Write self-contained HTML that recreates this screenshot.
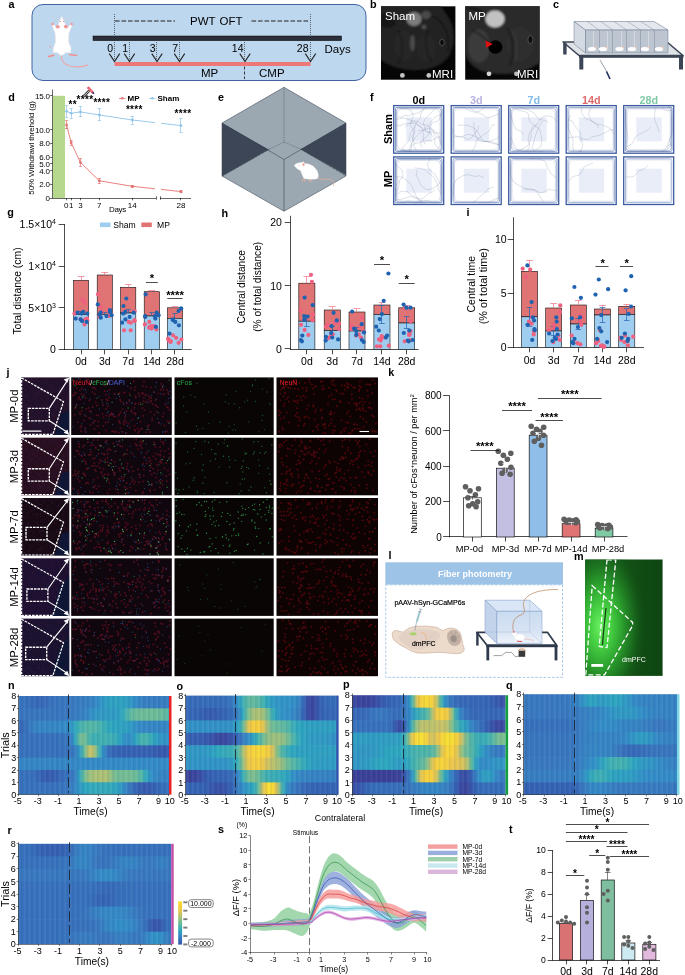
<!DOCTYPE html>
<html lang="en"><head><meta charset="utf-8"><title>Figure</title>
<style>
html,body{margin:0;padding:0;background:#fff;}
body{width:685px;height:975px;overflow:hidden;}
svg{display:block;font-family:"Liberation Sans",sans-serif;}
</style></head><body>
<svg width="685" height="975" viewBox="0 0 685 975">
<rect width="685" height="975" fill="#fff"/>
<g id="p_abc">
<text x="8.5" y="8.4" font-size="10.8" font-weight="bold">a</text>
<rect x="32" y="4.5" width="334" height="76" rx="11" ry="11" fill="#bdd7ee" stroke="#2f5597" stroke-width="0.9"/>
<rect x="93" y="36" width="248.5" height="4.6" fill="#2b2f3a" stroke="#000" stroke-width="0.5"/>
<rect x="114.5" y="62" width="196" height="4" fill="#ee7777"/>
<line x1="114.5" y1="14" x2="114.5" y2="60" stroke="#333" stroke-width="0.7" stroke-dasharray="1 1"/>
<path d="M109.3 53.6L114.5 61.6L119.7 53.6" fill="none" stroke="#222" stroke-width="1.1"/>
<line x1="129.5" y1="42" x2="129.5" y2="60" stroke="#333" stroke-width="0.7" stroke-dasharray="1 1"/>
<path d="M124.3 53.6L129.5 61.6L134.7 53.6" fill="none" stroke="#222" stroke-width="1.1"/>
<line x1="156.5" y1="42" x2="156.5" y2="60" stroke="#333" stroke-width="0.7" stroke-dasharray="1 1"/>
<path d="M151.8 53.6L157 61.6L162.2 53.6" fill="none" stroke="#222" stroke-width="1.1"/>
<line x1="179.5" y1="42" x2="179.5" y2="60" stroke="#333" stroke-width="0.7" stroke-dasharray="1 1"/>
<path d="M174.3 53.6L179.5 61.6L184.7 53.6" fill="none" stroke="#222" stroke-width="1.1"/>
<line x1="244.5" y1="42" x2="244.5" y2="60" stroke="#333" stroke-width="0.7" stroke-dasharray="1 1"/>
<path d="M239.8 53.6L245 61.6L250.2 53.6" fill="none" stroke="#222" stroke-width="1.1"/>
<line x1="310.5" y1="14" x2="310.5" y2="60" stroke="#333" stroke-width="0.7" stroke-dasharray="1 1"/>
<path d="M305.3 53.6L310.5 61.6L315.7 53.6" fill="none" stroke="#222" stroke-width="1.1"/>
<line x1="115" y1="21" x2="175" y2="21" stroke="#222" stroke-width="1.2" stroke-dasharray="4.6 1.9"/>
<line x1="251.5" y1="21" x2="310" y2="21" stroke="#222" stroke-width="1.2" stroke-dasharray="4.6 1.9"/>
<text x="190" y="25" font-size="11.5" word-spacing="1">PWT OFT</text>
<text x="113" y="52" font-size="10.5" text-anchor="end">0</text>
<text x="128" y="52" font-size="10.5" text-anchor="end">1</text>
<text x="155.5" y="52" font-size="10.5" text-anchor="end">3</text>
<text x="178" y="52" font-size="10.5" text-anchor="end">7</text>
<text x="243.5" y="52" font-size="10.5" text-anchor="end">14</text>
<text x="308.5" y="52" font-size="10.5" text-anchor="end">28</text>
<text x="324.5" y="53" font-size="11.5">Days</text>
<text x="201" y="77" font-size="11.5">MP</text>
<text x="259" y="77" font-size="11.5">CMP</text>
<line x1="244.5" y1="66.5" x2="244.5" y2="79" stroke="#222" stroke-width="0.9" stroke-dasharray="3 2"/>
<g>
<path d="M61.5 55.5C61 60 63.5 64.5 70 66C76 67.2 82 67.5 87.5 65" fill="none" stroke="#f0a3a3" stroke-width="1.1" stroke-linecap="round"/>
<path d="M54 55.2L48.5 56.6M69.6 54.6L76.6 55.6" stroke="#f08f8f" stroke-width="1.5" stroke-linecap="round"/>
<path d="M49 45l2 3" stroke="#f0a3a3" stroke-width="0.8"/>
<path d="M61.7 16.2L58.3 24.5L56.8 28.5L53.8 24.5L52.2 25.5L55.2 33.5L55.6 42L53.4 48L53.2 52.5L57 52.5L61.5 55.8L66 52.5L70.8 52.5L71 48L68.6 42L68.8 33.5L72 25.5L70.4 24.5L67 28.5L65.4 24.5Z" fill="#fff" stroke="#f1e4e4" stroke-width="0.5" stroke-linejoin="round"/>
<ellipse cx="57.8" cy="26.8" rx="2" ry="1.8" fill="#f09a9a"/><ellipse cx="65.8" cy="26.6" rx="2" ry="1.8" fill="#f09a9a"/>
<circle cx="52.6" cy="24" r="1.3" fill="#f09a9a"/><circle cx="71.6" cy="24" r="1.3" fill="#f09a9a"/>
<circle cx="60.4" cy="21.6" r="0.5" fill="#e06060"/><circle cx="63.6" cy="21.6" r="0.5" fill="#e06060"/>
<path d="M52 17.5l8 2M53 20.5l7-.5M71 17.5l-8 2M71 20.5l-7-.5" stroke="#d9cfd6" stroke-width="0.3" fill="none"/>
</g>
<text x="370" y="8.3" font-size="10.8" font-weight="bold">b</text>
<defs><filter id="bl1" x="-20%" y="-20%" width="140%" height="140%"><feGaussianBlur stdDeviation="1.2"/></filter><filter id="bl2" x="-20%" y="-20%" width="140%" height="140%"><feGaussianBlur stdDeviation="0.6"/></filter><clipPath id="cb1"><rect x="381" y="6.3" width="74.4" height="73.4"/></clipPath><clipPath id="cb2"><rect x="465.2" y="6.3" width="74.4" height="73.4"/></clipPath></defs>
<rect x="381" y="6.3" width="74.4" height="73.4" fill="#060606"/>
<g clip-path="url(#cb1)"><g filter="url(#bl1)">
<path d="M378 4L378 58C388 67 404 71 420 70C434 69 446 64 451 52C456 40 455 26 447 15C444 10 441 6 438 2Z" fill="#212121"/>
<path d="M381 14C388 12 394 16 396 24C392 28 384 28 381 26Z" fill="#141414"/>
<ellipse cx="404" cy="46" rx="10" ry="15" fill="#272727"/>
<ellipse cx="426" cy="48" rx="10" ry="14" fill="#252525"/>
<ellipse cx="414" cy="19" rx="7.5" ry="7" fill="#7c7c7c"/>
<ellipse cx="426" cy="15" rx="5" ry="4" fill="#4a4a4a"/>
<ellipse cx="412.5" cy="43" rx="2.2" ry="8" fill="#4e4e4e"/>
<ellipse cx="424" cy="27" rx="2.4" ry="2" fill="#555"/>
<path d="M432 16C444 20 450 34 448 52" fill="none" stroke="#161616" stroke-width="1.4"/>
<path d="M398 30C404 40 404 54 398 64M428 30C424 42 426 54 432 62" fill="none" stroke="#181818" stroke-width="1.2"/>
</g>
<ellipse cx="442" cy="42.5" rx="2.3" ry="3.4" fill="#0c0c0c" stroke="#4c4c4c" stroke-width="1" filter="url(#bl2)"/>
<circle cx="402.4" cy="75.4" r="2.4" fill="#c4c4c4"/><circle cx="428.8" cy="75.4" r="2.4" fill="#c4c4c4"/>
</g>
<text x="385" y="20" font-size="11.5" fill="#fff">Sham</text>
<text x="432" y="77.5" font-size="11.5" fill="#fff">MRI</text>
<rect x="465.2" y="6.3" width="74.4" height="73.4" fill="#060606"/>
<g clip-path="url(#cb2)"><g filter="url(#bl1)">
<path d="M462 2L543 2L543 60C532 70 516 75 500 74C488 74 478 71 472 65C467 60 464 54 462 46Z" fill="#292929"/>
<ellipse cx="479" cy="46" rx="11" ry="17" fill="#3a3a3a"/>
<ellipse cx="520" cy="44" rx="14" ry="18" fill="#2d2d2d"/>
<ellipse cx="495" cy="19" rx="9.6" ry="8.4" fill="#c2c2c2"/>
<path d="M506 28C514 34 514 54 510 66" fill="none" stroke="#141414" stroke-width="1.5"/>
<path d="M511 30C518 38 518 52 515 62" fill="none" stroke="#444" stroke-width="0.8"/>
<path d="M472 30C480 34 487 38 489 44" fill="none" stroke="#161616" stroke-width="1.3"/>
<path d="M466 8C474 8 482 10 486 16" fill="none" stroke="#151515" stroke-width="2"/>
</g>
<ellipse cx="495.4" cy="47" rx="7" ry="6.8" fill="#020202" filter="url(#bl2)"/>
<ellipse cx="530.4" cy="39.6" rx="2.6" ry="4" fill="#101010" stroke="#505050" stroke-width="1" filter="url(#bl2)"/>
<circle cx="489" cy="73.8" r="2.4" fill="#d4d4d4"/><circle cx="516.4" cy="73.8" r="2.4" fill="#bdbdbd"/>
<path d="M485.3 40.6L492.8 44L486.4 47.8Z" fill="#e01010"/>
</g>
<text x="468.5" y="20" font-size="11.5" fill="#fff">MP</text>
<text x="517" y="77.5" font-size="11.5" fill="#fff">MRI</text>
<text x="553" y="8.2" font-size="10.8" font-weight="bold">c</text>
<path d="M563 42L667 42L683 55.5L579 55.5Z" fill="#dfe3e8" stroke="#3b4556" stroke-width="1.6" stroke-linejoin="round"/>
<rect x="579" y="55" width="104.5" height="2.8" fill="#3b4556"/>
<rect x="579.3" y="57" width="4" height="12.5" fill="#3b4556"/>
<rect x="679" y="57" width="4" height="12.5" fill="#3b4556"/>
<rect x="563.2" y="43" width="3.4" height="11.5" fill="#3b4556"/>
<path d="M574 21.5L654 21.5L668 30L668 53L585.5 53L574 44Z" fill="#c4ccd6" opacity="0.92"/>
<path d="M574 21.5L654 21.5L668 30L585.5 30Z" fill="#e4e8ee" stroke="#6b7890" stroke-width="0.5"/>
<path d="M574 21.5L585.5 30L585.5 53L574 44Z" fill="#d4dae2" stroke="#6b7890" stroke-width="0.5"/>
<path d="M585.5 30H668V53H585.5Z" fill="#bcc5d0" stroke="#6b7890" stroke-width="0.5"/>
<line x1="599.5" y1="30" x2="599.5" y2="53" stroke="#7c879b" stroke-width="0.5"/>
<line x1="587.3" y1="21.5" x2="599.2" y2="30" stroke="#7c879b" stroke-width="0.45"/>
<line x1="593.5" y1="31" x2="593.5" y2="49" stroke="#d5dbe3" stroke-width="0.9"/>
<line x1="612.5" y1="30" x2="612.5" y2="53" stroke="#7c879b" stroke-width="0.5"/>
<line x1="600.7" y1="21.5" x2="613.0" y2="30" stroke="#7c879b" stroke-width="0.45"/>
<line x1="607.5" y1="31" x2="607.5" y2="49" stroke="#d5dbe3" stroke-width="0.9"/>
<line x1="626.5" y1="30" x2="626.5" y2="53" stroke="#7c879b" stroke-width="0.5"/>
<line x1="614.0" y1="21.5" x2="626.8" y2="30" stroke="#7c879b" stroke-width="0.45"/>
<line x1="621.5" y1="31" x2="621.5" y2="49" stroke="#d5dbe3" stroke-width="0.9"/>
<line x1="640.5" y1="30" x2="640.5" y2="53" stroke="#7c879b" stroke-width="0.5"/>
<line x1="627.3" y1="21.5" x2="640.5" y2="30" stroke="#7c879b" stroke-width="0.45"/>
<line x1="634.5" y1="31" x2="634.5" y2="49" stroke="#d5dbe3" stroke-width="0.9"/>
<line x1="654.5" y1="30" x2="654.5" y2="53" stroke="#7c879b" stroke-width="0.5"/>
<line x1="640.7" y1="21.5" x2="654.2" y2="30" stroke="#7c879b" stroke-width="0.45"/>
<line x1="648.5" y1="31" x2="648.5" y2="49" stroke="#d5dbe3" stroke-width="0.9"/>
<ellipse cx="592" cy="49" rx="4.2" ry="2.1" fill="#fff"/><circle cx="595.4" cy="47.6" r="1" fill="#f6c9b8"/>
<ellipse cx="603" cy="49" rx="4.2" ry="2.1" fill="#fff"/><circle cx="606.4" cy="47.6" r="1" fill="#f6c9b8"/>
<ellipse cx="619.5" cy="49" rx="4.2" ry="2.1" fill="#fff"/><circle cx="622.9" cy="47.6" r="1" fill="#f6c9b8"/>
<ellipse cx="632" cy="49" rx="4.2" ry="2.1" fill="#fff"/><circle cx="635.4" cy="47.6" r="1" fill="#f6c9b8"/>
<ellipse cx="645" cy="49" rx="4.2" ry="2.1" fill="#fff"/><circle cx="648.4" cy="47.6" r="1" fill="#f6c9b8"/>
<ellipse cx="659" cy="49" rx="4.2" ry="2.1" fill="#fff"/><circle cx="662.4" cy="47.6" r="1" fill="#f6c9b8"/>
<line x1="600" y1="60" x2="607" y2="72" stroke="#5a6478" stroke-width="0.6"/>
<line x1="606.5" y1="71.5" x2="610" y2="79" stroke="#1f2d5a" stroke-width="1.6"/>
</g>
<g id="p_def">
<text x="8.2" y="101" font-size="10.8" font-weight="bold">d</text>
<rect x="53" y="95.8" width="12" height="102.2" fill="#b5d88c"/>
<line x1="52.5" y1="89.5" x2="52.5" y2="198.3" stroke="#000" stroke-width="0.6"/>
<line x1="52.3" y1="198.5" x2="156" y2="198.5" stroke="#000" stroke-width="0.6"/>
<line x1="160" y1="198.5" x2="191" y2="198.5" stroke="#000" stroke-width="0.6"/>
<line x1="156.5" y1="196.3" x2="156.5" y2="199.7" stroke="#000" stroke-width="0.6"/>
<line x1="160.5" y1="196.3" x2="160.5" y2="199.7" stroke="#000" stroke-width="0.6"/>
<line x1="50.2" y1="95.5" x2="52.5" y2="95.5" stroke="#000" stroke-width="0.6"/>
<text x="49.8" y="98.7" font-size="8" text-anchor="end" letter-spacing="-0.2">15.0</text>
<line x1="50.2" y1="129.5" x2="52.5" y2="129.5" stroke="#000" stroke-width="0.6"/>
<text x="49.8" y="132.8" font-size="8" text-anchor="end" letter-spacing="-0.2">10.0</text>
<line x1="50.2" y1="143.5" x2="52.5" y2="143.5" stroke="#000" stroke-width="0.6"/>
<text x="49.8" y="146.4" font-size="8" text-anchor="end" letter-spacing="-0.2">8.0</text>
<line x1="50.2" y1="157.5" x2="52.5" y2="157.5" stroke="#000" stroke-width="0.6"/>
<text x="49.8" y="160.0" font-size="8" text-anchor="end" letter-spacing="-0.2">6.0</text>
<line x1="50.2" y1="163.5" x2="52.5" y2="163.5" stroke="#000" stroke-width="0.6"/>
<text x="49.8" y="166.8" font-size="8" text-anchor="end" letter-spacing="-0.2">5.0</text>
<line x1="50.2" y1="170.5" x2="52.5" y2="170.5" stroke="#000" stroke-width="0.6"/>
<text x="49.8" y="173.6" font-size="8" text-anchor="end" letter-spacing="-0.2">4.0</text>
<line x1="50.2" y1="184.5" x2="52.5" y2="184.5" stroke="#000" stroke-width="0.6"/>
<text x="49.8" y="187.3" font-size="8" text-anchor="end" letter-spacing="-0.2">2.0</text>
<line x1="50.2" y1="198.5" x2="52.5" y2="198.5" stroke="#000" stroke-width="0.6"/>
<text x="49.8" y="200.9" font-size="8" text-anchor="end" letter-spacing="-0.2">0</text>
<line x1="66.5" y1="198" x2="66.5" y2="200.3" stroke="#000" stroke-width="0.6"/>
<line x1="71.5" y1="198" x2="71.5" y2="200.3" stroke="#000" stroke-width="0.6"/>
<line x1="80.5" y1="198" x2="80.5" y2="200.3" stroke="#000" stroke-width="0.6"/>
<line x1="99.5" y1="198" x2="99.5" y2="200.3" stroke="#000" stroke-width="0.6"/>
<line x1="132.5" y1="198" x2="132.5" y2="200.3" stroke="#000" stroke-width="0.6"/>
<line x1="180.5" y1="198" x2="180.5" y2="200.3" stroke="#000" stroke-width="0.6"/>
<text x="66.2" y="207.6" font-size="8" text-anchor="middle">0</text>
<text x="71.2" y="207.6" font-size="8" text-anchor="middle">1</text>
<text x="80.4" y="207.6" font-size="8" text-anchor="middle">3</text>
<text x="99.3" y="207.6" font-size="8" text-anchor="middle">7</text>
<text x="132.3" y="207.6" font-size="8" text-anchor="middle">14</text>
<text x="181" y="207.6" font-size="8" text-anchor="middle">28</text>
<text x="117.5" y="211.5" font-size="8" text-anchor="middle" letter-spacing="-0.3">Days</text>
<text x="33.6" y="148" font-size="8" text-anchor="middle" transform="rotate(-90 33.6 148)" letter-spacing="-0.12">50% Withdrawl threhold (g)</text>
<path d="M66.6 111.3L71.2 113.3L80.4 111.9L99.3 115L132.3 120L155 122.6M161 123.3L181 125.6" fill="none" stroke="#8ec4ea" stroke-width="0.9"/>
<line x1="66.5" y1="105.3" x2="66.5" y2="117.3" stroke="#8ec4ea" stroke-width="0.7"/>
<line x1="65.0" y1="105.5" x2="68.19999999999999" y2="105.5" stroke="#8ec4ea" stroke-width="0.7"/>
<line x1="65.0" y1="117.5" x2="68.19999999999999" y2="117.5" stroke="#8ec4ea" stroke-width="0.7"/>
<circle cx="66.6" cy="111.3" r="1.4" fill="#8ec4ea"/>
<line x1="71.5" y1="108.3" x2="71.5" y2="118.3" stroke="#8ec4ea" stroke-width="0.7"/>
<line x1="69.60000000000001" y1="108.5" x2="72.8" y2="108.5" stroke="#8ec4ea" stroke-width="0.7"/>
<line x1="69.60000000000001" y1="118.5" x2="72.8" y2="118.5" stroke="#8ec4ea" stroke-width="0.7"/>
<circle cx="71.2" cy="113.3" r="1.4" fill="#8ec4ea"/>
<line x1="80.5" y1="106.9" x2="80.5" y2="116.9" stroke="#8ec4ea" stroke-width="0.7"/>
<line x1="78.80000000000001" y1="106.5" x2="82.0" y2="106.5" stroke="#8ec4ea" stroke-width="0.7"/>
<line x1="78.80000000000001" y1="116.5" x2="82.0" y2="116.5" stroke="#8ec4ea" stroke-width="0.7"/>
<circle cx="80.4" cy="111.9" r="1.4" fill="#8ec4ea"/>
<line x1="99.5" y1="109" x2="99.5" y2="121" stroke="#8ec4ea" stroke-width="0.7"/>
<line x1="97.7" y1="108.5" x2="100.89999999999999" y2="108.5" stroke="#8ec4ea" stroke-width="0.7"/>
<line x1="97.7" y1="120.5" x2="100.89999999999999" y2="120.5" stroke="#8ec4ea" stroke-width="0.7"/>
<circle cx="99.3" cy="115" r="1.4" fill="#8ec4ea"/>
<line x1="132.5" y1="116" x2="132.5" y2="124" stroke="#8ec4ea" stroke-width="0.7"/>
<line x1="130.70000000000002" y1="116.5" x2="133.9" y2="116.5" stroke="#8ec4ea" stroke-width="0.7"/>
<line x1="130.70000000000002" y1="124.5" x2="133.9" y2="124.5" stroke="#8ec4ea" stroke-width="0.7"/>
<circle cx="132.3" cy="120" r="1.4" fill="#8ec4ea"/>
<line x1="180.5" y1="118.6" x2="180.5" y2="132.6" stroke="#8ec4ea" stroke-width="0.7"/>
<line x1="179.4" y1="118.5" x2="182.6" y2="118.5" stroke="#8ec4ea" stroke-width="0.7"/>
<line x1="179.4" y1="132.5" x2="182.6" y2="132.5" stroke="#8ec4ea" stroke-width="0.7"/>
<circle cx="181" cy="125.6" r="1.4" fill="#8ec4ea"/>
<path d="M66.6 125L71.2 142.8L80.4 162.4L99.3 180.8L132.3 186.3L155 188.8M161 189.4L181 191.6" fill="none" stroke="#e57373" stroke-width="0.9"/>
<line x1="66.5" y1="121" x2="66.5" y2="129" stroke="#e57373" stroke-width="0.7"/>
<line x1="65.0" y1="120.5" x2="68.19999999999999" y2="120.5" stroke="#e57373" stroke-width="0.7"/>
<line x1="65.0" y1="128.5" x2="68.19999999999999" y2="128.5" stroke="#e57373" stroke-width="0.7"/>
<circle cx="66.6" cy="125" r="1.4" fill="#e57373"/>
<line x1="71.5" y1="140.4" x2="71.5" y2="145.2" stroke="#e57373" stroke-width="0.7"/>
<line x1="69.60000000000001" y1="140.5" x2="72.8" y2="140.5" stroke="#e57373" stroke-width="0.7"/>
<line x1="69.60000000000001" y1="145.5" x2="72.8" y2="145.5" stroke="#e57373" stroke-width="0.7"/>
<circle cx="71.2" cy="142.8" r="1.4" fill="#e57373"/>
<line x1="80.5" y1="158.4" x2="80.5" y2="166.4" stroke="#e57373" stroke-width="0.7"/>
<line x1="78.80000000000001" y1="158.5" x2="82.0" y2="158.5" stroke="#e57373" stroke-width="0.7"/>
<line x1="78.80000000000001" y1="166.5" x2="82.0" y2="166.5" stroke="#e57373" stroke-width="0.7"/>
<circle cx="80.4" cy="162.4" r="1.4" fill="#e57373"/>
<line x1="99.5" y1="178.2" x2="99.5" y2="183.4" stroke="#e57373" stroke-width="0.7"/>
<line x1="97.7" y1="178.5" x2="100.89999999999999" y2="178.5" stroke="#e57373" stroke-width="0.7"/>
<line x1="97.7" y1="183.5" x2="100.89999999999999" y2="183.5" stroke="#e57373" stroke-width="0.7"/>
<circle cx="99.3" cy="180.8" r="1.4" fill="#e57373"/>
<line x1="132.5" y1="185.1" x2="132.5" y2="187.5" stroke="#e57373" stroke-width="0.7"/>
<line x1="130.70000000000002" y1="185.5" x2="133.9" y2="185.5" stroke="#e57373" stroke-width="0.7"/>
<line x1="130.70000000000002" y1="187.5" x2="133.9" y2="187.5" stroke="#e57373" stroke-width="0.7"/>
<circle cx="132.3" cy="186.3" r="1.4" fill="#e57373"/>
<line x1="180.5" y1="190.6" x2="180.5" y2="192.6" stroke="#e57373" stroke-width="0.7"/>
<line x1="179.4" y1="190.5" x2="182.6" y2="190.5" stroke="#e57373" stroke-width="0.7"/>
<line x1="179.4" y1="192.5" x2="182.6" y2="192.5" stroke="#e57373" stroke-width="0.7"/>
<circle cx="181" cy="191.6" r="1.4" fill="#e57373"/>
<line x1="119" y1="98.5" x2="125.5" y2="98.5" stroke="#e57373" stroke-width="0.8"/>
<circle cx="122.3" cy="98.2" r="1.2" fill="#e57373"/>
<text x="127.5" y="101" font-size="8" font-weight="bold">MP</text>
<line x1="149" y1="98.5" x2="155.5" y2="98.5" stroke="#8ec4ea" stroke-width="0.8"/>
<circle cx="152.3" cy="98.2" r="1.2" fill="#8ec4ea"/>
<text x="157.5" y="101" font-size="8" font-weight="bold">Sham</text>
<text x="72.8" y="107.5" font-size="10" text-anchor="middle" font-weight="bold" letter-spacing="0.3">**</text>
<text x="85" y="103" font-size="10" text-anchor="middle" font-weight="bold" letter-spacing="0.3">****</text>
<text x="101.8" y="105.5" font-size="10" text-anchor="middle" font-weight="bold" letter-spacing="0.3">****</text>
<text x="134.3" y="113" font-size="10" text-anchor="middle" font-weight="bold" letter-spacing="0.3">****</text>
<text x="183" y="116.5" font-size="10" text-anchor="middle" font-weight="bold" letter-spacing="0.3">****</text>
<path d="M83.4 96.6L89.2 90.6" stroke="#222" stroke-width="2.4"/><path d="M83.6 96.4L89 90.8" stroke="#fff" stroke-width="1.2" stroke-dasharray="0.7 0.6"/>
<path d="M88.4 87.9L92.6 92.4" stroke="#e2606a" stroke-width="2.6" stroke-linecap="round"/>
<path d="M88.6 88.1L92.4 92.2" stroke="#f4b0b4" stroke-width="0.9" stroke-dasharray="0.6 0.6"/>
<path d="M92.6 92.2L94 93.8" stroke="#1f2d6a" stroke-width="1.3"/>
<text x="218" y="101" font-size="10.8" font-weight="bold">e</text>
<path d="M284 87.3L346 123L346 176L284 211.3L222 176L222 123Z" fill="#9ba8b2" stroke="#2e3644" stroke-width="0.5" stroke-linejoin="round"/>
<path d="M222 123L268.6 149.6L222 176Z" fill="#3d4656"/>
<path d="M346 123L300.7 149.2L346 175Z" fill="#3d4656"/>
<path d="M222 123L284 159.5L346 123M284 159.5L284 211" fill="none" stroke="#2e3644" stroke-width="0.5"/>
<path d="M284 87.5L284 142L268.6 149.6L222 176M284 142L300.7 149.2L346 176" fill="none" stroke="#2e3644" stroke-width="0.5" stroke-dasharray="0.8 0.8"/>
<path d="M317.4 177.8C322 180.8 328 178.2 332.8 180.2C334 181.6 333.6 184 333.4 186" fill="none" stroke="#e8b09a" stroke-width="0.7"/>
<path d="M303.6 178.4l-1.6 2.7M305.2 178.8l-1 2.6M311 179.2l-2.2 1.8l3.2 0" stroke="#e8ae98" stroke-width="0.9" stroke-linecap="round" fill="none"/>
<path d="M294.3 165.4C295.5 163.2 299.5 162.4 302 162.6L303.2 161.4L304.6 163.4C310 163.2 316.4 167 317.8 172.6C318.8 176 318.6 178.6 316 179C312 179.6 307 179.4 304 178.6C302.4 176 301.6 173 300.4 170.6C298 169.4 295.4 167.6 294.3 165.4Z" fill="#fff" stroke="#ebe4e4" stroke-width="0.35"/>
<ellipse cx="303.5" cy="164.6" rx="1.2" ry="1.7" fill="#eeb0a0"/><circle cx="299" cy="165.2" r="0.42" fill="#d04848"/>
<path d="M300.7 149.2L346 175.6M268.6 149.8L222 176.4" stroke="#222" stroke-width="0.5" stroke-dasharray="0.8 0.9" fill="none"/>
<text x="370" y="101" font-size="10.8" font-weight="bold">f</text>
<text x="418.7" y="103.8" font-size="10.8" text-anchor="middle" font-weight="bold">0d</text>
<text x="476.2" y="103.8" font-size="10.8" text-anchor="middle" font-weight="bold" fill="#b7b2e2">3d</text>
<text x="533.7" y="103.8" font-size="10.8" text-anchor="middle" font-weight="bold" fill="#84b9e8">7d</text>
<text x="591.2" y="103.8" font-size="10.8" text-anchor="middle" font-weight="bold" fill="#e06a6a">14d</text>
<text x="648.7" y="103.8" font-size="10.8" text-anchor="middle" font-weight="bold" fill="#7fc9a4">28d</text>
<text x="391.5" y="129" font-size="11" text-anchor="middle" font-weight="bold" transform="rotate(-90 391.5 129)">Sham</text>
<text x="391.5" y="179" font-size="11" text-anchor="middle" font-weight="bold" transform="rotate(-90 391.5 179)">MP</text>
<rect x="393.7" y="105.6" width="50" height="47.6" fill="#fff" stroke="#3b5aa0" stroke-width="1.3"/>
<rect x="406.3" y="117.4" width="25.4" height="24" fill="#e9edf8"/>
<rect x="395.4" y="107.3" width="46.6" height="44.2" rx="1.5" fill="none" stroke="#3f5ea4" stroke-width="0.65" opacity="1.0"/>
<rect x="396.3" y="108.2" width="44.9" height="42.5" rx="3.1" fill="none" stroke="#3f5ea4" stroke-width="0.65" opacity="0.68"/>
<rect x="397.2" y="109.1" width="42.9" height="40.5" rx="4.7" fill="none" stroke="#3f5ea4" stroke-width="0.65" opacity="0.36"/>
<path d="M416.5 151.2L413.9 145.6L414.0 142.2L413.0 138.8L414.4 132.5L410.4 125.7L411.8 119.5L413.3 116.1L411.3 110.8L407.8 108.9L404.7 108.7L399.5 108.5M441.7 135.5L435.9 138.0L431.0 141.0L427.7 140.5L421.1 142.3L418.0 143.0L414.5 143.5L411.3 146.6L410.9 149.6L409.3 151.4L406.4 151.4M440.8 151.2L435.1 151.4L431.7 151.4L431.4 151.4L429.0 151.4L426.3 151.4L421.7 151.4L417.9 151.4L410.2 151.4L405.2 150.5L400.2 150.5M441.7 145.3L438.6 138.5L434.8 135.4L432.8 129.5L426.3 124.9L422.1 124.3L418.2 121.7L415.0 120.8L409.5 123.1L405.3 127.4M424.3 107.6L420.6 113.9L420.5 117.7L416.1 123.2L415.0 127.0L410.3 133.1L409.0 140.8L404.8 145.0L402.6 147.8L403.3 151.4L406.4 151.4L411.9 151.4M409.2 151.2L410.3 145.9L413.0 140.5L412.1 136.5L414.9 130.4L413.7 125.5M441.7 115.3L438.2 115.4L433.9 118.4L429.7 123.5L424.5 129.3L418.7 134.2L415.2 137.4L413.6 140.2L411.4 142.8L411.5 147.3M441.7 110.9L439.8 118.3L437.7 121.3L433.1 122.2L429.6 126.3L429.4 133.6L427.3 135.9L425.2 138.2L421.1 140.9L420.4 144.1L421.9 147.4M436.2 107.6L432.4 111.3L428.6 115.6L424.8 119.7L423.3 122.8L425.7 130.2L431.3 134.3L434.6 138.5L434.8 143.4L438.3 148.3L441.9 151.4M426.1 107.6L422.8 110.3L416.6 113.5L412.6 113.8L409.0 115.9L405.0 115.3L400.7 117.3L397.6 116.7M395.7 119.7L403.1 117.8L407.8 119.2L413.9 121.2L419.5 125.7L422.5 129.2L423.3 133.5L423.3 139.9L425.0 144.4M395.7 125.3L399.8 125.9L402.8 124.5L407.9 123.4L414.2 123.3L421.1 126.9L423.9 129.7L426.8 132.3L432.2 132.0L435.9 133.2L440.6 132.8L441.9 134.2M441.7 142.1L438.3 135.5L435.1 131.3L428.3 128.2L422.9 130.3L417.4 130.9" fill="none" stroke="#5a6a94" stroke-width="0.28" stroke-linejoin="round" opacity="0.75"/>
<rect x="451.2" y="105.6" width="50" height="47.6" fill="#fff" stroke="#3b5aa0" stroke-width="1.3"/>
<rect x="463.8" y="117.4" width="25.4" height="24" fill="#e9edf8"/>
<rect x="453.0" y="107.4" width="46.4" height="44.0" rx="1.5" fill="none" stroke="#3f5ea4" stroke-width="0.65" opacity="0.85"/>
<rect x="453.7" y="108.1" width="45.0" height="42.6" rx="3.1" fill="none" stroke="#3f5ea4" stroke-width="0.65" opacity="0.53"/>
<rect x="454.5" y="108.9" width="43.3" height="40.9" rx="4.7" fill="none" stroke="#3f5ea4" stroke-width="0.65" opacity="0.21"/>
<path d="M499.2 145.4L495.6 143.2L492.4 142.0L484.5 141.5L481.4 138.5L480.0 135.8L478.6 132.9L475.2 129.1L468.5 125.4L461.2 125.1L458.0 125.3M484.8 107.6L480.2 110.8L475.3 112.4L469.6 110.8L464.0 107.4L458.8 107.4L455.8 107.4L453.0 107.4L453.0 107.4L453.0 107.4M499.2 113.8L495.5 115.3L490.3 117.2L487.2 117.7L482.5 114.7L476.1 111.8L471.4 109.1L469.1 107.4M472.2 151.2L475.0 146.5L477.1 139.3L483.4 135.0L486.4 133.2L488.8 131.2L492.0 125.5L495.0 124.5M499.2 137.6L494.1 139.6L488.6 141.9L482.6 140.8L477.0 137.6L475.6 134.8L474.0 127.8L473.8 122.1M499.2 144.7L491.8 143.2L487.4 141.3L481.5 141.9L478.0 139.9L475.8 136.6L468.7 134.2L465.4 135.1L460.7 137.3L455.2 135.8L453.0 133.6L453.0 128.5M453.2 137.4L458.6 136.2L464.0 137.3L467.5 139.2L470.9 138.6L474.4 134.0L478.0 129.4L478.4 125.5" fill="none" stroke="#5a6a94" stroke-width="0.28" stroke-linejoin="round" opacity="0.75"/>
<rect x="508.7" y="105.6" width="50" height="47.6" fill="#fff" stroke="#3b5aa0" stroke-width="1.3"/>
<rect x="521.3" y="117.4" width="25.4" height="24" fill="#e9edf8"/>
<rect x="510.3" y="107.2" width="46.8" height="44.4" rx="1.5" fill="none" stroke="#3f5ea4" stroke-width="0.65" opacity="0.9"/>
<rect x="511.4" y="108.3" width="44.7" height="42.3" rx="3.1" fill="none" stroke="#3f5ea4" stroke-width="0.65" opacity="0.58"/>
<rect x="512.2" y="109.1" width="42.9" height="40.5" rx="4.7" fill="none" stroke="#3f5ea4" stroke-width="0.65" opacity="0.26"/>
<path d="M510.7 113.5L511.7 118.0L513.2 123.4L515.4 128.9L521.4 131.5L523.6 134.8M527.2 151.2L530.0 146.3L528.0 139.1L529.4 132.8L533.8 128.5L537.4 123.7L542.2 117.4L546.1 115.6L552.7 117.1L556.9 121.5M516.8 151.2L523.1 148.5L528.7 144.9L530.1 140.4L530.9 137.5L531.2 131.3L532.1 127.3L537.3 123.6M520.6 107.6L528.3 109.8L534.0 113.0L538.7 119.3L544.7 120.3L548.4 122.5M533.9 151.2L532.3 147.3L533.8 141.7L535.9 134.2L538.9 126.8L542.9 121.0M510.7 136.7L512.1 140.3L513.6 143.8L516.1 149.3L523.1 151.4L528.5 151.4L532.8 151.4L539.0 151.4L543.3 151.4M511.9 107.6L518.2 110.2L525.5 111.8L528.2 113.7L529.5 121.3L535.2 126.2L539.7 129.2L540.6 133.3L541.9 140.9L541.0 146.2L535.2 150.3" fill="none" stroke="#5a6a94" stroke-width="0.28" stroke-linejoin="round" opacity="0.75"/>
<rect x="566.2" y="105.6" width="50" height="47.6" fill="#fff" stroke="#3b5aa0" stroke-width="1.3"/>
<rect x="578.8" y="117.4" width="25.4" height="24" fill="#e9edf8"/>
<rect x="567.9" y="107.3" width="46.5" height="44.1" rx="1.5" fill="none" stroke="#3f5ea4" stroke-width="0.65" opacity="0.75"/>
<rect x="568.6" y="108.0" width="45.1" height="42.7" rx="3.1" fill="none" stroke="#3f5ea4" stroke-width="0.65" opacity="0.43"/>
<rect x="569.6" y="109.0" width="43.1" height="40.7" rx="4.7" fill="none" stroke="#3f5ea4" stroke-width="0.65" opacity="0.15"/>
<path d="M573.6 151.2L572.7 146.1L573.2 140.8L571.4 135.2L568.6 128.9L568.0 121.4L570.3 115.2M614.2 129.5L609.5 130.2L603.8 133.3L598.3 135.6L591.7 136.9L588.4 139.6L580.8 138.9L578.4 136.9L574.0 137.0L568.0 137.8M568.2 119.7L572.2 121.0L574.7 125.8L577.8 129.4L580.2 132.1L581.2 139.0L582.7 146.0L580.6 151.4L579.0 151.4L578.8 151.4L582.2 151.4M581.6 107.6L581.3 112.4L585.4 118.6L588.7 119.6L593.6 121.8L597.1 124.7L598.4 127.8M614.2 133.9L610.2 128.8L607.1 126.9L600.8 124.7L597.2 124.3L592.0 121.7L588.6 114.8L589.7 109.7L592.6 107.4" fill="none" stroke="#5a6a94" stroke-width="0.28" stroke-linejoin="round" opacity="0.75"/>
<rect x="623.7" y="105.6" width="50" height="47.6" fill="#fff" stroke="#3b5aa0" stroke-width="1.3"/>
<rect x="636.3" y="117.4" width="25.4" height="24" fill="#e9edf8"/>
<rect x="625.3" y="107.2" width="46.7" height="44.3" rx="1.5" fill="none" stroke="#3f5ea4" stroke-width="0.65" opacity="0.9"/>
<rect x="626.2" y="108.1" width="45.0" height="42.6" rx="3.1" fill="none" stroke="#3f5ea4" stroke-width="0.65" opacity="0.58"/>
<rect x="627.2" y="109.1" width="42.9" height="40.5" rx="4.7" fill="none" stroke="#3f5ea4" stroke-width="0.65" opacity="0.26"/>
<path d="M671.7 143.7L667.3 145.9L663.9 150.7L658.9 151.4L653.1 151.1L647.0 151.4L642.6 150.7L638.1 151.4L633.1 151.4L626.9 150.1L625.5 148.0M662.0 107.6L665.3 110.7L671.6 110.5L671.9 107.4L671.9 107.4L671.9 107.4L671.9 107.4L671.9 107.4L671.9 107.4L671.7 107.4L667.7 107.4M625.7 143.6L628.1 139.4L627.4 134.1L627.2 131.0L626.4 128.1L625.5 123.4L625.5 119.3L625.5 115.0L625.5 110.9L625.5 107.4L625.5 107.4L625.5 107.4M655.5 107.6L655.1 110.7L654.4 117.6L655.2 121.5L657.6 126.9L659.0 132.1M671.7 146.6L669.3 141.0L671.0 135.5L671.9 132.0L671.9 126.1L671.9 122.2L671.9 115.2L671.9 111.2L669.0 107.4L671.3 107.4L671.9 107.4L671.9 107.4M625.7 147.1L631.2 144.7L633.4 141.6L634.8 137.6L639.3 134.2L646.6 130.9L650.5 126.8M671.7 115.4L671.9 119.0L671.9 124.8L671.9 132.0L671.7 135.4L669.3 140.6L667.9 143.3L668.1 147.3L666.4 151.4L665.9 151.4L665.9 151.4L660.7 151.4" fill="none" stroke="#5a6a94" stroke-width="0.28" stroke-linejoin="round" opacity="0.75"/>
<rect x="393.7" y="156.9" width="50" height="47.6" fill="#fff" stroke="#3b5aa0" stroke-width="1.3"/>
<rect x="406.3" y="168.7" width="25.4" height="24" fill="#e9edf8"/>
<rect x="395.3" y="158.5" width="46.7" height="44.3" rx="1.5" fill="none" stroke="#3f5ea4" stroke-width="0.65" opacity="1.0"/>
<rect x="396.2" y="159.4" width="45.0" height="42.6" rx="3.1" fill="none" stroke="#3f5ea4" stroke-width="0.65" opacity="0.68"/>
<rect x="397.1" y="160.3" width="43.2" height="40.8" rx="4.7" fill="none" stroke="#3f5ea4" stroke-width="0.65" opacity="0.36"/>
<path d="M426.4 202.5L421.5 202.7L413.9 202.7L407.9 200.8L403.5 202.7L399.4 202.7L395.5 202.7M395.7 195.7L400.2 191.6L407.0 191.3L412.2 195.6L414.7 198.0L419.4 199.3L423.6 197.8L427.7 194.3L432.3 191.9L435.1 189.7M395.7 186.4L399.7 180.4L402.1 177.9L403.2 174.3L401.7 169.5L395.5 165.2L395.5 162.7M441.7 194.7L438.5 189.5L437.3 183.5L434.1 177.4L427.9 172.4L424.7 169.6L420.3 168.5L414.6 167.8M441.7 193.3L441.1 189.1L440.7 184.6L437.8 179.3L435.0 174.1L428.7 169.7L427.6 163.3L430.5 158.7L429.1 158.7L429.9 158.7M422.2 202.5L418.8 198.4L411.3 196.2L404.1 198.5L398.5 199.8L395.5 200.4L395.5 196.5L395.5 191.3L395.5 188.4L395.5 187.8L395.5 189.7L395.5 188.9M395.7 176.5L402.4 177.2L408.4 181.9L412.4 186.6L413.6 190.2L414.9 193.1L416.3 196.4L418.7 200.4L422.5 202.2L423.9 202.7L423.9 202.7M441.7 180.6L437.7 185.2L432.0 188.8L426.6 189.7L420.8 185.4L419.0 180.7L416.3 175.5L417.3 170.0M415.0 202.5L422.2 200.2L428.2 200.6L432.2 202.6L434.9 202.7L440.2 202.7L441.9 202.7L441.9 198.5M441.7 187.5L441.9 181.2L441.9 178.2L441.9 175.0L441.9 169.3L441.9 165.9M395.7 193.4L398.3 188.8L399.5 182.3L397.4 179.1L395.5 175.0L395.5 172.0L395.5 168.0L395.5 163.8L395.5 161.0L395.5 160.5" fill="none" stroke="#5a6a94" stroke-width="0.28" stroke-linejoin="round" opacity="0.75"/>
<rect x="451.2" y="156.9" width="50" height="47.6" fill="#fff" stroke="#3b5aa0" stroke-width="1.3"/>
<rect x="463.8" y="168.7" width="25.4" height="24" fill="#e9edf8"/>
<rect x="453.0" y="158.7" width="46.4" height="44.0" rx="1.5" fill="none" stroke="#3f5ea4" stroke-width="0.65" opacity="0.85"/>
<rect x="453.9" y="159.6" width="44.7" height="42.3" rx="3.1" fill="none" stroke="#3f5ea4" stroke-width="0.65" opacity="0.53"/>
<rect x="454.5" y="160.2" width="43.4" height="41.0" rx="4.7" fill="none" stroke="#3f5ea4" stroke-width="0.65" opacity="0.21"/>
<path d="M453.2 195.4L453.0 189.3L454.6 183.7L456.0 179.7L462.8 175.8L467.2 174.6L474.8 176.4L479.8 175.7L484.0 177.9M472.3 202.5L476.0 200.9L478.5 197.6L484.0 193.4L488.2 188.6L493.9 187.2M499.2 197.9L493.3 199.7L488.6 202.7L485.8 202.7L484.0 202.7L481.0 202.7L478.7 202.7" fill="none" stroke="#5a6a94" stroke-width="0.28" stroke-linejoin="round" opacity="0.75"/>
<rect x="508.7" y="156.9" width="50" height="47.6" fill="#fff" stroke="#3b5aa0" stroke-width="1.3"/>
<rect x="521.3" y="168.7" width="25.4" height="24" fill="#e9edf8"/>
<rect x="510.3" y="158.5" width="46.8" height="44.4" rx="1.5" fill="none" stroke="#3f5ea4" stroke-width="0.65" opacity="0.85"/>
<rect x="511.2" y="159.4" width="45.0" height="42.6" rx="3.1" fill="none" stroke="#3f5ea4" stroke-width="0.65" opacity="0.53"/>
<rect x="512.2" y="160.4" width="43.0" height="40.6" rx="4.7" fill="none" stroke="#3f5ea4" stroke-width="0.65" opacity="0.21"/>
<path d="M556.7 190.9L548.9 189.3L544.4 192.0L539.5 192.7L534.8 189.9L529.0 189.7L524.4 188.4L518.4 185.0L513.7 182.1L510.8 176.4L510.5 169.4L510.5 165.4M556.7 177.9L551.1 173.9L549.1 170.2L547.1 166.6L545.1 161.5L539.7 158.9L535.6 158.7L534.9 158.7L532.8 158.7L529.3 158.7M544.0 202.5L540.5 197.8L536.8 191.9L533.7 189.8L530.6 188.9L524.5 189.0" fill="none" stroke="#5a6a94" stroke-width="0.28" stroke-linejoin="round" opacity="0.75"/>
<rect x="566.2" y="156.9" width="50" height="47.6" fill="#fff" stroke="#3b5aa0" stroke-width="1.3"/>
<rect x="578.8" y="168.7" width="25.4" height="24" fill="#e9edf8"/>
<rect x="567.9" y="158.6" width="46.6" height="44.2" rx="1.5" fill="none" stroke="#3f5ea4" stroke-width="0.65" opacity="0.7"/>
<rect x="568.7" y="159.4" width="45.0" height="42.6" rx="3.1" fill="none" stroke="#3f5ea4" stroke-width="0.65" opacity="0.38"/>
<rect x="569.6" y="160.3" width="43.1" height="40.7" rx="4.7" fill="none" stroke="#3f5ea4" stroke-width="0.65" opacity="0.15"/>
<path d="M568.2 181.2L572.8 176.6L579.5 174.9L582.4 170.8L584.0 167.0L586.9 165.7L593.1 162.8" fill="none" stroke="#5a6a94" stroke-width="0.28" stroke-linejoin="round" opacity="0.75"/>
<rect x="623.7" y="156.9" width="50" height="47.6" fill="#fff" stroke="#3b5aa0" stroke-width="1.3"/>
<rect x="636.3" y="168.7" width="25.4" height="24" fill="#e9edf8"/>
<rect x="625.5" y="158.7" width="46.3" height="43.9" rx="1.5" fill="none" stroke="#3f5ea4" stroke-width="0.65" opacity="0.6"/>
<rect x="626.1" y="159.3" width="45.1" height="42.7" rx="3.1" fill="none" stroke="#3f5ea4" stroke-width="0.65" opacity="0.28"/>
<rect x="627.1" y="160.3" width="43.2" height="40.8" rx="4.7" fill="none" stroke="#3f5ea4" stroke-width="0.65" opacity="0.15"/>
<path d="M625.7 176.8L630.2 177.0L633.6 176.7L639.0 170.9L645.1 168.3L648.0 165.1" fill="none" stroke="#5a6a94" stroke-width="0.28" stroke-linejoin="round" opacity="0.75"/>
</g>
<g id="p_ghi">
<text x="7.3" y="216" font-size="10.8" font-weight="bold">g</text>
<line x1="64.5" y1="224" x2="64.5" y2="349.85" stroke="#000" stroke-width="0.7"/>
<line x1="64.15" y1="349.5" x2="191.5" y2="349.5" stroke="#000" stroke-width="0.7"/>
<line x1="58.7" y1="224.5" x2="64.5" y2="224.5" stroke="#000" stroke-width="0.7"/>
<text x="55.9" y="227.7" font-size="10.5" text-anchor="end">1.5×10<tspan font-size="7" dy="-4">4</tspan></text>
<line x1="58.7" y1="266.5" x2="64.5" y2="266.5" stroke="#000" stroke-width="0.7"/>
<text x="55.9" y="270.0" font-size="10.5" text-anchor="end">1×10<tspan font-size="7" dy="-4">4</tspan></text>
<line x1="58.7" y1="307.5" x2="64.5" y2="307.5" stroke="#000" stroke-width="0.7"/>
<text x="55.9" y="311.5" font-size="10.5" text-anchor="end">5×10<tspan font-size="7" dy="-4">3</tspan></text>
<line x1="58.7" y1="349.5" x2="64.5" y2="349.5" stroke="#000" stroke-width="0.7"/>
<text x="55.9" y="353.2" font-size="10.5" text-anchor="end">0</text>
<line x1="81.5" y1="349.5" x2="81.5" y2="354.3" stroke="#000" stroke-width="0.7"/>
<rect x="73.6" y="280.3" width="15.0" height="34.2" fill="#e07474" stroke="#111" stroke-width="0.6"/>
<rect x="73.6" y="314.5" width="15.0" height="35.0" fill="#9fcdf0" stroke="#111" stroke-width="0.6"/>
<line x1="104.5" y1="349.5" x2="104.5" y2="354.3" stroke="#000" stroke-width="0.7"/>
<rect x="97.2" y="275" width="15.2" height="39.5" fill="#e07474" stroke="#111" stroke-width="0.6"/>
<rect x="97.2" y="314.5" width="15.2" height="35.0" fill="#9fcdf0" stroke="#111" stroke-width="0.6"/>
<line x1="128.5" y1="349.5" x2="128.5" y2="354.3" stroke="#000" stroke-width="0.7"/>
<rect x="120.6" y="287.3" width="15.2" height="25.7" fill="#e07474" stroke="#111" stroke-width="0.6"/>
<rect x="120.6" y="313" width="15.2" height="36.5" fill="#9fcdf0" stroke="#111" stroke-width="0.6"/>
<line x1="151.5" y1="349.5" x2="151.5" y2="354.3" stroke="#000" stroke-width="0.7"/>
<rect x="144.2" y="291.7" width="15.4" height="24.3" fill="#e07474" stroke="#111" stroke-width="0.6"/>
<rect x="144.2" y="316" width="15.4" height="33.5" fill="#9fcdf0" stroke="#111" stroke-width="0.6"/>
<line x1="174.5" y1="349.5" x2="174.5" y2="354.3" stroke="#000" stroke-width="0.7"/>
<rect x="167.4" y="307.8" width="15.2" height="10.5" fill="#e07474" stroke="#111" stroke-width="0.6"/>
<rect x="167.4" y="318.3" width="15.2" height="31.2" fill="#9fcdf0" stroke="#111" stroke-width="0.6"/>
<line x1="81.5" y1="276.3" x2="81.5" y2="280.3" stroke="#f07086" stroke-width="0.7"/>
<line x1="77.7" y1="276.5" x2="84.5" y2="276.5" stroke="#f07086" stroke-width="0.7"/>
<line x1="81.5" y1="311.5" x2="81.5" y2="314.5" stroke="#1f62b0" stroke-width="0.7"/>
<line x1="78.5" y1="311.5" x2="83.7" y2="311.5" stroke="#1f62b0" stroke-width="0.7"/>
<line x1="104.5" y1="272" x2="104.5" y2="275" stroke="#f07086" stroke-width="0.7"/>
<line x1="101.4" y1="272.5" x2="108.2" y2="272.5" stroke="#f07086" stroke-width="0.7"/>
<line x1="104.5" y1="312.0" x2="104.5" y2="314.5" stroke="#1f62b0" stroke-width="0.7"/>
<line x1="102.2" y1="312.5" x2="107.4" y2="312.5" stroke="#1f62b0" stroke-width="0.7"/>
<line x1="128.5" y1="284.7" x2="128.5" y2="287.3" stroke="#f07086" stroke-width="0.7"/>
<line x1="124.8" y1="284.5" x2="131.6" y2="284.5" stroke="#f07086" stroke-width="0.7"/>
<line x1="128.5" y1="309.8" x2="128.5" y2="313" stroke="#1f62b0" stroke-width="0.7"/>
<line x1="125.6" y1="309.5" x2="130.8" y2="309.5" stroke="#1f62b0" stroke-width="0.7"/>
<line x1="151.5" y1="290.3" x2="151.5" y2="291.7" stroke="#f07086" stroke-width="0.7"/>
<line x1="148.5" y1="290.5" x2="155.3" y2="290.5" stroke="#f07086" stroke-width="0.7"/>
<line x1="151.5" y1="312.4" x2="151.5" y2="316" stroke="#1f62b0" stroke-width="0.7"/>
<line x1="149.3" y1="312.5" x2="154.5" y2="312.5" stroke="#1f62b0" stroke-width="0.7"/>
<line x1="174.5" y1="306.0" x2="174.5" y2="307.8" stroke="#f07086" stroke-width="0.7"/>
<line x1="171.6" y1="306.5" x2="178.4" y2="306.5" stroke="#f07086" stroke-width="0.7"/>
<line x1="174.5" y1="313.9" x2="174.5" y2="318.3" stroke="#1f62b0" stroke-width="0.7"/>
<line x1="172.4" y1="313.5" x2="177.6" y2="313.5" stroke="#1f62b0" stroke-width="0.7"/>
<circle cx="82.8" cy="299.3" r="2.1" fill="#f0607f"/>
<circle cx="84.5" cy="302.7" r="2.1" fill="#f0607f"/>
<circle cx="85.2" cy="319.4" r="2.1" fill="#f0607f"/>
<circle cx="87.3" cy="320.2" r="2.1" fill="#f0607f"/>
<circle cx="84.5" cy="324.4" r="2.1" fill="#f0607f"/>
<circle cx="87.0" cy="318.6" r="2.1" fill="#f0607f"/>
<circle cx="74.5" cy="313.6" r="2.1" fill="#f0607f"/>
<circle cx="80.6" cy="319.4" r="2.1" fill="#f0607f"/>
<circle cx="87.3" cy="313.6" r="2.1" fill="#1f62b0"/>
<circle cx="83.2" cy="311.9" r="2.1" fill="#1f62b0"/>
<circle cx="86.7" cy="321.9" r="2.1" fill="#1f62b0"/>
<circle cx="75.7" cy="318.6" r="2.1" fill="#1f62b0"/>
<circle cx="80.7" cy="319.4" r="2.1" fill="#1f62b0"/>
<circle cx="77.6" cy="312.7" r="2.1" fill="#1f62b0"/>
<circle cx="81.7" cy="313.6" r="2.1" fill="#1f62b0"/>
<circle cx="82.1" cy="321.1" r="2.1" fill="#1f62b0"/>
<circle cx="98.0" cy="294.3" r="2.1" fill="#f0607f"/>
<circle cx="100.8" cy="306.9" r="2.1" fill="#f0607f"/>
<circle cx="101.7" cy="311.9" r="2.1" fill="#f0607f"/>
<circle cx="110.6" cy="313.6" r="2.1" fill="#f0607f"/>
<circle cx="108.5" cy="309.4" r="2.1" fill="#f0607f"/>
<circle cx="100.0" cy="314.4" r="2.1" fill="#f0607f"/>
<circle cx="109.0" cy="316.1" r="2.1" fill="#f0607f"/>
<circle cx="99.7" cy="316.9" r="2.1" fill="#f0607f"/>
<circle cx="106.4" cy="316.1" r="2.1" fill="#1f62b0"/>
<circle cx="99.6" cy="314.4" r="2.1" fill="#1f62b0"/>
<circle cx="97.8" cy="304.4" r="2.1" fill="#1f62b0"/>
<circle cx="110.0" cy="310.2" r="2.1" fill="#1f62b0"/>
<circle cx="100.7" cy="312.7" r="2.1" fill="#1f62b0"/>
<circle cx="100.8" cy="317.7" r="2.1" fill="#1f62b0"/>
<circle cx="111.6" cy="315.2" r="2.1" fill="#1f62b0"/>
<circle cx="110.0" cy="311.9" r="2.1" fill="#1f62b0"/>
<circle cx="125.3" cy="312.7" r="2.1" fill="#f0607f"/>
<circle cx="134.7" cy="321.1" r="2.1" fill="#f0607f"/>
<circle cx="128.7" cy="321.9" r="2.1" fill="#f0607f"/>
<circle cx="130.7" cy="330.3" r="2.1" fill="#f0607f"/>
<circle cx="124.1" cy="330.3" r="2.1" fill="#f0607f"/>
<circle cx="134.4" cy="320.2" r="2.1" fill="#f0607f"/>
<circle cx="130.9" cy="322.7" r="2.1" fill="#f0607f"/>
<circle cx="134.7" cy="311.0" r="2.1" fill="#f0607f"/>
<circle cx="133.7" cy="312.7" r="2.1" fill="#1f62b0"/>
<circle cx="125.4" cy="319.4" r="2.1" fill="#1f62b0"/>
<circle cx="126.3" cy="298.5" r="2.1" fill="#1f62b0"/>
<circle cx="123.5" cy="306.0" r="2.1" fill="#1f62b0"/>
<circle cx="123.2" cy="313.6" r="2.1" fill="#1f62b0"/>
<circle cx="122.1" cy="322.7" r="2.1" fill="#1f62b0"/>
<circle cx="125.4" cy="311.9" r="2.1" fill="#1f62b0"/>
<circle cx="129.6" cy="316.9" r="2.1" fill="#1f62b0"/>
<circle cx="144.9" cy="324.4" r="2.1" fill="#f0607f"/>
<circle cx="154.4" cy="326.1" r="2.1" fill="#f0607f"/>
<circle cx="149.6" cy="326.9" r="2.1" fill="#f0607f"/>
<circle cx="149.2" cy="327.8" r="2.1" fill="#f0607f"/>
<circle cx="156.4" cy="329.4" r="2.1" fill="#f0607f"/>
<circle cx="151.6" cy="326.1" r="2.1" fill="#f0607f"/>
<circle cx="149.3" cy="321.9" r="2.1" fill="#f0607f"/>
<circle cx="151.6" cy="328.6" r="2.1" fill="#f0607f"/>
<circle cx="154.8" cy="316.1" r="2.1" fill="#1f62b0"/>
<circle cx="145.7" cy="294.3" r="2.1" fill="#1f62b0"/>
<circle cx="158.6" cy="315.2" r="2.1" fill="#1f62b0"/>
<circle cx="145.2" cy="316.9" r="2.1" fill="#1f62b0"/>
<circle cx="155.4" cy="318.6" r="2.1" fill="#1f62b0"/>
<circle cx="156.7" cy="312.7" r="2.1" fill="#1f62b0"/>
<circle cx="145.2" cy="316.1" r="2.1" fill="#1f62b0"/>
<circle cx="155.9" cy="326.9" r="2.1" fill="#1f62b0"/>
<circle cx="173.1" cy="335.3" r="2.1" fill="#f0607f"/>
<circle cx="176.1" cy="337.8" r="2.1" fill="#f0607f"/>
<circle cx="168.1" cy="338.6" r="2.1" fill="#f0607f"/>
<circle cx="168.7" cy="340.3" r="2.1" fill="#f0607f"/>
<circle cx="170.5" cy="342.0" r="2.1" fill="#f0607f"/>
<circle cx="181.4" cy="339.5" r="2.1" fill="#f0607f"/>
<circle cx="170.8" cy="341.1" r="2.1" fill="#f0607f"/>
<circle cx="178.6" cy="342.8" r="2.1" fill="#f0607f"/>
<circle cx="181.0" cy="308.5" r="2.1" fill="#1f62b0"/>
<circle cx="181.2" cy="308.5" r="2.1" fill="#1f62b0"/>
<circle cx="172.8" cy="319.4" r="2.1" fill="#1f62b0"/>
<circle cx="173.0" cy="320.2" r="2.1" fill="#1f62b0"/>
<circle cx="175.3" cy="321.9" r="2.1" fill="#1f62b0"/>
<circle cx="178.9" cy="325.3" r="2.1" fill="#1f62b0"/>
<circle cx="169.5" cy="333.6" r="2.1" fill="#1f62b0"/>
<circle cx="178.5" cy="311.0" r="2.1" fill="#1f62b0"/>
<text x="81.1" y="364.8" font-size="10.5" text-anchor="middle">0d</text>
<text x="104.8" y="364.8" font-size="10.5" text-anchor="middle">3d</text>
<text x="128.2" y="364.8" font-size="10.5" text-anchor="middle">7d</text>
<text x="151.9" y="364.8" font-size="10.5" text-anchor="middle">14d</text>
<text x="175.0" y="364.8" font-size="10.5" text-anchor="middle">28d</text>
<text x="20.5" y="291" font-size="10.4" text-anchor="middle" transform="rotate(-90 20.5 291)">Total distance (cm)</text>
<rect x="100" y="222.5" width="10.5" height="4.6" fill="#9fcdf0"/>
<text x="113.3" y="227.8" font-size="8.6">Sham</text>
<rect x="141.3" y="222.5" width="10.5" height="4.6" fill="#e07474"/>
<text x="157" y="227.8" font-size="8.6">MP</text>
<text x="152" y="282.2" font-size="11.4" text-anchor="middle" font-weight="bold">*</text>
<line x1="146" y1="282.5" x2="157.8" y2="282.5" stroke="#000" stroke-width="0.7"/>
<text x="175" y="298.8" font-size="11.4" text-anchor="middle" font-weight="bold">****</text>
<line x1="167.3" y1="298.5" x2="182.6" y2="298.5" stroke="#000" stroke-width="0.7"/>
<text x="221.5" y="217.3" font-size="10.8" font-weight="bold">h</text>
<line x1="290.5" y1="215.8" x2="290.5" y2="349.85" stroke="#000" stroke-width="0.7"/>
<line x1="290.15" y1="349.5" x2="418.6" y2="349.5" stroke="#000" stroke-width="0.7"/>
<line x1="284.7" y1="222.5" x2="290.5" y2="222.5" stroke="#000" stroke-width="0.7"/>
<text x="281.9" y="226.2" font-size="10.5" text-anchor="end">20</text>
<line x1="284.7" y1="285.5" x2="290.5" y2="285.5" stroke="#000" stroke-width="0.7"/>
<text x="281.9" y="289.5" font-size="10.5" text-anchor="end">10</text>
<line x1="284.7" y1="348.5" x2="290.5" y2="348.5" stroke="#000" stroke-width="0.7"/>
<text x="281.9" y="352.7" font-size="10.5" text-anchor="end">0</text>
<line x1="306.5" y1="349.5" x2="306.5" y2="354.3" stroke="#000" stroke-width="0.7"/>
<rect x="298.8" y="283.2" width="16.1" height="38.0" fill="#e07474" stroke="#111" stroke-width="0.6"/>
<rect x="298.8" y="321.2" width="16.1" height="28.3" fill="#9fcdf0" stroke="#111" stroke-width="0.6"/>
<line x1="332.5" y1="349.5" x2="332.5" y2="354.3" stroke="#000" stroke-width="0.7"/>
<rect x="324.2" y="310" width="16.1" height="20.5" fill="#e07474" stroke="#111" stroke-width="0.6"/>
<rect x="324.2" y="330.5" width="16.1" height="19.0" fill="#9fcdf0" stroke="#111" stroke-width="0.6"/>
<line x1="356.5" y1="349.5" x2="356.5" y2="354.3" stroke="#000" stroke-width="0.7"/>
<rect x="349" y="312" width="16" height="19" fill="#e07474" stroke="#111" stroke-width="0.6"/>
<rect x="349" y="331" width="16" height="18.5" fill="#9fcdf0" stroke="#111" stroke-width="0.6"/>
<line x1="381.5" y1="349.5" x2="381.5" y2="354.3" stroke="#000" stroke-width="0.7"/>
<rect x="373.9" y="305" width="16.1" height="9.5" fill="#e07474" stroke="#111" stroke-width="0.6"/>
<rect x="373.9" y="314.5" width="16.1" height="35.0" fill="#9fcdf0" stroke="#111" stroke-width="0.6"/>
<line x1="406.5" y1="349.5" x2="406.5" y2="354.3" stroke="#000" stroke-width="0.7"/>
<rect x="398.7" y="307.8" width="16.0" height="15.2" fill="#e07474" stroke="#111" stroke-width="0.6"/>
<rect x="398.7" y="323" width="16.0" height="26.5" fill="#9fcdf0" stroke="#111" stroke-width="0.6"/>
<line x1="306.5" y1="276.2" x2="306.5" y2="283.2" stroke="#f07086" stroke-width="0.7"/>
<line x1="303.5" y1="276.5" x2="310.2" y2="276.5" stroke="#f07086" stroke-width="0.7"/>
<line x1="306.5" y1="315.7" x2="306.5" y2="321.2" stroke="#1f62b0" stroke-width="0.7"/>
<line x1="304.1" y1="315.5" x2="309.7" y2="315.5" stroke="#1f62b0" stroke-width="0.7"/>
<line x1="304.1" y1="326.5" x2="309.7" y2="326.5" stroke="#1f62b0" stroke-width="0.7"/>
<line x1="306.5" y1="321.2" x2="306.5" y2="326.7" stroke="#1f62b0" stroke-width="0.7"/>
<line x1="332.5" y1="306.6" x2="332.5" y2="310" stroke="#f07086" stroke-width="0.7"/>
<line x1="328.9" y1="306.5" x2="335.6" y2="306.5" stroke="#f07086" stroke-width="0.7"/>
<line x1="332.5" y1="326.5" x2="332.5" y2="330.5" stroke="#1f62b0" stroke-width="0.7"/>
<line x1="329.4" y1="326.5" x2="335.1" y2="326.5" stroke="#1f62b0" stroke-width="0.7"/>
<line x1="329.4" y1="334.5" x2="335.1" y2="334.5" stroke="#1f62b0" stroke-width="0.7"/>
<line x1="332.5" y1="330.5" x2="332.5" y2="334.5" stroke="#1f62b0" stroke-width="0.7"/>
<line x1="356.5" y1="309" x2="356.5" y2="312" stroke="#f07086" stroke-width="0.7"/>
<line x1="353.6" y1="308.5" x2="360.4" y2="308.5" stroke="#f07086" stroke-width="0.7"/>
<line x1="356.5" y1="327.8" x2="356.5" y2="331" stroke="#1f62b0" stroke-width="0.7"/>
<line x1="354.2" y1="327.5" x2="359.8" y2="327.5" stroke="#1f62b0" stroke-width="0.7"/>
<line x1="354.2" y1="334.5" x2="359.8" y2="334.5" stroke="#1f62b0" stroke-width="0.7"/>
<line x1="356.5" y1="331" x2="356.5" y2="334.2" stroke="#1f62b0" stroke-width="0.7"/>
<line x1="381.5" y1="302.8" x2="381.5" y2="305" stroke="#f07086" stroke-width="0.7"/>
<line x1="378.6" y1="302.5" x2="385.3" y2="302.5" stroke="#f07086" stroke-width="0.7"/>
<line x1="381.5" y1="305.5" x2="381.5" y2="314.5" stroke="#1f62b0" stroke-width="0.7"/>
<line x1="379.1" y1="305.5" x2="384.8" y2="305.5" stroke="#1f62b0" stroke-width="0.7"/>
<line x1="379.1" y1="323.5" x2="384.8" y2="323.5" stroke="#1f62b0" stroke-width="0.7"/>
<line x1="381.5" y1="314.5" x2="381.5" y2="323.5" stroke="#1f62b0" stroke-width="0.7"/>
<line x1="406.5" y1="305.2" x2="406.5" y2="307.8" stroke="#f07086" stroke-width="0.7"/>
<line x1="403.3" y1="305.5" x2="410.1" y2="305.5" stroke="#f07086" stroke-width="0.7"/>
<line x1="406.5" y1="317" x2="406.5" y2="323" stroke="#1f62b0" stroke-width="0.7"/>
<line x1="403.9" y1="316.5" x2="409.5" y2="316.5" stroke="#1f62b0" stroke-width="0.7"/>
<line x1="403.9" y1="328.5" x2="409.5" y2="328.5" stroke="#1f62b0" stroke-width="0.7"/>
<line x1="406.5" y1="323" x2="406.5" y2="329" stroke="#1f62b0" stroke-width="0.7"/>
<circle cx="311.0" cy="274.8" r="2.1" fill="#f0607f"/>
<circle cx="311.9" cy="281.8" r="2.1" fill="#f0607f"/>
<circle cx="300.4" cy="310.3" r="2.1" fill="#f0607f"/>
<circle cx="313.1" cy="314.7" r="2.1" fill="#f0607f"/>
<circle cx="301.1" cy="324.8" r="2.1" fill="#f0607f"/>
<circle cx="304.6" cy="329.9" r="2.1" fill="#f0607f"/>
<circle cx="308.4" cy="334.9" r="2.1" fill="#f0607f"/>
<circle cx="312.7" cy="320.4" r="2.1" fill="#f0607f"/>
<circle cx="304.6" cy="297.6" r="2.1" fill="#1f62b0"/>
<circle cx="312.8" cy="305.2" r="2.1" fill="#1f62b0"/>
<circle cx="307.5" cy="316.6" r="2.1" fill="#1f62b0"/>
<circle cx="304.2" cy="316.0" r="2.1" fill="#1f62b0"/>
<circle cx="304.3" cy="319.7" r="2.1" fill="#1f62b0"/>
<circle cx="302.3" cy="335.6" r="2.1" fill="#1f62b0"/>
<circle cx="300.9" cy="340.0" r="2.1" fill="#1f62b0"/>
<circle cx="301.9" cy="341.3" r="2.1" fill="#1f62b0"/>
<circle cx="334.9" cy="322.9" r="2.1" fill="#f0607f"/>
<circle cx="339.2" cy="323.5" r="2.1" fill="#f0607f"/>
<circle cx="327.5" cy="324.8" r="2.1" fill="#f0607f"/>
<circle cx="325.9" cy="326.7" r="2.1" fill="#f0607f"/>
<circle cx="339.1" cy="329.2" r="2.1" fill="#f0607f"/>
<circle cx="332.7" cy="334.3" r="2.1" fill="#f0607f"/>
<circle cx="330.9" cy="336.2" r="2.1" fill="#f0607f"/>
<circle cx="328.6" cy="338.1" r="2.1" fill="#f0607f"/>
<circle cx="333.6" cy="312.8" r="2.1" fill="#1f62b0"/>
<circle cx="336.8" cy="320.4" r="2.1" fill="#1f62b0"/>
<circle cx="331.6" cy="326.1" r="2.1" fill="#1f62b0"/>
<circle cx="331.2" cy="333.0" r="2.1" fill="#1f62b0"/>
<circle cx="326.0" cy="336.8" r="2.1" fill="#1f62b0"/>
<circle cx="338.1" cy="339.4" r="2.1" fill="#1f62b0"/>
<circle cx="325.7" cy="340.6" r="2.1" fill="#1f62b0"/>
<circle cx="332.2" cy="337.5" r="2.1" fill="#1f62b0"/>
<circle cx="361.7" cy="317.9" r="2.1" fill="#f0607f"/>
<circle cx="351.8" cy="325.4" r="2.1" fill="#f0607f"/>
<circle cx="360.2" cy="326.1" r="2.1" fill="#f0607f"/>
<circle cx="363.3" cy="331.1" r="2.1" fill="#f0607f"/>
<circle cx="358.8" cy="334.3" r="2.1" fill="#f0607f"/>
<circle cx="361.0" cy="337.5" r="2.1" fill="#f0607f"/>
<circle cx="351.5" cy="329.2" r="2.1" fill="#f0607f"/>
<circle cx="356.1" cy="335.6" r="2.1" fill="#f0607f"/>
<circle cx="352.1" cy="311.5" r="2.1" fill="#1f62b0"/>
<circle cx="361.8" cy="324.2" r="2.1" fill="#1f62b0"/>
<circle cx="354.1" cy="328.6" r="2.1" fill="#1f62b0"/>
<circle cx="356.3" cy="331.1" r="2.1" fill="#1f62b0"/>
<circle cx="364.0" cy="332.4" r="2.1" fill="#1f62b0"/>
<circle cx="361.9" cy="340.0" r="2.1" fill="#1f62b0"/>
<circle cx="363.7" cy="341.9" r="2.1" fill="#1f62b0"/>
<circle cx="356.3" cy="334.9" r="2.1" fill="#1f62b0"/>
<circle cx="381.8" cy="336.2" r="2.1" fill="#f0607f"/>
<circle cx="385.2" cy="337.5" r="2.1" fill="#f0607f"/>
<circle cx="381.7" cy="338.1" r="2.1" fill="#f0607f"/>
<circle cx="379.0" cy="339.4" r="2.1" fill="#f0607f"/>
<circle cx="380.6" cy="340.6" r="2.1" fill="#f0607f"/>
<circle cx="377.0" cy="346.3" r="2.1" fill="#f0607f"/>
<circle cx="380.2" cy="346.3" r="2.1" fill="#f0607f"/>
<circle cx="388.8" cy="345.7" r="2.1" fill="#f0607f"/>
<circle cx="388.4" cy="273.5" r="2.1" fill="#1f62b0"/>
<circle cx="383.7" cy="300.8" r="2.1" fill="#1f62b0"/>
<circle cx="381.9" cy="314.1" r="2.1" fill="#1f62b0"/>
<circle cx="379.7" cy="319.1" r="2.1" fill="#1f62b0"/>
<circle cx="376.2" cy="326.7" r="2.1" fill="#1f62b0"/>
<circle cx="378.8" cy="330.5" r="2.1" fill="#1f62b0"/>
<circle cx="385.9" cy="337.5" r="2.1" fill="#1f62b0"/>
<circle cx="387.1" cy="335.6" r="2.1" fill="#1f62b0"/>
<circle cx="404.8" cy="307.7" r="2.1" fill="#f0607f"/>
<circle cx="410.7" cy="321.6" r="2.1" fill="#f0607f"/>
<circle cx="410.5" cy="331.1" r="2.1" fill="#f0607f"/>
<circle cx="409.4" cy="331.8" r="2.1" fill="#f0607f"/>
<circle cx="409.0" cy="334.9" r="2.1" fill="#f0607f"/>
<circle cx="410.3" cy="340.0" r="2.1" fill="#f0607f"/>
<circle cx="404.8" cy="341.3" r="2.1" fill="#f0607f"/>
<circle cx="409.6" cy="334.3" r="2.1" fill="#f0607f"/>
<circle cx="403.6" cy="304.6" r="2.1" fill="#1f62b0"/>
<circle cx="406.5" cy="307.7" r="2.1" fill="#1f62b0"/>
<circle cx="410.5" cy="307.7" r="2.1" fill="#1f62b0"/>
<circle cx="409.4" cy="330.5" r="2.1" fill="#1f62b0"/>
<circle cx="403.8" cy="333.0" r="2.1" fill="#1f62b0"/>
<circle cx="412.9" cy="340.0" r="2.1" fill="#1f62b0"/>
<circle cx="408.8" cy="341.3" r="2.1" fill="#1f62b0"/>
<circle cx="407.8" cy="340.6" r="2.1" fill="#1f62b0"/>
<text x="306.9" y="364.8" font-size="10.5" text-anchor="middle">0d</text>
<text x="332.2" y="364.8" font-size="10.5" text-anchor="middle">3d</text>
<text x="357.0" y="364.8" font-size="10.5" text-anchor="middle">7d</text>
<text x="381.9" y="364.8" font-size="10.5" text-anchor="middle">14d</text>
<text x="406.7" y="364.8" font-size="10.5" text-anchor="middle">28d</text>
<text x="244.6" y="286.8" font-size="10.2" text-anchor="middle" transform="rotate(-90 244.6 286.8)">Central distance</text>
<text x="260.6" y="286.8" font-size="10.2" text-anchor="middle" transform="rotate(-90 260.6 286.8)">(% of total distance)</text>
<text x="382" y="263.8" font-size="11.4" text-anchor="middle" font-weight="bold">*</text>
<line x1="374" y1="264.5" x2="390" y2="264.5" stroke="#000" stroke-width="0.7"/>
<text x="406.7" y="283" font-size="11.4" text-anchor="middle" font-weight="bold">*</text>
<line x1="398.7" y1="283.5" x2="414.7" y2="283.5" stroke="#000" stroke-width="0.7"/>
<text x="466.6" y="216" font-size="10.8" font-weight="bold">i</text>
<line x1="513.5" y1="217.3" x2="513.5" y2="347.85" stroke="#000" stroke-width="0.7"/>
<line x1="513.15" y1="347.5" x2="644" y2="347.5" stroke="#000" stroke-width="0.7"/>
<line x1="507.7" y1="239.5" x2="513.5" y2="239.5" stroke="#000" stroke-width="0.7"/>
<text x="506.6" y="243.2" font-size="10.5" text-anchor="end">10</text>
<line x1="507.7" y1="293.5" x2="513.5" y2="293.5" stroke="#000" stroke-width="0.7"/>
<text x="506.6" y="297.2" font-size="10.5" text-anchor="end">5</text>
<line x1="507.7" y1="347.5" x2="513.5" y2="347.5" stroke="#000" stroke-width="0.7"/>
<text x="506.6" y="351.2" font-size="10.5" text-anchor="end">0</text>
<line x1="529.5" y1="347.5" x2="529.5" y2="352.3" stroke="#000" stroke-width="0.7"/>
<rect x="521.5" y="271.3" width="16.1" height="45.5" fill="#e07474" stroke="#111" stroke-width="0.6"/>
<rect x="521.5" y="316.8" width="16.1" height="30.7" fill="#9fcdf0" stroke="#111" stroke-width="0.6"/>
<line x1="553.5" y1="347.5" x2="553.5" y2="352.3" stroke="#000" stroke-width="0.7"/>
<rect x="545.7" y="308" width="15.9" height="23" fill="#e07474" stroke="#111" stroke-width="0.6"/>
<rect x="545.7" y="331" width="15.9" height="16.5" fill="#9fcdf0" stroke="#111" stroke-width="0.6"/>
<line x1="578.5" y1="347.5" x2="578.5" y2="352.3" stroke="#000" stroke-width="0.7"/>
<rect x="570.3" y="305" width="16.0" height="19" fill="#e07474" stroke="#111" stroke-width="0.6"/>
<rect x="570.3" y="324" width="16.0" height="23.5" fill="#9fcdf0" stroke="#111" stroke-width="0.6"/>
<line x1="602.5" y1="347.5" x2="602.5" y2="352.3" stroke="#000" stroke-width="0.7"/>
<rect x="594.5" y="309" width="16.0" height="6" fill="#e07474" stroke="#111" stroke-width="0.6"/>
<rect x="594.5" y="315" width="16.0" height="32.5" fill="#9fcdf0" stroke="#111" stroke-width="0.6"/>
<line x1="626.5" y1="347.5" x2="626.5" y2="352.3" stroke="#000" stroke-width="0.7"/>
<rect x="618.7" y="306.3" width="16.1" height="8.2" fill="#e07474" stroke="#111" stroke-width="0.6"/>
<rect x="618.7" y="314.5" width="16.1" height="33.0" fill="#9fcdf0" stroke="#111" stroke-width="0.6"/>
<line x1="529.5" y1="260.3" x2="529.5" y2="271.3" stroke="#f07086" stroke-width="0.7"/>
<line x1="526.1" y1="260.5" x2="532.9" y2="260.5" stroke="#f07086" stroke-width="0.7"/>
<line x1="529.5" y1="307.4" x2="529.5" y2="316.8" stroke="#1f62b0" stroke-width="0.7"/>
<line x1="526.8" y1="307.5" x2="532.3" y2="307.5" stroke="#1f62b0" stroke-width="0.7"/>
<line x1="526.8" y1="326.5" x2="532.3" y2="326.5" stroke="#1f62b0" stroke-width="0.7"/>
<line x1="529.5" y1="316.8" x2="529.5" y2="326.2" stroke="#1f62b0" stroke-width="0.7"/>
<line x1="553.5" y1="303.6" x2="553.5" y2="308" stroke="#f07086" stroke-width="0.7"/>
<line x1="550.3" y1="303.5" x2="557.1" y2="303.5" stroke="#f07086" stroke-width="0.7"/>
<line x1="553.5" y1="326.4" x2="553.5" y2="331" stroke="#1f62b0" stroke-width="0.7"/>
<line x1="550.9" y1="326.5" x2="556.5" y2="326.5" stroke="#1f62b0" stroke-width="0.7"/>
<line x1="550.9" y1="335.5" x2="556.5" y2="335.5" stroke="#1f62b0" stroke-width="0.7"/>
<line x1="553.5" y1="331" x2="553.5" y2="335.6" stroke="#1f62b0" stroke-width="0.7"/>
<line x1="578.5" y1="300.8" x2="578.5" y2="305" stroke="#f07086" stroke-width="0.7"/>
<line x1="574.9" y1="300.5" x2="581.7" y2="300.5" stroke="#f07086" stroke-width="0.7"/>
<line x1="578.5" y1="318.4" x2="578.5" y2="324" stroke="#1f62b0" stroke-width="0.7"/>
<line x1="575.5" y1="318.5" x2="581.1" y2="318.5" stroke="#1f62b0" stroke-width="0.7"/>
<line x1="575.5" y1="329.5" x2="581.1" y2="329.5" stroke="#1f62b0" stroke-width="0.7"/>
<line x1="578.5" y1="324" x2="578.5" y2="329.6" stroke="#1f62b0" stroke-width="0.7"/>
<line x1="602.5" y1="305.6" x2="602.5" y2="309" stroke="#f07086" stroke-width="0.7"/>
<line x1="599.1" y1="305.5" x2="605.9" y2="305.5" stroke="#f07086" stroke-width="0.7"/>
<line x1="602.5" y1="307.6" x2="602.5" y2="315" stroke="#1f62b0" stroke-width="0.7"/>
<line x1="599.7" y1="307.5" x2="605.3" y2="307.5" stroke="#1f62b0" stroke-width="0.7"/>
<line x1="599.7" y1="322.5" x2="605.3" y2="322.5" stroke="#1f62b0" stroke-width="0.7"/>
<line x1="602.5" y1="315" x2="602.5" y2="322.4" stroke="#1f62b0" stroke-width="0.7"/>
<line x1="626.5" y1="304.3" x2="626.5" y2="306.3" stroke="#f07086" stroke-width="0.7"/>
<line x1="623.4" y1="304.5" x2="630.1" y2="304.5" stroke="#f07086" stroke-width="0.7"/>
<line x1="626.5" y1="309.0" x2="626.5" y2="314.5" stroke="#1f62b0" stroke-width="0.7"/>
<line x1="624.0" y1="308.5" x2="629.5" y2="308.5" stroke="#1f62b0" stroke-width="0.7"/>
<line x1="624.0" y1="320.5" x2="629.5" y2="320.5" stroke="#1f62b0" stroke-width="0.7"/>
<line x1="626.5" y1="314.5" x2="626.5" y2="320.0" stroke="#1f62b0" stroke-width="0.7"/>
<circle cx="522.7" cy="268.7" r="2.1" fill="#f0607f"/>
<circle cx="530.2" cy="269.7" r="2.1" fill="#f0607f"/>
<circle cx="526.1" cy="277.3" r="2.1" fill="#f0607f"/>
<circle cx="532.0" cy="317.3" r="2.1" fill="#f0607f"/>
<circle cx="529.0" cy="321.6" r="2.1" fill="#f0607f"/>
<circle cx="534.0" cy="331.3" r="2.1" fill="#f0607f"/>
<circle cx="531.6" cy="323.7" r="2.1" fill="#f0607f"/>
<circle cx="533.7" cy="334.5" r="2.1" fill="#f0607f"/>
<circle cx="527.4" cy="265.4" r="2.1" fill="#1f62b0"/>
<circle cx="531.6" cy="302.1" r="2.1" fill="#1f62b0"/>
<circle cx="532.9" cy="317.3" r="2.1" fill="#1f62b0"/>
<circle cx="534.1" cy="320.5" r="2.1" fill="#1f62b0"/>
<circle cx="527.5" cy="324.8" r="2.1" fill="#1f62b0"/>
<circle cx="534.4" cy="329.1" r="2.1" fill="#1f62b0"/>
<circle cx="534.7" cy="330.2" r="2.1" fill="#1f62b0"/>
<circle cx="532.2" cy="339.9" r="2.1" fill="#1f62b0"/>
<circle cx="560.3" cy="305.4" r="2.1" fill="#f0607f"/>
<circle cx="560.0" cy="311.9" r="2.1" fill="#f0607f"/>
<circle cx="553.9" cy="324.8" r="2.1" fill="#f0607f"/>
<circle cx="554.1" cy="328.1" r="2.1" fill="#f0607f"/>
<circle cx="549.0" cy="330.2" r="2.1" fill="#f0607f"/>
<circle cx="558.4" cy="335.6" r="2.1" fill="#f0607f"/>
<circle cx="559.8" cy="339.9" r="2.1" fill="#f0607f"/>
<circle cx="553.3" cy="342.1" r="2.1" fill="#f0607f"/>
<circle cx="556.3" cy="317.3" r="2.1" fill="#1f62b0"/>
<circle cx="556.7" cy="321.6" r="2.1" fill="#1f62b0"/>
<circle cx="556.9" cy="329.1" r="2.1" fill="#1f62b0"/>
<circle cx="549.1" cy="333.5" r="2.1" fill="#1f62b0"/>
<circle cx="557.6" cy="334.5" r="2.1" fill="#1f62b0"/>
<circle cx="554.8" cy="337.8" r="2.1" fill="#1f62b0"/>
<circle cx="556.0" cy="338.9" r="2.1" fill="#1f62b0"/>
<circle cx="552.5" cy="341.0" r="2.1" fill="#1f62b0"/>
<circle cx="580.0" cy="315.1" r="2.1" fill="#f0607f"/>
<circle cx="582.1" cy="317.3" r="2.1" fill="#f0607f"/>
<circle cx="580.2" cy="321.6" r="2.1" fill="#f0607f"/>
<circle cx="581.4" cy="324.8" r="2.1" fill="#f0607f"/>
<circle cx="571.7" cy="335.6" r="2.1" fill="#f0607f"/>
<circle cx="573.5" cy="342.1" r="2.1" fill="#f0607f"/>
<circle cx="577.5" cy="343.2" r="2.1" fill="#f0607f"/>
<circle cx="580.4" cy="344.3" r="2.1" fill="#f0607f"/>
<circle cx="574.4" cy="287.0" r="2.1" fill="#1f62b0"/>
<circle cx="580.9" cy="297.8" r="2.1" fill="#1f62b0"/>
<circle cx="580.1" cy="317.3" r="2.1" fill="#1f62b0"/>
<circle cx="571.9" cy="318.3" r="2.1" fill="#1f62b0"/>
<circle cx="577.9" cy="327.0" r="2.1" fill="#1f62b0"/>
<circle cx="574.5" cy="338.9" r="2.1" fill="#1f62b0"/>
<circle cx="572.1" cy="342.1" r="2.1" fill="#1f62b0"/>
<circle cx="573.2" cy="343.2" r="2.1" fill="#1f62b0"/>
<circle cx="599.9" cy="330.2" r="2.1" fill="#f0607f"/>
<circle cx="598.0" cy="339.9" r="2.1" fill="#f0607f"/>
<circle cx="598.2" cy="341.0" r="2.1" fill="#f0607f"/>
<circle cx="596.0" cy="343.2" r="2.1" fill="#f0607f"/>
<circle cx="602.0" cy="345.3" r="2.1" fill="#f0607f"/>
<circle cx="600.8" cy="345.9" r="2.1" fill="#f0607f"/>
<circle cx="604.1" cy="346.4" r="2.1" fill="#f0607f"/>
<circle cx="603.8" cy="347.0" r="2.1" fill="#f0607f"/>
<circle cx="598.8" cy="279.5" r="2.1" fill="#1f62b0"/>
<circle cx="608.1" cy="289.2" r="2.1" fill="#1f62b0"/>
<circle cx="595.5" cy="294.6" r="2.1" fill="#1f62b0"/>
<circle cx="601.2" cy="315.1" r="2.1" fill="#1f62b0"/>
<circle cx="599.4" cy="328.1" r="2.1" fill="#1f62b0"/>
<circle cx="601.2" cy="331.3" r="2.1" fill="#1f62b0"/>
<circle cx="597.1" cy="338.9" r="2.1" fill="#1f62b0"/>
<circle cx="607.1" cy="342.1" r="2.1" fill="#1f62b0"/>
<circle cx="625.0" cy="335.6" r="2.1" fill="#f0607f"/>
<circle cx="620.3" cy="337.8" r="2.1" fill="#f0607f"/>
<circle cx="628.3" cy="338.9" r="2.1" fill="#f0607f"/>
<circle cx="621.1" cy="339.9" r="2.1" fill="#f0607f"/>
<circle cx="627.4" cy="341.0" r="2.1" fill="#f0607f"/>
<circle cx="624.5" cy="342.1" r="2.1" fill="#f0607f"/>
<circle cx="627.9" cy="345.3" r="2.1" fill="#f0607f"/>
<circle cx="633.2" cy="336.7" r="2.1" fill="#f0607f"/>
<circle cx="631.2" cy="276.2" r="2.1" fill="#1f62b0"/>
<circle cx="625.6" cy="290.3" r="2.1" fill="#1f62b0"/>
<circle cx="631.1" cy="306.5" r="2.1" fill="#1f62b0"/>
<circle cx="628.7" cy="314.0" r="2.1" fill="#1f62b0"/>
<circle cx="624.9" cy="333.5" r="2.1" fill="#1f62b0"/>
<circle cx="621.7" cy="337.8" r="2.1" fill="#1f62b0"/>
<circle cx="628.1" cy="338.9" r="2.1" fill="#1f62b0"/>
<circle cx="627.6" cy="341.0" r="2.1" fill="#1f62b0"/>
<text x="529.5" y="364.2" font-size="10.5" text-anchor="middle">0d</text>
<text x="553.7" y="364.2" font-size="10.5" text-anchor="middle">3d</text>
<text x="578.3" y="364.2" font-size="10.5" text-anchor="middle">7d</text>
<text x="602.5" y="364.2" font-size="10.5" text-anchor="middle">14d</text>
<text x="626.8" y="364.2" font-size="10.5" text-anchor="middle">28d</text>
<text x="474.6" y="284.2" font-size="10.5" text-anchor="middle" transform="rotate(-90 474.6 284.2)">Central time</text>
<text x="486.8" y="286.2" font-size="10.9" text-anchor="middle" transform="rotate(-90 486.8 286.2)">(% of total time)</text>
<text x="602.6" y="266.8" font-size="11.4" text-anchor="middle" font-weight="bold">*</text>
<line x1="595.5" y1="266.5" x2="608.5" y2="266.5" stroke="#000" stroke-width="0.7"/>
<text x="626.8" y="266.8" font-size="11.4" text-anchor="middle" font-weight="bold">*</text>
<line x1="620" y1="266.5" x2="633" y2="266.5" stroke="#000" stroke-width="0.7"/>
</g>
<g id="p_jk">
<text x="6.4" y="376" font-size="10.8" font-weight="bold">j</text>
<defs><filter id="db" x="-5%" y="-5%" width="110%" height="110%"><feGaussianBlur stdDeviation="0.55"/></filter><linearGradient id="smg" x1="0" y1="0" x2="1" y2="1"><stop offset="0" stop-color="#22112a"/><stop offset="0.55" stop-color="#1f0f24"/><stop offset="1" stop-color="#180f28"/></linearGradient></defs>
<text x="17.8" y="406.2" font-size="11.3" text-anchor="middle" transform="rotate(-90 17.8 406.2)">MP-0d</text>
<clipPath id="cs0"><rect x="21" y="377.4" width="48.3" height="57.6"/></clipPath>
<rect x="21" y="377.4" width="48.3" height="57.6" fill="#22112a"/>
<g clip-path="url(#cs0)">
<path d="M69.3 410.808L61.571999999999996 413.11199999999997L54.809999999999995 435.0L69.3 435.0Z" fill="#0d1634"/>
<path d="M29.0 417.1h.01M51.7 405.0h.01M31.4 423.1h.01M60.0 406.9h.01M45.4 391.0h.01M21.2 398.8h.01M49.3 381.4h.01M59.3 390.8h.01M32.2 379.8h.01M69.2 419.9h.01M63.3 412.9h.01M22.6 396.3h.01M45.0 384.1h.01M67.0 398.6h.01M28.5 424.5h.01M27.0 430.8h.01M42.9 409.2h.01M37.6 405.3h.01M30.0 379.5h.01M62.8 390.9h.01M58.7 389.4h.01M67.8 428.9h.01M57.5 421.3h.01M49.1 419.4h.01M26.9 404.8h.01M60.9 389.0h.01M65.6 428.5h.01M40.8 398.4h.01M42.8 399.6h.01M69.1 399.7h.01M22.3 382.8h.01M55.7 434.6h.01M45.0 405.7h.01M47.6 420.5h.01M31.7 412.5h.01M47.9 413.3h.01M29.7 387.2h.01M37.8 430.8h.01M37.7 411.8h.01M35.8 383.3h.01M24.2 424.3h.01M58.5 399.0h.01M54.0 416.3h.01M64.4 432.6h.01M40.7 434.4h.01M67.4 411.4h.01M63.7 405.7h.01M39.1 391.6h.01M63.3 386.7h.01M24.3 423.8h.01M58.4 405.2h.01M61.4 380.4h.01M33.5 394.1h.01M41.3 387.2h.01M24.4 396.9h.01M64.4 434.0h.01M57.0 405.0h.01M33.2 432.6h.01M46.4 419.4h.01M22.4 389.6h.01M61.5 423.2h.01M63.6 412.0h.01M41.6 410.9h.01M62.0 395.1h.01M46.8 393.3h.01M58.1 378.0h.01M54.1 432.3h.01M22.1 411.6h.01M52.1 426.5h.01M49.2 392.2h.01M40.6 432.6h.01M64.7 385.1h.01M25.6 382.8h.01M22.2 403.1h.01M27.8 427.4h.01M52.7 384.7h.01M47.0 396.1h.01M44.9 390.0h.01M29.0 388.0h.01M39.2 418.3h.01M47.6 380.1h.01M55.3 427.7h.01M58.4 422.9h.01M21.4 404.1h.01M24.1 421.4h.01M29.5 418.4h.01M33.2 417.5h.01M36.1 379.8h.01M39.8 395.2h.01M64.5 394.4h.01M45.3 409.0h.01M66.8 383.1h.01M50.0 406.7h.01M56.5 433.1h.01M36.0 417.7h.01M46.4 409.7h.01M24.1 424.3h.01M68.2 397.9h.01M36.4 434.6h.01M26.2 381.8h.01M24.5 424.3h.01M57.7 403.2h.01M51.0 378.5h.01M52.1 402.9h.01M46.0 399.8h.01M40.4 390.4h.01M23.4 402.4h.01M32.9 418.0h.01M60.5 419.1h.01M43.0 391.0h.01M39.6 405.4h.01M51.5 432.9h.01M25.1 405.0h.01M44.8 418.7h.01M64.0 422.3h.01M51.3 421.1h.01M53.3 426.9h.01M54.8 416.7h.01M32.8 430.2h.01M39.6 412.8h.01M60.8 432.9h.01M68.8 377.8h.01M36.1 395.4h.01M39.9 385.8h.01M47.7 382.0h.01M35.6 431.7h.01M56.9 404.0h.01M26.2 432.5h.01M55.0 389.3h.01M37.2 414.4h.01M53.9 392.4h.01M66.9 396.0h.01M33.3 426.1h.01M28.4 416.6h.01M30.7 411.8h.01M34.4 399.2h.01M66.4 404.3h.01M42.1 412.9h.01M34.6 387.4h.01M39.6 393.1h.01M30.1 432.7h.01M22.7 424.1h.01M66.1 418.0h.01M21.9 406.3h.01M22.9 412.4h.01M54.8 391.2h.01M21.4 408.8h.01M25.6 395.2h.01M42.9 428.9h.01M38.9 385.2h.01M59.2 424.8h.01M46.6 380.2h.01M30.1 400.6h.01M47.7 390.4h.01M59.8 426.0h.01M65.7 428.3h.01M21.9 410.9h.01M24.9 429.2h.01M57.1 421.1h.01M30.1 380.8h.01M60.4 412.3h.01M51.0 404.5h.01M59.6 396.9h.01M34.0 397.7h.01M35.4 413.5h.01M64.0 381.5h.01M24.3 406.9h.01M53.7 388.3h.01M34.0 380.8h.01M22.8 405.9h.01M53.9 415.0h.01M28.6 383.4h.01M66.0 408.4h.01M40.7 417.2h.01M56.2 407.6h.01M24.8 425.1h.01M31.3 379.7h.01M38.0 408.1h.01M51.3 387.4h.01M55.3 405.8h.01M28.8 426.4h.01M60.0 429.6h.01M53.8 389.9h.01M58.6 429.4h.01M46.8 429.7h.01M67.9 399.9h.01M66.5 431.4h.01M59.3 378.0h.01M38.0 412.7h.01M50.3 420.9h.01M52.2 386.7h.01M66.0 408.3h.01M63.6 389.3h.01M69.2 409.4h.01M58.5 420.0h.01M63.6 398.3h.01M25.0 400.8h.01M29.6 408.5h.01M60.4 398.3h.01M27.3 379.0h.01M41.4 410.8h.01M22.3 415.7h.01M31.2 383.6h.01M65.8 407.5h.01M64.2 407.0h.01M26.9 391.2h.01M41.5 414.3h.01M58.2 420.7h.01M52.4 392.0h.01M41.8 399.2h.01M44.6 392.7h.01M47.0 403.8h.01M22.7 424.8h.01M49.3 423.6h.01M56.6 419.5h.01M69.0 399.1h.01M40.0 377.6h.01M53.1 410.9h.01M48.8 434.9h.01M30.5 390.5h.01M56.5 424.2h.01M44.3 380.6h.01M38.9 425.0h.01M45.1 404.0h.01M39.8 413.6h.01M49.9 417.3h.01M62.8 420.7h.01M39.1 391.8h.01M58.8 423.1h.01M65.8 388.9h.01M61.9 428.7h.01M24.7 395.1h.01M51.6 385.8h.01M61.1 392.7h.01M54.0 394.4h.01M31.5 389.3h.01M45.0 418.5h.01M31.5 416.9h.01M37.2 414.8h.01M38.8 388.5h.01M27.8 380.7h.01M54.6 401.2h.01M27.0 428.1h.01M52.6 378.6h.01M56.0 411.7h.01M42.4 406.2h.01M67.5 398.9h.01M51.7 414.0h.01M38.7 397.4h.01M57.5 414.0h.01M43.1 407.0h.01M31.8 422.9h.01M22.0 414.4h.01M43.0 390.2h.01M49.3 411.0h.01M25.2 405.6h.01M29.0 423.4h.01M36.8 396.3h.01M31.4 380.2h.01M30.0 386.1h.01" stroke="#5a2040" stroke-width="0.55" stroke-linecap="round" fill="none" opacity="0.7"/>
<path d="M51.1 426.2h.01M31.7 383.8h.01M46.8 384.1h.01M40.6 421.2h.01M30.8 417.7h.01M47.0 382.3h.01M32.7 411.9h.01M25.6 389.1h.01M48.9 424.5h.01M46.1 415.6h.01M21.4 394.8h.01M36.4 430.0h.01M38.3 422.6h.01M22.7 406.1h.01M64.1 421.8h.01M49.0 387.9h.01M65.7 382.0h.01M67.6 422.1h.01M55.8 408.0h.01M28.9 397.0h.01M53.1 415.2h.01M39.8 423.5h.01M23.6 393.9h.01M25.4 396.1h.01M59.3 420.8h.01M28.2 395.2h.01M26.4 415.5h.01M42.4 390.7h.01M39.1 427.2h.01M41.5 417.2h.01M51.3 404.7h.01M47.9 398.4h.01M30.6 405.9h.01M35.7 396.4h.01M30.0 430.0h.01M41.6 388.9h.01M22.5 389.7h.01M62.9 396.8h.01M53.2 390.7h.01M52.4 403.3h.01M56.6 407.8h.01M39.1 393.5h.01M49.7 425.3h.01M54.4 405.1h.01M36.9 428.7h.01M61.9 385.8h.01M53.8 421.9h.01M53.6 432.9h.01M63.5 391.6h.01M69.1 396.3h.01M39.3 433.6h.01M29.1 400.2h.01M51.2 393.1h.01M33.9 423.1h.01M50.6 420.2h.01M59.2 427.6h.01M64.2 424.8h.01M68.3 406.2h.01M54.9 407.0h.01M67.8 415.1h.01M41.8 415.6h.01M35.2 384.9h.01M39.7 385.3h.01M21.2 382.7h.01M42.9 421.4h.01M23.3 414.1h.01M26.4 406.8h.01M35.3 403.1h.01M55.4 401.2h.01M39.9 419.4h.01M26.6 397.5h.01M54.9 425.5h.01M68.3 392.2h.01M51.2 395.4h.01M54.9 426.1h.01M27.5 397.3h.01M66.2 397.7h.01M51.5 424.5h.01M34.5 422.5h.01M21.2 397.0h.01M29.1 397.3h.01M31.3 378.9h.01M59.8 387.4h.01M48.7 409.3h.01M62.0 426.2h.01M51.0 387.1h.01M57.7 383.0h.01M65.9 395.2h.01M33.2 389.9h.01M40.1 423.0h.01M62.3 420.4h.01M56.2 391.5h.01M36.5 394.9h.01M41.9 427.8h.01M69.1 382.2h.01M67.6 430.3h.01M43.3 417.3h.01M58.9 388.2h.01M50.7 433.9h.01M63.5 429.9h.01M25.1 418.6h.01M44.5 429.8h.01M29.1 409.0h.01M26.8 423.7h.01M55.9 379.2h.01M36.0 385.6h.01M51.7 413.7h.01M24.0 432.2h.01M67.6 402.8h.01M48.7 398.3h.01M50.3 400.3h.01M42.3 420.6h.01M30.0 394.6h.01M57.9 390.4h.01M24.3 429.9h.01M28.7 401.1h.01M36.1 392.5h.01M38.0 408.4h.01M26.6 408.1h.01M23.5 381.9h.01" stroke="#3a3a78" stroke-width="0.5" stroke-linecap="round" fill="none" opacity="0.8"/>
<path d="M21.6 378.0L63.504 401.592L52.878 434.4L21.6 434.4Z" fill="none" stroke="#fff" stroke-width="1.25" stroke-dasharray="2.6 1"/>
<rect x="28.3" y="408.4" width="21" height="12.4" fill="none" stroke="#fff" stroke-width="1.35" stroke-dasharray="2.6 0.9"/>
<path d="M49.3 408.4L67.8 379.9M49.3 420.8L67.8 432.5" stroke="#fff" stroke-width="1.1" fill="none"/>
<path d="M69.3 377.4l-5.6 2.2l3.6 3.2z" fill="#fff"/>
<path d="M69.3 435.0l-5.6 -2.2l3.6 -3.2z" fill="#fff"/>
<line x1="22.4" y1="431.2" x2="41.4" y2="431.2" stroke="#fff" stroke-width="1.3"/>
</g>
<rect x="71.2" y="377.4" width="100.6" height="57.6" fill="#10060e"/>
<g filter="url(#db)"><path d="M92.4 392.0h.01M106.0 394.8h.01M154.4 414.8h.01M118.9 421.0h.01M139.6 396.1h.01M132.8 419.6h.01M124.9 420.0h.01M134.5 429.6h.01M98.5 415.6h.01M168.0 407.7h.01M161.1 384.1h.01M143.3 393.4h.01M145.9 402.0h.01M124.9 392.5h.01M97.8 426.2h.01M135.5 413.2h.01M84.0 394.9h.01M167.2 390.0h.01M125.2 416.9h.01M122.5 409.2h.01M167.4 421.6h.01M95.8 402.4h.01M113.7 416.2h.01M138.6 393.2h.01M140.3 402.4h.01M74.2 394.8h.01M109.5 389.7h.01M138.2 433.1h.01M163.6 413.3h.01M156.4 405.7h.01M130.0 427.7h.01M78.5 398.7h.01M109.2 397.5h.01M114.5 382.0h.01M139.0 431.1h.01M95.6 389.0h.01M105.4 422.4h.01M94.8 421.0h.01M89.6 411.4h.01M143.1 415.7h.01M80.9 431.1h.01M155.5 405.2h.01M156.6 411.7h.01M89.2 400.6h.01M152.8 404.2h.01M76.8 388.0h.01M90.9 410.9h.01M135.5 403.4h.01M112.1 431.5h.01M106.2 415.6h.01M92.7 407.0h.01M90.2 385.1h.01M105.6 385.2h.01M109.9 414.5h.01M126.3 422.3h.01M119.3 383.5h.01M143.7 400.9h.01M146.0 432.2h.01M123.9 392.6h.01M107.6 406.1h.01M103.8 384.4h.01M111.6 414.7h.01M152.3 420.5h.01M159.0 422.7h.01M112.9 414.1h.01M78.0 422.3h.01M141.8 393.4h.01M118.8 393.7h.01M150.3 402.2h.01M148.9 429.3h.01M148.6 399.7h.01M106.1 430.5h.01M161.0 389.3h.01M108.1 421.9h.01M146.5 394.4h.01M116.3 431.4h.01M81.5 393.9h.01M137.5 428.4h.01M165.1 404.5h.01M149.8 432.0h.01M104.9 391.3h.01M98.0 421.6h.01M86.3 408.7h.01M163.4 389.9h.01M134.1 407.8h.01M167.0 406.9h.01M120.6 428.2h.01M146.1 386.8h.01M151.2 400.7h.01M167.2 431.5h.01M120.8 401.6h.01M94.9 394.0h.01M92.8 388.1h.01M144.0 381.7h.01M131.1 411.5h.01M144.5 409.9h.01M163.2 394.3h.01M81.8 410.7h.01M99.0 432.9h.01M162.7 416.4h.01M154.1 392.2h.01M120.0 399.8h.01M106.4 399.3h.01M119.3 414.6h.01M75.2 408.3h.01M85.2 431.8h.01M126.6 411.1h.01M103.4 417.4h.01M142.0 428.6h.01M129.4 393.6h.01M134.0 381.6h.01M145.3 395.6h.01M142.9 386.1h.01M131.0 388.1h.01M76.3 393.3h.01M155.5 400.1h.01M123.7 422.1h.01M168.2 393.0h.01M140.4 421.6h.01M150.2 397.8h.01M119.0 421.7h.01M97.2 405.4h.01M134.5 425.4h.01M96.5 415.2h.01M93.9 387.5h.01M119.3 414.3h.01M135.2 430.7h.01M88.7 407.9h.01M119.6 393.0h.01M162.3 386.8h.01M98.1 381.1h.01M135.5 414.8h.01M94.5 429.2h.01M134.7 389.9h.01M164.6 425.5h.01M103.3 426.1h.01M85.4 397.9h.01M113.6 431.0h.01M101.9 400.0h.01M92.9 423.6h.01M90.6 425.2h.01M106.0 408.9h.01M158.3 393.5h.01M124.3 413.6h.01M129.1 401.1h.01M135.7 396.1h.01M87.8 379.4h.01M131.8 410.3h.01M150.7 387.5h.01M138.4 403.7h.01M123.9 424.3h.01M123.4 402.7h.01M135.7 387.0h.01M157.9 407.2h.01M76.8 405.2h.01M165.0 432.3h.01M114.3 393.4h.01M164.1 394.4h.01M74.5 392.4h.01M118.6 415.7h.01M79.2 397.2h.01M143.7 397.7h.01M89.8 417.7h.01M115.3 416.8h.01M120.0 423.3h.01M122.7 432.1h.01M152.1 418.3h.01M120.6 412.2h.01M109.5 383.1h.01M159.0 423.0h.01M147.6 425.8h.01M126.5 433.2h.01M118.9 432.4h.01M80.6 399.6h.01M128.4 423.6h.01M123.5 422.0h.01M109.2 415.9h.01M150.4 411.7h.01M74.7 414.8h.01M72.7 395.4h.01M83.9 420.6h.01M89.1 418.2h.01M79.8 390.2h.01M140.5 429.4h.01M79.7 412.4h.01M111.5 412.9h.01M80.2 379.8h.01M80.4 427.6h.01M120.6 412.3h.01M85.7 416.3h.01M160.6 389.7h.01M148.9 425.2h.01M169.5 409.8h.01M135.7 397.7h.01M148.9 395.9h.01M133.6 413.1h.01M169.3 421.9h.01M82.1 388.6h.01M107.6 400.5h.01M142.7 393.1h.01M127.3 403.6h.01M102.5 414.0h.01M115.1 432.4h.01M85.3 428.0h.01M134.9 404.0h.01M80.3 414.2h.01M151.1 398.0h.01M142.2 407.9h.01M81.5 425.8h.01M103.1 405.1h.01" stroke="#981a2e" stroke-width="2.0" stroke-linecap="round" fill="none" opacity="0.44"/></g>
<g filter="url(#db)"><path d="M147.3 427.1h.01M156.4 398.8h.01M155.7 386.9h.01M126.6 402.4h.01M157.6 418.6h.01M137.2 423.5h.01M106.5 403.1h.01M82.3 397.9h.01M91.9 419.1h.01M85.0 429.3h.01M131.4 403.2h.01M84.0 403.2h.01M127.8 386.4h.01M168.5 398.5h.01M115.0 394.3h.01M109.0 393.8h.01M156.4 382.4h.01M108.2 411.6h.01M119.5 396.4h.01M119.9 381.9h.01M102.5 402.6h.01M147.8 402.3h.01M113.1 414.8h.01M99.5 409.0h.01M91.4 412.7h.01M125.4 414.8h.01M158.5 422.6h.01M169.7 391.4h.01M166.3 403.1h.01M108.3 403.7h.01M163.0 431.5h.01M151.6 395.2h.01M83.9 389.7h.01M138.5 417.4h.01M78.7 378.6h.01M170.3 397.2h.01M76.3 404.3h.01M81.8 423.7h.01M124.4 412.4h.01M163.6 385.3h.01M93.4 422.1h.01M132.1 402.8h.01M107.3 412.8h.01M165.3 431.1h.01M162.7 432.8h.01M85.2 380.0h.01M154.0 392.1h.01M123.7 404.4h.01M168.2 403.0h.01M85.5 389.8h.01M161.3 423.8h.01M86.0 432.0h.01M108.9 418.8h.01M127.9 426.1h.01M120.5 380.0h.01M127.2 425.7h.01M112.7 424.3h.01M116.2 398.4h.01M107.6 391.1h.01M121.6 431.7h.01M130.4 421.1h.01M89.9 398.9h.01M129.4 399.7h.01M73.1 426.7h.01M84.9 415.0h.01M168.9 394.5h.01M98.8 396.8h.01M125.6 432.9h.01M86.5 392.0h.01M160.6 393.8h.01" stroke="#2f6cc0" stroke-width="1.15" stroke-linecap="round" fill="none" opacity="0.65"/></g>
<g filter="url(#db)"><path d="M138.0 418.5h.01M72.2 379.9h.01M147.0 429.5h.01M140.7 404.4h.01M82.2 407.7h.01M83.0 396.4h.01M75.7 407.0h.01M118.3 394.2h.01M94.0 382.1h.01M74.9 385.5h.01M169.1 380.2h.01M142.8 403.8h.01M130.1 395.3h.01M168.9 423.3h.01M112.1 402.4h.01M162.7 387.1h.01M158.4 412.8h.01M128.1 408.0h.01M130.5 383.4h.01M96.8 398.1h.01" stroke="#45d060" stroke-width="1.3" stroke-linecap="round" fill="none" opacity="0.55"/></g>
<rect x="174.5" y="377.4" width="99.2" height="57.6" fill="#0a0505"/>
<g filter="url(#db)"><path d="M197.0 383.2h.01M244.8 401.8h.01M247.5 400.2h.01M267.0 392.0h.01M225.3 401.9h.01M252.4 385.7h.01M228.6 403.6h.01M236.2 391.3h.01M228.3 433.2h.01M185.5 432.4h.01M269.5 403.3h.01M183.4 406.0h.01M269.1 378.5h.01M248.7 421.8h.01M186.7 411.9h.01M189.9 383.9h.01M226.2 395.0h.01M239.6 407.7h.01M197.8 429.5h.01M176.1 423.0h.01M202.9 428.4h.01M234.5 403.9h.01M196.5 426.0h.01M258.9 431.8h.01M232.8 429.8h.01M262.5 415.5h.01M208.4 412.0h.01M208.9 423.6h.01M229.2 426.6h.01M262.2 420.4h.01M195.2 397.0h.01M183.8 397.0h.01M190.8 395.1h.01M252.7 385.0h.01M264.7 429.6h.01M250.5 391.6h.01M203.7 403.8h.01M235.6 429.9h.01M177.5 383.2h.01M255.4 379.7h.01M262.4 388.8h.01M270.4 404.6h.01M234.4 424.3h.01M255.5 401.5h.01M220.2 422.2h.01" stroke="#30c458" stroke-width="1.35" stroke-linecap="round" fill="none" opacity="0.4"/></g>
<rect x="276.5" y="377.4" width="101.5" height="57.6" fill="#0e0303"/>
<g filter="url(#db)"><path d="M303.2 395.5h.01M363.8 427.1h.01M359.5 397.7h.01M311.8 384.6h.01M360.0 381.5h.01M296.1 380.2h.01M323.0 433.3h.01M284.9 392.7h.01M304.4 417.2h.01M313.1 388.4h.01M346.1 428.1h.01M294.3 382.3h.01M318.1 429.9h.01M283.9 386.4h.01M341.6 420.5h.01M322.5 381.4h.01M332.3 384.3h.01M285.3 382.0h.01M370.3 384.5h.01M324.8 423.7h.01M297.8 400.2h.01M356.2 409.7h.01M297.1 408.2h.01M376.0 423.6h.01M372.8 380.2h.01M283.7 406.3h.01M279.2 431.4h.01M306.8 408.9h.01M364.4 402.1h.01M353.4 387.3h.01M321.8 418.6h.01M324.1 389.0h.01M362.6 398.4h.01M367.9 396.1h.01M359.5 385.7h.01M344.5 430.9h.01M339.8 401.5h.01M374.6 431.7h.01M359.0 391.0h.01M286.8 412.4h.01M291.2 382.2h.01M332.7 430.5h.01M304.7 423.7h.01M372.6 430.3h.01M286.0 386.2h.01M372.1 431.6h.01M294.9 388.8h.01M348.2 384.2h.01M288.2 387.6h.01M335.0 399.2h.01M361.0 387.2h.01M366.4 421.9h.01M314.9 411.9h.01M344.7 385.6h.01M369.8 402.9h.01M328.7 425.4h.01M280.1 393.5h.01M281.0 419.1h.01M299.5 418.1h.01M348.7 433.3h.01M295.8 401.5h.01M355.6 403.2h.01M295.3 415.7h.01M356.3 403.3h.01M315.6 386.1h.01M318.0 424.8h.01M312.9 431.0h.01M313.2 404.9h.01M354.7 428.7h.01M361.2 402.0h.01M322.5 386.0h.01M331.0 423.6h.01M296.8 396.1h.01M284.5 403.7h.01M325.4 432.9h.01M344.0 429.0h.01M297.7 402.8h.01M347.2 382.9h.01M334.2 413.1h.01M280.7 390.0h.01M355.2 387.7h.01M340.8 401.9h.01M316.4 426.7h.01M317.1 426.9h.01M358.8 409.2h.01M288.0 397.1h.01M372.1 393.3h.01M336.1 389.9h.01M350.1 416.5h.01M365.7 411.3h.01M288.9 422.4h.01M334.8 430.4h.01M329.2 396.6h.01M321.6 409.6h.01M346.8 413.4h.01M362.9 408.2h.01M298.2 425.8h.01M348.1 387.5h.01M323.4 425.4h.01M334.8 385.6h.01M363.3 418.8h.01M297.4 416.8h.01M363.1 410.3h.01M371.4 408.3h.01M279.2 414.9h.01M359.8 428.9h.01M352.4 430.3h.01M357.1 404.8h.01M283.9 388.0h.01M282.8 429.4h.01M357.5 428.4h.01M354.5 403.7h.01M333.5 380.3h.01M293.8 400.8h.01M283.3 396.3h.01M329.1 387.7h.01M295.5 383.6h.01M323.0 424.6h.01M322.1 417.4h.01M348.5 422.8h.01M356.4 406.2h.01M282.5 388.1h.01M305.4 397.3h.01M337.0 406.1h.01M306.4 388.1h.01M350.7 433.3h.01M347.1 386.6h.01M346.5 422.6h.01M331.0 413.5h.01M362.9 405.0h.01M347.6 388.1h.01M360.4 410.1h.01M296.8 413.0h.01M359.2 403.2h.01M308.8 417.7h.01M376.0 431.4h.01M308.5 405.4h.01M315.1 386.7h.01M331.8 394.6h.01M325.1 424.2h.01M332.7 432.9h.01M298.0 389.0h.01M284.3 417.4h.01M306.2 390.9h.01M340.7 432.9h.01M352.2 431.2h.01M369.8 407.7h.01M299.6 420.7h.01M299.5 382.7h.01M314.8 419.2h.01M340.3 401.3h.01M290.4 388.3h.01M337.2 405.9h.01M331.4 419.4h.01M334.5 426.3h.01M368.6 407.2h.01M313.5 406.4h.01M302.6 388.5h.01M348.9 403.0h.01M280.2 400.3h.01M309.7 382.2h.01M280.2 412.4h.01M357.3 424.7h.01M336.8 391.2h.01M340.8 393.6h.01M300.7 396.9h.01M291.3 385.0h.01M375.1 383.5h.01M373.7 416.7h.01M351.1 385.0h.01M345.0 389.8h.01M328.0 403.7h.01M366.8 384.4h.01M278.7 410.8h.01M329.7 414.3h.01M286.5 399.1h.01M348.3 411.2h.01M309.1 379.3h.01M282.3 427.6h.01M305.0 382.8h.01M306.7 390.4h.01M331.5 381.6h.01M331.2 414.2h.01M330.8 411.5h.01M301.8 400.3h.01M351.7 394.5h.01M359.4 389.3h.01M325.1 427.9h.01M343.4 394.0h.01M314.0 394.3h.01M352.0 398.8h.01M360.5 416.9h.01M359.8 407.9h.01M305.8 416.4h.01M320.9 381.7h.01M322.3 389.1h.01M285.2 393.4h.01M372.1 415.4h.01M320.7 410.7h.01M316.1 409.7h.01M303.7 425.6h.01M356.2 403.2h.01M332.8 399.2h.01M353.9 424.5h.01M369.2 384.8h.01M367.4 390.8h.01M288.9 401.5h.01M341.7 385.2h.01M341.4 431.7h.01M354.7 424.1h.01" stroke="#a01018" stroke-width="2.0" stroke-linecap="round" fill="none" opacity="0.42"/></g>
<text x="17.8" y="466.5" font-size="11.3" text-anchor="middle" transform="rotate(-90 17.8 466.5)">MP-3d</text>
<clipPath id="cs1"><rect x="21" y="437.7" width="48.3" height="57.6"/></clipPath>
<rect x="21" y="437.7" width="48.3" height="57.6" fill="#280f20"/>
<g clip-path="url(#cs1)">
<path d="M69.3 471.108L61.571999999999996 473.412L54.809999999999995 495.3L69.3 495.3Z" fill="#0d1634"/>
<path d="M28.7 457.1h.01M32.9 459.0h.01M63.7 495.1h.01M33.8 470.1h.01M50.4 493.7h.01M42.7 444.5h.01M25.8 446.1h.01M44.0 443.0h.01M54.5 448.8h.01M23.0 479.2h.01M43.4 481.2h.01M48.9 459.7h.01M24.4 486.9h.01M53.8 452.8h.01M25.0 474.0h.01M65.9 480.5h.01M65.6 494.9h.01M27.1 448.3h.01M43.5 444.1h.01M44.4 484.7h.01M33.6 484.8h.01M33.3 484.7h.01M24.7 444.6h.01M23.2 471.1h.01M22.1 477.7h.01M41.2 489.8h.01M39.6 485.7h.01M57.3 459.3h.01M58.6 472.2h.01M49.6 462.3h.01M28.4 467.8h.01M46.1 462.6h.01M68.5 447.6h.01M65.0 469.9h.01M25.8 470.1h.01M30.1 466.3h.01M44.2 482.2h.01M64.9 441.8h.01M63.3 491.7h.01M28.3 442.4h.01M43.4 439.5h.01M27.0 467.1h.01M31.1 472.3h.01M31.0 476.1h.01M51.1 442.1h.01M54.1 490.8h.01M69.0 440.1h.01M54.2 456.1h.01M41.1 464.2h.01M23.4 474.0h.01M27.3 487.0h.01M25.9 473.6h.01M47.7 439.6h.01M26.5 466.3h.01M39.8 446.6h.01M25.9 451.0h.01M60.3 445.6h.01M57.6 444.3h.01M60.5 482.1h.01M63.6 460.2h.01M68.1 461.6h.01M51.5 485.4h.01M28.3 440.3h.01M54.5 450.8h.01M31.6 466.1h.01M29.3 453.3h.01M30.8 443.0h.01M60.4 486.3h.01M56.4 463.0h.01M65.5 469.0h.01M47.8 438.9h.01M38.2 450.2h.01M52.8 493.2h.01M51.3 456.1h.01M61.2 442.3h.01M59.9 440.2h.01M67.6 481.2h.01M68.6 465.5h.01M52.8 460.7h.01M57.3 468.7h.01M43.0 484.0h.01M66.4 453.7h.01M33.4 495.0h.01M37.3 458.9h.01M47.4 454.4h.01M43.0 453.5h.01M42.3 483.7h.01M57.9 491.2h.01M66.1 453.1h.01M58.6 477.6h.01M51.2 465.8h.01M65.5 470.2h.01M66.3 443.8h.01M38.3 445.4h.01M55.8 464.1h.01M36.5 457.1h.01M44.4 455.4h.01M44.8 473.6h.01M22.0 450.4h.01M46.3 475.9h.01M49.6 479.9h.01M41.9 490.2h.01M58.1 466.8h.01M48.6 484.1h.01M34.6 454.0h.01M45.1 466.8h.01M23.5 466.7h.01M65.4 487.5h.01M47.1 478.0h.01M38.9 441.8h.01M60.7 468.8h.01M50.5 473.0h.01M68.1 455.1h.01M48.6 480.0h.01M54.2 490.1h.01M23.0 483.6h.01M22.8 456.0h.01M38.0 483.8h.01M63.9 469.6h.01M47.8 476.0h.01M22.3 459.1h.01M42.8 440.5h.01M35.9 453.8h.01M27.2 448.6h.01M38.9 475.8h.01M62.1 456.1h.01M59.0 478.7h.01M26.0 449.2h.01M63.4 445.8h.01M51.3 471.3h.01M59.9 482.4h.01M60.5 445.6h.01M55.9 489.3h.01M53.1 492.9h.01M25.0 464.5h.01M67.7 455.1h.01M37.7 454.7h.01M39.1 462.5h.01M45.4 452.5h.01M45.2 491.3h.01M37.9 452.1h.01M65.3 478.6h.01M59.3 490.5h.01M68.5 455.2h.01M21.0 480.2h.01M52.9 460.1h.01M64.7 484.0h.01M48.6 473.0h.01M41.2 448.3h.01M35.2 479.6h.01M44.9 467.7h.01M52.6 491.6h.01M26.7 443.1h.01M58.2 450.2h.01M48.5 466.9h.01M53.4 474.5h.01M40.3 472.5h.01M66.1 486.1h.01M43.0 479.8h.01M35.0 490.9h.01M21.1 470.4h.01M58.0 490.2h.01M47.1 467.2h.01M50.3 481.3h.01M39.0 474.4h.01M33.3 442.3h.01M24.7 448.0h.01M40.6 445.3h.01M58.7 477.2h.01M39.5 448.0h.01M41.1 487.9h.01M61.4 477.4h.01M39.6 485.8h.01M45.5 457.3h.01M64.5 476.3h.01M23.7 441.7h.01M43.9 482.4h.01M42.1 468.3h.01M27.6 472.5h.01M40.7 458.5h.01M31.2 471.8h.01M61.0 468.4h.01M50.3 469.8h.01M55.3 477.8h.01M21.5 493.3h.01M44.8 440.6h.01M55.9 481.5h.01M38.7 472.3h.01M22.9 480.2h.01M53.5 484.1h.01M43.9 490.7h.01M41.0 438.0h.01M25.3 456.3h.01M31.8 451.0h.01M25.4 475.1h.01M63.9 491.2h.01M38.1 466.5h.01M46.4 472.3h.01M56.2 462.6h.01M21.9 455.9h.01M21.6 477.0h.01M67.8 470.7h.01M54.4 470.5h.01M68.0 447.3h.01M48.6 456.9h.01M43.1 450.2h.01M58.8 456.9h.01M34.0 487.0h.01M21.9 448.4h.01M65.8 476.1h.01M30.7 445.3h.01M53.5 485.7h.01M69.2 492.0h.01M57.3 442.6h.01M59.0 462.9h.01M46.7 439.1h.01M21.7 467.5h.01M52.2 453.3h.01M67.7 441.6h.01M63.3 491.4h.01M25.3 485.4h.01M50.7 462.7h.01M42.1 469.2h.01M65.8 481.3h.01M43.8 464.1h.01M29.5 469.2h.01M62.6 474.2h.01M49.9 463.7h.01M68.5 486.7h.01M46.0 475.8h.01M59.9 452.5h.01M51.4 454.1h.01M57.9 455.3h.01M67.5 477.6h.01M46.5 470.5h.01M49.2 453.1h.01M22.2 463.8h.01M35.2 464.8h.01M31.2 449.6h.01M68.3 459.5h.01M57.2 445.8h.01M25.2 477.5h.01M42.1 483.8h.01M22.0 466.3h.01M49.9 450.5h.01M55.6 449.0h.01M26.2 446.7h.01M23.2 461.0h.01M58.9 447.7h.01M34.7 457.0h.01M31.7 487.8h.01M61.3 444.6h.01M52.9 489.9h.01M21.6 460.9h.01M22.3 455.9h.01M26.9 464.1h.01M30.9 480.0h.01M39.4 442.5h.01M47.7 464.2h.01M56.7 480.6h.01" stroke="#5a2040" stroke-width="0.55" stroke-linecap="round" fill="none" opacity="0.7"/>
<path d="M33.0 459.8h.01M55.8 493.5h.01M47.7 472.9h.01M37.1 462.7h.01M36.3 466.3h.01M34.8 456.2h.01M22.4 442.7h.01M62.9 457.7h.01M67.5 451.8h.01M38.6 489.2h.01M42.5 476.7h.01M58.5 460.0h.01M30.7 438.3h.01M62.7 470.7h.01M58.8 494.2h.01M63.1 471.8h.01M26.4 470.9h.01M44.4 443.5h.01M21.9 457.6h.01M39.0 488.1h.01M69.0 490.8h.01M36.5 486.8h.01M39.4 458.7h.01M48.9 440.1h.01M53.5 441.2h.01M49.4 480.7h.01M23.9 475.0h.01M45.6 457.8h.01M58.8 455.9h.01M30.3 461.5h.01M38.7 484.9h.01M31.0 460.6h.01M58.7 464.4h.01M37.3 446.2h.01M38.0 468.3h.01M58.6 495.2h.01M46.8 466.4h.01M57.6 464.5h.01M33.3 477.9h.01M61.2 450.5h.01M62.5 441.2h.01M30.2 459.4h.01M64.7 465.4h.01M37.7 451.7h.01M43.6 469.9h.01M49.9 489.1h.01M27.0 478.9h.01M67.5 472.7h.01M55.3 484.1h.01M63.8 456.0h.01M42.9 486.2h.01M28.7 463.5h.01M67.7 460.6h.01M41.9 462.1h.01M44.2 482.0h.01M26.3 464.2h.01M41.6 493.0h.01M62.3 454.6h.01M36.4 494.8h.01M21.6 477.9h.01M21.8 454.5h.01M52.2 476.6h.01M51.7 450.6h.01M40.4 486.9h.01M34.4 468.6h.01M48.0 487.1h.01M59.9 483.2h.01M37.3 480.1h.01M64.2 442.0h.01M56.1 464.4h.01M39.6 474.7h.01M60.1 489.8h.01M59.5 491.4h.01M62.7 467.1h.01M54.4 490.3h.01M49.5 441.8h.01M40.3 477.0h.01M22.0 444.1h.01M61.7 477.1h.01M21.9 482.7h.01M50.5 459.6h.01M52.2 443.1h.01M27.8 477.3h.01M53.9 473.3h.01M42.1 449.0h.01M27.2 491.6h.01M35.0 461.7h.01M45.7 437.9h.01M36.5 449.1h.01M26.0 491.2h.01M29.4 454.6h.01M34.0 483.0h.01M62.9 474.4h.01M51.5 472.3h.01M22.4 476.0h.01M67.1 488.5h.01M65.1 445.0h.01M55.5 494.9h.01M32.8 454.4h.01M68.2 451.6h.01M28.4 476.8h.01M36.6 473.5h.01M33.3 450.9h.01M49.4 462.8h.01M53.3 469.7h.01M32.7 449.5h.01M24.8 442.2h.01M55.4 456.8h.01M21.2 439.5h.01M62.3 473.8h.01M31.3 483.2h.01M64.1 440.8h.01M29.9 476.6h.01M58.4 453.0h.01M44.3 457.0h.01M39.5 485.8h.01M48.9 474.2h.01M64.8 490.4h.01M53.4 439.7h.01M38.9 493.6h.01" stroke="#3a3a78" stroke-width="0.5" stroke-linecap="round" fill="none" opacity="0.8"/>
<path d="M21.6 438.3L63.504 461.892L52.878 494.7L21.6 494.7Z" fill="none" stroke="#fff" stroke-width="1.25" stroke-dasharray="2.6 1"/>
<rect x="28.3" y="468.7" width="21" height="12.4" fill="none" stroke="#fff" stroke-width="1.35" stroke-dasharray="2.6 0.9"/>
<path d="M49.3 468.7L67.8 440.2M49.3 481.1L67.8 492.8" stroke="#fff" stroke-width="1.1" fill="none"/>
<path d="M69.3 437.7l-5.6 2.2l3.6 3.2z" fill="#fff"/>
<path d="M69.3 495.3l-5.6 -2.2l3.6 -3.2z" fill="#fff"/>
</g>
<rect x="71.2" y="437.7" width="100.6" height="57.6" fill="#10060e"/>
<g filter="url(#db)"><path d="M119.1 440.9h.01M138.2 469.5h.01M143.6 469.6h.01M100.3 459.7h.01M85.6 462.0h.01M122.3 446.4h.01M77.7 473.7h.01M134.9 481.4h.01M118.2 444.0h.01M123.5 455.4h.01M161.1 451.0h.01M151.7 474.4h.01M101.6 471.8h.01M79.2 454.0h.01M141.7 441.4h.01M127.2 488.6h.01M166.7 481.3h.01M153.4 456.5h.01M107.7 453.4h.01M79.0 443.8h.01M78.1 451.1h.01M105.1 459.8h.01M119.7 484.8h.01M108.4 464.8h.01M151.1 463.7h.01M143.3 492.1h.01M160.2 454.4h.01M154.7 489.8h.01M95.6 447.2h.01M143.8 475.4h.01M92.8 492.8h.01M118.1 492.7h.01M121.5 478.5h.01M86.1 483.4h.01M115.9 451.2h.01M114.3 475.2h.01M159.3 480.8h.01M162.2 480.7h.01M109.2 448.6h.01M161.3 463.0h.01M166.1 476.0h.01M149.8 471.2h.01M92.2 465.8h.01M137.5 445.2h.01M109.0 482.8h.01M93.7 439.9h.01M94.4 462.9h.01M100.2 467.8h.01M99.1 462.8h.01M162.3 484.6h.01M146.8 463.3h.01M126.7 482.9h.01M92.9 458.7h.01M86.1 464.1h.01M102.9 475.9h.01M108.1 474.8h.01M128.9 471.4h.01M114.6 462.1h.01M84.9 474.5h.01M104.1 454.7h.01M160.3 462.0h.01M83.2 473.2h.01M111.7 460.2h.01M131.7 466.7h.01M160.3 455.5h.01M152.1 485.3h.01M97.8 440.1h.01M87.8 468.2h.01M157.3 464.7h.01M96.0 471.3h.01M149.8 489.7h.01M126.9 449.7h.01M126.9 466.5h.01M93.3 444.7h.01M158.1 454.6h.01M157.7 470.2h.01M72.9 488.5h.01M168.4 449.1h.01M140.3 441.5h.01M160.0 446.9h.01M132.9 480.0h.01M130.2 487.4h.01M90.1 492.3h.01M136.3 445.3h.01M76.4 450.7h.01M84.3 460.1h.01M84.7 455.3h.01M156.0 477.5h.01M100.3 445.7h.01M81.6 456.2h.01M79.1 446.8h.01M169.6 457.0h.01M153.8 442.3h.01M87.8 442.0h.01M124.8 486.9h.01M155.8 459.1h.01M150.5 460.5h.01M123.7 454.8h.01M105.0 474.2h.01M110.5 450.0h.01M105.6 441.4h.01M109.5 489.4h.01M127.3 453.9h.01M118.8 468.2h.01M86.8 468.9h.01M99.2 445.2h.01M94.8 457.8h.01M142.7 441.9h.01M119.9 470.8h.01M155.4 446.9h.01M148.9 457.7h.01M85.0 475.9h.01M142.3 493.4h.01M97.7 477.6h.01M164.5 468.2h.01M140.3 445.9h.01M101.1 460.8h.01M91.0 445.6h.01M108.6 474.2h.01M122.0 467.5h.01M123.1 480.2h.01M144.6 457.3h.01M83.0 446.7h.01M107.5 462.1h.01M140.9 444.6h.01M93.6 479.7h.01M155.7 453.6h.01M126.9 469.3h.01M97.6 466.3h.01M78.2 490.4h.01M96.5 488.7h.01M159.7 461.6h.01M89.0 454.9h.01M163.3 442.3h.01M98.5 453.7h.01M107.6 492.9h.01M115.6 489.3h.01M136.3 439.6h.01M107.5 457.4h.01M91.0 452.0h.01M94.1 487.6h.01M127.5 463.5h.01M101.4 473.5h.01M106.8 440.6h.01M88.6 483.3h.01M139.8 477.1h.01M114.9 473.0h.01M74.9 473.8h.01M154.3 472.9h.01M123.8 477.0h.01M149.1 461.6h.01M83.7 473.9h.01M135.7 490.5h.01M75.2 470.7h.01M161.3 441.6h.01M139.0 474.4h.01M153.3 468.7h.01M139.2 482.2h.01M93.8 439.9h.01M142.0 448.1h.01M84.2 445.2h.01M159.9 487.5h.01M119.1 479.1h.01M101.0 445.6h.01M132.6 454.2h.01M77.7 478.7h.01M73.0 475.2h.01M90.8 454.8h.01M107.9 479.7h.01M135.4 443.6h.01M103.6 468.7h.01M166.2 463.0h.01M151.9 484.0h.01M146.6 452.7h.01M86.8 482.5h.01M94.4 466.1h.01M113.7 472.5h.01M165.0 451.3h.01M79.7 481.4h.01M94.8 469.8h.01M98.9 486.3h.01M134.4 483.8h.01M107.3 450.2h.01M138.0 449.3h.01M79.0 493.2h.01M155.5 444.3h.01M113.1 443.6h.01M78.7 471.8h.01M150.3 491.6h.01M160.9 460.6h.01M75.8 475.4h.01M120.2 446.0h.01M95.9 448.2h.01M163.7 456.8h.01M168.0 470.3h.01M143.0 481.5h.01M94.7 485.4h.01M163.4 444.2h.01M103.4 453.6h.01M131.5 482.0h.01M157.7 465.4h.01M169.5 474.4h.01M143.3 463.5h.01M133.2 471.3h.01M150.8 467.3h.01M104.7 454.4h.01M107.4 454.0h.01M126.9 493.1h.01M169.6 453.6h.01M112.7 470.3h.01" stroke="#981a2e" stroke-width="2.0" stroke-linecap="round" fill="none" opacity="0.44"/></g>
<g filter="url(#db)"><path d="M105.7 442.6h.01M92.9 487.0h.01M116.9 441.4h.01M130.9 452.2h.01M160.6 479.3h.01M74.8 456.2h.01M81.2 455.1h.01M151.2 484.9h.01M159.6 464.7h.01M128.8 470.6h.01M98.7 491.8h.01M89.2 490.7h.01M92.9 482.1h.01M119.8 441.4h.01M149.9 470.3h.01M82.9 494.3h.01M156.9 473.7h.01M80.8 487.6h.01M76.3 491.8h.01M148.5 482.7h.01M162.2 474.7h.01M109.6 462.7h.01M111.7 467.3h.01M139.7 474.3h.01M120.3 480.9h.01M74.4 489.1h.01M96.7 455.8h.01M144.2 466.1h.01M107.3 443.8h.01M142.6 464.9h.01M103.0 461.3h.01M128.8 492.6h.01M134.4 456.6h.01M84.4 454.5h.01M90.2 449.4h.01M146.0 459.9h.01M103.7 447.7h.01M144.7 488.5h.01M141.2 453.1h.01M117.1 445.1h.01M100.5 445.8h.01M121.2 476.2h.01M123.8 480.8h.01M156.7 482.2h.01M114.2 474.2h.01M131.8 477.3h.01M148.2 485.3h.01M117.4 482.7h.01M116.7 485.8h.01M116.2 486.1h.01M85.0 491.4h.01M77.6 493.7h.01M146.1 444.1h.01M101.4 453.7h.01M114.9 451.5h.01M89.0 467.7h.01M143.9 457.8h.01M78.2 441.5h.01M73.6 493.0h.01M141.1 451.8h.01M160.4 439.4h.01M165.7 440.1h.01M91.7 442.6h.01M148.3 450.9h.01M111.3 459.6h.01M129.8 484.1h.01M130.2 446.1h.01M78.4 476.5h.01M115.9 466.5h.01M83.5 452.5h.01" stroke="#2f6cc0" stroke-width="1.15" stroke-linecap="round" fill="none" opacity="0.65"/></g>
<g filter="url(#db)"><path d="M162.4 492.2h.01M105.1 462.2h.01M160.3 482.8h.01M104.3 478.0h.01M100.9 446.0h.01M162.1 459.5h.01M167.1 487.2h.01M125.5 489.7h.01M113.3 466.6h.01M87.7 439.2h.01M114.3 446.3h.01M108.9 465.7h.01M106.5 480.8h.01M149.8 465.4h.01M125.3 493.5h.01M121.5 464.0h.01M143.2 440.7h.01M98.7 449.8h.01M122.5 439.9h.01M147.9 481.3h.01M117.8 489.6h.01M120.0 459.8h.01M82.2 461.3h.01M107.1 478.5h.01M153.9 444.7h.01M123.3 468.2h.01M110.9 463.7h.01M167.5 460.7h.01M112.5 469.9h.01M160.8 472.9h.01M168.9 458.8h.01M149.7 484.5h.01M162.6 494.0h.01M124.9 453.9h.01M124.8 474.7h.01M82.2 477.9h.01" stroke="#45d060" stroke-width="1.3" stroke-linecap="round" fill="none" opacity="0.65"/></g>
<rect x="174.5" y="437.7" width="99.2" height="57.6" fill="#0a0505"/>
<g filter="url(#db)"><path d="M246.5 453.4h.01M204.8 477.4h.01M176.0 489.2h.01M246.7 467.4h.01M228.8 456.7h.01M254.4 452.0h.01M242.3 439.0h.01M179.0 490.0h.01M176.0 443.2h.01M248.6 468.4h.01M189.0 486.9h.01M186.1 463.8h.01M240.2 483.8h.01M242.1 466.5h.01M187.5 452.1h.01M229.6 467.0h.01M204.3 493.3h.01M249.0 490.2h.01M197.0 491.1h.01M268.0 468.2h.01M266.5 492.7h.01M265.8 452.0h.01M195.8 441.6h.01M261.9 446.4h.01M224.7 439.7h.01M251.1 487.0h.01M264.4 453.4h.01M194.2 477.7h.01M227.4 445.5h.01M235.2 460.4h.01M244.6 478.9h.01M211.5 449.5h.01M179.2 490.1h.01M175.8 472.9h.01M241.2 491.0h.01M239.1 493.5h.01M269.6 474.2h.01M224.0 443.1h.01M208.6 442.5h.01M229.7 459.9h.01M264.8 487.8h.01M227.8 446.4h.01M226.8 482.7h.01M260.1 452.7h.01M177.4 478.2h.01M204.8 441.2h.01M203.2 465.0h.01M193.2 480.2h.01M241.4 468.4h.01M215.3 459.0h.01M223.4 456.2h.01M245.2 453.1h.01M219.2 467.1h.01M218.2 444.0h.01M253.4 454.0h.01M202.8 483.2h.01M258.7 473.3h.01M258.2 441.6h.01M183.5 489.3h.01M245.0 454.3h.01M269.8 480.7h.01M258.6 460.1h.01M253.8 441.7h.01M214.3 492.3h.01M271.8 445.0h.01M201.6 454.6h.01M259.4 465.6h.01M270.5 483.8h.01M189.9 463.1h.01M194.1 448.3h.01M202.3 470.2h.01M271.3 484.3h.01M210.3 460.8h.01M216.0 454.0h.01M243.3 461.0h.01M214.6 453.6h.01M197.5 492.7h.01M177.8 493.2h.01M242.8 472.0h.01M242.3 479.2h.01" stroke="#30c458" stroke-width="1.35" stroke-linecap="round" fill="none" opacity="0.5"/></g>
<rect x="276.5" y="437.7" width="101.5" height="57.6" fill="#0e0303"/>
<g filter="url(#db)"><path d="M301.8 442.6h.01M373.6 470.8h.01M353.7 487.7h.01M301.2 442.2h.01M364.6 476.9h.01M323.9 444.7h.01M355.8 440.2h.01M355.4 490.6h.01M314.6 457.0h.01M357.3 444.4h.01M302.2 485.8h.01M306.2 473.9h.01M336.3 477.0h.01M299.5 456.2h.01M314.9 491.0h.01M291.9 476.3h.01M355.0 492.5h.01M291.8 445.7h.01M334.1 483.1h.01M341.0 477.8h.01M321.7 487.2h.01M327.2 474.3h.01M281.8 474.1h.01M289.6 449.1h.01M370.4 452.4h.01M366.7 488.2h.01M292.2 473.5h.01M281.4 443.9h.01M344.9 439.6h.01M344.1 488.7h.01M301.6 491.2h.01M342.4 440.7h.01M304.2 454.2h.01M299.6 463.4h.01M290.6 474.2h.01M351.1 460.8h.01M286.5 473.5h.01M311.4 454.7h.01M350.1 477.8h.01M286.5 479.6h.01M368.2 473.0h.01M308.2 452.8h.01M316.5 463.8h.01M333.0 489.0h.01M289.4 470.7h.01M339.9 471.1h.01M343.9 489.1h.01M323.3 439.8h.01M330.2 462.7h.01M285.5 484.1h.01M318.3 439.3h.01M336.8 467.8h.01M306.5 475.4h.01M310.1 488.9h.01M300.6 462.6h.01M328.6 460.9h.01M335.2 473.3h.01M357.6 458.7h.01M355.2 459.9h.01M320.9 441.0h.01M319.3 479.1h.01M358.3 467.2h.01M368.0 471.7h.01M325.7 465.0h.01M341.6 457.3h.01M299.0 483.1h.01M292.4 484.6h.01M344.0 487.8h.01M350.8 453.3h.01M340.3 468.9h.01M343.9 478.4h.01M323.7 468.0h.01M305.6 454.7h.01M281.9 462.4h.01M351.0 484.5h.01M343.1 457.6h.01M283.9 483.9h.01M371.2 474.9h.01M359.2 440.8h.01M361.8 472.0h.01M315.7 478.2h.01M280.8 490.5h.01M280.6 482.8h.01M285.4 491.9h.01M371.3 466.2h.01M353.1 461.6h.01M298.6 477.3h.01M325.3 475.8h.01M325.8 489.7h.01M316.7 452.3h.01M356.5 477.7h.01M329.7 441.3h.01M300.8 451.0h.01M373.0 490.6h.01M298.4 460.3h.01M304.8 446.3h.01M364.5 451.3h.01M353.0 464.7h.01M326.7 485.2h.01M319.2 449.0h.01M311.1 488.0h.01M295.7 450.1h.01M299.7 445.4h.01M348.0 447.7h.01M313.8 453.2h.01M314.6 453.0h.01M373.8 456.3h.01M371.8 462.4h.01M355.5 477.5h.01M278.9 451.6h.01M286.0 488.5h.01M328.2 484.9h.01M303.8 485.6h.01M286.8 466.7h.01M346.0 480.8h.01M315.0 456.2h.01M351.5 491.1h.01M310.1 440.2h.01M297.5 469.4h.01M312.1 461.1h.01M294.9 453.3h.01M337.8 463.6h.01M301.2 439.9h.01M319.2 471.2h.01M304.5 478.3h.01M342.5 446.5h.01M318.8 457.9h.01M335.7 492.4h.01M310.6 441.4h.01M332.0 488.9h.01M286.3 440.2h.01M318.0 486.8h.01M345.8 457.4h.01M368.1 461.1h.01M281.6 458.3h.01M284.2 441.9h.01M310.2 462.9h.01M320.2 491.3h.01M328.5 479.2h.01M279.7 488.4h.01M308.3 478.1h.01M290.0 469.3h.01M293.5 484.6h.01M318.4 491.7h.01M359.2 452.6h.01M304.1 481.1h.01M308.8 452.4h.01M280.5 485.4h.01M345.2 453.0h.01M375.5 450.9h.01M303.6 459.3h.01M295.1 440.1h.01M300.7 487.4h.01M296.5 464.2h.01M357.7 442.4h.01M332.5 482.5h.01M287.7 485.1h.01M342.5 459.2h.01M368.9 473.4h.01M366.8 484.7h.01M305.6 447.6h.01M282.1 446.1h.01M286.6 481.2h.01M298.3 474.7h.01M279.8 447.2h.01M287.6 448.4h.01M325.6 465.7h.01M298.7 490.8h.01M359.9 446.6h.01M339.8 459.6h.01M347.9 450.5h.01M306.8 448.4h.01M334.7 462.0h.01M317.0 485.4h.01M366.4 444.5h.01M286.9 471.4h.01M309.9 447.4h.01M339.1 480.3h.01M310.7 482.2h.01M291.5 486.1h.01M337.6 470.3h.01M348.4 470.2h.01M314.1 451.1h.01M336.3 472.3h.01M358.9 455.4h.01M326.0 449.4h.01M329.6 478.5h.01M304.8 448.9h.01M358.7 457.0h.01M312.0 471.6h.01M359.2 485.2h.01M341.4 486.5h.01M286.6 455.9h.01M356.1 458.9h.01M307.9 493.2h.01M313.0 455.2h.01M283.0 465.0h.01M296.3 492.7h.01M365.3 465.8h.01M324.5 452.0h.01M369.8 439.4h.01M279.4 445.0h.01M302.4 451.4h.01M360.9 450.9h.01M344.6 473.8h.01M349.4 439.9h.01M368.4 465.1h.01M286.9 480.8h.01M343.6 458.2h.01M350.0 463.5h.01" stroke="#a01018" stroke-width="2.0" stroke-linecap="round" fill="none" opacity="0.42"/></g>
<text x="17.8" y="526.8" font-size="11.3" text-anchor="middle" transform="rotate(-90 17.8 526.8)">MP-7d</text>
<clipPath id="cs2"><rect x="21" y="498.0" width="48.3" height="57.6"/></clipPath>
<rect x="21" y="498.0" width="48.3" height="57.6" fill="#170a14"/>
<g clip-path="url(#cs2)">
<path d="M69.3 531.408L61.571999999999996 533.712L54.809999999999995 555.6L69.3 555.6Z" fill="#0d1634"/>
<path d="M46.4 524.3h.01M59.1 545.4h.01M38.2 550.4h.01M60.8 538.2h.01M54.8 523.0h.01M49.2 543.3h.01M56.7 523.3h.01M22.0 529.3h.01M36.4 517.1h.01M38.1 524.6h.01M45.9 544.3h.01M56.8 520.7h.01M63.9 513.9h.01M51.8 538.5h.01M41.1 539.3h.01M65.4 539.3h.01M41.7 504.5h.01M55.3 532.7h.01M46.8 500.4h.01M22.6 504.6h.01M24.1 555.2h.01M41.7 549.3h.01M40.9 546.5h.01M22.7 508.9h.01M56.7 530.3h.01M35.3 503.0h.01M63.0 530.0h.01M47.2 528.3h.01M61.0 506.6h.01M34.8 517.4h.01M46.0 509.1h.01M36.1 503.0h.01M57.4 498.5h.01M26.3 505.2h.01M62.1 506.5h.01M39.3 531.5h.01M54.2 523.7h.01M43.9 503.9h.01M23.8 554.8h.01M46.0 541.1h.01M27.6 534.5h.01M57.9 529.4h.01M66.4 554.5h.01M28.3 512.3h.01M42.4 506.1h.01M45.6 513.3h.01M26.3 508.1h.01M22.8 513.9h.01M40.9 533.8h.01M24.0 546.8h.01M59.3 539.8h.01M42.7 503.9h.01M29.5 516.6h.01M51.9 555.5h.01M31.6 547.6h.01M64.9 544.0h.01M34.9 536.9h.01M58.4 544.9h.01M60.0 554.8h.01M58.8 522.9h.01M33.6 504.6h.01M39.1 544.4h.01M27.0 551.3h.01M59.5 505.4h.01M60.1 535.1h.01M33.0 525.7h.01M48.9 518.7h.01M44.6 502.2h.01M37.3 541.8h.01M54.3 551.4h.01M42.1 530.1h.01M37.2 550.8h.01M57.5 534.5h.01M34.5 537.0h.01M63.3 525.4h.01M24.1 518.1h.01M37.1 499.1h.01M27.7 515.8h.01M54.4 554.8h.01M67.8 529.0h.01M65.0 532.0h.01M32.7 533.3h.01M40.5 550.9h.01M36.6 499.3h.01M26.1 535.0h.01M49.0 525.1h.01M61.0 540.5h.01M55.6 514.4h.01M52.7 539.8h.01M24.8 500.2h.01M42.8 535.6h.01M32.8 514.2h.01M33.1 531.6h.01M64.9 501.0h.01M42.7 515.7h.01M43.8 501.7h.01M57.4 538.1h.01M48.5 500.8h.01M25.8 514.4h.01M23.9 512.6h.01M50.4 551.9h.01M24.3 506.5h.01M41.9 540.8h.01M28.0 522.8h.01M26.0 554.8h.01M43.1 526.8h.01M28.6 511.2h.01M47.6 508.9h.01M29.4 499.7h.01M28.0 531.4h.01M39.2 514.2h.01M38.9 502.7h.01M34.4 542.0h.01M47.1 544.9h.01M30.5 554.1h.01M67.7 506.5h.01M36.5 548.9h.01M31.7 530.3h.01M55.0 502.0h.01M44.6 549.0h.01M50.0 549.3h.01M61.1 525.5h.01M26.2 543.9h.01M65.2 540.8h.01M59.0 539.8h.01M40.6 513.9h.01M28.4 531.8h.01M57.1 548.9h.01M51.3 542.5h.01M38.6 507.9h.01M42.9 521.1h.01M35.8 533.0h.01M45.9 508.8h.01M64.9 540.8h.01M51.9 500.8h.01M49.8 554.1h.01M26.4 554.0h.01M26.4 526.9h.01M29.3 549.0h.01M39.8 549.0h.01M42.4 502.6h.01M47.5 505.8h.01M37.6 516.0h.01M27.6 516.8h.01M59.2 517.6h.01M67.8 553.1h.01M22.5 536.6h.01M57.4 510.4h.01M31.1 510.5h.01M59.1 503.8h.01M49.7 534.4h.01M21.9 537.2h.01M55.0 522.9h.01M41.0 538.3h.01M38.9 524.4h.01M69.0 544.0h.01M43.5 527.5h.01M21.3 519.9h.01M30.0 507.7h.01M42.4 548.0h.01M64.5 511.8h.01M27.0 499.2h.01M44.4 547.1h.01M67.3 542.9h.01M68.5 537.8h.01M40.6 513.3h.01M46.6 552.8h.01M36.4 508.0h.01M68.2 535.6h.01M56.5 531.8h.01M66.5 498.3h.01M43.2 549.0h.01M48.3 520.8h.01M63.1 514.3h.01M60.2 541.0h.01M58.5 543.3h.01M26.7 512.7h.01M37.2 553.1h.01M62.6 536.7h.01M23.6 520.3h.01M34.5 536.3h.01M63.7 515.6h.01M45.7 513.8h.01M22.1 531.6h.01M24.1 553.5h.01M37.2 538.8h.01M50.6 539.4h.01M40.9 499.4h.01M33.3 530.9h.01M52.6 513.8h.01M56.8 531.2h.01M54.9 550.1h.01M43.3 553.4h.01M23.0 515.3h.01M24.5 536.4h.01M23.7 523.1h.01M22.0 547.1h.01M50.5 541.5h.01M41.5 507.6h.01M33.1 535.0h.01M60.5 530.5h.01M37.6 521.0h.01M59.5 550.8h.01M52.4 503.2h.01M38.7 527.6h.01M36.9 523.3h.01M37.4 500.7h.01M37.9 550.6h.01M25.1 541.8h.01M30.3 535.8h.01M26.4 523.8h.01M38.3 533.6h.01M25.6 535.8h.01M53.9 512.1h.01M23.1 551.5h.01M43.9 516.8h.01M58.4 509.7h.01M67.6 539.8h.01M23.0 498.1h.01M41.0 504.4h.01M42.8 545.7h.01M42.5 530.6h.01M21.0 521.0h.01M62.5 535.5h.01M25.9 517.7h.01M37.7 504.0h.01M49.8 547.1h.01M59.9 551.8h.01M22.5 539.4h.01M49.1 515.3h.01M22.3 499.6h.01M30.9 528.0h.01M36.1 504.0h.01M59.5 537.0h.01M33.4 498.1h.01M50.5 537.3h.01M58.6 544.0h.01M40.2 551.4h.01M28.1 535.3h.01M28.9 549.8h.01M28.3 550.3h.01M58.8 505.5h.01M54.1 542.7h.01M56.3 531.7h.01M22.6 546.7h.01M33.3 509.2h.01M55.3 518.7h.01M26.4 505.2h.01M65.4 506.9h.01M31.0 539.6h.01M52.2 501.8h.01M51.9 526.4h.01M41.6 535.0h.01M31.1 511.6h.01M48.0 527.1h.01M51.9 502.7h.01M30.1 544.6h.01M51.1 525.7h.01M64.5 524.9h.01M33.8 521.4h.01" stroke="#5a2040" stroke-width="0.55" stroke-linecap="round" fill="none" opacity="0.7"/>
<path d="M29.0 524.9h.01M58.3 504.9h.01M37.1 522.6h.01M34.3 509.9h.01M52.0 510.9h.01M24.7 552.5h.01M55.5 549.8h.01M23.3 514.9h.01M48.0 542.5h.01M22.9 544.5h.01M48.1 554.6h.01M45.0 499.0h.01M38.4 542.1h.01M41.8 528.6h.01M47.8 527.8h.01M25.6 509.3h.01M62.4 534.1h.01M39.1 504.4h.01M61.0 503.4h.01M29.8 535.9h.01M36.5 513.7h.01M35.2 514.8h.01M68.2 544.8h.01M69.2 522.3h.01M24.0 523.3h.01M39.9 530.8h.01M50.8 547.4h.01M43.5 501.3h.01M50.1 547.2h.01M28.2 528.7h.01M56.7 507.2h.01M43.0 525.1h.01M37.3 505.4h.01M31.1 528.9h.01M28.2 502.8h.01M68.4 538.3h.01M30.9 546.7h.01M60.5 549.9h.01M64.9 527.6h.01M31.8 526.5h.01M39.8 532.8h.01M37.5 538.5h.01M49.8 508.8h.01M31.7 504.1h.01M24.4 533.4h.01M66.9 503.9h.01M44.4 532.0h.01M33.6 552.8h.01M24.9 548.2h.01M54.1 554.0h.01M41.4 548.5h.01M28.4 524.2h.01M62.2 518.3h.01M42.4 530.4h.01M51.5 547.3h.01M44.4 521.7h.01M35.8 499.9h.01M62.4 501.3h.01M48.7 500.1h.01M55.6 515.8h.01M32.6 514.8h.01M39.8 547.4h.01M62.9 510.0h.01M33.6 545.6h.01M51.3 502.3h.01M43.7 498.9h.01M34.0 508.6h.01M31.8 503.9h.01M40.5 508.6h.01M65.7 529.1h.01M57.4 506.3h.01M28.3 523.5h.01M50.1 533.9h.01M21.9 502.0h.01M43.8 531.3h.01M46.0 541.2h.01M40.8 504.1h.01M59.3 528.6h.01M25.4 527.5h.01M47.3 505.6h.01M38.3 549.4h.01M51.6 545.0h.01M52.5 536.4h.01M61.3 541.7h.01M46.0 530.3h.01M49.0 505.1h.01M33.7 501.5h.01M28.2 528.9h.01M28.2 513.6h.01M39.3 504.2h.01M54.1 552.6h.01M40.6 516.6h.01M26.3 518.2h.01M64.1 547.7h.01M61.0 540.2h.01M21.8 522.2h.01M37.3 514.1h.01M63.8 538.5h.01M58.0 505.9h.01M46.9 546.8h.01M40.4 531.1h.01M22.5 533.5h.01M42.2 531.5h.01M53.0 532.8h.01M42.4 541.6h.01M22.1 500.2h.01M29.0 507.5h.01M40.4 522.1h.01M29.4 550.5h.01M51.8 507.8h.01M63.8 531.3h.01M63.3 511.7h.01M53.6 516.8h.01M56.1 551.8h.01M68.0 530.5h.01M26.7 542.9h.01M66.0 521.8h.01M36.9 523.9h.01M31.0 517.2h.01M37.4 528.9h.01" stroke="#3a3a78" stroke-width="0.5" stroke-linecap="round" fill="none" opacity="0.8"/>
<path d="M21.6 498.6L63.504 522.192L52.878 555.0L21.6 555.0Z" fill="none" stroke="#fff" stroke-width="1.25" stroke-dasharray="2.6 1"/>
<rect x="26" y="527.4" width="21" height="12.4" fill="none" stroke="#fff" stroke-width="1.35" stroke-dasharray="2.6 0.9"/>
<path d="M47 527.4L67.8 500.5M47 539.8L67.8 553.1" stroke="#fff" stroke-width="1.1" fill="none"/>
<path d="M69.3 498.0l-5.6 2.2l3.6 3.2z" fill="#fff"/>
<path d="M69.3 555.6l-5.6 -2.2l3.6 -3.2z" fill="#fff"/>
</g>
<rect x="71.2" y="498.0" width="100.6" height="57.6" fill="#10060e"/>
<g filter="url(#db)"><path d="M122.7 531.5h.01M123.7 544.8h.01M76.4 549.7h.01M77.6 543.7h.01M136.2 542.2h.01M127.7 510.4h.01M114.7 544.2h.01M111.7 506.3h.01M107.9 530.1h.01M78.4 511.4h.01M114.9 503.5h.01M102.4 500.9h.01M90.7 541.0h.01M77.1 528.3h.01M96.1 534.8h.01M94.7 533.8h.01M148.0 525.7h.01M97.6 502.0h.01M144.3 535.3h.01M97.1 503.6h.01M76.2 548.1h.01M141.2 520.3h.01M135.6 525.5h.01M160.9 519.3h.01M85.6 513.7h.01M144.9 500.0h.01M131.7 532.5h.01M101.8 531.4h.01M137.5 499.7h.01M98.1 507.6h.01M107.0 531.4h.01M96.3 547.1h.01M94.6 508.3h.01M165.6 532.0h.01M160.2 544.7h.01M108.8 532.9h.01M162.9 537.2h.01M84.4 506.7h.01M132.2 517.6h.01M129.8 505.0h.01M84.3 504.7h.01M130.0 550.8h.01M144.8 545.0h.01M121.2 533.5h.01M122.1 503.2h.01M94.5 537.1h.01M165.9 543.7h.01M98.4 532.6h.01M82.3 517.9h.01M78.6 548.3h.01M87.4 518.2h.01M165.9 519.0h.01M89.1 526.2h.01M117.7 508.0h.01M145.3 508.1h.01M78.0 520.6h.01M100.6 547.8h.01M112.5 548.6h.01M112.2 527.6h.01M151.8 524.5h.01M99.4 547.1h.01M156.1 538.0h.01M166.7 523.3h.01M149.9 502.4h.01M80.3 535.2h.01M144.5 503.2h.01M123.5 508.0h.01M86.5 529.9h.01M131.0 546.4h.01M86.9 538.1h.01M98.5 544.0h.01M118.5 522.9h.01M82.7 553.8h.01M118.6 527.3h.01M103.2 525.5h.01M91.3 524.5h.01M102.2 514.8h.01M142.2 500.4h.01M129.1 501.0h.01M125.4 522.4h.01M159.2 538.8h.01M118.1 507.0h.01M123.9 514.7h.01M119.1 551.5h.01M126.4 525.4h.01M77.5 515.6h.01M84.4 511.8h.01M131.4 527.1h.01M126.2 507.7h.01M85.7 544.7h.01M106.3 499.7h.01M116.7 519.5h.01M98.4 535.1h.01M146.2 542.0h.01M154.1 536.9h.01M147.8 544.1h.01M73.1 517.9h.01M137.8 548.8h.01M140.2 525.6h.01M79.8 542.1h.01M100.3 525.5h.01M107.2 543.4h.01M132.8 548.0h.01M148.7 541.9h.01M125.0 527.6h.01M89.7 506.6h.01M166.8 510.7h.01M106.8 552.3h.01M73.2 524.9h.01M166.8 549.7h.01M77.7 510.1h.01M159.1 531.5h.01M77.8 525.4h.01M81.2 533.2h.01M94.2 548.3h.01M157.7 546.4h.01M118.8 534.5h.01M109.4 507.2h.01M158.5 541.6h.01M152.4 525.9h.01M151.3 505.1h.01M128.9 513.7h.01M109.8 552.1h.01M114.5 515.5h.01M79.2 541.6h.01M115.4 543.9h.01M152.7 505.8h.01M157.2 504.7h.01M98.5 536.0h.01M76.2 526.8h.01M166.9 514.9h.01M74.5 543.0h.01M149.2 508.8h.01M86.7 523.8h.01M127.8 523.5h.01M88.1 501.7h.01M79.2 531.8h.01M156.3 500.2h.01M113.7 526.7h.01M124.8 510.0h.01M133.2 511.7h.01M86.9 502.8h.01M98.5 512.6h.01M119.0 552.3h.01M142.0 516.8h.01M126.9 529.7h.01M158.3 551.3h.01M81.3 501.5h.01M162.0 539.3h.01M95.0 515.2h.01M121.5 542.1h.01M108.1 542.2h.01M135.7 510.0h.01M114.6 523.4h.01M127.5 504.7h.01M105.7 500.9h.01M75.1 514.9h.01M122.6 539.0h.01M85.0 517.0h.01M111.4 545.6h.01M139.3 543.0h.01M117.8 512.9h.01M87.8 516.0h.01M79.5 547.7h.01M122.0 504.8h.01M93.9 520.8h.01M106.3 502.1h.01M167.1 522.0h.01M165.6 534.2h.01M150.2 544.8h.01M118.8 522.3h.01M90.1 506.7h.01M132.3 514.0h.01M103.8 516.6h.01M155.9 548.2h.01M107.6 526.6h.01M95.4 537.5h.01M132.4 501.5h.01M159.3 520.1h.01M90.5 513.7h.01M160.3 533.8h.01M100.6 530.7h.01M150.9 524.2h.01M139.4 508.9h.01M165.8 548.7h.01M79.2 515.2h.01M158.3 516.4h.01M162.9 517.8h.01M83.4 546.6h.01M105.7 549.8h.01M143.7 537.8h.01M157.3 515.6h.01M106.5 535.6h.01M87.0 510.3h.01M79.0 517.0h.01M100.9 550.7h.01M89.2 532.5h.01M102.6 529.5h.01M102.7 527.8h.01M80.6 525.7h.01M143.8 548.7h.01M119.7 536.7h.01M144.0 509.9h.01M147.7 540.8h.01M136.3 528.7h.01M157.1 552.7h.01M150.9 546.9h.01M108.0 504.1h.01M152.4 539.1h.01M154.1 510.1h.01" stroke="#981a2e" stroke-width="2.0" stroke-linecap="round" fill="none" opacity="0.44"/></g>
<g filter="url(#db)"><path d="M156.6 515.8h.01M131.1 507.0h.01M118.9 526.2h.01M112.7 548.4h.01M87.8 535.1h.01M156.9 547.9h.01M95.5 510.6h.01M73.9 530.6h.01M77.5 503.7h.01M159.9 502.9h.01M161.8 518.0h.01M77.1 512.6h.01M149.9 530.8h.01M77.6 525.9h.01M123.2 518.6h.01M84.7 504.0h.01M159.4 542.3h.01M141.7 542.1h.01M130.7 535.9h.01M152.8 539.2h.01M97.7 541.5h.01M144.7 514.6h.01M115.9 526.4h.01M158.5 537.5h.01M149.8 515.0h.01M165.7 546.6h.01M134.3 541.1h.01M156.0 532.7h.01M113.9 528.7h.01M81.5 510.3h.01M127.7 535.7h.01M168.0 525.4h.01M155.9 538.3h.01M135.8 550.4h.01M150.4 515.2h.01M163.0 514.3h.01M90.4 520.1h.01M115.8 549.2h.01M102.0 539.8h.01M154.1 507.2h.01M156.2 520.7h.01M102.6 507.6h.01M142.7 499.7h.01M149.3 543.6h.01M78.9 510.1h.01M145.2 521.2h.01M81.1 549.3h.01M167.1 519.6h.01M85.1 501.2h.01M140.3 549.3h.01M73.3 525.8h.01M106.8 516.7h.01M83.2 545.7h.01M121.7 539.9h.01M169.1 516.2h.01M169.0 538.7h.01M150.9 541.3h.01M118.6 525.4h.01M141.2 514.3h.01M108.9 548.5h.01M87.4 525.1h.01M108.8 510.3h.01M156.4 510.4h.01M143.2 519.0h.01M97.0 521.4h.01M84.0 521.5h.01M98.7 515.3h.01M159.7 521.4h.01M89.3 534.3h.01M135.2 542.5h.01" stroke="#2f6cc0" stroke-width="1.15" stroke-linecap="round" fill="none" opacity="0.65"/></g>
<g filter="url(#db)"><path d="M163.6 523.6h.01M137.9 548.2h.01M139.7 533.7h.01M122.6 529.5h.01M133.3 502.1h.01M150.0 554.0h.01M77.9 521.1h.01M144.4 532.9h.01M123.1 552.3h.01M157.3 552.9h.01M156.0 548.0h.01M94.5 518.1h.01M169.6 539.7h.01M73.1 508.3h.01M140.6 519.3h.01M131.0 535.0h.01M120.7 550.6h.01M85.9 527.5h.01M92.6 531.3h.01M99.9 512.5h.01M148.9 511.4h.01M89.5 524.0h.01M93.5 499.8h.01M138.5 500.6h.01M117.3 518.9h.01M87.5 519.8h.01M77.4 500.8h.01M93.0 518.6h.01M151.3 520.2h.01M110.3 550.9h.01M147.8 513.3h.01M121.6 514.5h.01M138.3 540.2h.01M96.1 533.6h.01M72.6 502.3h.01M114.5 541.4h.01M105.8 510.6h.01M151.0 545.7h.01M85.4 536.1h.01M158.4 554.5h.01M166.2 531.5h.01M87.4 530.8h.01M73.7 541.1h.01M166.1 526.8h.01M111.4 552.7h.01M108.7 551.2h.01M86.5 530.0h.01M122.6 501.2h.01M86.0 514.0h.01M129.8 506.9h.01M91.6 519.4h.01M123.3 531.5h.01M85.9 540.2h.01M158.4 541.9h.01M106.8 511.9h.01M111.5 499.2h.01M104.0 548.2h.01M114.3 513.0h.01" stroke="#45d060" stroke-width="1.3" stroke-linecap="round" fill="none" opacity="0.85"/></g>
<rect x="174.5" y="498.0" width="99.2" height="57.6" fill="#0a0505"/>
<g filter="url(#db)"><path d="M210.1 516.0h.01M216.0 537.6h.01M211.0 550.8h.01M176.1 500.2h.01M213.4 515.9h.01M254.8 509.9h.01M265.0 514.6h.01M241.3 515.5h.01M253.3 509.6h.01M230.2 515.2h.01M241.8 506.1h.01M219.8 502.3h.01M251.8 521.0h.01M254.6 504.1h.01M201.4 505.5h.01M260.0 509.5h.01M210.3 519.1h.01M255.6 528.3h.01M210.0 538.5h.01M212.6 508.1h.01M208.5 507.8h.01M226.9 521.4h.01M262.9 553.9h.01M238.5 518.3h.01M197.2 535.5h.01M252.5 505.3h.01M222.5 537.0h.01M196.2 530.1h.01M226.8 501.7h.01M269.6 529.0h.01M212.2 543.9h.01M268.6 542.8h.01M215.3 525.9h.01M228.7 539.7h.01M238.5 535.3h.01M229.4 546.4h.01M230.0 544.9h.01M218.3 552.9h.01M266.3 520.0h.01M206.0 514.7h.01M256.7 536.5h.01M266.2 507.6h.01M216.3 520.8h.01M221.4 516.4h.01M259.6 504.7h.01M234.5 551.2h.01M254.5 550.1h.01M209.8 546.3h.01M190.9 550.1h.01M258.7 528.3h.01M213.7 522.1h.01M182.2 535.6h.01M186.5 530.8h.01M196.8 523.9h.01M255.2 526.9h.01M205.2 516.5h.01M238.2 512.0h.01M266.9 499.5h.01M222.3 512.6h.01M248.8 507.6h.01M181.8 548.9h.01M252.1 519.8h.01M213.0 510.3h.01M268.9 512.3h.01M229.9 553.1h.01M229.9 524.5h.01M176.2 506.0h.01M209.1 547.0h.01M180.9 538.2h.01M183.1 499.3h.01M199.2 502.5h.01M206.5 533.2h.01M178.1 546.6h.01M272.3 536.8h.01M257.7 514.0h.01M197.7 535.0h.01M223.2 545.6h.01M243.0 515.2h.01M245.6 509.3h.01M271.9 513.3h.01M245.7 514.6h.01M196.8 504.7h.01M218.8 525.5h.01M260.1 543.0h.01M261.1 516.8h.01M247.3 544.6h.01M184.6 551.4h.01M269.5 507.9h.01M243.1 514.1h.01M204.5 501.5h.01M238.5 533.9h.01M242.9 508.3h.01M236.0 535.5h.01M203.6 551.9h.01M212.3 501.7h.01M268.8 510.6h.01M175.8 520.9h.01M181.7 514.4h.01M222.5 536.7h.01M214.8 499.9h.01M179.5 525.5h.01M190.3 525.0h.01M231.8 535.8h.01M270.4 528.4h.01M272.3 508.1h.01M178.3 533.6h.01M248.1 544.0h.01M177.0 513.5h.01M215.8 548.6h.01M234.0 528.4h.01M184.1 514.6h.01M234.2 522.9h.01M263.4 502.2h.01M187.0 554.3h.01M227.7 513.4h.01M233.5 530.0h.01M179.5 512.1h.01M236.3 550.4h.01M205.3 511.4h.01M269.5 506.0h.01M254.8 522.7h.01M226.4 537.9h.01M204.8 551.7h.01M206.6 501.3h.01M225.9 534.7h.01M241.8 521.3h.01M188.3 526.7h.01M211.9 524.3h.01M187.4 548.2h.01M200.3 552.4h.01" stroke="#30c458" stroke-width="1.35" stroke-linecap="round" fill="none" opacity="0.7"/></g>
<rect x="276.5" y="498.0" width="101.5" height="57.6" fill="#0e0303"/>
<g filter="url(#db)"><path d="M347.4 533.0h.01M325.8 499.7h.01M310.3 516.9h.01M362.9 545.4h.01M339.8 525.6h.01M369.8 499.5h.01M325.2 540.1h.01M316.0 522.5h.01M352.7 509.2h.01M323.6 533.1h.01M333.3 542.0h.01M376.4 519.8h.01M330.6 534.4h.01M366.3 507.4h.01M285.1 548.3h.01M359.4 504.1h.01M367.1 519.8h.01M329.0 527.6h.01M310.2 521.4h.01M288.2 503.3h.01M342.2 552.1h.01M353.0 533.9h.01M322.9 515.4h.01M366.9 502.2h.01M330.7 535.0h.01M312.2 515.5h.01M352.5 500.1h.01M352.7 501.9h.01M289.1 504.1h.01M300.5 540.9h.01M297.1 547.6h.01M308.0 502.4h.01M333.9 524.3h.01M332.0 513.3h.01M300.6 542.0h.01M346.9 510.8h.01M355.7 537.3h.01M289.3 550.3h.01M319.8 547.0h.01M344.0 548.7h.01M286.1 548.1h.01M339.6 520.0h.01M368.6 538.9h.01M340.0 501.3h.01M347.6 519.6h.01M317.2 538.0h.01M346.1 544.9h.01M297.6 546.1h.01M321.6 502.2h.01M364.1 510.1h.01M333.4 528.4h.01M286.5 515.5h.01M281.4 529.7h.01M283.7 511.6h.01M369.6 521.5h.01M321.8 503.4h.01M369.3 531.7h.01M307.5 531.6h.01M319.7 537.6h.01M318.4 518.5h.01M307.9 542.4h.01M354.9 538.2h.01M368.5 521.5h.01M359.3 532.2h.01M309.9 503.0h.01M350.0 505.3h.01M324.5 524.3h.01M286.6 549.7h.01M315.9 550.2h.01M368.2 503.6h.01M312.4 532.2h.01M325.4 543.6h.01M312.2 508.7h.01M362.3 516.6h.01M295.4 499.9h.01M281.7 519.4h.01M355.0 508.4h.01M302.5 517.3h.01M370.6 548.7h.01M355.7 514.1h.01M338.6 507.9h.01M357.2 528.0h.01M281.3 515.4h.01M323.9 517.5h.01M307.8 553.3h.01M335.1 552.8h.01M311.0 542.8h.01M301.7 542.0h.01M369.7 517.3h.01M281.7 540.9h.01M352.0 551.0h.01M294.5 552.8h.01M294.9 530.8h.01M279.9 530.6h.01M362.9 520.4h.01M284.3 520.6h.01M337.5 545.0h.01M305.9 540.0h.01M372.6 532.1h.01M320.4 544.6h.01M316.0 519.6h.01M326.8 520.2h.01M313.1 542.1h.01M353.1 538.8h.01M315.8 544.7h.01M353.4 519.7h.01M310.6 529.0h.01M338.4 554.1h.01M290.6 508.6h.01M374.3 512.7h.01M349.0 514.3h.01M325.2 502.6h.01M337.4 538.1h.01M292.6 517.9h.01M331.8 501.6h.01M300.9 512.8h.01M287.3 511.6h.01M288.2 508.4h.01M306.3 530.7h.01M299.5 534.7h.01M309.4 504.4h.01M331.5 507.0h.01M295.7 552.9h.01M340.3 516.7h.01M339.5 530.2h.01M357.8 507.4h.01M367.8 545.6h.01M333.8 523.9h.01M373.0 531.6h.01M301.6 547.8h.01M367.6 507.2h.01M283.8 515.5h.01M296.3 519.3h.01M370.0 553.0h.01M297.3 507.0h.01M333.6 514.1h.01M374.9 544.6h.01M325.5 534.3h.01M280.4 511.7h.01M326.1 529.8h.01M341.3 548.7h.01M308.0 529.8h.01M303.1 499.6h.01M316.5 507.7h.01M373.2 518.9h.01M290.7 512.5h.01M339.8 506.0h.01M278.1 507.8h.01M313.7 517.0h.01M291.1 505.0h.01M330.8 540.8h.01M289.1 515.1h.01M317.6 504.1h.01M364.8 533.8h.01M338.0 515.1h.01M279.0 530.6h.01M327.1 541.7h.01M350.9 505.7h.01M349.3 546.0h.01M289.1 540.9h.01M343.0 540.1h.01M351.3 552.5h.01M279.1 542.9h.01M375.1 528.2h.01M327.4 506.8h.01M374.6 551.0h.01M374.8 504.4h.01M289.9 502.9h.01M304.0 532.2h.01M333.1 499.6h.01M365.1 550.8h.01M281.2 503.0h.01M305.0 520.5h.01M353.0 520.2h.01M314.9 523.6h.01M374.1 519.8h.01M352.7 525.3h.01M367.7 512.1h.01M369.4 522.9h.01M339.9 525.7h.01M299.5 540.4h.01M351.4 536.4h.01M294.1 526.0h.01M294.6 515.7h.01M369.6 538.4h.01M365.5 526.3h.01M350.7 509.3h.01M309.8 543.3h.01M352.5 510.3h.01M359.4 512.5h.01M364.5 547.4h.01M303.0 518.8h.01M296.7 550.4h.01M307.1 504.6h.01M292.4 551.8h.01M326.1 515.0h.01M359.5 552.8h.01M280.3 528.5h.01M371.4 548.4h.01M333.6 529.5h.01M314.1 522.9h.01M326.5 509.2h.01M305.3 517.3h.01M343.8 530.1h.01M346.1 544.6h.01M288.9 536.8h.01M301.4 549.1h.01M321.5 501.8h.01M318.3 526.0h.01M361.7 508.2h.01" stroke="#a01018" stroke-width="2.0" stroke-linecap="round" fill="none" opacity="0.42"/></g>
<text x="17.8" y="587.1" font-size="11.3" text-anchor="middle" transform="rotate(-90 17.8 587.1)">MP-14d</text>
<clipPath id="cs3"><rect x="21" y="558.3" width="48.3" height="57.6"/></clipPath>
<rect x="21" y="558.3" width="48.3" height="57.6" fill="#1d1030"/>
<g clip-path="url(#cs3)">
<path d="M69.3 575.5799999999999L59.64 587.0999999999999L50.946 615.9L69.3 615.9Z" fill="#0d1634"/>
<path d="M34.7 581.1h.01M46.4 605.7h.01M32.4 573.5h.01M36.5 568.7h.01M51.4 583.2h.01M39.8 569.0h.01M64.0 558.5h.01M50.2 580.8h.01M35.8 608.2h.01M38.1 561.9h.01M67.2 605.8h.01M39.0 599.5h.01M32.6 571.1h.01M62.0 595.7h.01M64.1 574.4h.01M47.3 569.8h.01M45.3 582.8h.01M29.6 576.2h.01M34.6 595.0h.01M54.5 573.9h.01M63.8 567.6h.01M53.0 611.5h.01M58.8 607.9h.01M52.3 610.9h.01M67.9 566.2h.01M67.3 584.8h.01M44.7 606.2h.01M46.3 603.1h.01M57.0 569.0h.01M40.0 586.0h.01M57.9 602.5h.01M48.8 590.8h.01M50.3 579.6h.01M39.5 560.4h.01M37.4 598.7h.01M48.9 599.7h.01M42.0 594.2h.01M53.9 569.9h.01M34.0 564.5h.01M53.2 592.2h.01M29.1 579.4h.01M53.5 586.2h.01M48.0 564.4h.01M37.2 600.4h.01M37.1 601.5h.01M45.4 564.0h.01M53.5 581.6h.01M67.4 606.5h.01M54.4 581.0h.01M61.0 580.5h.01M50.3 611.1h.01M61.7 611.0h.01M54.8 596.6h.01M60.3 565.0h.01M35.6 585.7h.01M56.7 606.0h.01M28.4 570.6h.01M22.7 572.8h.01M42.4 586.3h.01M38.5 591.0h.01M25.3 586.0h.01M53.2 585.2h.01M68.4 602.1h.01M23.9 593.0h.01M58.7 561.9h.01M29.2 608.4h.01M44.5 562.9h.01M41.1 569.4h.01M51.1 565.3h.01M45.7 595.2h.01M65.1 601.9h.01M53.9 572.2h.01M27.5 613.5h.01M65.2 562.1h.01M55.3 566.8h.01M35.1 596.4h.01M24.9 602.9h.01M21.2 579.4h.01M21.6 604.3h.01M37.3 606.3h.01M56.7 608.9h.01M63.1 582.6h.01M32.5 566.3h.01M57.9 615.0h.01M59.0 604.7h.01M46.3 610.8h.01M25.4 603.8h.01M32.5 572.0h.01M62.3 560.6h.01M61.0 603.0h.01M52.6 596.1h.01M33.8 571.2h.01M44.5 558.4h.01M50.6 566.0h.01M36.8 597.7h.01M65.0 564.3h.01M52.1 595.3h.01M25.0 610.6h.01M61.5 590.6h.01M46.0 602.1h.01M65.0 570.7h.01M41.2 610.5h.01M26.9 597.7h.01M23.0 595.5h.01M43.3 610.1h.01M28.1 611.7h.01M49.2 561.5h.01M29.5 566.1h.01M35.1 605.4h.01M49.8 581.1h.01M53.0 558.4h.01M25.0 581.9h.01M50.5 593.2h.01M27.9 574.4h.01M25.8 595.3h.01M36.8 577.3h.01M62.9 588.8h.01M29.1 585.8h.01M30.5 604.0h.01M34.0 614.4h.01M30.5 600.6h.01M24.4 586.0h.01M22.4 590.0h.01M51.2 572.0h.01M65.7 564.3h.01M48.9 591.9h.01M58.0 576.3h.01M21.4 593.6h.01M53.3 585.4h.01M34.4 574.6h.01M33.0 608.5h.01M42.9 562.2h.01M52.5 587.1h.01M40.5 572.2h.01M64.0 567.2h.01M31.4 577.4h.01M35.7 571.0h.01M53.8 563.3h.01M54.7 570.2h.01M52.0 565.9h.01M48.6 596.9h.01M30.5 602.8h.01M68.1 570.1h.01M29.7 558.3h.01M52.4 612.4h.01M30.9 574.2h.01M59.1 562.5h.01M21.6 592.7h.01M47.3 590.5h.01M52.5 571.8h.01M64.9 597.4h.01M64.6 580.2h.01M32.7 561.4h.01M55.0 586.5h.01M32.3 591.2h.01M52.2 601.8h.01M52.0 578.9h.01M26.9 602.6h.01M26.8 613.3h.01M41.9 582.2h.01M21.6 566.9h.01M39.8 584.9h.01M58.7 562.3h.01M22.9 563.2h.01M52.5 567.3h.01M44.4 562.4h.01M49.6 575.3h.01M39.5 571.0h.01M23.2 587.4h.01M41.5 578.6h.01M58.2 601.8h.01M49.2 574.1h.01M46.1 577.7h.01M26.4 562.7h.01M65.2 592.1h.01M64.6 590.3h.01M60.5 567.8h.01M55.2 558.9h.01M38.3 608.4h.01M23.6 564.3h.01M67.7 564.7h.01M54.2 610.7h.01M31.9 608.8h.01M27.0 582.6h.01M33.6 568.2h.01M40.3 614.1h.01M32.4 587.3h.01M35.8 562.3h.01M42.5 612.7h.01M62.2 567.9h.01M43.6 576.0h.01M64.0 579.7h.01M27.7 574.9h.01M42.9 596.0h.01M57.9 609.5h.01M23.4 607.5h.01M66.2 582.8h.01M38.3 605.7h.01M42.7 600.8h.01M65.9 603.8h.01M44.6 573.1h.01M23.5 561.7h.01M65.8 586.7h.01M22.7 607.8h.01M28.0 599.0h.01M39.2 602.0h.01M65.6 581.5h.01M41.3 604.2h.01M21.1 586.9h.01M59.9 591.1h.01M30.3 592.8h.01M63.9 598.9h.01M40.5 585.9h.01M25.4 615.5h.01M49.4 579.0h.01M42.6 576.7h.01M62.7 559.2h.01M59.1 604.6h.01M54.9 563.9h.01M53.0 582.9h.01M68.6 597.8h.01M42.8 592.8h.01M67.6 606.0h.01M55.7 597.6h.01M52.6 610.3h.01M53.8 588.5h.01M60.2 582.8h.01M43.0 615.5h.01M33.1 594.9h.01M37.4 583.5h.01M50.9 560.8h.01M58.2 565.1h.01M52.9 579.5h.01M66.1 572.4h.01M31.1 577.7h.01M56.3 600.1h.01M30.4 610.5h.01M56.3 588.4h.01M41.1 608.3h.01M53.1 560.5h.01M42.3 612.1h.01M48.8 607.1h.01M66.8 610.7h.01M40.6 560.7h.01M21.2 614.0h.01M42.4 578.8h.01M27.0 602.0h.01M61.8 596.1h.01M41.9 591.1h.01M55.5 604.4h.01M21.0 598.4h.01M23.9 579.8h.01M54.9 577.6h.01M49.7 565.6h.01M58.7 595.3h.01M25.0 606.6h.01M54.8 604.7h.01M62.6 614.1h.01M36.5 600.9h.01M69.2 587.8h.01" stroke="#5a2040" stroke-width="0.55" stroke-linecap="round" fill="none" opacity="0.7"/>
<path d="M34.9 591.4h.01M29.3 560.2h.01M51.4 570.0h.01M23.1 584.3h.01M62.3 606.0h.01M61.5 575.7h.01M65.4 596.8h.01M55.2 581.8h.01M53.2 601.0h.01M52.1 613.9h.01M42.3 602.9h.01M50.1 597.6h.01M65.3 558.9h.01M55.2 579.2h.01M28.1 615.7h.01M35.3 570.4h.01M51.3 558.9h.01M54.0 576.9h.01M22.3 609.3h.01M30.1 605.7h.01M52.3 593.9h.01M53.5 575.7h.01M53.0 591.4h.01M21.9 575.3h.01M24.5 599.6h.01M25.9 586.9h.01M61.5 597.0h.01M23.8 596.6h.01M37.0 587.1h.01M63.3 562.5h.01M29.5 558.9h.01M33.0 576.7h.01M54.1 613.7h.01M32.9 575.2h.01M31.9 581.7h.01M50.7 573.3h.01M55.6 597.2h.01M58.5 577.7h.01M32.3 612.8h.01M39.8 602.9h.01M36.0 612.1h.01M21.2 596.3h.01M57.2 589.4h.01M23.2 600.5h.01M67.9 612.5h.01M21.7 574.9h.01M68.5 565.3h.01M43.4 582.8h.01M37.1 558.6h.01M32.1 605.9h.01M27.7 607.0h.01M50.3 574.2h.01M38.1 611.7h.01M22.7 603.2h.01M28.1 601.2h.01M22.9 588.8h.01M27.0 593.1h.01M25.7 561.8h.01M61.6 609.7h.01M66.3 596.7h.01M21.2 608.0h.01M27.1 591.9h.01M32.7 566.4h.01M43.7 596.8h.01M64.4 567.4h.01M68.5 572.8h.01M64.2 567.0h.01M44.1 560.1h.01M63.4 561.2h.01M35.7 590.0h.01M41.2 565.8h.01M22.1 570.1h.01M30.7 583.0h.01M60.8 569.9h.01M45.7 594.0h.01M57.3 599.5h.01M24.5 607.2h.01M51.3 563.1h.01M60.6 607.4h.01M25.9 600.9h.01M43.8 569.5h.01M48.5 576.3h.01M24.6 614.9h.01M23.3 574.8h.01M60.3 582.7h.01M29.7 582.5h.01M28.9 611.5h.01M34.9 561.9h.01M58.0 561.2h.01M24.1 559.8h.01M38.9 564.8h.01M21.1 607.7h.01M47.4 585.1h.01M46.5 614.3h.01M43.6 581.8h.01M41.5 591.3h.01M56.6 607.7h.01M66.4 615.6h.01M38.1 560.1h.01M62.0 602.9h.01M68.3 572.0h.01M39.6 589.6h.01M31.0 586.7h.01M36.0 568.5h.01M62.8 585.1h.01M55.5 577.5h.01M47.3 602.3h.01M39.8 560.0h.01M36.6 578.9h.01M49.0 585.0h.01M53.8 573.3h.01M49.5 580.9h.01M48.3 586.6h.01M39.0 593.2h.01M54.8 606.9h.01M61.8 579.8h.01M23.0 591.6h.01M55.4 571.6h.01M55.2 614.5h.01M52.1 558.5h.01" stroke="#3a3a78" stroke-width="0.5" stroke-linecap="round" fill="none" opacity="0.8"/>
<path d="M21.6 558.9L63.504 582.492L52.878 615.3L21.6 615.3Z" fill="none" stroke="#fff" stroke-width="1.25" stroke-dasharray="2.6 1"/>
<rect x="26.9" y="589.0" width="21" height="12.4" fill="none" stroke="#fff" stroke-width="1.35" stroke-dasharray="2.6 0.9"/>
<path d="M47.9 589.0L67.8 560.8M47.9 601.4L67.8 613.4" stroke="#fff" stroke-width="1.1" fill="none"/>
<path d="M69.3 558.3l-5.6 2.2l3.6 3.2z" fill="#fff"/>
<path d="M69.3 615.9l-5.6 -2.2l3.6 -3.2z" fill="#fff"/>
</g>
<rect x="71.2" y="558.3" width="100.6" height="57.6" fill="#10060e"/>
<g filter="url(#db)"><path d="M96.5 595.5h.01M74.3 604.0h.01M109.8 604.2h.01M129.4 590.3h.01M158.9 607.7h.01M82.9 610.6h.01M151.7 583.4h.01M113.1 601.3h.01M161.9 571.7h.01M164.2 600.0h.01M114.9 584.2h.01M118.6 584.1h.01M81.3 607.6h.01M116.4 593.6h.01M161.7 577.7h.01M77.0 606.0h.01M103.0 605.9h.01M155.9 578.8h.01M149.1 581.8h.01M74.5 607.5h.01M73.8 570.7h.01M157.5 585.6h.01M154.8 602.5h.01M128.0 583.5h.01M115.2 594.3h.01M93.7 602.3h.01M94.1 598.5h.01M106.2 594.5h.01M89.9 607.1h.01M91.0 565.5h.01M115.3 595.2h.01M86.4 572.3h.01M121.5 601.1h.01M112.2 606.5h.01M81.6 607.1h.01M129.1 583.6h.01M135.2 605.6h.01M165.8 604.8h.01M95.7 591.8h.01M116.3 598.1h.01M104.2 588.7h.01M159.0 561.9h.01M96.5 599.6h.01M124.9 593.0h.01M118.7 565.0h.01M108.2 578.8h.01M133.3 590.2h.01M151.8 591.0h.01M120.8 565.0h.01M90.7 570.2h.01M116.1 604.0h.01M107.4 586.7h.01M101.2 603.1h.01M103.9 598.3h.01M81.1 584.8h.01M169.5 576.4h.01M154.0 603.4h.01M102.4 584.0h.01M164.8 593.9h.01M148.4 570.1h.01M162.9 587.7h.01M90.2 579.4h.01M78.2 599.1h.01M97.8 603.9h.01M138.3 581.0h.01M163.3 567.4h.01M114.6 596.1h.01M108.5 590.3h.01M82.3 590.0h.01M168.5 580.1h.01M75.1 566.8h.01M96.0 564.8h.01M99.2 591.1h.01M113.8 581.6h.01M167.4 579.9h.01M140.1 577.4h.01M142.7 584.1h.01M158.5 560.8h.01M122.9 612.5h.01M87.2 595.5h.01M84.4 605.5h.01M105.2 610.4h.01M159.2 575.5h.01M165.5 608.1h.01M145.0 575.5h.01M124.2 603.5h.01M88.7 597.7h.01M101.5 605.5h.01M84.7 567.9h.01M163.5 591.3h.01M142.7 590.1h.01M169.6 614.1h.01M116.6 582.9h.01M141.5 586.8h.01M132.6 598.7h.01M166.1 569.4h.01M127.8 604.4h.01M99.1 589.8h.01M145.2 587.7h.01M132.3 581.9h.01M91.2 590.2h.01M76.0 579.5h.01M91.7 608.0h.01M76.9 592.5h.01M87.9 564.0h.01M146.3 595.4h.01M83.6 588.7h.01M120.6 594.7h.01M111.5 611.4h.01M123.5 575.8h.01M154.4 607.0h.01M136.9 560.1h.01M136.1 582.4h.01M86.5 583.7h.01M128.1 573.2h.01M129.9 584.4h.01M129.9 600.0h.01M156.7 575.4h.01M126.1 595.8h.01M109.1 564.6h.01M141.2 603.8h.01M111.3 565.5h.01M83.9 565.3h.01M129.1 612.7h.01M73.0 598.6h.01M162.3 589.0h.01M91.7 598.3h.01M158.2 590.7h.01M129.4 601.5h.01M169.5 606.4h.01M81.8 598.5h.01M131.7 611.8h.01M117.2 607.8h.01M75.1 597.4h.01M159.0 602.2h.01M93.5 588.6h.01M125.8 607.1h.01M152.6 574.4h.01M168.9 600.5h.01M133.9 562.0h.01M110.0 569.9h.01M86.2 563.6h.01M155.3 578.5h.01M140.5 570.7h.01M133.2 581.3h.01M135.8 586.4h.01M162.1 595.6h.01M148.3 597.2h.01M79.8 583.8h.01M143.4 579.2h.01M151.0 613.4h.01M103.0 590.5h.01M89.6 592.0h.01M95.9 589.0h.01M127.1 575.8h.01M138.1 564.5h.01M104.9 560.4h.01M85.3 565.0h.01M75.4 560.7h.01M94.3 609.3h.01M168.3 581.2h.01M137.4 579.0h.01M155.8 599.3h.01M131.0 596.0h.01M147.4 570.3h.01M142.6 611.9h.01M137.3 586.8h.01M155.8 575.2h.01M87.4 593.4h.01M99.3 581.4h.01M123.8 612.6h.01M116.6 594.1h.01M82.8 584.7h.01M162.2 576.1h.01M154.0 578.2h.01M111.6 578.3h.01M77.4 611.0h.01M98.5 610.5h.01M82.8 602.4h.01M124.1 582.0h.01M138.2 597.3h.01M168.2 610.6h.01M163.0 569.5h.01M113.8 578.5h.01M93.0 586.2h.01M96.3 590.5h.01M164.9 592.5h.01M140.3 582.3h.01M93.1 584.0h.01M128.4 584.4h.01" stroke="#981a2e" stroke-width="2.0" stroke-linecap="round" fill="none" opacity="0.44"/></g>
<g filter="url(#db)"><path d="M137.1 609.1h.01M100.2 585.0h.01M136.6 613.8h.01M109.0 605.1h.01M85.8 571.8h.01M79.7 586.5h.01M139.9 609.0h.01M90.4 563.1h.01M139.3 575.8h.01M157.2 601.6h.01M103.2 606.5h.01M168.1 603.6h.01M157.9 587.1h.01M138.2 614.5h.01M158.6 570.0h.01M102.0 588.1h.01M104.1 613.0h.01M93.7 598.9h.01M100.3 568.2h.01M155.4 605.7h.01M104.2 599.6h.01M75.5 599.2h.01M124.2 576.5h.01M160.3 596.5h.01M82.6 561.6h.01M76.9 595.3h.01M159.5 592.0h.01M156.1 601.1h.01M77.4 608.6h.01M166.8 611.0h.01M90.4 561.0h.01M101.0 602.5h.01M91.7 572.2h.01M131.1 601.4h.01M162.8 575.8h.01M96.8 579.3h.01M157.0 569.6h.01M144.9 611.2h.01M159.0 599.3h.01M141.1 593.6h.01M83.5 597.5h.01M129.9 613.1h.01M150.6 590.8h.01M74.1 579.9h.01M158.7 574.9h.01M97.3 598.2h.01M100.1 561.9h.01M135.5 591.6h.01M170.7 612.3h.01M147.7 563.6h.01M166.1 568.4h.01M84.8 602.8h.01M105.9 578.2h.01M128.8 587.3h.01M152.5 562.3h.01M169.2 590.6h.01M132.4 584.5h.01M153.0 602.2h.01M92.2 569.6h.01M113.7 586.3h.01M145.2 569.3h.01M119.3 572.3h.01M158.3 584.7h.01M142.6 605.6h.01M108.2 583.5h.01M147.7 567.4h.01M73.1 574.6h.01M158.9 590.3h.01M81.8 593.2h.01M101.1 590.1h.01" stroke="#2f6cc0" stroke-width="1.15" stroke-linecap="round" fill="none" opacity="0.65"/></g>
<g filter="url(#db)"><path d="M119.2 591.9h.01M167.7 581.0h.01M124.4 599.6h.01M163.1 602.2h.01M72.8 597.1h.01M134.0 576.5h.01M84.2 598.3h.01M111.0 591.9h.01M136.5 611.8h.01" stroke="#45d060" stroke-width="1.3" stroke-linecap="round" fill="none" opacity="0.43000000000000005"/></g>
<rect x="174.5" y="558.3" width="99.2" height="57.6" fill="#0a0505"/>
<g filter="url(#db)"><path d="M214.8 606.5h.01M180.1 564.7h.01M207.0 574.7h.01M221.0 589.3h.01M256.0 587.4h.01M254.9 581.9h.01M200.6 599.5h.01M231.4 600.8h.01M259.2 579.1h.01M207.5 599.0h.01M188.4 590.4h.01M260.2 579.7h.01M202.6 584.0h.01M204.6 588.4h.01M237.8 609.2h.01M221.0 584.8h.01M218.4 569.2h.01M233.1 562.5h.01M257.0 586.1h.01M219.2 608.0h.01M244.8 606.4h.01M187.4 587.2h.01" stroke="#30c458" stroke-width="1.35" stroke-linecap="round" fill="none" opacity="0.28"/></g>
<rect x="276.5" y="558.3" width="101.5" height="57.6" fill="#0e0303"/>
<g filter="url(#db)"><path d="M281.9 587.7h.01M337.2 593.7h.01M339.0 592.6h.01M328.3 599.0h.01M279.3 590.6h.01M318.8 582.7h.01M348.1 594.9h.01M373.7 592.0h.01M310.6 598.3h.01M313.9 596.4h.01M365.9 574.8h.01M364.6 594.7h.01M307.0 571.7h.01M309.1 603.8h.01M300.4 609.4h.01M352.7 591.2h.01M302.9 563.2h.01M289.4 603.2h.01M358.2 590.0h.01M368.2 593.4h.01M340.5 608.7h.01M347.2 576.4h.01M373.3 565.4h.01M350.5 577.0h.01M364.5 589.4h.01M309.1 593.6h.01M286.6 610.6h.01M324.8 591.8h.01M349.9 595.3h.01M326.6 587.3h.01M328.7 603.3h.01M293.7 594.7h.01M300.3 581.1h.01M286.9 598.3h.01M353.5 560.7h.01M334.5 585.4h.01M299.4 564.0h.01M342.6 561.8h.01M349.0 601.1h.01M313.6 563.5h.01M374.8 562.0h.01M345.4 608.9h.01M338.6 570.2h.01M303.4 572.3h.01M336.4 613.3h.01M352.3 612.4h.01M344.4 597.0h.01M342.7 612.2h.01M338.3 573.8h.01M307.5 588.5h.01M350.0 592.1h.01M351.7 588.4h.01M318.7 569.3h.01M367.3 569.9h.01M309.5 609.6h.01M298.4 578.3h.01M298.5 611.9h.01M334.7 573.4h.01M298.5 600.5h.01M306.9 567.0h.01M324.0 580.6h.01M301.5 586.1h.01M334.1 598.7h.01M342.3 575.9h.01M281.6 606.6h.01M362.2 600.6h.01M346.7 559.9h.01M363.5 564.5h.01M302.8 594.8h.01M359.0 582.1h.01M293.8 606.5h.01M301.5 579.1h.01M309.1 584.3h.01M348.2 600.1h.01M373.9 563.0h.01M287.6 562.9h.01M278.3 587.4h.01M301.4 596.1h.01M336.0 586.5h.01M280.1 591.5h.01M322.3 595.5h.01M317.7 600.6h.01M303.4 578.2h.01M331.5 580.9h.01M292.4 569.3h.01M350.0 565.8h.01M301.7 585.7h.01M368.3 582.8h.01M346.0 576.5h.01M342.7 573.9h.01M323.0 597.2h.01M305.5 571.0h.01M299.9 588.0h.01M331.7 582.8h.01M333.1 577.6h.01M320.6 569.4h.01M280.5 597.0h.01M292.2 599.5h.01M297.5 583.1h.01M306.9 607.2h.01M326.4 577.0h.01M359.1 610.4h.01M293.7 566.0h.01M348.7 586.7h.01M332.4 585.6h.01M324.0 566.8h.01M298.0 576.2h.01M290.0 599.6h.01M354.8 599.2h.01M313.8 587.5h.01M351.3 605.8h.01M283.7 571.5h.01M292.8 573.3h.01M361.0 566.5h.01M323.4 559.8h.01M360.9 610.9h.01M306.0 566.2h.01M368.9 606.7h.01M337.2 611.1h.01M337.4 589.9h.01M330.9 570.4h.01M334.5 614.4h.01M310.1 597.1h.01M354.9 608.3h.01M370.5 589.1h.01M371.4 600.7h.01M300.7 584.7h.01M354.4 599.6h.01M281.4 611.0h.01M361.7 613.6h.01M284.1 611.3h.01M298.8 598.7h.01M342.1 600.4h.01M324.3 602.4h.01M307.1 604.3h.01M322.0 562.3h.01M336.5 604.4h.01M316.3 569.6h.01M374.1 588.8h.01M359.7 602.9h.01M278.1 600.4h.01M350.9 594.2h.01M300.1 591.7h.01M348.7 565.7h.01M282.6 576.6h.01M319.5 580.5h.01M346.4 600.3h.01M306.5 603.0h.01M289.2 604.1h.01M326.4 571.4h.01M370.0 572.5h.01M338.2 597.1h.01M313.9 614.1h.01M358.2 579.3h.01M359.6 587.9h.01M341.7 593.8h.01M284.9 587.6h.01M310.7 563.9h.01M323.3 611.2h.01M363.6 594.5h.01M318.5 614.1h.01M350.1 567.2h.01M332.1 601.4h.01M369.1 613.1h.01M300.1 602.5h.01M348.0 612.1h.01M327.7 613.0h.01M351.2 579.2h.01M362.0 611.4h.01M304.6 593.2h.01M294.3 568.8h.01M335.3 572.2h.01M293.5 582.2h.01M355.2 596.1h.01M316.8 584.1h.01M299.9 587.8h.01M331.0 591.2h.01M319.5 596.2h.01M339.7 567.2h.01M283.1 593.3h.01M309.4 587.8h.01M298.8 588.6h.01M301.5 571.7h.01M288.5 614.3h.01M311.4 587.9h.01M307.3 601.3h.01M361.8 583.4h.01M279.7 592.7h.01M345.7 574.6h.01M361.1 574.8h.01" stroke="#a01018" stroke-width="2.0" stroke-linecap="round" fill="none" opacity="0.42"/></g>
<text x="17.8" y="647.4" font-size="11.3" text-anchor="middle" transform="rotate(-90 17.8 647.4)">MP-28d</text>
<clipPath id="cs4"><rect x="21" y="618.6" width="48.3" height="57.6"/></clipPath>
<rect x="21" y="618.6" width="48.3" height="57.6" fill="#1b1230"/>
<g clip-path="url(#cs4)">
<path d="M69.3 635.88L59.64 647.4L50.946 676.2L69.3 676.2Z" fill="#0d1634"/>
<path d="M65.5 652.3h.01M60.6 658.6h.01M29.6 669.5h.01M55.7 675.7h.01M35.1 668.6h.01M50.9 674.5h.01M47.3 637.4h.01M68.4 676.1h.01M40.2 619.8h.01M22.0 623.2h.01M53.2 621.1h.01M30.1 675.3h.01M39.2 668.0h.01M39.2 624.9h.01M38.2 624.3h.01M22.4 676.2h.01M34.4 621.1h.01M38.9 666.9h.01M32.7 675.7h.01M48.7 625.5h.01M57.6 665.8h.01M63.2 635.9h.01M34.8 665.9h.01M56.8 639.6h.01M45.2 629.6h.01M66.4 669.1h.01M56.7 621.7h.01M34.0 674.1h.01M44.8 675.9h.01M25.0 620.5h.01M22.6 675.8h.01M68.4 642.0h.01M60.9 649.0h.01M58.6 622.9h.01M33.5 673.1h.01M35.1 630.3h.01M34.0 656.3h.01M37.0 653.8h.01M43.3 667.4h.01M61.8 660.5h.01M28.5 650.7h.01M30.1 659.7h.01M52.0 674.4h.01M69.2 648.1h.01M36.6 653.7h.01M68.6 621.3h.01M65.4 661.2h.01M46.5 661.6h.01M33.7 625.7h.01M34.3 674.3h.01M45.7 634.5h.01M51.6 630.4h.01M26.9 627.1h.01M64.6 650.6h.01M40.9 626.1h.01M46.1 655.2h.01M62.8 644.3h.01M54.4 674.5h.01M25.6 658.4h.01M42.2 658.1h.01M55.9 666.2h.01M35.1 663.3h.01M43.8 672.0h.01M55.2 644.3h.01M60.1 632.7h.01M34.8 675.0h.01M22.5 629.4h.01M28.4 673.5h.01M34.8 643.3h.01M45.4 624.8h.01M28.5 664.8h.01M64.1 668.7h.01M27.1 666.2h.01M42.1 636.5h.01M22.0 623.6h.01M23.9 633.2h.01M26.2 629.9h.01M38.7 650.5h.01M49.0 673.7h.01M50.5 625.6h.01M32.7 634.8h.01M34.5 619.0h.01M48.1 628.2h.01M39.8 664.7h.01M32.9 651.7h.01M57.8 633.9h.01M56.1 638.9h.01M42.2 670.5h.01M60.1 623.3h.01M44.7 663.1h.01M46.5 620.7h.01M57.7 633.7h.01M57.4 657.1h.01M55.1 670.5h.01M22.7 644.7h.01M37.2 628.0h.01M59.3 639.7h.01M23.9 635.2h.01M54.7 664.5h.01M42.3 667.1h.01M26.7 644.1h.01M28.0 640.3h.01M25.1 622.7h.01M66.0 622.8h.01M47.4 658.0h.01M34.2 675.1h.01M23.6 659.7h.01M60.1 620.4h.01M60.1 627.7h.01M54.4 675.5h.01M65.9 669.3h.01M24.6 660.6h.01M47.9 626.0h.01M60.7 651.7h.01M55.5 652.6h.01M38.6 649.4h.01M43.0 669.3h.01M44.8 645.0h.01M61.5 634.4h.01M28.8 643.3h.01M26.4 641.4h.01M65.9 664.6h.01M38.2 675.7h.01M66.8 653.3h.01M29.6 653.9h.01M45.3 656.2h.01M63.7 637.1h.01M50.1 664.6h.01M65.3 673.3h.01M21.2 642.9h.01M59.7 669.1h.01M67.9 673.5h.01M27.2 623.7h.01M29.3 633.5h.01M37.9 640.8h.01M45.7 639.7h.01M28.2 663.5h.01M52.9 633.9h.01M69.1 645.5h.01M68.4 639.0h.01M53.7 672.8h.01M49.2 637.3h.01M65.2 670.7h.01M47.6 624.8h.01M44.1 645.8h.01M60.3 631.6h.01M62.1 675.0h.01M68.2 651.9h.01M32.0 620.7h.01M40.2 658.7h.01M55.8 674.4h.01M24.1 646.8h.01M61.3 675.4h.01M24.1 670.0h.01M26.2 628.9h.01M35.1 622.5h.01M55.3 657.9h.01M45.0 654.1h.01M64.8 673.5h.01M35.2 631.4h.01M27.8 654.9h.01M40.3 669.5h.01M27.8 673.0h.01M49.9 634.2h.01M36.6 622.2h.01M40.3 658.3h.01M40.0 632.3h.01M60.2 638.2h.01M34.0 637.3h.01M27.6 630.2h.01M66.5 664.7h.01M35.3 673.0h.01M49.9 673.2h.01M27.1 667.4h.01M67.7 649.0h.01M54.0 674.7h.01M47.1 625.7h.01M35.4 673.7h.01M46.3 671.4h.01M21.6 663.3h.01M35.2 668.7h.01M62.1 653.2h.01M30.2 625.4h.01M67.6 653.5h.01M63.1 628.9h.01M30.2 620.9h.01M58.4 622.0h.01M62.6 649.5h.01M21.2 658.9h.01M49.1 656.8h.01M48.9 659.6h.01M27.4 667.5h.01M55.9 650.1h.01M63.6 638.8h.01M45.8 656.2h.01M24.5 646.1h.01M23.9 627.3h.01M43.9 662.2h.01M63.2 666.3h.01M61.3 630.5h.01M44.0 624.1h.01M57.0 647.6h.01M47.8 635.7h.01M33.8 659.8h.01M22.1 668.7h.01M49.0 675.7h.01M43.0 657.1h.01M65.3 661.5h.01M43.6 671.2h.01M42.1 639.0h.01M43.0 670.4h.01M35.9 671.5h.01M32.2 643.7h.01M43.2 650.6h.01M32.1 648.2h.01M34.2 662.8h.01M63.3 648.1h.01M30.1 669.1h.01M60.1 637.6h.01M61.3 631.8h.01M24.7 647.6h.01M60.6 670.8h.01M53.2 663.4h.01M65.5 638.1h.01M69.0 641.0h.01M38.4 668.9h.01M36.9 651.2h.01M52.2 644.0h.01M38.9 626.7h.01M34.5 650.3h.01M36.2 630.3h.01M36.3 621.7h.01M30.5 620.6h.01M24.9 649.0h.01M58.5 656.5h.01M41.0 673.0h.01M58.8 633.2h.01M29.4 654.2h.01M27.7 636.3h.01M22.0 670.7h.01M65.6 654.8h.01M66.2 654.1h.01M68.7 657.9h.01M67.7 670.5h.01M30.5 638.4h.01M56.0 673.9h.01M35.0 649.8h.01M22.5 650.2h.01M44.3 665.2h.01M26.1 618.9h.01M25.4 633.9h.01M49.0 651.4h.01M44.6 622.9h.01M38.0 665.8h.01M33.6 644.1h.01M46.4 632.2h.01M32.8 663.4h.01M30.7 657.3h.01M35.4 672.5h.01M60.1 618.9h.01" stroke="#5a2040" stroke-width="0.55" stroke-linecap="round" fill="none" opacity="0.7"/>
<path d="M57.4 631.0h.01M52.9 626.4h.01M68.4 635.8h.01M39.9 674.9h.01M43.6 657.1h.01M54.3 667.0h.01M57.4 659.6h.01M69.0 654.3h.01M62.4 652.8h.01M22.9 633.8h.01M64.1 629.2h.01M32.5 671.7h.01M55.1 649.2h.01M24.5 622.4h.01M24.0 674.7h.01M31.6 649.7h.01M45.7 645.6h.01M59.8 625.3h.01M60.0 655.6h.01M24.3 671.2h.01M26.5 672.0h.01M38.8 647.1h.01M29.7 644.0h.01M33.1 662.7h.01M32.9 656.6h.01M63.0 658.5h.01M30.3 650.3h.01M30.2 666.6h.01M32.2 628.7h.01M30.7 658.2h.01M46.2 634.2h.01M61.0 669.3h.01M60.5 661.7h.01M53.6 646.8h.01M59.0 638.7h.01M66.4 640.9h.01M31.3 627.1h.01M26.0 639.8h.01M45.2 660.6h.01M38.1 622.4h.01M54.5 635.2h.01M65.3 672.5h.01M58.0 628.2h.01M37.9 658.5h.01M28.7 673.2h.01M46.6 620.0h.01M45.5 672.9h.01M43.9 649.2h.01M28.8 643.1h.01M51.8 669.6h.01M36.9 627.3h.01M40.0 658.6h.01M22.2 625.2h.01M30.4 674.7h.01M53.0 672.9h.01M30.0 649.4h.01M54.8 631.4h.01M65.1 646.6h.01M28.8 668.1h.01M31.5 638.2h.01M57.0 661.3h.01M37.1 642.1h.01M67.1 640.4h.01M33.2 673.7h.01M62.6 676.1h.01M63.6 621.2h.01M56.1 638.0h.01M34.9 626.3h.01M45.7 644.5h.01M24.0 670.0h.01M59.9 622.8h.01M41.3 623.6h.01M39.6 664.2h.01M66.3 620.9h.01M38.1 658.4h.01M64.1 669.3h.01M49.5 619.0h.01M32.7 620.6h.01M34.3 643.5h.01M23.8 673.6h.01M52.8 666.5h.01M25.0 637.3h.01M43.4 670.4h.01M48.0 666.3h.01M31.5 671.9h.01M31.2 633.4h.01M65.7 666.3h.01M21.2 635.2h.01M27.7 631.1h.01M67.3 627.3h.01M47.1 626.7h.01M37.7 658.0h.01M54.8 672.4h.01M61.7 626.5h.01M56.9 633.8h.01M21.2 634.7h.01M24.4 668.1h.01M27.5 628.4h.01M23.1 673.3h.01M28.4 629.8h.01M28.4 629.2h.01M27.7 668.6h.01M48.3 661.6h.01M58.0 660.9h.01M30.0 661.8h.01M69.0 637.3h.01M27.5 634.1h.01M30.3 626.7h.01M34.8 627.1h.01M33.5 661.5h.01M51.3 636.8h.01M39.2 667.5h.01M56.8 618.6h.01M25.0 625.2h.01M38.6 642.3h.01M46.3 636.9h.01M61.0 671.7h.01M37.7 632.4h.01M61.0 670.3h.01M23.9 633.0h.01" stroke="#3a3a78" stroke-width="0.5" stroke-linecap="round" fill="none" opacity="0.8"/>
<path d="M21.6 619.2L63.504 642.792L52.878 675.6L21.6 675.6Z" fill="none" stroke="#fff" stroke-width="1.25" stroke-dasharray="2.6 1"/>
<rect x="25.7" y="647.2" width="21" height="12.4" fill="none" stroke="#fff" stroke-width="1.35" stroke-dasharray="2.6 0.9"/>
<path d="M46.7 647.2L67.8 621.1M46.7 659.6L67.8 673.7" stroke="#fff" stroke-width="1.1" fill="none"/>
<path d="M69.3 618.6l-5.6 2.2l3.6 3.2z" fill="#fff"/>
<path d="M69.3 676.2l-5.6 -2.2l3.6 -3.2z" fill="#fff"/>
</g>
<rect x="71.2" y="618.6" width="100.6" height="57.6" fill="#10060e"/>
<g filter="url(#db)"><path d="M158.0 637.0h.01M118.3 660.6h.01M147.8 658.2h.01M118.2 655.3h.01M83.1 622.8h.01M158.9 631.2h.01M169.8 620.9h.01M168.6 654.5h.01M113.4 674.0h.01M161.1 623.6h.01M131.2 652.4h.01M110.7 636.6h.01M79.1 670.7h.01M148.4 670.3h.01M101.6 668.8h.01M82.6 672.8h.01M127.1 625.1h.01M101.8 638.9h.01M135.2 635.1h.01M121.6 638.3h.01M104.5 660.6h.01M89.5 626.0h.01M86.2 636.7h.01M87.4 620.7h.01M117.9 635.3h.01M119.5 644.8h.01M129.6 672.1h.01M81.9 631.4h.01M108.6 652.7h.01M107.2 659.5h.01M122.7 648.3h.01M80.4 642.4h.01M155.8 639.7h.01M154.6 669.0h.01M163.8 664.2h.01M167.0 661.7h.01M148.7 647.6h.01M103.3 628.7h.01M135.0 660.5h.01M102.5 625.2h.01M167.8 666.3h.01M85.3 631.0h.01M107.0 631.7h.01M107.4 630.2h.01M81.3 660.6h.01M155.9 634.3h.01M124.6 672.3h.01M166.6 647.3h.01M102.1 655.2h.01M154.4 633.8h.01M138.2 666.9h.01M81.8 625.7h.01M140.2 663.0h.01M73.5 638.8h.01M94.1 635.3h.01M128.7 621.7h.01M168.3 659.5h.01M163.9 662.0h.01M85.3 657.3h.01M123.3 639.1h.01M82.8 634.5h.01M86.7 674.5h.01M109.8 658.4h.01M129.9 653.5h.01M107.9 631.8h.01M147.1 670.3h.01M137.8 628.9h.01M145.8 674.3h.01M81.0 630.4h.01M123.4 624.6h.01M145.6 631.6h.01M163.2 663.3h.01M98.0 638.0h.01M154.1 652.8h.01M129.1 647.3h.01M129.3 650.9h.01M77.1 666.6h.01M169.5 625.3h.01M150.2 654.1h.01M81.4 632.9h.01M89.5 630.9h.01M81.3 655.9h.01M92.1 673.7h.01M83.5 661.2h.01M146.8 665.6h.01M159.4 633.3h.01M115.2 650.7h.01M142.1 628.3h.01M170.3 649.1h.01M75.1 661.9h.01M110.6 656.3h.01M112.4 636.3h.01M120.9 670.2h.01M146.7 663.6h.01M77.7 655.2h.01M93.5 664.3h.01M137.1 647.8h.01M149.4 661.2h.01M83.3 640.8h.01M160.6 663.1h.01M105.9 621.8h.01M103.8 639.6h.01M114.3 647.7h.01M117.1 631.8h.01M103.4 660.1h.01M159.0 668.9h.01M108.0 650.5h.01M146.6 645.9h.01M155.5 626.4h.01M78.3 625.9h.01M119.7 667.2h.01M135.0 626.7h.01M114.6 663.6h.01M140.4 654.9h.01M105.5 636.0h.01M133.3 661.0h.01M100.0 665.0h.01M101.2 635.4h.01M83.8 663.0h.01M126.2 652.8h.01M74.6 621.4h.01M119.3 650.9h.01M151.2 655.2h.01M156.8 670.6h.01M86.6 628.9h.01M131.3 622.0h.01M120.8 668.9h.01M91.0 644.8h.01M82.0 642.6h.01M105.3 625.2h.01M162.5 623.9h.01M108.5 624.8h.01M118.3 669.8h.01M115.7 645.0h.01M123.4 650.0h.01M80.4 629.3h.01M107.2 627.5h.01M112.9 649.2h.01M81.2 655.1h.01M93.1 651.4h.01M113.3 645.8h.01M88.1 644.7h.01M110.3 636.3h.01M104.0 666.8h.01M157.2 659.6h.01M156.3 659.1h.01M138.9 643.1h.01M80.7 660.1h.01M154.8 622.9h.01M128.5 647.2h.01M145.0 657.6h.01M129.4 643.7h.01M157.2 647.0h.01M84.8 645.5h.01M120.0 651.6h.01M118.8 633.5h.01M84.7 649.4h.01M75.0 656.5h.01M120.7 629.6h.01M163.0 658.6h.01M96.3 651.5h.01M73.1 629.4h.01M133.1 660.5h.01M76.0 660.0h.01M157.7 631.7h.01M164.8 643.3h.01M145.0 669.6h.01M153.3 644.5h.01M78.1 646.0h.01M127.6 662.5h.01M100.4 635.4h.01M81.3 632.7h.01M75.2 629.3h.01M121.1 659.1h.01M130.4 657.2h.01M75.1 655.0h.01M107.9 637.4h.01M113.5 622.8h.01M129.3 659.9h.01M102.2 634.6h.01M165.8 661.0h.01M121.3 674.1h.01M120.8 673.5h.01M76.7 664.4h.01M76.3 629.4h.01M120.0 653.2h.01M137.2 659.0h.01M144.2 660.7h.01M169.4 637.0h.01M156.0 639.0h.01" stroke="#981a2e" stroke-width="2.0" stroke-linecap="round" fill="none" opacity="0.44"/></g>
<g filter="url(#db)"><path d="M93.9 635.7h.01M120.9 623.3h.01M113.7 626.4h.01M143.5 646.5h.01M82.8 630.0h.01M106.6 635.2h.01M85.2 630.7h.01M120.4 640.1h.01M167.3 626.8h.01M117.4 652.5h.01M105.2 641.9h.01M95.9 665.9h.01M135.0 673.8h.01M146.4 632.8h.01M143.9 625.6h.01M162.5 671.1h.01M140.7 623.9h.01M148.0 640.3h.01M147.4 637.6h.01M133.2 623.0h.01M79.6 648.9h.01M134.3 660.7h.01M72.5 638.4h.01M84.3 635.4h.01M118.4 661.3h.01M144.7 654.1h.01M77.2 639.8h.01M75.7 663.8h.01M122.4 623.4h.01M113.7 662.6h.01M160.3 648.9h.01M72.3 670.2h.01M103.9 639.5h.01M87.2 668.9h.01M130.8 669.3h.01M115.9 655.9h.01M124.2 654.6h.01M89.1 649.2h.01M159.3 660.7h.01M126.5 648.1h.01M104.9 637.2h.01M164.5 666.7h.01M153.2 670.8h.01M81.4 656.2h.01M132.4 632.0h.01M105.2 661.6h.01M96.5 657.6h.01M98.1 645.4h.01M158.2 659.8h.01M115.8 649.5h.01M162.7 635.1h.01M124.9 626.8h.01M88.7 652.9h.01M148.1 673.9h.01M102.9 670.1h.01M109.8 672.6h.01M142.2 637.1h.01M149.6 645.0h.01M75.9 622.9h.01M94.5 632.4h.01M136.2 654.9h.01M87.5 652.3h.01M85.6 668.4h.01M86.0 629.2h.01M108.8 642.4h.01M130.3 653.0h.01M127.8 628.6h.01M94.9 651.6h.01M158.7 661.5h.01M80.0 655.8h.01" stroke="#2f6cc0" stroke-width="1.15" stroke-linecap="round" fill="none" opacity="0.65"/></g>
<g filter="url(#db)"><path d="M155.9 654.3h.01M86.3 644.8h.01M135.5 637.4h.01M88.9 664.4h.01M99.7 654.3h.01M122.7 621.3h.01" stroke="#45d060" stroke-width="1.3" stroke-linecap="round" fill="none" opacity="0.39"/></g>
<rect x="174.5" y="618.6" width="99.2" height="57.6" fill="#0a0505"/>
<g filter="url(#db)"><path d="M208.1 634.8h.01M176.8 659.4h.01M199.9 632.4h.01M179.2 636.4h.01M210.1 650.0h.01M204.9 640.8h.01M202.2 655.8h.01M262.0 651.0h.01M227.0 663.9h.01M241.2 627.5h.01M265.4 624.2h.01M227.2 673.2h.01M198.5 626.2h.01M184.7 663.5h.01" stroke="#30c458" stroke-width="1.35" stroke-linecap="round" fill="none" opacity="0.24"/></g>
<rect x="276.5" y="618.6" width="101.5" height="57.6" fill="#0e0303"/>
<g filter="url(#db)"><path d="M357.8 651.5h.01M340.9 664.6h.01M375.1 652.2h.01M337.0 656.3h.01M367.6 673.2h.01M359.4 620.4h.01M296.6 636.8h.01M370.2 668.5h.01M285.2 655.2h.01M283.9 640.4h.01M282.3 659.2h.01M355.4 621.4h.01M330.6 643.8h.01M288.3 660.7h.01M306.0 627.9h.01M314.6 668.3h.01M302.3 662.4h.01M365.0 639.4h.01M311.0 674.5h.01M303.4 623.0h.01M284.9 634.0h.01M286.8 647.1h.01M360.0 656.0h.01M362.1 670.3h.01M281.2 666.8h.01M295.0 667.4h.01M321.8 666.8h.01M298.7 628.3h.01M324.6 668.8h.01M285.2 637.3h.01M282.5 651.3h.01M343.2 668.5h.01M311.3 626.7h.01M292.9 647.6h.01M369.7 642.2h.01M319.0 671.9h.01M335.9 673.6h.01M364.2 654.2h.01M300.1 636.2h.01M305.4 651.2h.01M328.2 627.1h.01M289.6 646.3h.01M292.1 642.5h.01M355.7 649.5h.01M341.2 635.6h.01M285.5 642.2h.01M319.0 638.1h.01M366.8 621.2h.01M360.5 640.5h.01M278.3 656.0h.01M300.8 655.0h.01M320.5 652.5h.01M319.9 640.2h.01M372.3 663.7h.01M350.4 620.6h.01M286.7 666.0h.01M352.8 639.2h.01M317.5 648.9h.01M286.3 628.6h.01M375.4 626.6h.01M278.3 641.0h.01M366.5 655.3h.01M306.4 632.2h.01M303.2 627.3h.01M325.2 628.4h.01M285.8 653.4h.01M288.5 668.7h.01M365.4 671.7h.01M334.2 649.0h.01M359.8 671.0h.01M311.2 645.8h.01M290.0 657.3h.01M345.6 649.6h.01M345.3 671.6h.01M288.7 620.7h.01M291.2 653.7h.01M333.8 670.1h.01M325.6 621.5h.01M314.6 654.1h.01M291.8 649.4h.01M292.3 628.7h.01M322.0 657.4h.01M361.7 651.2h.01M299.9 631.8h.01M322.6 652.5h.01M334.1 650.9h.01M321.1 673.0h.01M302.1 628.4h.01M346.5 639.0h.01M346.8 623.6h.01M310.1 668.5h.01M313.3 672.0h.01M315.4 648.5h.01M320.8 628.0h.01M326.5 638.9h.01M312.3 637.2h.01M298.9 636.6h.01M279.8 671.0h.01M337.3 653.4h.01M303.9 622.5h.01M325.5 629.3h.01M362.5 655.5h.01M334.5 666.4h.01M345.7 635.1h.01M353.9 629.3h.01M287.5 670.0h.01M351.0 655.9h.01M362.9 674.4h.01M353.9 651.4h.01M324.0 660.1h.01M326.1 633.5h.01M346.6 671.8h.01M305.0 626.8h.01M297.8 640.1h.01M345.2 656.4h.01M369.0 626.3h.01M373.5 643.0h.01M317.3 672.9h.01M353.6 665.5h.01M352.7 670.6h.01M341.9 667.6h.01M374.9 669.1h.01M375.2 634.2h.01M369.9 625.3h.01M348.1 622.3h.01M356.1 623.5h.01M362.8 670.3h.01M282.7 620.2h.01M353.9 622.8h.01M326.5 659.3h.01M344.9 625.9h.01M285.4 660.4h.01M370.2 625.2h.01M363.9 643.5h.01M286.2 649.1h.01M303.3 638.4h.01M355.8 661.7h.01M353.4 648.3h.01M309.2 658.8h.01M322.6 626.6h.01M338.0 621.8h.01M345.7 666.6h.01M286.4 671.3h.01M290.9 624.3h.01M286.6 652.8h.01M350.0 630.0h.01M357.8 626.2h.01M332.7 662.8h.01M317.3 640.2h.01M344.3 653.8h.01M279.1 651.1h.01M339.5 661.2h.01M312.0 653.1h.01M365.8 650.8h.01M374.9 652.2h.01M356.1 661.4h.01M337.9 669.2h.01M281.8 671.4h.01M372.2 644.9h.01M335.0 630.8h.01M311.6 648.5h.01M355.6 620.3h.01M301.3 665.8h.01M289.5 644.5h.01M362.1 669.5h.01M356.2 673.2h.01M289.8 623.6h.01M309.9 654.3h.01M352.9 642.5h.01M375.4 655.4h.01M346.4 671.2h.01M341.0 673.3h.01M292.0 653.7h.01M321.1 673.8h.01M301.7 665.6h.01M316.5 673.1h.01M371.0 624.8h.01M367.8 662.0h.01M357.8 668.8h.01M347.2 630.6h.01M306.9 645.5h.01M322.9 647.7h.01M347.6 636.7h.01M318.6 660.8h.01M322.3 644.1h.01M330.2 645.9h.01M369.3 660.1h.01M318.4 634.9h.01M322.7 631.6h.01M327.8 672.4h.01" stroke="#a01018" stroke-width="2.0" stroke-linecap="round" fill="none" opacity="0.42"/></g>
<text x="72.8" y="385.4" font-size="7" letter-spacing="-0.1"><tspan fill="#d8202c">NeuN</tspan><tspan fill="#eee">/</tspan><tspan fill="#22a845">cFos</tspan><tspan fill="#eee">/</tspan><tspan fill="#3a62d0">DAPI</tspan></text>
<text x="176.8" y="385.4" font-size="7" fill="#22a845">cFos</text>
<text x="279.5" y="385.4" font-size="7" fill="#e02028">NeuN</text>
<line x1="359.5" y1="431.5" x2="369" y2="431.5" stroke="#fff" stroke-width="1.1"/>
<text x="388.3" y="376.4" font-size="10.8" font-weight="bold">k</text>
<line x1="449.5" y1="395.4" x2="449.5" y2="537.35" stroke="#000" stroke-width="0.7"/>
<line x1="449.15" y1="536.5" x2="627.5" y2="536.5" stroke="#000" stroke-width="0.7"/>
<line x1="443.1" y1="395.5" x2="449.5" y2="395.5" stroke="#000" stroke-width="0.7"/>
<text x="441.7" y="398.9" font-size="10" text-anchor="end">800</text>
<line x1="443.1" y1="430.5" x2="449.5" y2="430.5" stroke="#000" stroke-width="0.7"/>
<text x="441.7" y="434.5" font-size="10" text-anchor="end">600</text>
<line x1="443.1" y1="466.5" x2="449.5" y2="466.5" stroke="#000" stroke-width="0.7"/>
<text x="441.7" y="469.8" font-size="10" text-anchor="end">400</text>
<line x1="443.1" y1="501.5" x2="449.5" y2="501.5" stroke="#000" stroke-width="0.7"/>
<text x="441.7" y="505.1" font-size="10" text-anchor="end">200</text>
<line x1="443.1" y1="536.5" x2="449.5" y2="536.5" stroke="#000" stroke-width="0.7"/>
<text x="441.7" y="540.5" font-size="10" text-anchor="end">0</text>
<rect x="463.5" y="497.8" width="17.8" height="39.2" fill="#fff" stroke="#111" stroke-width="0.7"/>
<line x1="472.5" y1="537" x2="472.5" y2="541.6" stroke="#000" stroke-width="0.7"/>
<text x="469.4" y="551.6" font-size="9.3" text-anchor="middle">MP-0d</text>
<circle cx="465.5" cy="486.8" r="2.8" fill="#5f5f5f"/>
<circle cx="478.5" cy="488.8" r="2.8" fill="#5f5f5f"/>
<circle cx="470.0" cy="490.8" r="2.8" fill="#5f5f5f"/>
<circle cx="475.4" cy="494.8" r="2.8" fill="#5f5f5f"/>
<circle cx="467.9" cy="497.8" r="2.8" fill="#5f5f5f"/>
<circle cx="477.7" cy="501.8" r="2.8" fill="#5f5f5f"/>
<circle cx="472.7" cy="503.8" r="2.8" fill="#5f5f5f"/>
<circle cx="468.7" cy="505.8" r="2.8" fill="#5f5f5f"/>
<circle cx="476.1" cy="506.8" r="2.8" fill="#5f5f5f"/>
<line x1="472.5" y1="496.0" x2="472.5" y2="499.6" stroke="#333" stroke-width="0.6"/>
<line x1="469.4" y1="496.5" x2="475.4" y2="496.5" stroke="#333" stroke-width="0.6"/>
<rect x="496.5" y="468.2" width="17.7" height="68.8" fill="#c3bfe3" stroke="#111" stroke-width="0.7"/>
<line x1="505.5" y1="537" x2="505.5" y2="541.6" stroke="#000" stroke-width="0.7"/>
<text x="505.4" y="551.6" font-size="9.3" text-anchor="middle">MP-3d</text>
<circle cx="498.3" cy="451.2" r="2.8" fill="#5f5f5f"/>
<circle cx="510.8" cy="453.2" r="2.8" fill="#5f5f5f"/>
<circle cx="503.4" cy="455.2" r="2.8" fill="#5f5f5f"/>
<circle cx="507.4" cy="459.2" r="2.8" fill="#5f5f5f"/>
<circle cx="500.8" cy="463.2" r="2.8" fill="#5f5f5f"/>
<circle cx="510.9" cy="467.2" r="2.8" fill="#5f5f5f"/>
<circle cx="505.0" cy="470.2" r="2.8" fill="#5f5f5f"/>
<circle cx="502.1" cy="473.2" r="2.8" fill="#5f5f5f"/>
<circle cx="510.1" cy="474.2" r="2.8" fill="#5f5f5f"/>
<line x1="505.5" y1="463.8" x2="505.5" y2="472.59999999999997" stroke="#fff" stroke-width="0.6"/>
<line x1="502.4" y1="463.5" x2="508.4" y2="463.5" stroke="#fff" stroke-width="0.6"/>
<rect x="529.2" y="435.2" width="17.8" height="101.8" fill="#8fbfe9" stroke="#111" stroke-width="0.7"/>
<line x1="538.5" y1="537" x2="538.5" y2="541.6" stroke="#000" stroke-width="0.7"/>
<text x="538.1" y="551.6" font-size="9.3" text-anchor="middle">MP-7d</text>
<circle cx="531.2" cy="426.2" r="2.8" fill="#5f5f5f"/>
<circle cx="543.7" cy="427.2" r="2.8" fill="#5f5f5f"/>
<circle cx="536.5" cy="429.2" r="2.8" fill="#5f5f5f"/>
<circle cx="539.9" cy="431.2" r="2.8" fill="#5f5f5f"/>
<circle cx="533.0" cy="433.2" r="2.8" fill="#5f5f5f"/>
<circle cx="543.5" cy="435.2" r="2.8" fill="#5f5f5f"/>
<circle cx="538.5" cy="438.2" r="2.8" fill="#5f5f5f"/>
<circle cx="534.3" cy="441.2" r="2.8" fill="#5f5f5f"/>
<circle cx="541.5" cy="445.2" r="2.8" fill="#5f5f5f"/>
<line x1="538.5" y1="432.8" x2="538.5" y2="437.59999999999997" stroke="#fff" stroke-width="0.6"/>
<line x1="535.1" y1="432.5" x2="541.1" y2="432.5" stroke="#fff" stroke-width="0.6"/>
<rect x="562.2" y="523.7" width="17.8" height="13.3" fill="#e07474" stroke="#111" stroke-width="0.7"/>
<line x1="571.5" y1="537" x2="571.5" y2="541.6" stroke="#000" stroke-width="0.7"/>
<text x="571.1" y="551.6" font-size="9.3" text-anchor="middle">MP-14d</text>
<circle cx="564.1" cy="519.3" r="2.8" fill="#5f5f5f"/>
<circle cx="576.1" cy="519.7" r="2.8" fill="#5f5f5f"/>
<circle cx="569.2" cy="520.1" r="2.8" fill="#5f5f5f"/>
<circle cx="573.0" cy="520.7" r="2.8" fill="#5f5f5f"/>
<circle cx="566.0" cy="521.1" r="2.8" fill="#5f5f5f"/>
<circle cx="577.4" cy="521.5" r="2.8" fill="#5f5f5f"/>
<circle cx="571.0" cy="521.9" r="2.8" fill="#5f5f5f"/>
<circle cx="567.2" cy="522.3" r="2.8" fill="#5f5f5f"/>
<circle cx="575.8" cy="522.7" r="2.8" fill="#5f5f5f"/>
<line x1="571.5" y1="522.1" x2="571.5" y2="525.3000000000001" stroke="#fff" stroke-width="0.6"/>
<line x1="568.1" y1="522.5" x2="574.1" y2="522.5" stroke="#fff" stroke-width="0.6"/>
<rect x="595.2" y="528.2" width="17.7" height="8.8" fill="#7fc9a4" stroke="#111" stroke-width="0.7"/>
<line x1="604.5" y1="537" x2="604.5" y2="541.6" stroke="#000" stroke-width="0.7"/>
<text x="608.0" y="551.6" font-size="9.3" text-anchor="middle">MP-28d</text>
<circle cx="597.7" cy="524.6" r="2.8" fill="#5f5f5f"/>
<circle cx="608.9" cy="525.2" r="2.8" fill="#5f5f5f"/>
<circle cx="602.0" cy="525.6" r="2.8" fill="#5f5f5f"/>
<circle cx="606.4" cy="526.0" r="2.8" fill="#5f5f5f"/>
<circle cx="598.6" cy="526.4" r="2.8" fill="#5f5f5f"/>
<circle cx="610.4" cy="527.0" r="2.8" fill="#5f5f5f"/>
<circle cx="604.7" cy="527.4" r="2.8" fill="#5f5f5f"/>
<circle cx="599.8" cy="528.0" r="2.8" fill="#5f5f5f"/>
<circle cx="607.8" cy="528.6" r="2.8" fill="#5f5f5f"/>
<line x1="604.5" y1="526.6" x2="604.5" y2="529.8000000000001" stroke="#fff" stroke-width="0.6"/>
<line x1="601.0" y1="526.5" x2="607.0" y2="526.5" stroke="#fff" stroke-width="0.6"/>
<text x="416.8" y="464" font-size="9.2" text-anchor="middle" transform="rotate(-90 416.8 464)">Number of cFos<tspan font-size="6" dy="-3">+</tspan><tspan dy="3">neuron / per mm</tspan><tspan font-size="6" dy="-3">2</tspan></text>
<line x1="470.5" y1="450.5" x2="499" y2="450.5" stroke="#000" stroke-width="0.7"/>
<text x="484.8" y="449.8" font-size="11.4" text-anchor="middle" font-weight="bold">****</text>
<line x1="502" y1="410.5" x2="532" y2="410.5" stroke="#000" stroke-width="0.7"/>
<text x="517.0" y="410.3" font-size="11.4" text-anchor="middle" font-weight="bold">****</text>
<line x1="535.5" y1="420.5" x2="563" y2="420.5" stroke="#000" stroke-width="0.7"/>
<text x="549.2" y="420.8" font-size="11.4" text-anchor="middle" font-weight="bold">****</text>
<line x1="538" y1="398.5" x2="601.5" y2="398.5" stroke="#000" stroke-width="0.7"/>
<text x="569.8" y="397.8" font-size="11.4" text-anchor="middle" font-weight="bold">****</text>
</g>
<g id="p_lm">
<text x="388.6" y="558.8" font-size="10.8" font-weight="bold">l</text>
<rect x="385.3" y="562.3" width="177.7" height="22.4" fill="#9dc3e6"/>
<rect x="385.8" y="584.8" width="176.7" height="92.6" fill="#fff" stroke="#9dc3e6" stroke-width="0.9" stroke-dasharray="2.6 1.6"/>
<text x="475" y="576.6" font-size="9" text-anchor="middle" font-weight="bold" fill="#fff">Fiber photometry</text>
<text x="394.4" y="605.2" font-size="7.1" stroke="#000" stroke-width="0.18">pAAV-hSyn-GCaMP6s</text>
<path d="M392.2 634C392.6 631.4 394.2 630.4 396.4 630.6C399 630.8 401.4 632.4 403.6 632C405.4 630.4 407 629 409 628.2C412 626.8 415.6 626.2 419.2 626.2C425 626 431 626.2 436 627.2C439 628 441 630.4 443.2 630.6C445.6 629 449 627.8 452.6 628.2C457.6 628.8 460.6 632 461.2 636.2C461.8 639 462.4 642 462.8 644.6C463.6 646.6 464.6 648.6 464 650.6C462.4 653.4 458.6 654 455 653.6C449 653.2 442 652.2 436 652.4C430 652.8 424 653.4 418 653C413.4 652.4 409.6 650.2 406 648C402.4 646.4 399.2 644.4 396.4 642.2C393.8 640.4 392 637.4 392.2 634Z" fill="#ecdacb" stroke="#cfb09e" stroke-width="0.7"/>
<path d="M399 636C403 632 410 629.6 418 629.4C426 629.2 434 629.8 439 632.6C441 634.8 440 638 437 640.6C433 644 428 648.6 420 649.4C412 650 405 646 401 641.6C399.4 639.8 398.4 637.6 399 636Z" fill="#e1cfc3" opacity="0.85"/>
<path d="M447.6 634C448.6 630.6 452.6 629.4 455.8 630.6C459.4 632.2 460.8 636.4 460.6 640.4C460.2 643.6 457.6 645.8 454 645.6C450 645.2 447 641.6 447.6 634Z" fill="#c4b2a6" stroke="#b09c90" stroke-width="0.4"/>
<path d="M450.6 637C452 634.6 455.6 634.6 456.6 637.6C457.2 640.4 455.6 642.6 453.4 642.4C451 642 450 639.6 450.6 637Z" fill="#9c928a"/>
<path d="M451 632l2.6 4M456 631.2l-1.2 4.2M459.6 635.4l-3.2 2.2M459.6 642l-3.4-1.6" stroke="#a89488" stroke-width="0.5"/>
<path d="M420.9 632.6C423.4 632.6 425.6 634.6 426 637C426.2 638.2 426.4 639.2 426.4 639.8" fill="none" stroke="#e9bf9f" stroke-width="1.5"/>
<path d="M428.6 638.6L436.6 631.4" stroke="#dcc4b4" stroke-width="0.7"/>
<ellipse cx="413.1" cy="633.7" rx="3.5" ry="1.5" fill="#a9d36c"/>
<text x="412" y="646.1" font-size="6.9" stroke="#000" stroke-width="0.18">dmPFC</text>
<path d="M419.9 611.4L416.8 621.6" stroke="#9cc4cf" stroke-width="1.9" stroke-linecap="butt"/>
<path d="M420.8 609L419.9 611.6M416.6 621.6L414.9 630.6" stroke="#72869c" stroke-width="0.55"/>
<path d="M419.2 608.8l3 .8M418.4 611.2l3 .9" stroke="#72869c" stroke-width="0.6"/>
<path d="M476.8 632.4L547.6 632.4L556.6 645.2L487 645.2Z" fill="#fff" stroke="#2f3b4c" stroke-width="1.7" stroke-linejoin="round"/>
<rect x="486.2" y="645" width="71.4" height="2.2" fill="#2f3b4c"/>
<rect x="486.4" y="646" width="2.8" height="14.4" fill="#2f3b4c"/>
<rect x="554.6" y="646" width="2.8" height="14.4" fill="#2f3b4c"/>
<rect x="476.2" y="633" width="2.4" height="12.6" fill="#2f3b4c"/>
<path d="M485 600.2L529.8 600.2L542 611.3L542 643.4L496.8 643.4L485 632Z" fill="#cddcf0" opacity="0.9"/>
<path d="M485 600.2L529.8 600.2L542 611.3L496.8 611.3Z" fill="#dae6f5" stroke="#7d99c6" stroke-width="0.5"/>
<path d="M485 600.2L496.8 611.3L496.8 643.4L485 632Z" fill="#c3d3ea" stroke="#7d99c6" stroke-width="0.5"/>
<defs><linearGradient id="gbx" x1="0" y1="0" x2="0" y2="1"><stop offset="0" stop-color="#cbdbf0"/><stop offset="0.6" stop-color="#d6e3f4"/><stop offset="1" stop-color="#eef3fa"/></linearGradient></defs><path d="M496.8 611.3H542V643.4H496.8Z" fill="url(#gbx)" stroke="#7d99c6" stroke-width="0.5"/>
<path d="M529.8 600.2V632L542 643.4M529.8 632H485" fill="none" stroke="#9db4d6" stroke-width="0.4"/>
<path d="M558 589.6C536 589 520 596 524 608C527 617 516 613 513.5 622C512.4 626 513 629 513.4 631.5" fill="none" stroke="#b98256" stroke-width="0.7"/>
<path d="M524 638.5C528 640 531 639 534 641" fill="none" stroke="#f0b0a0" stroke-width="0.6"/>
<ellipse cx="519.6" cy="637.2" rx="5.4" ry="3.2" fill="#fff" stroke="#e4dede" stroke-width="0.3"/>
<ellipse cx="514.6" cy="634.2" rx="2.4" ry="1.9" fill="#fff" stroke="#e4dede" stroke-width="0.3"/><circle cx="514" cy="631.8" r="0.9" fill="#e56a7a"/>
<path d="M517 641.2l5 .4" stroke="#e04848" stroke-width="0.9"/>
<path d="M493.6 655.6l8 0l4 -3.2l6 0l4 4.6l5 -1.6" fill="none" stroke="#444" stroke-width="0.5"/>
<rect x="518.6" y="650.6" width="6.6" height="6.2" fill="#3a3a3a"/>
<path d="M518.4 650.6C519.6 648.4 524 648.4 525.4 650.6" fill="none" stroke="#c07030" stroke-width="0.8"/>
<text x="574" y="559.6" font-size="10.8" font-weight="bold">m</text>
<defs><radialGradient id="gm" cx="0.2" cy="0.57" r="0.64" gradientTransform="translate(0.2 0.57) scale(0.92 1.2) translate(-0.2 -0.57)"><stop offset="0" stop-color="#6cf064"/><stop offset="0.2" stop-color="#4ad446"/><stop offset="0.45" stop-color="#2ea630"/><stop offset="0.72" stop-color="#1c7420" stop-opacity="0.8"/><stop offset="1" stop-color="#125015" stop-opacity="0"/></radialGradient><linearGradient id="gm2" x1="0" y1="0" x2="1" y2="0"><stop offset="0" stop-color="#145417"/><stop offset="0.5" stop-color="#125015"/><stop offset="1" stop-color="#0e4511"/></linearGradient><clipPath id="cm"><rect x="585.1" y="559.5" width="77.5" height="116.4"/></clipPath></defs>
<rect x="585.1" y="559.5" width="77.5" height="116.4" fill="url(#gm2)"/>
<rect x="585.1" y="559.5" width="77.5" height="116.4" fill="url(#gm)"/>
<g clip-path="url(#cm)">
<path d="M606 608C605 618 603.5 630 602.5 645" fill="none" stroke="#0a2a0c" stroke-width="1.3" opacity="0.85"/>
<path d="M607 559.8L615.8 559.8L607 647.6L599.2 646.4Z" fill="none" stroke="#fff" stroke-width="1.3" stroke-dasharray="5 2.2"/>
<path d="M592.2 585.6L632.6 622.4L632.6 625.6L604.6 674.8L585.8 674.8Z" fill="none" stroke="#fff" stroke-width="1.3" stroke-dasharray="5 2.4"/>
</g>
<text x="622" y="661.8" font-size="7" fill="#fff">dmPFC</text>
<rect x="591.3" y="664" width="11.8" height="2.8" fill="#fff"/>
</g>
<g id="p_heat">
<defs><pattern id="stripe" width="5.1" height="8" patternUnits="userSpaceOnUse"><rect x="0" y="0" width="1.7" height="8" fill="#1b2f8a" opacity="0.07"/><rect x="3.4" y="0" width="1.7" height="8" fill="#fff" opacity="0.05"/></pattern></defs>
<defs><linearGradient id="hn0"><stop offset="0.0" stop-color="#3774bc"/><stop offset="0.0222" stop-color="#3773bc"/><stop offset="0.0444" stop-color="#3772bb"/><stop offset="0.0667" stop-color="#366fba"/><stop offset="0.0889" stop-color="#366cb8"/><stop offset="0.1111" stop-color="#3569b6"/><stop offset="0.1333" stop-color="#3567b6"/><stop offset="0.1556" stop-color="#3569b6"/><stop offset="0.1778" stop-color="#366cb8"/><stop offset="0.2" stop-color="#366fba"/><stop offset="0.2222" stop-color="#3772bb"/><stop offset="0.2444" stop-color="#3773bc"/><stop offset="0.2667" stop-color="#3774bc"/><stop offset="0.2889" stop-color="#3775bc"/><stop offset="0.3111" stop-color="#3876bd"/><stop offset="0.3333" stop-color="#3877bd"/><stop offset="0.3556" stop-color="#3879be"/><stop offset="0.3778" stop-color="#377abf"/><stop offset="0.4" stop-color="#377cbf"/><stop offset="0.4222" stop-color="#377dc0"/><stop offset="0.4444" stop-color="#367ec0"/><stop offset="0.4667" stop-color="#3680c1"/><stop offset="0.4889" stop-color="#3583c2"/><stop offset="0.5111" stop-color="#3488c4"/><stop offset="0.5333" stop-color="#328fc6"/><stop offset="0.5556" stop-color="#3097c3"/><stop offset="0.5778" stop-color="#2e9dc1"/><stop offset="0.6" stop-color="#2ea0c0"/><stop offset="0.6222" stop-color="#2da1c0"/><stop offset="0.6444" stop-color="#2da2bf"/><stop offset="0.6667" stop-color="#2da2bf"/><stop offset="0.6889" stop-color="#2da1c0"/><stop offset="0.7111" stop-color="#2e9fc0"/><stop offset="0.7333" stop-color="#2f9ac2"/><stop offset="0.7556" stop-color="#3193c4"/><stop offset="0.7778" stop-color="#338cc5"/><stop offset="0.8" stop-color="#3485c3"/><stop offset="0.8222" stop-color="#3581c1"/><stop offset="0.8444" stop-color="#367fc1"/><stop offset="0.8667" stop-color="#367ec0"/><stop offset="0.8889" stop-color="#367ec0"/><stop offset="0.9111" stop-color="#367ec0"/><stop offset="0.9333" stop-color="#377dc0"/><stop offset="0.9556" stop-color="#377dc0"/><stop offset="0.9778" stop-color="#377dc0"/><stop offset="1.0" stop-color="#377cbf"/></linearGradient><linearGradient id="hn1"><stop offset="0.0" stop-color="#3775bc"/><stop offset="0.0222" stop-color="#3775bc"/><stop offset="0.0444" stop-color="#3775bc"/><stop offset="0.0667" stop-color="#3775bc"/><stop offset="0.0889" stop-color="#3775bc"/><stop offset="0.1111" stop-color="#3775bc"/><stop offset="0.1333" stop-color="#3775bc"/><stop offset="0.1556" stop-color="#3775bc"/><stop offset="0.1778" stop-color="#3775bc"/><stop offset="0.2" stop-color="#3775bc"/><stop offset="0.2222" stop-color="#3775bc"/><stop offset="0.2444" stop-color="#3775bc"/><stop offset="0.2667" stop-color="#3775bc"/><stop offset="0.2889" stop-color="#3775bd"/><stop offset="0.3111" stop-color="#3876bd"/><stop offset="0.3333" stop-color="#3877be"/><stop offset="0.3556" stop-color="#3879be"/><stop offset="0.3778" stop-color="#377bbf"/><stop offset="0.4" stop-color="#367ec0"/><stop offset="0.4222" stop-color="#3681c1"/><stop offset="0.4444" stop-color="#3485c3"/><stop offset="0.4667" stop-color="#338bc5"/><stop offset="0.4889" stop-color="#3191c5"/><stop offset="0.5111" stop-color="#3095c4"/><stop offset="0.5333" stop-color="#3098c3"/><stop offset="0.5556" stop-color="#2f99c2"/><stop offset="0.5778" stop-color="#2f99c2"/><stop offset="0.6" stop-color="#2f9ac2"/><stop offset="0.6222" stop-color="#2f9ac2"/><stop offset="0.6444" stop-color="#2f9bc2"/><stop offset="0.6667" stop-color="#2e9fc0"/><stop offset="0.6889" stop-color="#30a8bc"/><stop offset="0.7111" stop-color="#41b0b0"/><stop offset="0.7333" stop-color="#53b6a5"/><stop offset="0.7556" stop-color="#61b99d"/><stop offset="0.7778" stop-color="#68bb99"/><stop offset="0.8" stop-color="#6bbb98"/><stop offset="0.8222" stop-color="#6dbc97"/><stop offset="0.8444" stop-color="#6dbc96"/><stop offset="0.8667" stop-color="#6dbc96"/><stop offset="0.8889" stop-color="#6dbc96"/><stop offset="0.9111" stop-color="#6cbc97"/><stop offset="0.9333" stop-color="#6bbb98"/><stop offset="0.9556" stop-color="#66ba9a"/><stop offset="0.9778" stop-color="#5eb89f"/><stop offset="1.0" stop-color="#4db5a8"/></linearGradient><linearGradient id="hn2"><stop offset="0.0" stop-color="#3569b6"/><stop offset="0.0222" stop-color="#3569b7"/><stop offset="0.0444" stop-color="#366fb9"/><stop offset="0.0667" stop-color="#3877be"/><stop offset="0.0889" stop-color="#367ec0"/><stop offset="0.1111" stop-color="#3582c2"/><stop offset="0.1333" stop-color="#3584c2"/><stop offset="0.1556" stop-color="#3485c3"/><stop offset="0.1778" stop-color="#3485c3"/><stop offset="0.2" stop-color="#3486c3"/><stop offset="0.2222" stop-color="#3486c3"/><stop offset="0.2444" stop-color="#3486c3"/><stop offset="0.2667" stop-color="#3487c3"/><stop offset="0.2889" stop-color="#3488c4"/><stop offset="0.3111" stop-color="#338bc5"/><stop offset="0.3333" stop-color="#3191c5"/><stop offset="0.3556" stop-color="#2f9bc2"/><stop offset="0.3778" stop-color="#2fa8bc"/><stop offset="0.4" stop-color="#3fafb1"/><stop offset="0.4222" stop-color="#4ab4aa"/><stop offset="0.4444" stop-color="#50b5a6"/><stop offset="0.4667" stop-color="#53b6a5"/><stop offset="0.4889" stop-color="#53b6a5"/><stop offset="0.5111" stop-color="#50b5a7"/><stop offset="0.5333" stop-color="#49b4ab"/><stop offset="0.5556" stop-color="#41b0b0"/><stop offset="0.5778" stop-color="#37abb6"/><stop offset="0.6" stop-color="#30a8bb"/><stop offset="0.6222" stop-color="#2ca6be"/><stop offset="0.6444" stop-color="#2ca4bf"/><stop offset="0.6667" stop-color="#2da3bf"/><stop offset="0.6889" stop-color="#2da2bf"/><stop offset="0.7111" stop-color="#2ea0c0"/><stop offset="0.7333" stop-color="#2e9cc1"/><stop offset="0.7556" stop-color="#3097c3"/><stop offset="0.7778" stop-color="#3191c5"/><stop offset="0.8" stop-color="#338cc5"/><stop offset="0.8222" stop-color="#3389c4"/><stop offset="0.8444" stop-color="#3487c4"/><stop offset="0.8667" stop-color="#3486c3"/><stop offset="0.8889" stop-color="#3486c3"/><stop offset="0.9111" stop-color="#3486c3"/><stop offset="0.9333" stop-color="#3486c3"/><stop offset="0.9556" stop-color="#3486c3"/><stop offset="0.9778" stop-color="#3486c3"/><stop offset="1.0" stop-color="#3486c3"/></linearGradient><linearGradient id="hn3"><stop offset="0.0" stop-color="#3771bb"/><stop offset="0.0222" stop-color="#3771bb"/><stop offset="0.0444" stop-color="#3771bb"/><stop offset="0.0667" stop-color="#3771bb"/><stop offset="0.0889" stop-color="#3771bb"/><stop offset="0.1111" stop-color="#3771bb"/><stop offset="0.1333" stop-color="#3771bb"/><stop offset="0.1556" stop-color="#3771bb"/><stop offset="0.1778" stop-color="#3771bb"/><stop offset="0.2" stop-color="#3771bb"/><stop offset="0.2222" stop-color="#3771bb"/><stop offset="0.2444" stop-color="#3771bb"/><stop offset="0.2667" stop-color="#3772bb"/><stop offset="0.2889" stop-color="#3772bb"/><stop offset="0.3111" stop-color="#3774bc"/><stop offset="0.3333" stop-color="#3879be"/><stop offset="0.3556" stop-color="#3488c4"/><stop offset="0.3778" stop-color="#2fa8bc"/><stop offset="0.4" stop-color="#60b99e"/><stop offset="0.4222" stop-color="#7bbd8f"/><stop offset="0.4444" stop-color="#6cbb97"/><stop offset="0.4667" stop-color="#4db5a8"/><stop offset="0.4889" stop-color="#3fafb1"/><stop offset="0.5111" stop-color="#3daeb2"/><stop offset="0.5333" stop-color="#3fafb1"/><stop offset="0.5556" stop-color="#40b0b0"/><stop offset="0.5778" stop-color="#41b0b0"/><stop offset="0.6" stop-color="#40afb1"/><stop offset="0.6222" stop-color="#3daeb3"/><stop offset="0.6444" stop-color="#37abb7"/><stop offset="0.6667" stop-color="#2ca6be"/><stop offset="0.6889" stop-color="#2f9bc2"/><stop offset="0.7111" stop-color="#3190c5"/><stop offset="0.7333" stop-color="#328ec6"/><stop offset="0.7556" stop-color="#3095c4"/><stop offset="0.7778" stop-color="#2da3bf"/><stop offset="0.8" stop-color="#3badb4"/><stop offset="0.8222" stop-color="#45b2ad"/><stop offset="0.8444" stop-color="#45b2ad"/><stop offset="0.8667" stop-color="#3eaeb2"/><stop offset="0.8889" stop-color="#31a8bb"/><stop offset="0.9111" stop-color="#2da0c0"/><stop offset="0.9333" stop-color="#2f9ac2"/><stop offset="0.9556" stop-color="#3095c4"/><stop offset="0.9778" stop-color="#3191c5"/><stop offset="1.0" stop-color="#328dc6"/></linearGradient><linearGradient id="hn4"><stop offset="0.0" stop-color="#3771bb"/><stop offset="0.0222" stop-color="#3771bb"/><stop offset="0.0444" stop-color="#3771bb"/><stop offset="0.0667" stop-color="#3771bb"/><stop offset="0.0889" stop-color="#3771bb"/><stop offset="0.1111" stop-color="#3771bb"/><stop offset="0.1333" stop-color="#3771bb"/><stop offset="0.1556" stop-color="#3771bb"/><stop offset="0.1778" stop-color="#3771bb"/><stop offset="0.2" stop-color="#3771bb"/><stop offset="0.2222" stop-color="#3771bb"/><stop offset="0.2444" stop-color="#3771bb"/><stop offset="0.2667" stop-color="#3771bb"/><stop offset="0.2889" stop-color="#3771bb"/><stop offset="0.3111" stop-color="#3772bb"/><stop offset="0.3333" stop-color="#3773bb"/><stop offset="0.3556" stop-color="#3876bd"/><stop offset="0.3778" stop-color="#3680c1"/><stop offset="0.4" stop-color="#3194c4"/><stop offset="0.4222" stop-color="#41b0b0"/><stop offset="0.4444" stop-color="#83be8a"/><stop offset="0.4667" stop-color="#bdc26a"/><stop offset="0.4889" stop-color="#c3c267"/><stop offset="0.5111" stop-color="#91bf82"/><stop offset="0.5333" stop-color="#4ab4aa"/><stop offset="0.5556" stop-color="#3097c3"/><stop offset="0.5778" stop-color="#367ec0"/><stop offset="0.6" stop-color="#3670ba"/><stop offset="0.6222" stop-color="#3567b6"/><stop offset="0.6444" stop-color="#3464b4"/><stop offset="0.6667" stop-color="#3462b3"/><stop offset="0.6889" stop-color="#3462b3"/><stop offset="0.7111" stop-color="#3462b2"/><stop offset="0.7333" stop-color="#3462b2"/><stop offset="0.7556" stop-color="#3462b2"/><stop offset="0.7778" stop-color="#3561b2"/><stop offset="0.8" stop-color="#3561b2"/><stop offset="0.8222" stop-color="#3561b2"/><stop offset="0.8444" stop-color="#3561b2"/><stop offset="0.8667" stop-color="#3560b1"/><stop offset="0.8889" stop-color="#355fb0"/><stop offset="0.9111" stop-color="#365caf"/><stop offset="0.9333" stop-color="#365aad"/><stop offset="0.9556" stop-color="#3659ac"/><stop offset="0.9778" stop-color="#3659ac"/><stop offset="1.0" stop-color="#365bae"/></linearGradient><linearGradient id="hn5"><stop offset="0.0" stop-color="#3486c3"/><stop offset="0.0222" stop-color="#3486c3"/><stop offset="0.0444" stop-color="#3486c3"/><stop offset="0.0667" stop-color="#3486c3"/><stop offset="0.0889" stop-color="#3486c3"/><stop offset="0.1111" stop-color="#3486c3"/><stop offset="0.1333" stop-color="#3486c3"/><stop offset="0.1556" stop-color="#3486c3"/><stop offset="0.1778" stop-color="#3486c3"/><stop offset="0.2" stop-color="#3486c3"/><stop offset="0.2222" stop-color="#3486c3"/><stop offset="0.2444" stop-color="#3486c3"/><stop offset="0.2667" stop-color="#3486c3"/><stop offset="0.2889" stop-color="#3486c3"/><stop offset="0.3111" stop-color="#3486c3"/><stop offset="0.3333" stop-color="#3487c3"/><stop offset="0.3556" stop-color="#3488c4"/><stop offset="0.3778" stop-color="#3389c4"/><stop offset="0.4" stop-color="#338ac5"/><stop offset="0.4222" stop-color="#338bc5"/><stop offset="0.4444" stop-color="#338bc5"/><stop offset="0.4667" stop-color="#338bc5"/><stop offset="0.4889" stop-color="#338bc5"/><stop offset="0.5111" stop-color="#338bc5"/><stop offset="0.5333" stop-color="#338bc5"/><stop offset="0.5556" stop-color="#338bc5"/><stop offset="0.5778" stop-color="#338bc5"/><stop offset="0.6" stop-color="#338bc5"/><stop offset="0.6222" stop-color="#338bc5"/><stop offset="0.6444" stop-color="#338bc5"/><stop offset="0.6667" stop-color="#338bc5"/><stop offset="0.6889" stop-color="#338bc5"/><stop offset="0.7111" stop-color="#338bc5"/><stop offset="0.7333" stop-color="#338bc5"/><stop offset="0.7556" stop-color="#338bc5"/><stop offset="0.7778" stop-color="#338bc5"/><stop offset="0.8" stop-color="#338bc5"/><stop offset="0.8222" stop-color="#338bc5"/><stop offset="0.8444" stop-color="#338bc5"/><stop offset="0.8667" stop-color="#338bc5"/><stop offset="0.8889" stop-color="#338bc5"/><stop offset="0.9111" stop-color="#338bc5"/><stop offset="0.9333" stop-color="#338bc5"/><stop offset="0.9556" stop-color="#338bc5"/><stop offset="0.9778" stop-color="#338bc5"/><stop offset="1.0" stop-color="#338ac5"/></linearGradient><linearGradient id="hn6"><stop offset="0.0" stop-color="#3771bb"/><stop offset="0.0222" stop-color="#3771bb"/><stop offset="0.0444" stop-color="#3771ba"/><stop offset="0.0667" stop-color="#3670ba"/><stop offset="0.0889" stop-color="#366fb9"/><stop offset="0.1111" stop-color="#366cb8"/><stop offset="0.1333" stop-color="#3567b5"/><stop offset="0.1556" stop-color="#3561b2"/><stop offset="0.1778" stop-color="#355daf"/><stop offset="0.2" stop-color="#365cae"/><stop offset="0.2222" stop-color="#355daf"/><stop offset="0.2444" stop-color="#3561b2"/><stop offset="0.2667" stop-color="#3567b5"/><stop offset="0.2889" stop-color="#366cb8"/><stop offset="0.3111" stop-color="#366fba"/><stop offset="0.3333" stop-color="#3773bb"/><stop offset="0.3556" stop-color="#3878be"/><stop offset="0.3778" stop-color="#3584c2"/><stop offset="0.4" stop-color="#2e9dc1"/><stop offset="0.4222" stop-color="#4eb5a8"/><stop offset="0.4444" stop-color="#7cbd8e"/><stop offset="0.4667" stop-color="#98c07e"/><stop offset="0.4889" stop-color="#a3c078"/><stop offset="0.5111" stop-color="#a8c175"/><stop offset="0.5333" stop-color="#abc174"/><stop offset="0.5556" stop-color="#aec172"/><stop offset="0.5778" stop-color="#adc173"/><stop offset="0.6" stop-color="#a0c07a"/><stop offset="0.6222" stop-color="#86be88"/><stop offset="0.6444" stop-color="#74bd92"/><stop offset="0.6667" stop-color="#71bc94"/><stop offset="0.6889" stop-color="#73bc93"/><stop offset="0.7111" stop-color="#75bd92"/><stop offset="0.7333" stop-color="#75bd92"/><stop offset="0.7556" stop-color="#72bc94"/><stop offset="0.7778" stop-color="#6bbb98"/><stop offset="0.8" stop-color="#5eb99f"/><stop offset="0.8222" stop-color="#49b4aa"/><stop offset="0.8444" stop-color="#33a9ba"/><stop offset="0.8667" stop-color="#2f9ac2"/><stop offset="0.8889" stop-color="#328ec6"/><stop offset="0.9111" stop-color="#3488c4"/><stop offset="0.9333" stop-color="#3485c3"/><stop offset="0.9556" stop-color="#3583c2"/><stop offset="0.9778" stop-color="#3582c2"/><stop offset="1.0" stop-color="#3680c1"/></linearGradient><linearGradient id="hn7"><stop offset="0.0" stop-color="#3771bb"/><stop offset="0.0222" stop-color="#3771bb"/><stop offset="0.0444" stop-color="#3771bb"/><stop offset="0.0667" stop-color="#3771bb"/><stop offset="0.0889" stop-color="#3771bb"/><stop offset="0.1111" stop-color="#3771bb"/><stop offset="0.1333" stop-color="#3771bb"/><stop offset="0.1556" stop-color="#3771bb"/><stop offset="0.1778" stop-color="#3771bb"/><stop offset="0.2" stop-color="#3771bb"/><stop offset="0.2222" stop-color="#3771bb"/><stop offset="0.2444" stop-color="#3772bb"/><stop offset="0.2667" stop-color="#3772bb"/><stop offset="0.2889" stop-color="#3773bb"/><stop offset="0.3111" stop-color="#3775bd"/><stop offset="0.3333" stop-color="#3879be"/><stop offset="0.3556" stop-color="#3680c1"/><stop offset="0.3778" stop-color="#3389c4"/><stop offset="0.4" stop-color="#3095c4"/><stop offset="0.4222" stop-color="#2e9fc0"/><stop offset="0.4444" stop-color="#2ca6be"/><stop offset="0.4667" stop-color="#30a8bb"/><stop offset="0.4889" stop-color="#32a9ba"/><stop offset="0.5111" stop-color="#33a9ba"/><stop offset="0.5333" stop-color="#33a9b9"/><stop offset="0.5556" stop-color="#33a9b9"/><stop offset="0.5778" stop-color="#33a9ba"/><stop offset="0.6" stop-color="#32a9ba"/><stop offset="0.6222" stop-color="#30a8bc"/><stop offset="0.6444" stop-color="#2ca5be"/><stop offset="0.6667" stop-color="#2e9ec1"/><stop offset="0.6889" stop-color="#3193c4"/><stop offset="0.7111" stop-color="#3486c3"/><stop offset="0.7333" stop-color="#377abf"/><stop offset="0.7556" stop-color="#366fb9"/><stop offset="0.7778" stop-color="#3465b4"/><stop offset="0.8" stop-color="#355fb0"/><stop offset="0.8222" stop-color="#365cae"/><stop offset="0.8444" stop-color="#365bae"/><stop offset="0.8667" stop-color="#365caf"/><stop offset="0.8889" stop-color="#355fb1"/><stop offset="0.9111" stop-color="#3464b4"/><stop offset="0.9333" stop-color="#3569b7"/><stop offset="0.9556" stop-color="#366db9"/><stop offset="0.9778" stop-color="#366fba"/><stop offset="1.0" stop-color="#3670ba"/></linearGradient></defs>
<rect x="18.8" y="696.0" width="150.2" height="13.02" fill="url(#hn0)"/>
<rect x="18.8" y="708.33" width="150.2" height="13.02" fill="url(#hn1)"/>
<rect x="18.8" y="720.65" width="150.2" height="13.02" fill="url(#hn2)"/>
<rect x="18.8" y="732.98" width="150.2" height="13.02" fill="url(#hn3)"/>
<rect x="18.8" y="745.3" width="150.2" height="13.02" fill="url(#hn4)"/>
<rect x="18.8" y="757.62" width="150.2" height="13.02" fill="url(#hn5)"/>
<rect x="18.8" y="769.95" width="150.2" height="13.02" fill="url(#hn6)"/>
<rect x="18.8" y="782.27" width="150.2" height="12.32" fill="url(#hn7)"/>
<rect x="18.8" y="696" width="150.2" height="98.6" fill="url(#stripe)"/>
<rect x="169.0" y="696" width="2.5" height="98.6" fill="#ee2222"/>
<line x1="18.5" y1="694.4" x2="18.5" y2="794.6" stroke="#111" stroke-width="0.6"/>
<line x1="18.400000000000002" y1="794.5" x2="169.4" y2="794.5" stroke="#111" stroke-width="0.5"/>
<line x1="68.5" y1="694.4" x2="68.5" y2="793.1" stroke="#151a24" stroke-width="0.8" stroke-dasharray="10.4 3.4"/>
<line x1="17.0" y1="794.5" x2="18.6" y2="794.5" stroke="#111" stroke-width="0.5"/>
<text x="16.2" y="797.7" font-size="9" text-anchor="end">0</text>
<line x1="17.0" y1="782.5" x2="18.6" y2="782.5" stroke="#111" stroke-width="0.5"/>
<text x="16.2" y="785.4" font-size="9" text-anchor="end">1</text>
<line x1="17.0" y1="770.5" x2="18.6" y2="770.5" stroke="#111" stroke-width="0.5"/>
<text x="16.2" y="773.1" font-size="9" text-anchor="end">2</text>
<line x1="17.0" y1="757.5" x2="18.6" y2="757.5" stroke="#111" stroke-width="0.5"/>
<text x="16.2" y="760.7" font-size="9" text-anchor="end">3</text>
<line x1="17.0" y1="745.5" x2="18.6" y2="745.5" stroke="#111" stroke-width="0.5"/>
<text x="16.2" y="748.4" font-size="9" text-anchor="end">4</text>
<line x1="17.0" y1="732.5" x2="18.6" y2="732.5" stroke="#111" stroke-width="0.5"/>
<text x="16.2" y="736.1" font-size="9" text-anchor="end">5</text>
<line x1="17.0" y1="720.5" x2="18.6" y2="720.5" stroke="#111" stroke-width="0.5"/>
<text x="16.2" y="723.8" font-size="9" text-anchor="end">6</text>
<line x1="17.0" y1="708.5" x2="18.6" y2="708.5" stroke="#111" stroke-width="0.5"/>
<text x="16.2" y="711.4" font-size="9" text-anchor="end">7</text>
<line x1="17.0" y1="696.5" x2="18.6" y2="696.5" stroke="#111" stroke-width="0.5"/>
<text x="16.2" y="699.1" font-size="9" text-anchor="end">8</text>
<line x1="18.5" y1="794.6" x2="18.5" y2="796.2" stroke="#111" stroke-width="0.5"/>
<text x="17.8" y="804.2" font-size="9" text-anchor="middle">-5</text>
<line x1="38.5" y1="794.6" x2="38.5" y2="796.2" stroke="#111" stroke-width="0.5"/>
<text x="37.8" y="804.2" font-size="9" text-anchor="middle">-3</text>
<line x1="58.5" y1="794.6" x2="58.5" y2="796.2" stroke="#111" stroke-width="0.5"/>
<text x="57.9" y="804.2" font-size="9" text-anchor="middle">-1</text>
<line x1="78.5" y1="794.6" x2="78.5" y2="796.2" stroke="#111" stroke-width="0.5"/>
<text x="78.9" y="804.2" font-size="9" text-anchor="middle">1</text>
<line x1="98.5" y1="794.6" x2="98.5" y2="796.2" stroke="#111" stroke-width="0.5"/>
<text x="98.9" y="804.2" font-size="9" text-anchor="middle">3</text>
<line x1="118.5" y1="794.6" x2="118.5" y2="796.2" stroke="#111" stroke-width="0.5"/>
<text x="118.9" y="804.2" font-size="9" text-anchor="middle">5</text>
<line x1="138.5" y1="794.6" x2="138.5" y2="796.2" stroke="#111" stroke-width="0.5"/>
<text x="139.0" y="804.2" font-size="9" text-anchor="middle">7</text>
<line x1="158.5" y1="794.6" x2="158.5" y2="796.2" stroke="#111" stroke-width="0.5"/>
<text x="158.4" y="804.2" font-size="9" text-anchor="middle">9</text>
<line x1="168.5" y1="794.6" x2="168.5" y2="796.2" stroke="#111" stroke-width="0.5"/>
<text x="169.8" y="804.2" font-size="9" text-anchor="middle">10</text>
<text x="90.5" y="815.0" font-size="10.2" text-anchor="middle">Time(s)</text>
<text x="9.4" y="745.3" font-size="10.8" text-anchor="middle" transform="rotate(-90 9.4 745.3)">Trials</text>
<text x="8" y="689" font-size="10.8" font-weight="bold">n</text>
<defs><linearGradient id="ho0"><stop offset="0.0" stop-color="#356bb7"/><stop offset="0.0222" stop-color="#356bb7"/><stop offset="0.0444" stop-color="#356bb7"/><stop offset="0.0667" stop-color="#356bb7"/><stop offset="0.0889" stop-color="#356bb7"/><stop offset="0.1111" stop-color="#356bb7"/><stop offset="0.1333" stop-color="#356bb7"/><stop offset="0.1556" stop-color="#356bb7"/><stop offset="0.1778" stop-color="#356bb7"/><stop offset="0.2" stop-color="#356bb7"/><stop offset="0.2222" stop-color="#356bb8"/><stop offset="0.2444" stop-color="#366cb8"/><stop offset="0.2667" stop-color="#366eb9"/><stop offset="0.2889" stop-color="#3772bb"/><stop offset="0.3111" stop-color="#377bbf"/><stop offset="0.3333" stop-color="#3488c4"/><stop offset="0.3556" stop-color="#2f9bc2"/><stop offset="0.3778" stop-color="#3aadb5"/><stop offset="0.4" stop-color="#50b5a7"/><stop offset="0.4222" stop-color="#5eb89f"/><stop offset="0.4444" stop-color="#62b99c"/><stop offset="0.4667" stop-color="#60b99e"/><stop offset="0.4889" stop-color="#56b7a4"/><stop offset="0.5111" stop-color="#45b2ad"/><stop offset="0.5333" stop-color="#35aab8"/><stop offset="0.5556" stop-color="#2da2bf"/><stop offset="0.5778" stop-color="#2f9bc2"/><stop offset="0.6" stop-color="#3097c3"/><stop offset="0.6222" stop-color="#3095c4"/><stop offset="0.6444" stop-color="#3094c4"/><stop offset="0.6667" stop-color="#3193c4"/><stop offset="0.6889" stop-color="#3192c5"/><stop offset="0.7111" stop-color="#328fc6"/><stop offset="0.7333" stop-color="#338ac4"/><stop offset="0.7556" stop-color="#3680c1"/><stop offset="0.7778" stop-color="#366db9"/><stop offset="0.8" stop-color="#3658ab"/><stop offset="0.8222" stop-color="#39489f"/><stop offset="0.8444" stop-color="#3a459c"/><stop offset="0.8667" stop-color="#3851a6"/><stop offset="0.8889" stop-color="#355daf"/><stop offset="0.9111" stop-color="#3466b5"/><stop offset="0.9333" stop-color="#3569b7"/><stop offset="0.9556" stop-color="#356ab7"/><stop offset="0.9778" stop-color="#356bb7"/><stop offset="1.0" stop-color="#356bb7"/></linearGradient><linearGradient id="ho1"><stop offset="0.0" stop-color="#3567b6"/><stop offset="0.0222" stop-color="#3567b5"/><stop offset="0.0444" stop-color="#3466b5"/><stop offset="0.0667" stop-color="#3465b4"/><stop offset="0.0889" stop-color="#3463b3"/><stop offset="0.1111" stop-color="#3560b1"/><stop offset="0.1333" stop-color="#355eb0"/><stop offset="0.1556" stop-color="#365cae"/><stop offset="0.1778" stop-color="#365cae"/><stop offset="0.2" stop-color="#355eb0"/><stop offset="0.2222" stop-color="#3560b2"/><stop offset="0.2444" stop-color="#3463b3"/><stop offset="0.2667" stop-color="#3466b5"/><stop offset="0.2889" stop-color="#3569b6"/><stop offset="0.3111" stop-color="#366db9"/><stop offset="0.3333" stop-color="#3877bd"/><stop offset="0.3556" stop-color="#3487c3"/><stop offset="0.3778" stop-color="#2da4bf"/><stop offset="0.4" stop-color="#57b7a3"/><stop offset="0.4222" stop-color="#85be89"/><stop offset="0.4444" stop-color="#a1c079"/><stop offset="0.4667" stop-color="#acc173"/><stop offset="0.4889" stop-color="#adc173"/><stop offset="0.5111" stop-color="#a3c078"/><stop offset="0.5333" stop-color="#88be87"/><stop offset="0.5556" stop-color="#5fb99e"/><stop offset="0.5778" stop-color="#3cadb4"/><stop offset="0.6" stop-color="#2da0c0"/><stop offset="0.6222" stop-color="#3097c3"/><stop offset="0.6444" stop-color="#3193c4"/><stop offset="0.6667" stop-color="#3190c5"/><stop offset="0.6889" stop-color="#328ec6"/><stop offset="0.7111" stop-color="#338ac5"/><stop offset="0.7333" stop-color="#3583c2"/><stop offset="0.7556" stop-color="#3879be"/><stop offset="0.7778" stop-color="#3567b5"/><stop offset="0.8" stop-color="#3756aa"/><stop offset="0.8222" stop-color="#39489f"/><stop offset="0.8444" stop-color="#3a469d"/><stop offset="0.8667" stop-color="#3851a7"/><stop offset="0.8889" stop-color="#365caf"/><stop offset="0.9111" stop-color="#3463b3"/><stop offset="0.9333" stop-color="#3466b5"/><stop offset="0.9556" stop-color="#3567b5"/><stop offset="0.9778" stop-color="#3567b6"/><stop offset="1.0" stop-color="#3567b6"/></linearGradient><linearGradient id="ho2"><stop offset="0.0" stop-color="#3191c5"/><stop offset="0.0222" stop-color="#3191c5"/><stop offset="0.0444" stop-color="#3191c5"/><stop offset="0.0667" stop-color="#3191c5"/><stop offset="0.0889" stop-color="#3191c5"/><stop offset="0.1111" stop-color="#3191c5"/><stop offset="0.1333" stop-color="#3191c5"/><stop offset="0.1556" stop-color="#3191c5"/><stop offset="0.1778" stop-color="#3191c5"/><stop offset="0.2" stop-color="#3191c5"/><stop offset="0.2222" stop-color="#3191c5"/><stop offset="0.2444" stop-color="#3191c5"/><stop offset="0.2667" stop-color="#3191c5"/><stop offset="0.2889" stop-color="#3192c5"/><stop offset="0.3111" stop-color="#3194c4"/><stop offset="0.3333" stop-color="#2f99c2"/><stop offset="0.3556" stop-color="#2ea7bc"/><stop offset="0.3778" stop-color="#59b7a2"/><stop offset="0.4" stop-color="#acc173"/><stop offset="0.4222" stop-color="#e8c44c"/><stop offset="0.4444" stop-color="#f4cd3e"/><stop offset="0.4667" stop-color="#f6d03b"/><stop offset="0.4889" stop-color="#f5cd3d"/><stop offset="0.5111" stop-color="#e9c54b"/><stop offset="0.5333" stop-color="#bac16b"/><stop offset="0.5556" stop-color="#88be88"/><stop offset="0.5778" stop-color="#6fbc95"/><stop offset="0.6" stop-color="#68bb99"/><stop offset="0.6222" stop-color="#65ba9b"/><stop offset="0.6444" stop-color="#61b99d"/><stop offset="0.6667" stop-color="#58b7a2"/><stop offset="0.6889" stop-color="#4bb4a9"/><stop offset="0.7111" stop-color="#3eaeb2"/><stop offset="0.7333" stop-color="#33a9ba"/><stop offset="0.7556" stop-color="#2ca6be"/><stop offset="0.7778" stop-color="#2da3bf"/><stop offset="0.8" stop-color="#2da1c0"/><stop offset="0.8222" stop-color="#2da1c0"/><stop offset="0.8444" stop-color="#2da0c0"/><stop offset="0.8667" stop-color="#2da0c0"/><stop offset="0.8889" stop-color="#2ea0c0"/><stop offset="0.9111" stop-color="#2ea0c0"/><stop offset="0.9333" stop-color="#2ea0c0"/><stop offset="0.9556" stop-color="#2e9fc0"/><stop offset="0.9778" stop-color="#2e9ec1"/><stop offset="1.0" stop-color="#2e9dc1"/></linearGradient><linearGradient id="ho3"><stop offset="0.0" stop-color="#355fb0"/><stop offset="0.0222" stop-color="#355fb0"/><stop offset="0.0444" stop-color="#355fb0"/><stop offset="0.0667" stop-color="#355fb0"/><stop offset="0.0889" stop-color="#355eb0"/><stop offset="0.1111" stop-color="#355daf"/><stop offset="0.1333" stop-color="#365aad"/><stop offset="0.1556" stop-color="#3757ab"/><stop offset="0.1778" stop-color="#3852a7"/><stop offset="0.2" stop-color="#394ca2"/><stop offset="0.2222" stop-color="#39489e"/><stop offset="0.2444" stop-color="#3a479d"/><stop offset="0.2667" stop-color="#39499f"/><stop offset="0.2889" stop-color="#384ea4"/><stop offset="0.3111" stop-color="#3756aa"/><stop offset="0.3333" stop-color="#3560b1"/><stop offset="0.3556" stop-color="#366eb9"/><stop offset="0.3778" stop-color="#377cc0"/><stop offset="0.4" stop-color="#3487c3"/><stop offset="0.4222" stop-color="#3191c5"/><stop offset="0.4444" stop-color="#2e9dc1"/><stop offset="0.4667" stop-color="#35aab8"/><stop offset="0.4889" stop-color="#4eb5a8"/><stop offset="0.5111" stop-color="#6abb98"/><stop offset="0.5333" stop-color="#83be8a"/><stop offset="0.5556" stop-color="#94bf81"/><stop offset="0.5778" stop-color="#9bc07c"/><stop offset="0.6" stop-color="#9dc07b"/><stop offset="0.6222" stop-color="#9ac07d"/><stop offset="0.6444" stop-color="#91bf82"/><stop offset="0.6667" stop-color="#80be8c"/><stop offset="0.6889" stop-color="#69bb99"/><stop offset="0.7111" stop-color="#53b6a5"/><stop offset="0.7333" stop-color="#3fafb1"/><stop offset="0.7556" stop-color="#31a9ba"/><stop offset="0.7778" stop-color="#2da3bf"/><stop offset="0.8" stop-color="#2e9fc0"/><stop offset="0.8222" stop-color="#2e9cc1"/><stop offset="0.8444" stop-color="#2f9bc2"/><stop offset="0.8667" stop-color="#2f9ac2"/><stop offset="0.8889" stop-color="#2f9ac2"/><stop offset="0.9111" stop-color="#2f9ac2"/><stop offset="0.9333" stop-color="#2f99c2"/><stop offset="0.9556" stop-color="#3097c3"/><stop offset="0.9778" stop-color="#3193c4"/><stop offset="1.0" stop-color="#328dc6"/></linearGradient><linearGradient id="ho4"><stop offset="0.0" stop-color="#3097c3"/><stop offset="0.0222" stop-color="#3097c3"/><stop offset="0.0444" stop-color="#3097c3"/><stop offset="0.0667" stop-color="#3097c3"/><stop offset="0.0889" stop-color="#3098c3"/><stop offset="0.1111" stop-color="#2f98c3"/><stop offset="0.1333" stop-color="#2f9ac2"/><stop offset="0.1556" stop-color="#2e9dc1"/><stop offset="0.1778" stop-color="#2da1c0"/><stop offset="0.2" stop-color="#2ca6be"/><stop offset="0.2222" stop-color="#31a8bb"/><stop offset="0.2444" stop-color="#34aab9"/><stop offset="0.2667" stop-color="#36abb7"/><stop offset="0.2889" stop-color="#38acb6"/><stop offset="0.3111" stop-color="#3cadb4"/><stop offset="0.3333" stop-color="#46b2ad"/><stop offset="0.3556" stop-color="#62b99d"/><stop offset="0.3778" stop-color="#9fc07a"/><stop offset="0.4" stop-color="#dbc356"/><stop offset="0.4222" stop-color="#f1cb41"/><stop offset="0.4444" stop-color="#f6d23a"/><stop offset="0.4667" stop-color="#f7d637"/><stop offset="0.4889" stop-color="#f7d736"/><stop offset="0.5111" stop-color="#f7d537"/><stop offset="0.5333" stop-color="#f6d13a"/><stop offset="0.5556" stop-color="#efc944"/><stop offset="0.5778" stop-color="#d5c35a"/><stop offset="0.6" stop-color="#9dc07b"/><stop offset="0.6222" stop-color="#6abb98"/><stop offset="0.6444" stop-color="#4fb5a7"/><stop offset="0.6667" stop-color="#3fafb2"/><stop offset="0.6889" stop-color="#33a9b9"/><stop offset="0.7111" stop-color="#2ca6be"/><stop offset="0.7333" stop-color="#2da3bf"/><stop offset="0.7556" stop-color="#2da1c0"/><stop offset="0.7778" stop-color="#2da1c0"/><stop offset="0.8" stop-color="#2da0c0"/><stop offset="0.8222" stop-color="#2da0c0"/><stop offset="0.8444" stop-color="#2da0c0"/><stop offset="0.8667" stop-color="#2da0c0"/><stop offset="0.8889" stop-color="#2ea0c0"/><stop offset="0.9111" stop-color="#2ea0c0"/><stop offset="0.9333" stop-color="#2ea0c0"/><stop offset="0.9556" stop-color="#2ea0c0"/><stop offset="0.9778" stop-color="#2e9fc0"/><stop offset="1.0" stop-color="#2e9ec1"/></linearGradient><linearGradient id="ho5"><stop offset="0.0" stop-color="#3094c4"/><stop offset="0.0222" stop-color="#3094c4"/><stop offset="0.0444" stop-color="#3094c4"/><stop offset="0.0667" stop-color="#3094c4"/><stop offset="0.0889" stop-color="#3094c4"/><stop offset="0.1111" stop-color="#3094c4"/><stop offset="0.1333" stop-color="#3094c4"/><stop offset="0.1556" stop-color="#3094c4"/><stop offset="0.1778" stop-color="#3094c4"/><stop offset="0.2" stop-color="#3094c4"/><stop offset="0.2222" stop-color="#3094c4"/><stop offset="0.2444" stop-color="#3095c4"/><stop offset="0.2667" stop-color="#3095c4"/><stop offset="0.2889" stop-color="#3097c3"/><stop offset="0.3111" stop-color="#2e9cc1"/><stop offset="0.3333" stop-color="#2fa7bc"/><stop offset="0.3556" stop-color="#4db5a8"/><stop offset="0.3778" stop-color="#89be86"/><stop offset="0.4" stop-color="#cec260"/><stop offset="0.4222" stop-color="#ecc747"/><stop offset="0.4444" stop-color="#f4cc3f"/><stop offset="0.4667" stop-color="#f6ce3c"/><stop offset="0.4889" stop-color="#f3cc3f"/><stop offset="0.5111" stop-color="#ecc748"/><stop offset="0.5333" stop-color="#dac356"/><stop offset="0.5556" stop-color="#c9c263"/><stop offset="0.5778" stop-color="#bcc16b"/><stop offset="0.6" stop-color="#b1c170"/><stop offset="0.6222" stop-color="#a3c078"/><stop offset="0.6444" stop-color="#8fbf83"/><stop offset="0.6667" stop-color="#76bd91"/><stop offset="0.6889" stop-color="#64ba9b"/><stop offset="0.7111" stop-color="#58b7a2"/><stop offset="0.7333" stop-color="#4db5a8"/><stop offset="0.7556" stop-color="#43b1af"/><stop offset="0.7778" stop-color="#38acb6"/><stop offset="0.8" stop-color="#2ea7bc"/><stop offset="0.8222" stop-color="#2da3bf"/><stop offset="0.8444" stop-color="#2ea0c0"/><stop offset="0.8667" stop-color="#2e9ec1"/><stop offset="0.8889" stop-color="#2e9dc1"/><stop offset="0.9111" stop-color="#2e9dc1"/><stop offset="0.9333" stop-color="#2e9dc1"/><stop offset="0.9556" stop-color="#2e9dc1"/><stop offset="0.9778" stop-color="#2e9cc1"/><stop offset="1.0" stop-color="#2f9bc2"/></linearGradient><linearGradient id="ho6"><stop offset="0.0" stop-color="#3a479d"/><stop offset="0.0222" stop-color="#3a4299"/><stop offset="0.0444" stop-color="#3b4299"/><stop offset="0.0667" stop-color="#3a459c"/><stop offset="0.0889" stop-color="#394ca2"/><stop offset="0.1111" stop-color="#3754a9"/><stop offset="0.1333" stop-color="#365bad"/><stop offset="0.1556" stop-color="#355fb1"/><stop offset="0.1778" stop-color="#3462b2"/><stop offset="0.2" stop-color="#3463b3"/><stop offset="0.2222" stop-color="#3464b4"/><stop offset="0.2444" stop-color="#3464b4"/><stop offset="0.2667" stop-color="#3465b5"/><stop offset="0.2889" stop-color="#3568b6"/><stop offset="0.3111" stop-color="#366eb9"/><stop offset="0.3333" stop-color="#377abf"/><stop offset="0.3556" stop-color="#328ec6"/><stop offset="0.3778" stop-color="#34aab8"/><stop offset="0.4" stop-color="#5ab8a1"/><stop offset="0.4222" stop-color="#74bd92"/><stop offset="0.4444" stop-color="#7fbd8c"/><stop offset="0.4667" stop-color="#78bd90"/><stop offset="0.4889" stop-color="#64ba9b"/><stop offset="0.5111" stop-color="#4fb5a7"/><stop offset="0.5333" stop-color="#42b0af"/><stop offset="0.5556" stop-color="#3daeb3"/><stop offset="0.5778" stop-color="#3badb4"/><stop offset="0.6" stop-color="#39acb5"/><stop offset="0.6222" stop-color="#37abb7"/><stop offset="0.6444" stop-color="#33a9ba"/><stop offset="0.6667" stop-color="#2ca5be"/><stop offset="0.6889" stop-color="#2f9cc1"/><stop offset="0.7111" stop-color="#3192c5"/><stop offset="0.7333" stop-color="#338bc5"/><stop offset="0.7556" stop-color="#3487c3"/><stop offset="0.7778" stop-color="#3585c3"/><stop offset="0.8" stop-color="#3584c2"/><stop offset="0.8222" stop-color="#3583c2"/><stop offset="0.8444" stop-color="#3583c2"/><stop offset="0.8667" stop-color="#3583c2"/><stop offset="0.8889" stop-color="#3583c2"/><stop offset="0.9111" stop-color="#3583c2"/><stop offset="0.9333" stop-color="#3582c2"/><stop offset="0.9556" stop-color="#3582c1"/><stop offset="0.9778" stop-color="#3680c1"/><stop offset="1.0" stop-color="#377dc0"/></linearGradient><linearGradient id="ho7"><stop offset="0.0" stop-color="#3464b4"/><stop offset="0.0222" stop-color="#3464b4"/><stop offset="0.0444" stop-color="#3464b4"/><stop offset="0.0667" stop-color="#3464b4"/><stop offset="0.0889" stop-color="#3463b3"/><stop offset="0.1111" stop-color="#3462b2"/><stop offset="0.1333" stop-color="#355fb1"/><stop offset="0.1556" stop-color="#365cae"/><stop offset="0.1778" stop-color="#3757ab"/><stop offset="0.2" stop-color="#3753a8"/><stop offset="0.2222" stop-color="#3851a7"/><stop offset="0.2444" stop-color="#3852a8"/><stop offset="0.2667" stop-color="#3757ab"/><stop offset="0.2889" stop-color="#355daf"/><stop offset="0.3111" stop-color="#3466b5"/><stop offset="0.3333" stop-color="#3774bc"/><stop offset="0.3556" stop-color="#3581c1"/><stop offset="0.3778" stop-color="#328ec6"/><stop offset="0.4" stop-color="#3097c3"/><stop offset="0.4222" stop-color="#2e9ec1"/><stop offset="0.4444" stop-color="#2ca6be"/><stop offset="0.4667" stop-color="#43b1af"/><stop offset="0.4889" stop-color="#79bd90"/><stop offset="0.5111" stop-color="#d0c25e"/><stop offset="0.5333" stop-color="#f6d03b"/><stop offset="0.5556" stop-color="#f8e030"/><stop offset="0.5778" stop-color="#f7d835"/><stop offset="0.6" stop-color="#e5c44e"/><stop offset="0.6222" stop-color="#8dbf84"/><stop offset="0.6444" stop-color="#40afb1"/><stop offset="0.6667" stop-color="#3094c4"/><stop offset="0.6889" stop-color="#3583c2"/><stop offset="0.7111" stop-color="#377cbf"/><stop offset="0.7333" stop-color="#3878be"/><stop offset="0.7556" stop-color="#3772bb"/><stop offset="0.7778" stop-color="#366db8"/><stop offset="0.8" stop-color="#3569b6"/><stop offset="0.8222" stop-color="#3466b5"/><stop offset="0.8444" stop-color="#3465b5"/><stop offset="0.8667" stop-color="#3464b4"/><stop offset="0.8889" stop-color="#3464b4"/><stop offset="0.9111" stop-color="#3464b4"/><stop offset="0.9333" stop-color="#3464b4"/><stop offset="0.9556" stop-color="#3464b4"/><stop offset="0.9778" stop-color="#3464b4"/><stop offset="1.0" stop-color="#3464b4"/></linearGradient></defs>
<rect x="185.8" y="695.6" width="150.3" height="13.1" fill="url(#ho0)"/>
<rect x="185.8" y="708.0" width="150.3" height="13.1" fill="url(#ho1)"/>
<rect x="185.8" y="720.4" width="150.3" height="13.1" fill="url(#ho2)"/>
<rect x="185.8" y="732.8" width="150.3" height="13.1" fill="url(#ho3)"/>
<rect x="185.8" y="745.2" width="150.3" height="13.1" fill="url(#ho4)"/>
<rect x="185.8" y="757.6" width="150.3" height="13.1" fill="url(#ho5)"/>
<rect x="185.8" y="770.0" width="150.3" height="13.1" fill="url(#ho6)"/>
<rect x="185.8" y="782.4" width="150.3" height="12.4" fill="url(#ho7)"/>
<rect x="185.8" y="695.6" width="150.3" height="99.2" fill="url(#stripe)"/>
<rect x="336.1" y="695.6" width="2.5" height="99.2" fill="#2a52a8"/>
<line x1="185.5" y1="694.0" x2="185.5" y2="794.8000000000001" stroke="#111" stroke-width="0.6"/>
<line x1="185.4" y1="794.5" x2="336.5" y2="794.5" stroke="#111" stroke-width="0.5"/>
<line x1="235.5" y1="694.0" x2="235.5" y2="793.3000000000001" stroke="#151a24" stroke-width="0.8" stroke-dasharray="10.4 3.4"/>
<line x1="184.0" y1="794.5" x2="185.60000000000002" y2="794.5" stroke="#111" stroke-width="0.5"/>
<text x="183.2" y="797.9" font-size="9" text-anchor="end">0</text>
<line x1="184.0" y1="782.5" x2="185.60000000000002" y2="782.5" stroke="#111" stroke-width="0.5"/>
<text x="183.2" y="785.5" font-size="9" text-anchor="end">1</text>
<line x1="184.0" y1="770.5" x2="185.60000000000002" y2="770.5" stroke="#111" stroke-width="0.5"/>
<text x="183.2" y="773.1" font-size="9" text-anchor="end">2</text>
<line x1="184.0" y1="757.5" x2="185.60000000000002" y2="757.5" stroke="#111" stroke-width="0.5"/>
<text x="183.2" y="760.7" font-size="9" text-anchor="end">3</text>
<line x1="184.0" y1="745.5" x2="185.60000000000002" y2="745.5" stroke="#111" stroke-width="0.5"/>
<text x="183.2" y="748.3" font-size="9" text-anchor="end">4</text>
<line x1="184.0" y1="732.5" x2="185.60000000000002" y2="732.5" stroke="#111" stroke-width="0.5"/>
<text x="183.2" y="735.9" font-size="9" text-anchor="end">5</text>
<line x1="184.0" y1="720.5" x2="185.60000000000002" y2="720.5" stroke="#111" stroke-width="0.5"/>
<text x="183.2" y="723.5" font-size="9" text-anchor="end">6</text>
<line x1="184.0" y1="708.5" x2="185.60000000000002" y2="708.5" stroke="#111" stroke-width="0.5"/>
<text x="183.2" y="711.1" font-size="9" text-anchor="end">7</text>
<line x1="184.0" y1="695.5" x2="185.60000000000002" y2="695.5" stroke="#111" stroke-width="0.5"/>
<text x="183.2" y="698.7" font-size="9" text-anchor="end">8</text>
<line x1="185.5" y1="794.8000000000001" x2="185.5" y2="796.4000000000001" stroke="#111" stroke-width="0.5"/>
<text x="184.8" y="804.4" font-size="9" text-anchor="middle">-5</text>
<line x1="205.5" y1="794.8000000000001" x2="205.5" y2="796.4000000000001" stroke="#111" stroke-width="0.5"/>
<text x="204.8" y="804.4" font-size="9" text-anchor="middle">-3</text>
<line x1="225.5" y1="794.8000000000001" x2="225.5" y2="796.4000000000001" stroke="#111" stroke-width="0.5"/>
<text x="224.9" y="804.4" font-size="9" text-anchor="middle">-1</text>
<line x1="245.5" y1="794.8000000000001" x2="245.5" y2="796.4000000000001" stroke="#111" stroke-width="0.5"/>
<text x="245.9" y="804.4" font-size="9" text-anchor="middle">1</text>
<line x1="266.5" y1="794.8000000000001" x2="266.5" y2="796.4000000000001" stroke="#111" stroke-width="0.5"/>
<text x="266.0" y="804.4" font-size="9" text-anchor="middle">3</text>
<line x1="286.5" y1="794.8000000000001" x2="286.5" y2="796.4000000000001" stroke="#111" stroke-width="0.5"/>
<text x="286.0" y="804.4" font-size="9" text-anchor="middle">5</text>
<line x1="306.5" y1="794.8000000000001" x2="306.5" y2="796.4000000000001" stroke="#111" stroke-width="0.5"/>
<text x="306.0" y="804.4" font-size="9" text-anchor="middle">7</text>
<line x1="326.5" y1="794.8000000000001" x2="326.5" y2="796.4000000000001" stroke="#111" stroke-width="0.5"/>
<text x="325.5" y="804.4" font-size="9" text-anchor="middle">9</text>
<line x1="336.5" y1="794.8000000000001" x2="336.5" y2="796.4000000000001" stroke="#111" stroke-width="0.5"/>
<text x="336.9" y="804.4" font-size="9" text-anchor="middle">10</text>
<text x="257.5" y="815.2" font-size="10.2" text-anchor="middle">Time(s)</text>
<text x="176.6" y="690.4" font-size="10.8" font-weight="bold">o</text>
<defs><linearGradient id="hp0"><stop offset="0.0" stop-color="#394ca2"/><stop offset="0.0222" stop-color="#3a479e"/><stop offset="0.0444" stop-color="#3a459b"/><stop offset="0.0667" stop-color="#3a449a"/><stop offset="0.0889" stop-color="#3a449a"/><stop offset="0.1111" stop-color="#3a459c"/><stop offset="0.1333" stop-color="#3a489e"/><stop offset="0.1556" stop-color="#394da3"/><stop offset="0.1778" stop-color="#3754a9"/><stop offset="0.2" stop-color="#365aad"/><stop offset="0.2222" stop-color="#3560b1"/><stop offset="0.2444" stop-color="#3463b3"/><stop offset="0.2667" stop-color="#3466b5"/><stop offset="0.2889" stop-color="#3567b6"/><stop offset="0.3111" stop-color="#356ab7"/><stop offset="0.3333" stop-color="#3670ba"/><stop offset="0.3556" stop-color="#367fc0"/><stop offset="0.3778" stop-color="#2e9fc0"/><stop offset="0.4" stop-color="#74bd93"/><stop offset="0.4222" stop-color="#d9c357"/><stop offset="0.4444" stop-color="#f5cd3d"/><stop offset="0.4667" stop-color="#f7d736"/><stop offset="0.4889" stop-color="#f7d935"/><stop offset="0.5111" stop-color="#f7d438"/><stop offset="0.5333" stop-color="#edc846"/><stop offset="0.5556" stop-color="#aec172"/><stop offset="0.5778" stop-color="#4eb5a8"/><stop offset="0.6" stop-color="#2f99c2"/><stop offset="0.6222" stop-color="#3583c2"/><stop offset="0.6444" stop-color="#3876bd"/><stop offset="0.6667" stop-color="#366eb9"/><stop offset="0.6889" stop-color="#356ab7"/><stop offset="0.7111" stop-color="#3569b6"/><stop offset="0.7333" stop-color="#3568b6"/><stop offset="0.7556" stop-color="#3568b6"/><stop offset="0.7778" stop-color="#3567b6"/><stop offset="0.8" stop-color="#3567b6"/><stop offset="0.8222" stop-color="#3567b6"/><stop offset="0.8444" stop-color="#3567b5"/><stop offset="0.8667" stop-color="#3466b5"/><stop offset="0.8889" stop-color="#3464b4"/><stop offset="0.9111" stop-color="#3561b2"/><stop offset="0.9333" stop-color="#365caf"/><stop offset="0.9556" stop-color="#3756ab"/><stop offset="0.9778" stop-color="#3852a7"/><stop offset="1.0" stop-color="#3851a7"/></linearGradient><linearGradient id="hp1"><stop offset="0.0" stop-color="#3568b6"/><stop offset="0.0222" stop-color="#3568b6"/><stop offset="0.0444" stop-color="#3568b6"/><stop offset="0.0667" stop-color="#356ab7"/><stop offset="0.0889" stop-color="#366cb8"/><stop offset="0.1111" stop-color="#3670ba"/><stop offset="0.1333" stop-color="#3774bc"/><stop offset="0.1556" stop-color="#3877bd"/><stop offset="0.1778" stop-color="#3878be"/><stop offset="0.2" stop-color="#3877be"/><stop offset="0.2222" stop-color="#3774bc"/><stop offset="0.2444" stop-color="#3771ba"/><stop offset="0.2667" stop-color="#366eb9"/><stop offset="0.2889" stop-color="#366db8"/><stop offset="0.3111" stop-color="#366eb9"/><stop offset="0.3333" stop-color="#3774bc"/><stop offset="0.3556" stop-color="#367ec0"/><stop offset="0.3778" stop-color="#328dc6"/><stop offset="0.4" stop-color="#2e9fc0"/><stop offset="0.4222" stop-color="#35aab8"/><stop offset="0.4444" stop-color="#3fafb1"/><stop offset="0.4667" stop-color="#47b2ac"/><stop offset="0.4889" stop-color="#58b7a2"/><stop offset="0.5111" stop-color="#8cbf85"/><stop offset="0.5333" stop-color="#d5c35a"/><stop offset="0.5556" stop-color="#f1cb41"/><stop offset="0.5778" stop-color="#f6d13a"/><stop offset="0.6" stop-color="#f6cf3c"/><stop offset="0.6222" stop-color="#ecc748"/><stop offset="0.6444" stop-color="#b3c170"/><stop offset="0.6667" stop-color="#53b6a5"/><stop offset="0.6889" stop-color="#2f9ac2"/><stop offset="0.7111" stop-color="#3582c2"/><stop offset="0.7333" stop-color="#3876bd"/><stop offset="0.7556" stop-color="#366eb9"/><stop offset="0.7778" stop-color="#356ab7"/><stop offset="0.8" stop-color="#3569b6"/><stop offset="0.8222" stop-color="#3568b6"/><stop offset="0.8444" stop-color="#3568b6"/><stop offset="0.8667" stop-color="#3567b6"/><stop offset="0.8889" stop-color="#3567b6"/><stop offset="0.9111" stop-color="#3567b6"/><stop offset="0.9333" stop-color="#3567b6"/><stop offset="0.9556" stop-color="#3567b6"/><stop offset="0.9778" stop-color="#3567b6"/><stop offset="1.0" stop-color="#3567b6"/></linearGradient><linearGradient id="hp2"><stop offset="0.0" stop-color="#3771bb"/><stop offset="0.0222" stop-color="#3771bb"/><stop offset="0.0444" stop-color="#3771bb"/><stop offset="0.0667" stop-color="#3771bb"/><stop offset="0.0889" stop-color="#3771bb"/><stop offset="0.1111" stop-color="#3771bb"/><stop offset="0.1333" stop-color="#3771bb"/><stop offset="0.1556" stop-color="#3771bb"/><stop offset="0.1778" stop-color="#3771bb"/><stop offset="0.2" stop-color="#3771bb"/><stop offset="0.2222" stop-color="#3771ba"/><stop offset="0.2444" stop-color="#366eb9"/><stop offset="0.2667" stop-color="#3463b4"/><stop offset="0.2889" stop-color="#3754a9"/><stop offset="0.3111" stop-color="#394ca2"/><stop offset="0.3333" stop-color="#3756aa"/><stop offset="0.3556" stop-color="#3774bc"/><stop offset="0.3778" stop-color="#2e9fc0"/><stop offset="0.4" stop-color="#65ba9b"/><stop offset="0.4222" stop-color="#9dc07c"/><stop offset="0.4444" stop-color="#b6c16e"/><stop offset="0.4667" stop-color="#c0c268"/><stop offset="0.4889" stop-color="#bcc16a"/><stop offset="0.5111" stop-color="#b9c16c"/><stop offset="0.5333" stop-color="#bfc269"/><stop offset="0.5556" stop-color="#c5c266"/><stop offset="0.5778" stop-color="#c7c265"/><stop offset="0.6" stop-color="#c4c266"/><stop offset="0.6222" stop-color="#b4c16f"/><stop offset="0.6444" stop-color="#8ebf84"/><stop offset="0.6667" stop-color="#5db89f"/><stop offset="0.6889" stop-color="#41b0b0"/><stop offset="0.7111" stop-color="#32a9ba"/><stop offset="0.7333" stop-color="#2da1c0"/><stop offset="0.7556" stop-color="#3194c4"/><stop offset="0.7778" stop-color="#3486c3"/><stop offset="0.8" stop-color="#377cc0"/><stop offset="0.8222" stop-color="#3774bc"/><stop offset="0.8444" stop-color="#366db8"/><stop offset="0.8667" stop-color="#3464b4"/><stop offset="0.8889" stop-color="#365bae"/><stop offset="0.9111" stop-color="#3852a8"/><stop offset="0.9333" stop-color="#394ba1"/><stop offset="0.9556" stop-color="#3a479d"/><stop offset="0.9778" stop-color="#3a479e"/><stop offset="1.0" stop-color="#394da3"/></linearGradient><linearGradient id="hp3"><stop offset="0.0" stop-color="#2e9dc1"/><stop offset="0.0222" stop-color="#2e9dc1"/><stop offset="0.0444" stop-color="#2e9dc1"/><stop offset="0.0667" stop-color="#2e9dc1"/><stop offset="0.0889" stop-color="#2e9dc1"/><stop offset="0.1111" stop-color="#2e9dc1"/><stop offset="0.1333" stop-color="#2e9dc1"/><stop offset="0.1556" stop-color="#2e9dc1"/><stop offset="0.1778" stop-color="#2e9dc1"/><stop offset="0.2" stop-color="#2e9dc1"/><stop offset="0.2222" stop-color="#2e9dc1"/><stop offset="0.2444" stop-color="#2e9dc1"/><stop offset="0.2667" stop-color="#2e9dc1"/><stop offset="0.2889" stop-color="#2e9ec1"/><stop offset="0.3111" stop-color="#2da1c0"/><stop offset="0.3333" stop-color="#33a9b9"/><stop offset="0.3556" stop-color="#5cb8a0"/><stop offset="0.3778" stop-color="#bec269"/><stop offset="0.4" stop-color="#f3cc40"/><stop offset="0.4222" stop-color="#f8da34"/><stop offset="0.4444" stop-color="#f8df30"/><stop offset="0.4667" stop-color="#f8dc33"/><stop offset="0.4889" stop-color="#f3cc40"/><stop offset="0.5111" stop-color="#d7c358"/><stop offset="0.5333" stop-color="#d1c35d"/><stop offset="0.5556" stop-color="#eac54a"/><stop offset="0.5778" stop-color="#f6d13a"/><stop offset="0.6" stop-color="#f8dc33"/><stop offset="0.6222" stop-color="#f8de31"/><stop offset="0.6444" stop-color="#f8dd32"/><stop offset="0.6667" stop-color="#f7d736"/><stop offset="0.6889" stop-color="#f1ca42"/><stop offset="0.7111" stop-color="#cdc261"/><stop offset="0.7333" stop-color="#90bf83"/><stop offset="0.7556" stop-color="#67ba9a"/><stop offset="0.7778" stop-color="#51b5a6"/><stop offset="0.8" stop-color="#42b0af"/><stop offset="0.8222" stop-color="#3aadb5"/><stop offset="0.8444" stop-color="#38abb6"/><stop offset="0.8667" stop-color="#3aacb5"/><stop offset="0.8889" stop-color="#42b0b0"/><stop offset="0.9111" stop-color="#51b6a6"/><stop offset="0.9333" stop-color="#66ba9b"/><stop offset="0.9556" stop-color="#77bd91"/><stop offset="0.9778" stop-color="#7ebd8d"/><stop offset="1.0" stop-color="#74bd93"/></linearGradient><linearGradient id="hp4"><stop offset="0.0" stop-color="#3097c3"/><stop offset="0.0222" stop-color="#3097c3"/><stop offset="0.0444" stop-color="#3097c3"/><stop offset="0.0667" stop-color="#3097c3"/><stop offset="0.0889" stop-color="#3097c3"/><stop offset="0.1111" stop-color="#3098c3"/><stop offset="0.1333" stop-color="#2f99c2"/><stop offset="0.1556" stop-color="#2f9bc2"/><stop offset="0.1778" stop-color="#2e9dc1"/><stop offset="0.2" stop-color="#2da0c0"/><stop offset="0.2222" stop-color="#2da3bf"/><stop offset="0.2444" stop-color="#2ca5be"/><stop offset="0.2667" stop-color="#2ca5be"/><stop offset="0.2889" stop-color="#2ca6be"/><stop offset="0.3111" stop-color="#2da7bd"/><stop offset="0.3333" stop-color="#31a8bb"/><stop offset="0.3556" stop-color="#37abb7"/><stop offset="0.3778" stop-color="#3fafb1"/><stop offset="0.4" stop-color="#46b2ad"/><stop offset="0.4222" stop-color="#4ab4aa"/><stop offset="0.4444" stop-color="#4cb4a9"/><stop offset="0.4667" stop-color="#4db5a8"/><stop offset="0.4889" stop-color="#4fb5a7"/><stop offset="0.5111" stop-color="#53b6a5"/><stop offset="0.5333" stop-color="#61b99d"/><stop offset="0.5556" stop-color="#8bbf86"/><stop offset="0.5778" stop-color="#d0c35e"/><stop offset="0.6" stop-color="#f2cb40"/><stop offset="0.6222" stop-color="#f7d537"/><stop offset="0.6444" stop-color="#f7d537"/><stop offset="0.6667" stop-color="#f2cb40"/><stop offset="0.6889" stop-color="#d3c35c"/><stop offset="0.7111" stop-color="#9bc07c"/><stop offset="0.7333" stop-color="#77bd91"/><stop offset="0.7556" stop-color="#65ba9b"/><stop offset="0.7778" stop-color="#54b6a4"/><stop offset="0.8" stop-color="#41b0b0"/><stop offset="0.8222" stop-color="#2fa8bc"/><stop offset="0.8444" stop-color="#2e9dc1"/><stop offset="0.8667" stop-color="#3192c5"/><stop offset="0.8889" stop-color="#3389c4"/><stop offset="0.9111" stop-color="#3582c1"/><stop offset="0.9333" stop-color="#377cc0"/><stop offset="0.9556" stop-color="#377abf"/><stop offset="0.9778" stop-color="#377abf"/><stop offset="1.0" stop-color="#377dc0"/></linearGradient><linearGradient id="hp5"><stop offset="0.0" stop-color="#3097c3"/><stop offset="0.0222" stop-color="#3097c3"/><stop offset="0.0444" stop-color="#3098c3"/><stop offset="0.0667" stop-color="#2f99c2"/><stop offset="0.0889" stop-color="#2f9bc2"/><stop offset="0.1111" stop-color="#2e9ec1"/><stop offset="0.1333" stop-color="#2da2bf"/><stop offset="0.1556" stop-color="#2ca5be"/><stop offset="0.1778" stop-color="#2da6bd"/><stop offset="0.2" stop-color="#2da7bd"/><stop offset="0.2222" stop-color="#2ca6be"/><stop offset="0.2444" stop-color="#2da4bf"/><stop offset="0.2667" stop-color="#2da1c0"/><stop offset="0.2889" stop-color="#2e9ec1"/><stop offset="0.3111" stop-color="#2e9dc1"/><stop offset="0.3333" stop-color="#2e9fc0"/><stop offset="0.3556" stop-color="#2ca4bf"/><stop offset="0.3778" stop-color="#36abb7"/><stop offset="0.4" stop-color="#43b1ae"/><stop offset="0.4222" stop-color="#50b5a7"/><stop offset="0.4444" stop-color="#5ab8a1"/><stop offset="0.4667" stop-color="#66ba9b"/><stop offset="0.4889" stop-color="#84be89"/><stop offset="0.5111" stop-color="#c1c268"/><stop offset="0.5333" stop-color="#ecc748"/><stop offset="0.5556" stop-color="#f6d03b"/><stop offset="0.5778" stop-color="#f7d438"/><stop offset="0.6" stop-color="#f6d13a"/><stop offset="0.6222" stop-color="#f2cb41"/><stop offset="0.6444" stop-color="#ecc748"/><stop offset="0.6667" stop-color="#e8c44c"/><stop offset="0.6889" stop-color="#e3c450"/><stop offset="0.7111" stop-color="#ddc355"/><stop offset="0.7333" stop-color="#cec260"/><stop offset="0.7556" stop-color="#a4c078"/><stop offset="0.7778" stop-color="#60b99e"/><stop offset="0.8" stop-color="#31a8bb"/><stop offset="0.8222" stop-color="#3095c4"/><stop offset="0.8444" stop-color="#328cc5"/><stop offset="0.8667" stop-color="#338bc5"/><stop offset="0.8889" stop-color="#328ec6"/><stop offset="0.9111" stop-color="#3192c5"/><stop offset="0.9333" stop-color="#3094c4"/><stop offset="0.9556" stop-color="#3096c3"/><stop offset="0.9778" stop-color="#3096c3"/><stop offset="1.0" stop-color="#3097c3"/></linearGradient><linearGradient id="hp6"><stop offset="0.0" stop-color="#3b3f96"/><stop offset="0.0222" stop-color="#3b3f96"/><stop offset="0.0444" stop-color="#3b3f96"/><stop offset="0.0667" stop-color="#3b3f96"/><stop offset="0.0889" stop-color="#3b3f96"/><stop offset="0.1111" stop-color="#3b3f96"/><stop offset="0.1333" stop-color="#3b3f96"/><stop offset="0.1556" stop-color="#3b3f96"/><stop offset="0.1778" stop-color="#3b3f96"/><stop offset="0.2" stop-color="#3b3f96"/><stop offset="0.2222" stop-color="#3b3f96"/><stop offset="0.2444" stop-color="#3b3f96"/><stop offset="0.2667" stop-color="#3b3f96"/><stop offset="0.2889" stop-color="#3b4097"/><stop offset="0.3111" stop-color="#3a439a"/><stop offset="0.3333" stop-color="#3851a7"/><stop offset="0.3556" stop-color="#3567b6"/><stop offset="0.3778" stop-color="#3583c2"/><stop offset="0.4" stop-color="#2ea7bd"/><stop offset="0.4222" stop-color="#7fbd8c"/><stop offset="0.4444" stop-color="#d9c357"/><stop offset="0.4667" stop-color="#f2cb40"/><stop offset="0.4889" stop-color="#f6d13a"/><stop offset="0.5111" stop-color="#f6d03a"/><stop offset="0.5333" stop-color="#eec945"/><stop offset="0.5556" stop-color="#c3c267"/><stop offset="0.5778" stop-color="#6bbb97"/><stop offset="0.6" stop-color="#37abb7"/><stop offset="0.6222" stop-color="#3095c4"/><stop offset="0.6444" stop-color="#3582c2"/><stop offset="0.6667" stop-color="#3670ba"/><stop offset="0.6889" stop-color="#355daf"/><stop offset="0.7111" stop-color="#3850a6"/><stop offset="0.7333" stop-color="#394ca2"/><stop offset="0.7556" stop-color="#3852a8"/><stop offset="0.7778" stop-color="#3561b2"/><stop offset="0.8" stop-color="#377abf"/><stop offset="0.8222" stop-color="#338cc5"/><stop offset="0.8444" stop-color="#2f98c3"/><stop offset="0.8667" stop-color="#2e9fc0"/><stop offset="0.8889" stop-color="#2e9fc0"/><stop offset="0.9111" stop-color="#2f98c3"/><stop offset="0.9333" stop-color="#328ec6"/><stop offset="0.9556" stop-color="#3583c2"/><stop offset="0.9778" stop-color="#377bbf"/><stop offset="1.0" stop-color="#3772bb"/></linearGradient><linearGradient id="hp7"><stop offset="0.0" stop-color="#3852a7"/><stop offset="0.0222" stop-color="#3852a7"/><stop offset="0.0444" stop-color="#3757ab"/><stop offset="0.0667" stop-color="#355eb0"/><stop offset="0.0889" stop-color="#3464b4"/><stop offset="0.1111" stop-color="#3569b6"/><stop offset="0.1333" stop-color="#366cb8"/><stop offset="0.1556" stop-color="#366db8"/><stop offset="0.1778" stop-color="#366eb9"/><stop offset="0.2" stop-color="#366eb9"/><stop offset="0.2222" stop-color="#366eb9"/><stop offset="0.2444" stop-color="#366eb9"/><stop offset="0.2667" stop-color="#366eb9"/><stop offset="0.2889" stop-color="#366eb9"/><stop offset="0.3111" stop-color="#366fb9"/><stop offset="0.3333" stop-color="#3670ba"/><stop offset="0.3556" stop-color="#3772bb"/><stop offset="0.3778" stop-color="#3876bd"/><stop offset="0.4" stop-color="#377bbf"/><stop offset="0.4222" stop-color="#367fc1"/><stop offset="0.4444" stop-color="#3582c2"/><stop offset="0.4667" stop-color="#3584c2"/><stop offset="0.4889" stop-color="#3485c3"/><stop offset="0.5111" stop-color="#3485c3"/><stop offset="0.5333" stop-color="#3485c3"/><stop offset="0.5556" stop-color="#3585c3"/><stop offset="0.5778" stop-color="#3584c2"/><stop offset="0.6" stop-color="#3581c1"/><stop offset="0.6222" stop-color="#377dc0"/><stop offset="0.6444" stop-color="#3775bc"/><stop offset="0.6667" stop-color="#3465b4"/><stop offset="0.6889" stop-color="#3755aa"/><stop offset="0.7111" stop-color="#39499f"/><stop offset="0.7333" stop-color="#3a459b"/><stop offset="0.7556" stop-color="#394aa0"/><stop offset="0.7778" stop-color="#3756aa"/><stop offset="0.8" stop-color="#3462b3"/><stop offset="0.8222" stop-color="#356ab7"/><stop offset="0.8444" stop-color="#366db8"/><stop offset="0.8667" stop-color="#366eb9"/><stop offset="0.8889" stop-color="#366eb9"/><stop offset="0.9111" stop-color="#366eb9"/><stop offset="0.9333" stop-color="#366eb9"/><stop offset="0.9556" stop-color="#366eb9"/><stop offset="0.9778" stop-color="#366eb9"/><stop offset="1.0" stop-color="#366eb9"/></linearGradient></defs>
<rect x="352.3" y="695.2" width="153.3" height="13.15" fill="url(#hp0)"/>
<rect x="352.3" y="707.65" width="153.3" height="13.15" fill="url(#hp1)"/>
<rect x="352.3" y="720.1" width="153.3" height="13.15" fill="url(#hp2)"/>
<rect x="352.3" y="732.55" width="153.3" height="13.15" fill="url(#hp3)"/>
<rect x="352.3" y="745.0" width="153.3" height="13.15" fill="url(#hp4)"/>
<rect x="352.3" y="757.45" width="153.3" height="13.15" fill="url(#hp5)"/>
<rect x="352.3" y="769.9" width="153.3" height="13.15" fill="url(#hp6)"/>
<rect x="352.3" y="782.35" width="153.3" height="12.45" fill="url(#hp7)"/>
<rect x="352.3" y="695.2" width="153.3" height="99.6" fill="url(#stripe)"/>
<rect x="505.6" y="695.2" width="2.5" height="99.6" fill="#12a03c"/>
<line x1="352.5" y1="693.6" x2="352.5" y2="794.8000000000001" stroke="#111" stroke-width="0.6"/>
<line x1="351.90000000000003" y1="794.5" x2="506.0" y2="794.5" stroke="#111" stroke-width="0.5"/>
<line x1="403.5" y1="693.6" x2="403.5" y2="793.3000000000001" stroke="#151a24" stroke-width="0.8" stroke-dasharray="10.4 3.4"/>
<line x1="350.5" y1="794.5" x2="352.1" y2="794.5" stroke="#111" stroke-width="0.5"/>
<text x="349.7" y="797.9" font-size="9" text-anchor="end">0</text>
<line x1="350.5" y1="782.5" x2="352.1" y2="782.5" stroke="#111" stroke-width="0.5"/>
<text x="349.7" y="785.5" font-size="9" text-anchor="end">1</text>
<line x1="350.5" y1="769.5" x2="352.1" y2="769.5" stroke="#111" stroke-width="0.5"/>
<text x="349.7" y="773.0" font-size="9" text-anchor="end">2</text>
<line x1="350.5" y1="757.5" x2="352.1" y2="757.5" stroke="#111" stroke-width="0.5"/>
<text x="349.7" y="760.6" font-size="9" text-anchor="end">3</text>
<line x1="350.5" y1="744.5" x2="352.1" y2="744.5" stroke="#111" stroke-width="0.5"/>
<text x="349.7" y="748.1" font-size="9" text-anchor="end">4</text>
<line x1="350.5" y1="732.5" x2="352.1" y2="732.5" stroke="#111" stroke-width="0.5"/>
<text x="349.7" y="735.7" font-size="9" text-anchor="end">5</text>
<line x1="350.5" y1="720.5" x2="352.1" y2="720.5" stroke="#111" stroke-width="0.5"/>
<text x="349.7" y="723.2" font-size="9" text-anchor="end">6</text>
<line x1="350.5" y1="707.5" x2="352.1" y2="707.5" stroke="#111" stroke-width="0.5"/>
<text x="349.7" y="710.8" font-size="9" text-anchor="end">7</text>
<line x1="350.5" y1="695.5" x2="352.1" y2="695.5" stroke="#111" stroke-width="0.5"/>
<text x="349.7" y="698.3" font-size="9" text-anchor="end">8</text>
<line x1="352.5" y1="794.8000000000001" x2="352.5" y2="796.4000000000001" stroke="#111" stroke-width="0.5"/>
<text x="351.3" y="804.4" font-size="9" text-anchor="middle">-5</text>
<line x1="372.5" y1="794.8000000000001" x2="372.5" y2="796.4000000000001" stroke="#111" stroke-width="0.5"/>
<text x="371.7" y="804.4" font-size="9" text-anchor="middle">-3</text>
<line x1="393.5" y1="794.8000000000001" x2="393.5" y2="796.4000000000001" stroke="#111" stroke-width="0.5"/>
<text x="392.2" y="804.4" font-size="9" text-anchor="middle">-1</text>
<line x1="413.5" y1="794.8000000000001" x2="413.5" y2="796.4000000000001" stroke="#111" stroke-width="0.5"/>
<text x="413.6" y="804.4" font-size="9" text-anchor="middle">1</text>
<line x1="434.5" y1="794.8000000000001" x2="434.5" y2="796.4000000000001" stroke="#111" stroke-width="0.5"/>
<text x="434.1" y="804.4" font-size="9" text-anchor="middle">3</text>
<line x1="454.5" y1="794.8000000000001" x2="454.5" y2="796.4000000000001" stroke="#111" stroke-width="0.5"/>
<text x="454.5" y="804.4" font-size="9" text-anchor="middle">5</text>
<line x1="474.5" y1="794.8000000000001" x2="474.5" y2="796.4000000000001" stroke="#111" stroke-width="0.5"/>
<text x="474.9" y="804.4" font-size="9" text-anchor="middle">7</text>
<line x1="495.5" y1="794.8000000000001" x2="495.5" y2="796.4000000000001" stroke="#111" stroke-width="0.5"/>
<text x="494.8" y="804.4" font-size="9" text-anchor="middle">9</text>
<line x1="505.5" y1="794.8000000000001" x2="505.5" y2="796.4000000000001" stroke="#111" stroke-width="0.5"/>
<text x="506.4" y="804.4" font-size="9" text-anchor="middle">10</text>
<text x="426.0" y="815.2" font-size="10.2" text-anchor="middle">Time(s)</text>
<text x="343" y="688" font-size="10.8" font-weight="bold">p</text>
<defs><linearGradient id="hq0"><stop offset="0.0" stop-color="#3878be"/><stop offset="0.0222" stop-color="#3878be"/><stop offset="0.0444" stop-color="#3878be"/><stop offset="0.0667" stop-color="#3878be"/><stop offset="0.0889" stop-color="#3878be"/><stop offset="0.1111" stop-color="#3878be"/><stop offset="0.1333" stop-color="#3878be"/><stop offset="0.1556" stop-color="#3878be"/><stop offset="0.1778" stop-color="#3878be"/><stop offset="0.2" stop-color="#3878be"/><stop offset="0.2222" stop-color="#3878be"/><stop offset="0.2444" stop-color="#3878be"/><stop offset="0.2667" stop-color="#3879be"/><stop offset="0.2889" stop-color="#387abf"/><stop offset="0.3111" stop-color="#377cbf"/><stop offset="0.3333" stop-color="#367fc1"/><stop offset="0.3556" stop-color="#3486c3"/><stop offset="0.3778" stop-color="#328fc6"/><stop offset="0.4" stop-color="#2f99c2"/><stop offset="0.4222" stop-color="#2da1c0"/><stop offset="0.4444" stop-color="#2da3bf"/><stop offset="0.4667" stop-color="#2da0c0"/><stop offset="0.4889" stop-color="#2e9dc1"/><stop offset="0.5111" stop-color="#2f9bc2"/><stop offset="0.5333" stop-color="#2e9dc1"/><stop offset="0.5556" stop-color="#2ea0c0"/><stop offset="0.5778" stop-color="#2da4bf"/><stop offset="0.6" stop-color="#2ca6be"/><stop offset="0.6222" stop-color="#2da3bf"/><stop offset="0.6444" stop-color="#2e9ec1"/><stop offset="0.6667" stop-color="#2f98c3"/><stop offset="0.6889" stop-color="#3193c4"/><stop offset="0.7111" stop-color="#328dc6"/><stop offset="0.7333" stop-color="#3389c4"/><stop offset="0.7556" stop-color="#3486c3"/><stop offset="0.7778" stop-color="#3584c3"/><stop offset="0.8" stop-color="#3584c2"/><stop offset="0.8222" stop-color="#3583c2"/><stop offset="0.8444" stop-color="#3583c2"/><stop offset="0.8667" stop-color="#3583c2"/><stop offset="0.8889" stop-color="#3583c2"/><stop offset="0.9111" stop-color="#3583c2"/><stop offset="0.9333" stop-color="#3583c2"/><stop offset="0.9556" stop-color="#3582c2"/><stop offset="0.9778" stop-color="#3582c2"/><stop offset="1.0" stop-color="#3681c1"/></linearGradient><linearGradient id="hq1"><stop offset="0.0" stop-color="#3878be"/><stop offset="0.0222" stop-color="#3878be"/><stop offset="0.0444" stop-color="#3878be"/><stop offset="0.0667" stop-color="#3878be"/><stop offset="0.0889" stop-color="#3878be"/><stop offset="0.1111" stop-color="#3878be"/><stop offset="0.1333" stop-color="#3878be"/><stop offset="0.1556" stop-color="#3878be"/><stop offset="0.1778" stop-color="#3878be"/><stop offset="0.2" stop-color="#3878be"/><stop offset="0.2222" stop-color="#3878be"/><stop offset="0.2444" stop-color="#3878be"/><stop offset="0.2667" stop-color="#3878be"/><stop offset="0.2889" stop-color="#3879be"/><stop offset="0.3111" stop-color="#3879be"/><stop offset="0.3333" stop-color="#377abf"/><stop offset="0.3556" stop-color="#377cc0"/><stop offset="0.3778" stop-color="#367fc0"/><stop offset="0.4" stop-color="#3681c1"/><stop offset="0.4222" stop-color="#3582c2"/><stop offset="0.4444" stop-color="#3583c2"/><stop offset="0.4667" stop-color="#3584c3"/><stop offset="0.4889" stop-color="#3486c3"/><stop offset="0.5111" stop-color="#338ac4"/><stop offset="0.5333" stop-color="#328ec6"/><stop offset="0.5556" stop-color="#3193c4"/><stop offset="0.5778" stop-color="#3096c3"/><stop offset="0.6" stop-color="#2f98c3"/><stop offset="0.6222" stop-color="#2f99c2"/><stop offset="0.6444" stop-color="#2f99c2"/><stop offset="0.6667" stop-color="#2f99c2"/><stop offset="0.6889" stop-color="#2f99c2"/><stop offset="0.7111" stop-color="#3098c3"/><stop offset="0.7333" stop-color="#3096c3"/><stop offset="0.7556" stop-color="#3192c5"/><stop offset="0.7778" stop-color="#328dc6"/><stop offset="0.8" stop-color="#3389c4"/><stop offset="0.8222" stop-color="#3486c3"/><stop offset="0.8444" stop-color="#3584c3"/><stop offset="0.8667" stop-color="#3584c2"/><stop offset="0.8889" stop-color="#3583c2"/><stop offset="0.9111" stop-color="#3583c2"/><stop offset="0.9333" stop-color="#3583c2"/><stop offset="0.9556" stop-color="#3582c2"/><stop offset="0.9778" stop-color="#3582c2"/><stop offset="1.0" stop-color="#3681c1"/></linearGradient><linearGradient id="hq2"><stop offset="0.0" stop-color="#3771bb"/><stop offset="0.0222" stop-color="#3771bb"/><stop offset="0.0444" stop-color="#3771bb"/><stop offset="0.0667" stop-color="#3771bb"/><stop offset="0.0889" stop-color="#3771bb"/><stop offset="0.1111" stop-color="#3771bb"/><stop offset="0.1333" stop-color="#3771bb"/><stop offset="0.1556" stop-color="#3771bb"/><stop offset="0.1778" stop-color="#3771bb"/><stop offset="0.2" stop-color="#3771bb"/><stop offset="0.2222" stop-color="#3771bb"/><stop offset="0.2444" stop-color="#3772bb"/><stop offset="0.2667" stop-color="#3772bb"/><stop offset="0.2889" stop-color="#3772bb"/><stop offset="0.3111" stop-color="#3774bc"/><stop offset="0.3333" stop-color="#3876bd"/><stop offset="0.3556" stop-color="#3879be"/><stop offset="0.3778" stop-color="#377dc0"/><stop offset="0.4" stop-color="#3681c1"/><stop offset="0.4222" stop-color="#3584c2"/><stop offset="0.4444" stop-color="#3487c3"/><stop offset="0.4667" stop-color="#3389c4"/><stop offset="0.4889" stop-color="#338bc5"/><stop offset="0.5111" stop-color="#328dc5"/><stop offset="0.5333" stop-color="#328dc6"/><stop offset="0.5556" stop-color="#328dc6"/><stop offset="0.5778" stop-color="#338cc5"/><stop offset="0.6" stop-color="#338ac4"/><stop offset="0.6222" stop-color="#3488c4"/><stop offset="0.6444" stop-color="#3486c3"/><stop offset="0.6667" stop-color="#3584c2"/><stop offset="0.6889" stop-color="#3584c2"/><stop offset="0.7111" stop-color="#3583c2"/><stop offset="0.7333" stop-color="#3583c2"/><stop offset="0.7556" stop-color="#3582c2"/><stop offset="0.7778" stop-color="#3681c1"/><stop offset="0.8" stop-color="#367fc1"/><stop offset="0.8222" stop-color="#377dc0"/><stop offset="0.8444" stop-color="#377abf"/><stop offset="0.8667" stop-color="#3878be"/><stop offset="0.8889" stop-color="#3878be"/><stop offset="0.9111" stop-color="#3878be"/><stop offset="0.9333" stop-color="#377abf"/><stop offset="0.9556" stop-color="#377cc0"/><stop offset="0.9778" stop-color="#367ec0"/><stop offset="1.0" stop-color="#367ec0"/></linearGradient><linearGradient id="hq3"><stop offset="0.0" stop-color="#3775bc"/><stop offset="0.0222" stop-color="#3775bc"/><stop offset="0.0444" stop-color="#3775bc"/><stop offset="0.0667" stop-color="#3775bc"/><stop offset="0.0889" stop-color="#3775bc"/><stop offset="0.1111" stop-color="#3775bc"/><stop offset="0.1333" stop-color="#3775bc"/><stop offset="0.1556" stop-color="#3775bc"/><stop offset="0.1778" stop-color="#3775bc"/><stop offset="0.2" stop-color="#3775bc"/><stop offset="0.2222" stop-color="#3775bc"/><stop offset="0.2444" stop-color="#3775bc"/><stop offset="0.2667" stop-color="#3775bd"/><stop offset="0.2889" stop-color="#3876bd"/><stop offset="0.3111" stop-color="#3877bd"/><stop offset="0.3333" stop-color="#3878be"/><stop offset="0.3556" stop-color="#377bbf"/><stop offset="0.3778" stop-color="#367ec0"/><stop offset="0.4" stop-color="#3680c1"/><stop offset="0.4222" stop-color="#3581c1"/><stop offset="0.4444" stop-color="#3582c2"/><stop offset="0.4667" stop-color="#3583c2"/><stop offset="0.4889" stop-color="#3583c2"/><stop offset="0.5111" stop-color="#3583c2"/><stop offset="0.5333" stop-color="#3583c2"/><stop offset="0.5556" stop-color="#3583c2"/><stop offset="0.5778" stop-color="#3583c2"/><stop offset="0.6" stop-color="#3584c2"/><stop offset="0.6222" stop-color="#3585c3"/><stop offset="0.6444" stop-color="#3487c3"/><stop offset="0.6667" stop-color="#338ac5"/><stop offset="0.6889" stop-color="#3290c5"/><stop offset="0.7111" stop-color="#3096c3"/><stop offset="0.7333" stop-color="#2f9ac2"/><stop offset="0.7556" stop-color="#2e9cc1"/><stop offset="0.7778" stop-color="#2e9cc1"/><stop offset="0.8" stop-color="#2f9ac2"/><stop offset="0.8222" stop-color="#3096c3"/><stop offset="0.8444" stop-color="#3290c5"/><stop offset="0.8667" stop-color="#338ac5"/><stop offset="0.8889" stop-color="#3487c3"/><stop offset="0.9111" stop-color="#3585c3"/><stop offset="0.9333" stop-color="#3583c2"/><stop offset="0.9556" stop-color="#3583c2"/><stop offset="0.9778" stop-color="#3582c2"/><stop offset="1.0" stop-color="#3680c1"/></linearGradient><linearGradient id="hq4"><stop offset="0.0" stop-color="#3775bc"/><stop offset="0.0222" stop-color="#3775bc"/><stop offset="0.0444" stop-color="#3775bc"/><stop offset="0.0667" stop-color="#3775bc"/><stop offset="0.0889" stop-color="#3775bc"/><stop offset="0.1111" stop-color="#3775bc"/><stop offset="0.1333" stop-color="#3775bc"/><stop offset="0.1556" stop-color="#3775bc"/><stop offset="0.1778" stop-color="#3775bc"/><stop offset="0.2" stop-color="#3775bc"/><stop offset="0.2222" stop-color="#3775bc"/><stop offset="0.2444" stop-color="#3775bc"/><stop offset="0.2667" stop-color="#3775bd"/><stop offset="0.2889" stop-color="#3876bd"/><stop offset="0.3111" stop-color="#3877bd"/><stop offset="0.3333" stop-color="#3879be"/><stop offset="0.3556" stop-color="#377cbf"/><stop offset="0.3778" stop-color="#367fc1"/><stop offset="0.4" stop-color="#3582c2"/><stop offset="0.4222" stop-color="#3584c2"/><stop offset="0.4444" stop-color="#3485c3"/><stop offset="0.4667" stop-color="#3485c3"/><stop offset="0.4889" stop-color="#3485c3"/><stop offset="0.5111" stop-color="#3485c3"/><stop offset="0.5333" stop-color="#3584c2"/><stop offset="0.5556" stop-color="#3583c2"/><stop offset="0.5778" stop-color="#3680c1"/><stop offset="0.6" stop-color="#377cc0"/><stop offset="0.6222" stop-color="#3878be"/><stop offset="0.6444" stop-color="#3772bb"/><stop offset="0.6667" stop-color="#366eb9"/><stop offset="0.6889" stop-color="#356bb8"/><stop offset="0.7111" stop-color="#356ab7"/><stop offset="0.7333" stop-color="#356ab7"/><stop offset="0.7556" stop-color="#366cb8"/><stop offset="0.7778" stop-color="#366fb9"/><stop offset="0.8" stop-color="#3771bb"/><stop offset="0.8222" stop-color="#3773bb"/><stop offset="0.8444" stop-color="#3774bc"/><stop offset="0.8667" stop-color="#3774bc"/><stop offset="0.8889" stop-color="#3774bc"/><stop offset="0.9111" stop-color="#3775bc"/><stop offset="0.9333" stop-color="#3775bc"/><stop offset="0.9556" stop-color="#3775bc"/><stop offset="0.9778" stop-color="#3775bc"/><stop offset="1.0" stop-color="#3775bc"/></linearGradient><linearGradient id="hq5"><stop offset="0.0" stop-color="#3878be"/><stop offset="0.0222" stop-color="#3878be"/><stop offset="0.0444" stop-color="#3878be"/><stop offset="0.0667" stop-color="#3878be"/><stop offset="0.0889" stop-color="#3878be"/><stop offset="0.1111" stop-color="#3878be"/><stop offset="0.1333" stop-color="#3878be"/><stop offset="0.1556" stop-color="#3878be"/><stop offset="0.1778" stop-color="#3878be"/><stop offset="0.2" stop-color="#3878be"/><stop offset="0.2222" stop-color="#3878be"/><stop offset="0.2444" stop-color="#3878be"/><stop offset="0.2667" stop-color="#3878be"/><stop offset="0.2889" stop-color="#3879be"/><stop offset="0.3111" stop-color="#3879be"/><stop offset="0.3333" stop-color="#377bbf"/><stop offset="0.3556" stop-color="#377dc0"/><stop offset="0.3778" stop-color="#3582c1"/><stop offset="0.4" stop-color="#3486c3"/><stop offset="0.4222" stop-color="#338bc5"/><stop offset="0.4444" stop-color="#328fc6"/><stop offset="0.4667" stop-color="#3194c4"/><stop offset="0.4889" stop-color="#2f9ac2"/><stop offset="0.5111" stop-color="#2da3bf"/><stop offset="0.5333" stop-color="#34aab9"/><stop offset="0.5556" stop-color="#3daeb3"/><stop offset="0.5778" stop-color="#41b0b0"/><stop offset="0.6" stop-color="#43b1ae"/><stop offset="0.6222" stop-color="#44b1ae"/><stop offset="0.6444" stop-color="#42b0af"/><stop offset="0.6667" stop-color="#3eaeb2"/><stop offset="0.6889" stop-color="#37abb7"/><stop offset="0.7111" stop-color="#2ea7bd"/><stop offset="0.7333" stop-color="#2da1c0"/><stop offset="0.7556" stop-color="#2f9cc1"/><stop offset="0.7778" stop-color="#2f99c2"/><stop offset="0.8" stop-color="#3097c3"/><stop offset="0.8222" stop-color="#3095c4"/><stop offset="0.8444" stop-color="#3193c4"/><stop offset="0.8667" stop-color="#328fc6"/><stop offset="0.8889" stop-color="#338bc5"/><stop offset="0.9111" stop-color="#3488c4"/><stop offset="0.9333" stop-color="#3485c3"/><stop offset="0.9556" stop-color="#3584c2"/><stop offset="0.9778" stop-color="#3582c2"/><stop offset="1.0" stop-color="#3681c1"/></linearGradient><linearGradient id="hq6"><stop offset="0.0" stop-color="#367ec0"/><stop offset="0.0222" stop-color="#367ec0"/><stop offset="0.0444" stop-color="#367ec0"/><stop offset="0.0667" stop-color="#367ec0"/><stop offset="0.0889" stop-color="#367ec0"/><stop offset="0.1111" stop-color="#367ec0"/><stop offset="0.1333" stop-color="#367ec0"/><stop offset="0.1556" stop-color="#367ec0"/><stop offset="0.1778" stop-color="#367ec0"/><stop offset="0.2" stop-color="#367ec0"/><stop offset="0.2222" stop-color="#367ec0"/><stop offset="0.2444" stop-color="#367ec0"/><stop offset="0.2667" stop-color="#367ec0"/><stop offset="0.2889" stop-color="#367ec0"/><stop offset="0.3111" stop-color="#367fc0"/><stop offset="0.3333" stop-color="#3680c1"/><stop offset="0.3556" stop-color="#3583c2"/><stop offset="0.3778" stop-color="#338ac4"/><stop offset="0.4" stop-color="#3194c4"/><stop offset="0.4222" stop-color="#2da1c0"/><stop offset="0.4444" stop-color="#33a9b9"/><stop offset="0.4667" stop-color="#3badb4"/><stop offset="0.4889" stop-color="#3eaeb2"/><stop offset="0.5111" stop-color="#3caeb3"/><stop offset="0.5333" stop-color="#37abb7"/><stop offset="0.5556" stop-color="#30a8bb"/><stop offset="0.5778" stop-color="#2ca5be"/><stop offset="0.6" stop-color="#2da2bf"/><stop offset="0.6222" stop-color="#2da1c0"/><stop offset="0.6444" stop-color="#2da0c0"/><stop offset="0.6667" stop-color="#2e9fc0"/><stop offset="0.6889" stop-color="#2e9ec1"/><stop offset="0.7111" stop-color="#2f9cc1"/><stop offset="0.7333" stop-color="#2f98c3"/><stop offset="0.7556" stop-color="#3194c4"/><stop offset="0.7778" stop-color="#3290c5"/><stop offset="0.8" stop-color="#328ec6"/><stop offset="0.8222" stop-color="#328cc5"/><stop offset="0.8444" stop-color="#338cc5"/><stop offset="0.8667" stop-color="#338bc5"/><stop offset="0.8889" stop-color="#338bc5"/><stop offset="0.9111" stop-color="#338bc5"/><stop offset="0.9333" stop-color="#338bc5"/><stop offset="0.9556" stop-color="#338bc5"/><stop offset="0.9778" stop-color="#338ac4"/><stop offset="1.0" stop-color="#3488c4"/></linearGradient><linearGradient id="hq7"><stop offset="0.0" stop-color="#3462b2"/><stop offset="0.0222" stop-color="#3462b2"/><stop offset="0.0444" stop-color="#3462b2"/><stop offset="0.0667" stop-color="#3462b2"/><stop offset="0.0889" stop-color="#3462b2"/><stop offset="0.1111" stop-color="#3462b2"/><stop offset="0.1333" stop-color="#3462b2"/><stop offset="0.1556" stop-color="#3462b2"/><stop offset="0.1778" stop-color="#3462b2"/><stop offset="0.2" stop-color="#3462b2"/><stop offset="0.2222" stop-color="#3462b2"/><stop offset="0.2444" stop-color="#3462b2"/><stop offset="0.2667" stop-color="#3462b3"/><stop offset="0.2889" stop-color="#3462b3"/><stop offset="0.3111" stop-color="#3463b4"/><stop offset="0.3333" stop-color="#3466b5"/><stop offset="0.3556" stop-color="#366cb8"/><stop offset="0.3778" stop-color="#3774bc"/><stop offset="0.4" stop-color="#377dc0"/><stop offset="0.4222" stop-color="#3583c2"/><stop offset="0.4444" stop-color="#3487c3"/><stop offset="0.4667" stop-color="#3389c4"/><stop offset="0.4889" stop-color="#3389c4"/><stop offset="0.5111" stop-color="#3488c4"/><stop offset="0.5333" stop-color="#3485c3"/><stop offset="0.5556" stop-color="#3582c1"/><stop offset="0.5778" stop-color="#367fc0"/><stop offset="0.6" stop-color="#377dc0"/><stop offset="0.6222" stop-color="#377cbf"/><stop offset="0.6444" stop-color="#377bbf"/><stop offset="0.6667" stop-color="#377bbf"/><stop offset="0.6889" stop-color="#377bbf"/><stop offset="0.7111" stop-color="#377bbf"/><stop offset="0.7333" stop-color="#377bbf"/><stop offset="0.7556" stop-color="#377bbf"/><stop offset="0.7778" stop-color="#377bbf"/><stop offset="0.8" stop-color="#377bbf"/><stop offset="0.8222" stop-color="#377bbf"/><stop offset="0.8444" stop-color="#377bbf"/><stop offset="0.8667" stop-color="#377bbf"/><stop offset="0.8889" stop-color="#377bbf"/><stop offset="0.9111" stop-color="#377bbf"/><stop offset="0.9333" stop-color="#377abf"/><stop offset="0.9556" stop-color="#387abf"/><stop offset="0.9778" stop-color="#3878be"/><stop offset="1.0" stop-color="#3775bd"/></linearGradient></defs>
<rect x="523.8" y="694.2" width="153.2" height="13.27" fill="url(#hq0)"/>
<rect x="523.8" y="706.78" width="153.2" height="13.27" fill="url(#hq1)"/>
<rect x="523.8" y="719.35" width="153.2" height="13.27" fill="url(#hq2)"/>
<rect x="523.8" y="731.93" width="153.2" height="13.27" fill="url(#hq3)"/>
<rect x="523.8" y="744.5" width="153.2" height="13.27" fill="url(#hq4)"/>
<rect x="523.8" y="757.08" width="153.2" height="13.27" fill="url(#hq5)"/>
<rect x="523.8" y="769.65" width="153.2" height="13.27" fill="url(#hq6)"/>
<rect x="523.8" y="782.23" width="153.2" height="12.57" fill="url(#hq7)"/>
<rect x="523.8" y="694.2" width="153.2" height="100.6" fill="url(#stripe)"/>
<rect x="677.0" y="694.2" width="2.5" height="100.6" fill="#7fd6e4"/>
<line x1="523.5" y1="692.6" x2="523.5" y2="794.8000000000001" stroke="#111" stroke-width="0.6"/>
<line x1="523.4" y1="794.5" x2="677.4" y2="794.5" stroke="#111" stroke-width="0.5"/>
<line x1="574.5" y1="692.6" x2="574.5" y2="793.3000000000001" stroke="#151a24" stroke-width="0.8" stroke-dasharray="10.4 3.4"/>
<line x1="522.0" y1="794.5" x2="523.5999999999999" y2="794.5" stroke="#111" stroke-width="0.5"/>
<text x="521.2" y="797.9" font-size="9" text-anchor="end">0</text>
<line x1="522.0" y1="782.5" x2="523.5999999999999" y2="782.5" stroke="#111" stroke-width="0.5"/>
<text x="521.2" y="785.3" font-size="9" text-anchor="end">1</text>
<line x1="522.0" y1="769.5" x2="523.5999999999999" y2="769.5" stroke="#111" stroke-width="0.5"/>
<text x="521.2" y="772.8" font-size="9" text-anchor="end">2</text>
<line x1="522.0" y1="757.5" x2="523.5999999999999" y2="757.5" stroke="#111" stroke-width="0.5"/>
<text x="521.2" y="760.2" font-size="9" text-anchor="end">3</text>
<line x1="522.0" y1="744.5" x2="523.5999999999999" y2="744.5" stroke="#111" stroke-width="0.5"/>
<text x="521.2" y="747.6" font-size="9" text-anchor="end">4</text>
<line x1="522.0" y1="731.5" x2="523.5999999999999" y2="731.5" stroke="#111" stroke-width="0.5"/>
<text x="521.2" y="735.0" font-size="9" text-anchor="end">5</text>
<line x1="522.0" y1="719.5" x2="523.5999999999999" y2="719.5" stroke="#111" stroke-width="0.5"/>
<text x="521.2" y="722.5" font-size="9" text-anchor="end">6</text>
<line x1="522.0" y1="706.5" x2="523.5999999999999" y2="706.5" stroke="#111" stroke-width="0.5"/>
<text x="521.2" y="709.9" font-size="9" text-anchor="end">7</text>
<line x1="522.0" y1="694.5" x2="523.5999999999999" y2="694.5" stroke="#111" stroke-width="0.5"/>
<text x="521.2" y="697.3" font-size="9" text-anchor="end">8</text>
<line x1="523.5" y1="794.8000000000001" x2="523.5" y2="796.4000000000001" stroke="#111" stroke-width="0.5"/>
<text x="522.8" y="804.4" font-size="9" text-anchor="middle">-5</text>
<line x1="544.5" y1="794.8000000000001" x2="544.5" y2="796.4000000000001" stroke="#111" stroke-width="0.5"/>
<text x="543.2" y="804.4" font-size="9" text-anchor="middle">-3</text>
<line x1="564.5" y1="794.8000000000001" x2="564.5" y2="796.4000000000001" stroke="#111" stroke-width="0.5"/>
<text x="563.7" y="804.4" font-size="9" text-anchor="middle">-1</text>
<line x1="585.5" y1="794.8000000000001" x2="585.5" y2="796.4000000000001" stroke="#111" stroke-width="0.5"/>
<text x="585.1" y="804.4" font-size="9" text-anchor="middle">1</text>
<line x1="605.5" y1="794.8000000000001" x2="605.5" y2="796.4000000000001" stroke="#111" stroke-width="0.5"/>
<text x="605.5" y="804.4" font-size="9" text-anchor="middle">3</text>
<line x1="625.5" y1="794.8000000000001" x2="625.5" y2="796.4000000000001" stroke="#111" stroke-width="0.5"/>
<text x="625.9" y="804.4" font-size="9" text-anchor="middle">5</text>
<line x1="646.5" y1="794.8000000000001" x2="646.5" y2="796.4000000000001" stroke="#111" stroke-width="0.5"/>
<text x="646.4" y="804.4" font-size="9" text-anchor="middle">7</text>
<line x1="666.5" y1="794.8000000000001" x2="666.5" y2="796.4000000000001" stroke="#111" stroke-width="0.5"/>
<text x="666.2" y="804.4" font-size="9" text-anchor="middle">9</text>
<line x1="676.5" y1="794.8000000000001" x2="676.5" y2="796.4000000000001" stroke="#111" stroke-width="0.5"/>
<text x="677.8" y="804.4" font-size="9" text-anchor="middle">10</text>
<text x="597.0" y="815.2" font-size="10.2" text-anchor="middle">Time(s)</text>
<text x="506" y="688.8" font-size="10.8" font-weight="bold">q</text>
<defs><linearGradient id="hr0"><stop offset="0.0" stop-color="#3771bb"/><stop offset="0.0222" stop-color="#3771ba"/><stop offset="0.0444" stop-color="#3670ba"/><stop offset="0.0667" stop-color="#366fb9"/><stop offset="0.0889" stop-color="#366db8"/><stop offset="0.1111" stop-color="#3569b6"/><stop offset="0.1333" stop-color="#3465b4"/><stop offset="0.1556" stop-color="#3462b3"/><stop offset="0.1778" stop-color="#3561b2"/><stop offset="0.2" stop-color="#3560b1"/><stop offset="0.2222" stop-color="#3560b1"/><stop offset="0.2444" stop-color="#3560b1"/><stop offset="0.2667" stop-color="#3560b1"/><stop offset="0.2889" stop-color="#3462b2"/><stop offset="0.3111" stop-color="#3464b4"/><stop offset="0.3333" stop-color="#356bb7"/><stop offset="0.3556" stop-color="#3774bc"/><stop offset="0.3778" stop-color="#377cbf"/><stop offset="0.4" stop-color="#3681c1"/><stop offset="0.4222" stop-color="#3584c2"/><stop offset="0.4444" stop-color="#3584c2"/><stop offset="0.4667" stop-color="#3582c2"/><stop offset="0.4889" stop-color="#367ec0"/><stop offset="0.5111" stop-color="#377abf"/><stop offset="0.5333" stop-color="#3876bd"/><stop offset="0.5556" stop-color="#3774bc"/><stop offset="0.5778" stop-color="#3772bb"/><stop offset="0.6" stop-color="#3772bb"/><stop offset="0.6222" stop-color="#3772bb"/><stop offset="0.6444" stop-color="#3771bb"/><stop offset="0.6667" stop-color="#3771bb"/><stop offset="0.6889" stop-color="#3771bb"/><stop offset="0.7111" stop-color="#3771bb"/><stop offset="0.7333" stop-color="#3771bb"/><stop offset="0.7556" stop-color="#3771bb"/><stop offset="0.7778" stop-color="#3771bb"/><stop offset="0.8" stop-color="#3771bb"/><stop offset="0.8222" stop-color="#3771bb"/><stop offset="0.8444" stop-color="#3771bb"/><stop offset="0.8667" stop-color="#3771bb"/><stop offset="0.8889" stop-color="#3771bb"/><stop offset="0.9111" stop-color="#3771bb"/><stop offset="0.9333" stop-color="#3771bb"/><stop offset="0.9556" stop-color="#3771bb"/><stop offset="0.9778" stop-color="#3771bb"/><stop offset="1.0" stop-color="#3771bb"/></linearGradient><linearGradient id="hr1"><stop offset="0.0" stop-color="#3771bb"/><stop offset="0.0222" stop-color="#3771bb"/><stop offset="0.0444" stop-color="#3771bb"/><stop offset="0.0667" stop-color="#3771bb"/><stop offset="0.0889" stop-color="#3771bb"/><stop offset="0.1111" stop-color="#3771bb"/><stop offset="0.1333" stop-color="#3771bb"/><stop offset="0.1556" stop-color="#3771bb"/><stop offset="0.1778" stop-color="#3771bb"/><stop offset="0.2" stop-color="#3771bb"/><stop offset="0.2222" stop-color="#3771bb"/><stop offset="0.2444" stop-color="#3772bb"/><stop offset="0.2667" stop-color="#3772bb"/><stop offset="0.2889" stop-color="#3773bc"/><stop offset="0.3111" stop-color="#3775bd"/><stop offset="0.3333" stop-color="#3879be"/><stop offset="0.3556" stop-color="#377dc0"/><stop offset="0.3778" stop-color="#3583c2"/><stop offset="0.4" stop-color="#3486c3"/><stop offset="0.4222" stop-color="#3487c3"/><stop offset="0.4444" stop-color="#3585c3"/><stop offset="0.4667" stop-color="#3680c1"/><stop offset="0.4889" stop-color="#377bbf"/><stop offset="0.5111" stop-color="#3877bd"/><stop offset="0.5333" stop-color="#3774bc"/><stop offset="0.5556" stop-color="#3774bc"/><stop offset="0.5778" stop-color="#3774bc"/><stop offset="0.6" stop-color="#3877bd"/><stop offset="0.6222" stop-color="#377abf"/><stop offset="0.6444" stop-color="#367ec0"/><stop offset="0.6667" stop-color="#3581c1"/><stop offset="0.6889" stop-color="#3583c2"/><stop offset="0.7111" stop-color="#3584c2"/><stop offset="0.7333" stop-color="#3584c2"/><stop offset="0.7556" stop-color="#3583c2"/><stop offset="0.7778" stop-color="#3680c1"/><stop offset="0.8" stop-color="#377dc0"/><stop offset="0.8222" stop-color="#387abf"/><stop offset="0.8444" stop-color="#3879be"/><stop offset="0.8667" stop-color="#387abf"/><stop offset="0.8889" stop-color="#377dc0"/><stop offset="0.9111" stop-color="#3680c1"/><stop offset="0.9333" stop-color="#3581c1"/><stop offset="0.9556" stop-color="#3680c1"/><stop offset="0.9778" stop-color="#377cc0"/><stop offset="1.0" stop-color="#3878be"/></linearGradient><linearGradient id="hr2"><stop offset="0.0" stop-color="#3878be"/><stop offset="0.0222" stop-color="#3878be"/><stop offset="0.0444" stop-color="#3878be"/><stop offset="0.0667" stop-color="#3878be"/><stop offset="0.0889" stop-color="#3878be"/><stop offset="0.1111" stop-color="#3878be"/><stop offset="0.1333" stop-color="#3878be"/><stop offset="0.1556" stop-color="#3878be"/><stop offset="0.1778" stop-color="#3878be"/><stop offset="0.2" stop-color="#3878be"/><stop offset="0.2222" stop-color="#3878be"/><stop offset="0.2444" stop-color="#3878be"/><stop offset="0.2667" stop-color="#3878be"/><stop offset="0.2889" stop-color="#3878be"/><stop offset="0.3111" stop-color="#3878be"/><stop offset="0.3333" stop-color="#3878be"/><stop offset="0.3556" stop-color="#3878be"/><stop offset="0.3778" stop-color="#3878be"/><stop offset="0.4" stop-color="#3879be"/><stop offset="0.4222" stop-color="#3879bf"/><stop offset="0.4444" stop-color="#377bbf"/><stop offset="0.4667" stop-color="#367ec0"/><stop offset="0.4889" stop-color="#3582c2"/><stop offset="0.5111" stop-color="#3486c3"/><stop offset="0.5333" stop-color="#338ac4"/><stop offset="0.5556" stop-color="#338cc5"/><stop offset="0.5778" stop-color="#328cc5"/><stop offset="0.6" stop-color="#338cc5"/><stop offset="0.6222" stop-color="#338ac5"/><stop offset="0.6444" stop-color="#3487c4"/><stop offset="0.6667" stop-color="#3583c2"/><stop offset="0.6889" stop-color="#367fc0"/><stop offset="0.7111" stop-color="#377bbf"/><stop offset="0.7333" stop-color="#387abf"/><stop offset="0.7556" stop-color="#3879be"/><stop offset="0.7778" stop-color="#3878be"/><stop offset="0.8" stop-color="#3878be"/><stop offset="0.8222" stop-color="#3878be"/><stop offset="0.8444" stop-color="#3878be"/><stop offset="0.8667" stop-color="#3878be"/><stop offset="0.8889" stop-color="#3878be"/><stop offset="0.9111" stop-color="#3878be"/><stop offset="0.9333" stop-color="#3878be"/><stop offset="0.9556" stop-color="#3878be"/><stop offset="0.9778" stop-color="#3878be"/><stop offset="1.0" stop-color="#3878be"/></linearGradient><linearGradient id="hr3"><stop offset="0.0" stop-color="#3771bb"/><stop offset="0.0222" stop-color="#3771bb"/><stop offset="0.0444" stop-color="#3771bb"/><stop offset="0.0667" stop-color="#3771bb"/><stop offset="0.0889" stop-color="#3771bb"/><stop offset="0.1111" stop-color="#3771bb"/><stop offset="0.1333" stop-color="#3771bb"/><stop offset="0.1556" stop-color="#3771bb"/><stop offset="0.1778" stop-color="#3771bb"/><stop offset="0.2" stop-color="#3771bb"/><stop offset="0.2222" stop-color="#3771bb"/><stop offset="0.2444" stop-color="#3771bb"/><stop offset="0.2667" stop-color="#3771bb"/><stop offset="0.2889" stop-color="#3771bb"/><stop offset="0.3111" stop-color="#3771bb"/><stop offset="0.3333" stop-color="#3771bb"/><stop offset="0.3556" stop-color="#3771bb"/><stop offset="0.3778" stop-color="#3771bb"/><stop offset="0.4" stop-color="#3771bb"/><stop offset="0.4222" stop-color="#3771bb"/><stop offset="0.4444" stop-color="#3771ba"/><stop offset="0.4667" stop-color="#3771ba"/><stop offset="0.4889" stop-color="#3670ba"/><stop offset="0.5111" stop-color="#366eb9"/><stop offset="0.5333" stop-color="#366cb8"/><stop offset="0.5556" stop-color="#356bb7"/><stop offset="0.5778" stop-color="#356ab7"/><stop offset="0.6" stop-color="#356ab7"/><stop offset="0.6222" stop-color="#356bb7"/><stop offset="0.6444" stop-color="#366db8"/><stop offset="0.6667" stop-color="#366fb9"/><stop offset="0.6889" stop-color="#3670ba"/><stop offset="0.7111" stop-color="#3771ba"/><stop offset="0.7333" stop-color="#3771bb"/><stop offset="0.7556" stop-color="#3771bb"/><stop offset="0.7778" stop-color="#3771bb"/><stop offset="0.8" stop-color="#3771bb"/><stop offset="0.8222" stop-color="#3771bb"/><stop offset="0.8444" stop-color="#3771bb"/><stop offset="0.8667" stop-color="#3771bb"/><stop offset="0.8889" stop-color="#3771bb"/><stop offset="0.9111" stop-color="#3771bb"/><stop offset="0.9333" stop-color="#3771bb"/><stop offset="0.9556" stop-color="#3771bb"/><stop offset="0.9778" stop-color="#3771bb"/><stop offset="1.0" stop-color="#3771bb"/></linearGradient><linearGradient id="hr4"><stop offset="0.0" stop-color="#3771bb"/><stop offset="0.0222" stop-color="#3771bb"/><stop offset="0.0444" stop-color="#3771bb"/><stop offset="0.0667" stop-color="#3771bb"/><stop offset="0.0889" stop-color="#3771bb"/><stop offset="0.1111" stop-color="#3771bb"/><stop offset="0.1333" stop-color="#3771bb"/><stop offset="0.1556" stop-color="#3771bb"/><stop offset="0.1778" stop-color="#3771bb"/><stop offset="0.2" stop-color="#3771bb"/><stop offset="0.2222" stop-color="#3771bb"/><stop offset="0.2444" stop-color="#3771bb"/><stop offset="0.2667" stop-color="#3771bb"/><stop offset="0.2889" stop-color="#3771bb"/><stop offset="0.3111" stop-color="#3771bb"/><stop offset="0.3333" stop-color="#3771bb"/><stop offset="0.3556" stop-color="#3771bb"/><stop offset="0.3778" stop-color="#3771bb"/><stop offset="0.4" stop-color="#3771bb"/><stop offset="0.4222" stop-color="#3771ba"/><stop offset="0.4444" stop-color="#3670ba"/><stop offset="0.4667" stop-color="#366eb9"/><stop offset="0.4889" stop-color="#366cb8"/><stop offset="0.5111" stop-color="#3568b6"/><stop offset="0.5333" stop-color="#3466b5"/><stop offset="0.5556" stop-color="#3464b4"/><stop offset="0.5778" stop-color="#3465b5"/><stop offset="0.6" stop-color="#3567b6"/><stop offset="0.6222" stop-color="#356ab7"/><stop offset="0.6444" stop-color="#366db9"/><stop offset="0.6667" stop-color="#366fba"/><stop offset="0.6889" stop-color="#3670ba"/><stop offset="0.7111" stop-color="#3771ba"/><stop offset="0.7333" stop-color="#3771bb"/><stop offset="0.7556" stop-color="#3771bb"/><stop offset="0.7778" stop-color="#3771bb"/><stop offset="0.8" stop-color="#3771bb"/><stop offset="0.8222" stop-color="#3771bb"/><stop offset="0.8444" stop-color="#3771bb"/><stop offset="0.8667" stop-color="#3771bb"/><stop offset="0.8889" stop-color="#3771bb"/><stop offset="0.9111" stop-color="#3771bb"/><stop offset="0.9333" stop-color="#3771bb"/><stop offset="0.9556" stop-color="#3771bb"/><stop offset="0.9778" stop-color="#3771bb"/><stop offset="1.0" stop-color="#3771bb"/></linearGradient><linearGradient id="hr5"><stop offset="0.0" stop-color="#3771bb"/><stop offset="0.0222" stop-color="#3771bb"/><stop offset="0.0444" stop-color="#3771bb"/><stop offset="0.0667" stop-color="#3771bb"/><stop offset="0.0889" stop-color="#3771bb"/><stop offset="0.1111" stop-color="#3771bb"/><stop offset="0.1333" stop-color="#3771bb"/><stop offset="0.1556" stop-color="#3771bb"/><stop offset="0.1778" stop-color="#3771bb"/><stop offset="0.2" stop-color="#3771bb"/><stop offset="0.2222" stop-color="#3771bb"/><stop offset="0.2444" stop-color="#3771bb"/><stop offset="0.2667" stop-color="#3771bb"/><stop offset="0.2889" stop-color="#3771bb"/><stop offset="0.3111" stop-color="#3771bb"/><stop offset="0.3333" stop-color="#3771bb"/><stop offset="0.3556" stop-color="#3771bb"/><stop offset="0.3778" stop-color="#3772bb"/><stop offset="0.4" stop-color="#3772bb"/><stop offset="0.4222" stop-color="#3773bc"/><stop offset="0.4444" stop-color="#3775bd"/><stop offset="0.4667" stop-color="#3878be"/><stop offset="0.4889" stop-color="#377dc0"/><stop offset="0.5111" stop-color="#3681c1"/><stop offset="0.5333" stop-color="#3584c3"/><stop offset="0.5556" stop-color="#3487c3"/><stop offset="0.5778" stop-color="#3488c4"/><stop offset="0.6" stop-color="#3488c4"/><stop offset="0.6222" stop-color="#3488c4"/><stop offset="0.6444" stop-color="#3488c4"/><stop offset="0.6667" stop-color="#3487c4"/><stop offset="0.6889" stop-color="#3486c3"/><stop offset="0.7111" stop-color="#3584c2"/><stop offset="0.7333" stop-color="#3680c1"/><stop offset="0.7556" stop-color="#377cbf"/><stop offset="0.7778" stop-color="#3878be"/><stop offset="0.8" stop-color="#3775bc"/><stop offset="0.8222" stop-color="#3773bb"/><stop offset="0.8444" stop-color="#3772bb"/><stop offset="0.8667" stop-color="#3772bb"/><stop offset="0.8889" stop-color="#3771bb"/><stop offset="0.9111" stop-color="#3771bb"/><stop offset="0.9333" stop-color="#3771bb"/><stop offset="0.9556" stop-color="#3771bb"/><stop offset="0.9778" stop-color="#3771bb"/><stop offset="1.0" stop-color="#3771bb"/></linearGradient><linearGradient id="hr6"><stop offset="0.0" stop-color="#3771bb"/><stop offset="0.0222" stop-color="#3771bb"/><stop offset="0.0444" stop-color="#3771bb"/><stop offset="0.0667" stop-color="#3771bb"/><stop offset="0.0889" stop-color="#3771bb"/><stop offset="0.1111" stop-color="#3771bb"/><stop offset="0.1333" stop-color="#3771bb"/><stop offset="0.1556" stop-color="#3771bb"/><stop offset="0.1778" stop-color="#3771bb"/><stop offset="0.2" stop-color="#3771bb"/><stop offset="0.2222" stop-color="#3771bb"/><stop offset="0.2444" stop-color="#3771bb"/><stop offset="0.2667" stop-color="#3771bb"/><stop offset="0.2889" stop-color="#3771bb"/><stop offset="0.3111" stop-color="#3771bb"/><stop offset="0.3333" stop-color="#3771bb"/><stop offset="0.3556" stop-color="#3771bb"/><stop offset="0.3778" stop-color="#3771bb"/><stop offset="0.4" stop-color="#3771bb"/><stop offset="0.4222" stop-color="#3772bb"/><stop offset="0.4444" stop-color="#3772bb"/><stop offset="0.4667" stop-color="#3772bb"/><stop offset="0.4889" stop-color="#3773bc"/><stop offset="0.5111" stop-color="#3876bd"/><stop offset="0.5333" stop-color="#377abf"/><stop offset="0.5556" stop-color="#367fc1"/><stop offset="0.5778" stop-color="#3585c3"/><stop offset="0.6" stop-color="#3389c4"/><stop offset="0.6222" stop-color="#338bc5"/><stop offset="0.6444" stop-color="#328dc6"/><stop offset="0.6667" stop-color="#328dc6"/><stop offset="0.6889" stop-color="#328dc6"/><stop offset="0.7111" stop-color="#338bc5"/><stop offset="0.7333" stop-color="#3389c4"/><stop offset="0.7556" stop-color="#3585c3"/><stop offset="0.7778" stop-color="#367fc1"/><stop offset="0.8" stop-color="#3879bf"/><stop offset="0.8222" stop-color="#3773bb"/><stop offset="0.8444" stop-color="#3568b6"/><stop offset="0.8667" stop-color="#355daf"/><stop offset="0.8889" stop-color="#3757ab"/><stop offset="0.9111" stop-color="#3757ab"/><stop offset="0.9333" stop-color="#365cae"/><stop offset="0.9556" stop-color="#3466b5"/><stop offset="0.9778" stop-color="#366eb9"/><stop offset="1.0" stop-color="#3771ba"/></linearGradient><linearGradient id="hr7"><stop offset="0.0" stop-color="#3771bb"/><stop offset="0.0222" stop-color="#3771bb"/><stop offset="0.0444" stop-color="#3771bb"/><stop offset="0.0667" stop-color="#3771bb"/><stop offset="0.0889" stop-color="#3771bb"/><stop offset="0.1111" stop-color="#3771bb"/><stop offset="0.1333" stop-color="#3771bb"/><stop offset="0.1556" stop-color="#3771bb"/><stop offset="0.1778" stop-color="#3771bb"/><stop offset="0.2" stop-color="#3771bb"/><stop offset="0.2222" stop-color="#3771bb"/><stop offset="0.2444" stop-color="#3771bb"/><stop offset="0.2667" stop-color="#3772bb"/><stop offset="0.2889" stop-color="#3772bb"/><stop offset="0.3111" stop-color="#3773bb"/><stop offset="0.3333" stop-color="#3774bc"/><stop offset="0.3556" stop-color="#3876bd"/><stop offset="0.3778" stop-color="#3878be"/><stop offset="0.4" stop-color="#377abf"/><stop offset="0.4222" stop-color="#377cbf"/><stop offset="0.4444" stop-color="#377cbf"/><stop offset="0.4667" stop-color="#377bbf"/><stop offset="0.4889" stop-color="#387abf"/><stop offset="0.5111" stop-color="#3878be"/><stop offset="0.5333" stop-color="#3876bd"/><stop offset="0.5556" stop-color="#3775bd"/><stop offset="0.5778" stop-color="#3876bd"/><stop offset="0.6" stop-color="#3879be"/><stop offset="0.6222" stop-color="#377cbf"/><stop offset="0.6444" stop-color="#367fc0"/><stop offset="0.6667" stop-color="#3680c1"/><stop offset="0.6889" stop-color="#3680c1"/><stop offset="0.7111" stop-color="#367ec0"/><stop offset="0.7333" stop-color="#377bbf"/><stop offset="0.7556" stop-color="#3879be"/><stop offset="0.7778" stop-color="#3879be"/><stop offset="0.8" stop-color="#377bbf"/><stop offset="0.8222" stop-color="#3680c1"/><stop offset="0.8444" stop-color="#3487c4"/><stop offset="0.8667" stop-color="#328ec6"/><stop offset="0.8889" stop-color="#3192c5"/><stop offset="0.9111" stop-color="#3192c5"/><stop offset="0.9333" stop-color="#328ec6"/><stop offset="0.9556" stop-color="#3487c3"/><stop offset="0.9778" stop-color="#367fc1"/><stop offset="1.0" stop-color="#387abf"/></linearGradient></defs>
<rect x="18.4" y="843.8" width="152.8" height="13.25" fill="url(#hr0)"/>
<rect x="18.4" y="856.35" width="152.8" height="13.25" fill="url(#hr1)"/>
<rect x="18.4" y="868.9" width="152.8" height="13.25" fill="url(#hr2)"/>
<rect x="18.4" y="881.45" width="152.8" height="13.25" fill="url(#hr3)"/>
<rect x="18.4" y="894.0" width="152.8" height="13.25" fill="url(#hr4)"/>
<rect x="18.4" y="906.55" width="152.8" height="13.25" fill="url(#hr5)"/>
<rect x="18.4" y="919.1" width="152.8" height="13.25" fill="url(#hr6)"/>
<rect x="18.4" y="931.65" width="152.8" height="12.55" fill="url(#hr7)"/>
<rect x="18.4" y="843.8" width="152.8" height="100.4" fill="url(#stripe)"/>
<rect x="171.2" y="843.8" width="2.5" height="100.4" fill="#c44fa6"/>
<line x1="18.5" y1="842.1999999999999" x2="18.5" y2="944.1999999999999" stroke="#111" stroke-width="0.6"/>
<line x1="18.0" y1="944.5" x2="171.60000000000002" y2="944.5" stroke="#111" stroke-width="0.5"/>
<line x1="69.5" y1="842.1999999999999" x2="69.5" y2="942.6999999999999" stroke="#151a24" stroke-width="0.8" stroke-dasharray="10.4 3.4"/>
<line x1="16.599999999999998" y1="944.5" x2="18.2" y2="944.5" stroke="#111" stroke-width="0.5"/>
<text x="15.8" y="947.3" font-size="9" text-anchor="end">0</text>
<line x1="16.599999999999998" y1="931.5" x2="18.2" y2="931.5" stroke="#111" stroke-width="0.5"/>
<text x="15.8" y="934.8" font-size="9" text-anchor="end">1</text>
<line x1="16.599999999999998" y1="919.5" x2="18.2" y2="919.5" stroke="#111" stroke-width="0.5"/>
<text x="15.8" y="922.2" font-size="9" text-anchor="end">2</text>
<line x1="16.599999999999998" y1="906.5" x2="18.2" y2="906.5" stroke="#111" stroke-width="0.5"/>
<text x="15.8" y="909.6" font-size="9" text-anchor="end">3</text>
<line x1="16.599999999999998" y1="894.5" x2="18.2" y2="894.5" stroke="#111" stroke-width="0.5"/>
<text x="15.8" y="897.1" font-size="9" text-anchor="end">4</text>
<line x1="16.599999999999998" y1="881.5" x2="18.2" y2="881.5" stroke="#111" stroke-width="0.5"/>
<text x="15.8" y="884.5" font-size="9" text-anchor="end">5</text>
<line x1="16.599999999999998" y1="868.5" x2="18.2" y2="868.5" stroke="#111" stroke-width="0.5"/>
<text x="15.8" y="872.0" font-size="9" text-anchor="end">6</text>
<line x1="16.599999999999998" y1="856.5" x2="18.2" y2="856.5" stroke="#111" stroke-width="0.5"/>
<text x="15.8" y="859.4" font-size="9" text-anchor="end">7</text>
<line x1="16.599999999999998" y1="843.5" x2="18.2" y2="843.5" stroke="#111" stroke-width="0.5"/>
<text x="15.8" y="846.9" font-size="9" text-anchor="end">8</text>
<line x1="18.5" y1="944.1999999999999" x2="18.5" y2="945.8" stroke="#111" stroke-width="0.5"/>
<text x="17.4" y="953.8" font-size="9" text-anchor="middle">-5</text>
<line x1="38.5" y1="944.1999999999999" x2="38.5" y2="945.8" stroke="#111" stroke-width="0.5"/>
<text x="37.8" y="953.8" font-size="9" text-anchor="middle">-3</text>
<line x1="59.5" y1="944.1999999999999" x2="59.5" y2="945.8" stroke="#111" stroke-width="0.5"/>
<text x="58.1" y="953.8" font-size="9" text-anchor="middle">-1</text>
<line x1="79.5" y1="944.1999999999999" x2="79.5" y2="945.8" stroke="#111" stroke-width="0.5"/>
<text x="79.5" y="953.8" font-size="9" text-anchor="middle">1</text>
<line x1="99.5" y1="944.1999999999999" x2="99.5" y2="945.8" stroke="#111" stroke-width="0.5"/>
<text x="99.9" y="953.8" font-size="9" text-anchor="middle">3</text>
<line x1="120.5" y1="944.1999999999999" x2="120.5" y2="945.8" stroke="#111" stroke-width="0.5"/>
<text x="120.3" y="953.8" font-size="9" text-anchor="middle">5</text>
<line x1="140.5" y1="944.1999999999999" x2="140.5" y2="945.8" stroke="#111" stroke-width="0.5"/>
<text x="140.6" y="953.8" font-size="9" text-anchor="middle">7</text>
<line x1="160.5" y1="944.1999999999999" x2="160.5" y2="945.8" stroke="#111" stroke-width="0.5"/>
<text x="160.4" y="953.8" font-size="9" text-anchor="middle">9</text>
<line x1="171.5" y1="944.1999999999999" x2="171.5" y2="945.8" stroke="#111" stroke-width="0.5"/>
<text x="172.0" y="953.8" font-size="9" text-anchor="middle">10</text>
<text x="91.9" y="964.6" font-size="10.2" text-anchor="middle">Time(s)</text>
<text x="9.0" y="894.0" font-size="10.8" text-anchor="middle" transform="rotate(-90 9.0 894.0)">Trials</text>
<text x="7.5" y="833.5" font-size="10.8" font-weight="bold">r</text>
<defs><linearGradient id="cbar" x1="0" y1="1" x2="0" y2="0"><stop offset="0.0" stop-color="#3755aa"/><stop offset="0.083" stop-color="#3568b6"/><stop offset="0.167" stop-color="#367ec0"/><stop offset="0.25" stop-color="#3192c4"/><stop offset="0.333" stop-color="#2fa7bc"/><stop offset="0.417" stop-color="#49b4aa"/><stop offset="0.5" stop-color="#6abb98"/><stop offset="0.583" stop-color="#91bf82"/><stop offset="0.667" stop-color="#b9c16c"/><stop offset="0.75" stop-color="#dac356"/><stop offset="0.833" stop-color="#eec945"/><stop offset="0.917" stop-color="#f7d438"/><stop offset="1.0" stop-color="#f9e32e"/></linearGradient></defs>
<rect x="178.2" y="901.3" width="3.9" height="43.3" fill="url(#cbar)"/>
<line x1="183.3" y1="902.3" x2="187.4" y2="902.3" stroke="#7c7c7c" stroke-width="1.9"/>
<line x1="183.3" y1="910.7" x2="187.4" y2="910.7" stroke="#7c7c7c" stroke-width="1.9"/>
<line x1="183.3" y1="919.2" x2="187.4" y2="919.2" stroke="#7c7c7c" stroke-width="1.9"/>
<line x1="183.3" y1="927.6" x2="187.4" y2="927.6" stroke="#7c7c7c" stroke-width="1.9"/>
<line x1="183.3" y1="936.0" x2="187.4" y2="936.0" stroke="#7c7c7c" stroke-width="1.9"/>
<line x1="183.3" y1="944.4" x2="187.4" y2="944.4" stroke="#7c7c7c" stroke-width="1.9"/>
<rect x="188.6" y="899.7" width="24.6" height="7.8" rx="2.6" fill="#fff" stroke="#777" stroke-width="0.9"/>
<text x="200.9" y="906.1" font-size="7" text-anchor="middle">10.000</text>
<rect x="188.6" y="939.1" width="24.6" height="7.8" rx="2.6" fill="#fff" stroke="#777" stroke-width="0.9"/>
<text x="200.9" y="945.5" font-size="7" text-anchor="middle">-2.000</text>
</g>
<g id="p_st">
<text x="218" y="832.7" font-size="10.8" font-weight="bold">s</text>
<text x="340" y="821.4" font-size="8.8" text-anchor="middle">Contralateral</text>
<text x="236.6" y="827.2" font-size="6.8">(%)</text>
<text x="305.5" y="835" font-size="6.6" text-anchor="middle">Stimulus</text>
<line x1="250.5" y1="835.6" x2="250.5" y2="952.8" stroke="#333" stroke-width="0.6"/>
<line x1="250.2" y1="952.5" x2="427" y2="952.5" stroke="#333" stroke-width="0.6"/>
<line x1="248.5" y1="835.5" x2="250.5" y2="835.5" stroke="#333" stroke-width="0.6"/>
<text x="247.3" y="838.3" font-size="7.2" text-anchor="end">12</text>
<line x1="248.5" y1="850.5" x2="250.5" y2="850.5" stroke="#333" stroke-width="0.6"/>
<text x="247.3" y="852.9" font-size="7.2" text-anchor="end">10</text>
<line x1="248.5" y1="864.5" x2="250.5" y2="864.5" stroke="#333" stroke-width="0.6"/>
<text x="247.3" y="867.5" font-size="7.2" text-anchor="end">8</text>
<line x1="248.5" y1="879.5" x2="250.5" y2="879.5" stroke="#333" stroke-width="0.6"/>
<text x="247.3" y="882.2" font-size="7.2" text-anchor="end">6</text>
<line x1="248.5" y1="894.5" x2="250.5" y2="894.5" stroke="#333" stroke-width="0.6"/>
<text x="247.3" y="896.8" font-size="7.2" text-anchor="end">4</text>
<line x1="248.5" y1="908.5" x2="250.5" y2="908.5" stroke="#333" stroke-width="0.6"/>
<text x="247.3" y="911.5" font-size="7.2" text-anchor="end">2</text>
<line x1="248.5" y1="923.5" x2="250.5" y2="923.5" stroke="#333" stroke-width="0.6"/>
<text x="247.3" y="926.1" font-size="7.2" text-anchor="end">0</text>
<line x1="248.5" y1="938.5" x2="250.5" y2="938.5" stroke="#333" stroke-width="0.6"/>
<text x="247.3" y="940.7" font-size="7.2" text-anchor="end">-2</text>
<line x1="248.5" y1="952.5" x2="250.5" y2="952.5" stroke="#333" stroke-width="0.6"/>
<text x="247.3" y="955.4" font-size="7.2" text-anchor="end">-4</text>
<line x1="250.5" y1="952.5" x2="250.5" y2="954.5" stroke="#333" stroke-width="0.6"/>
<text x="249.9" y="961.5" font-size="7.2" text-anchor="middle">-5</text>
<line x1="274.5" y1="952.5" x2="274.5" y2="954.5" stroke="#333" stroke-width="0.6"/>
<text x="273.3" y="961.5" font-size="7.2" text-anchor="middle">-3</text>
<line x1="297.5" y1="952.5" x2="297.5" y2="954.5" stroke="#333" stroke-width="0.6"/>
<text x="296.7" y="961.5" font-size="7.2" text-anchor="middle">-1</text>
<line x1="309.5" y1="952.5" x2="309.5" y2="954.5" stroke="#333" stroke-width="0.6"/>
<text x="309.2" y="961.5" font-size="7.2" text-anchor="middle">0</text>
<line x1="320.5" y1="952.5" x2="320.5" y2="954.5" stroke="#333" stroke-width="0.6"/>
<text x="320.9" y="961.5" font-size="7.2" text-anchor="middle">1</text>
<line x1="344.5" y1="952.5" x2="344.5" y2="954.5" stroke="#333" stroke-width="0.6"/>
<text x="344.3" y="961.5" font-size="7.2" text-anchor="middle">3</text>
<line x1="367.5" y1="952.5" x2="367.5" y2="954.5" stroke="#333" stroke-width="0.6"/>
<text x="367.7" y="961.5" font-size="7.2" text-anchor="middle">5</text>
<line x1="391.5" y1="952.5" x2="391.5" y2="954.5" stroke="#333" stroke-width="0.6"/>
<text x="391.1" y="961.5" font-size="7.2" text-anchor="middle">7</text>
<line x1="414.5" y1="952.5" x2="414.5" y2="954.5" stroke="#333" stroke-width="0.6"/>
<text x="413.9" y="961.5" font-size="7.2" text-anchor="middle">9</text>
<line x1="426.5" y1="952.5" x2="426.5" y2="954.5" stroke="#333" stroke-width="0.6"/>
<text x="427.4" y="961.5" font-size="7.2" text-anchor="middle">10</text>
<text x="333.8" y="971.6" font-size="8.6" text-anchor="middle">Time(s)</text>
<text x="239.4" y="897.6" font-size="9.3" text-anchor="middle" transform="rotate(-90 239.4 897.6)">ΔF/F (%)</text>
<line x1="309.5" y1="836" x2="309.5" y2="952.5" stroke="#333" stroke-width="0.7" stroke-dasharray="7 3.2"/>
<path d="M250.7 922.4C252.6 922.3 258.5 922.7 262.4 922.0C266.3 921.4 271.0 920.2 274.1 918.4C277.2 916.5 278.8 912.9 281.1 911.1C283.5 909.2 285.8 907.5 288.1 907.4C290.5 907.3 292.8 909.5 295.2 910.3C297.5 911.2 300.2 912.0 302.2 912.5C304.1 913.0 305.7 913.0 306.9 913.3C308.0 913.5 308.0 916.1 309.2 914.0C310.4 911.9 312.3 906.1 313.9 900.8C315.4 895.6 317.0 888.1 318.6 882.5C320.1 876.9 321.7 871.3 323.2 867.1C324.8 863.0 326.4 859.9 327.9 857.6C329.5 855.4 331.0 854.2 332.6 853.6C334.2 853.0 335.7 853.4 337.3 854.0C338.8 854.6 340.4 855.9 342.0 857.3C343.5 858.6 345.1 860.6 346.6 862.0C348.2 863.4 349.8 864.5 351.3 865.7C352.9 866.9 354.2 868.0 356.0 869.3C357.8 870.7 359.9 872.4 361.8 873.7C363.8 875.1 365.8 876.2 367.7 877.4C369.6 878.6 371.6 879.1 373.5 881.0C375.5 883.0 377.4 885.9 379.4 889.1C381.3 892.3 383.3 896.7 385.2 900.1C387.2 903.5 389.1 907.2 391.1 909.6C393.0 912.0 395.0 913.9 396.9 914.7C398.9 915.6 400.8 915.1 402.8 914.7C404.7 914.4 406.7 913.1 408.6 912.5C410.6 911.9 412.6 910.7 414.5 911.1C416.4 911.4 418.4 913.3 420.3 914.7C422.3 916.2 425.2 919.0 426.2 919.8L426.2 931.6C425.2 930.7 422.3 927.9 420.3 926.4C418.4 925.0 416.4 922.9 414.5 922.8C412.6 922.6 410.6 924.6 408.6 925.7C406.7 926.8 404.7 928.5 402.8 929.4C400.8 930.2 398.9 931.2 396.9 930.8C395.0 930.5 393.0 929.1 391.1 927.2C389.1 925.2 387.2 922.3 385.2 919.1C383.3 915.9 381.3 911.5 379.4 908.1C377.4 904.7 375.5 901.1 373.5 898.6C371.6 896.2 369.6 895.0 367.7 893.5C365.8 892.0 363.8 891.2 361.8 889.8C359.9 888.5 357.8 886.8 356.0 885.4C354.2 884.1 352.9 883.0 351.3 881.8C349.8 880.6 348.2 879.4 346.6 878.1C345.1 876.8 343.5 875.2 342.0 874.1C340.4 873.0 338.8 871.9 337.3 871.5C335.7 871.2 334.2 871.3 332.6 871.9C331.0 872.5 329.5 873.3 327.9 875.2C326.4 877.1 324.8 879.6 323.2 883.2C321.7 886.9 320.1 892.0 318.6 897.1C317.0 902.3 315.4 909.0 313.9 914.0C312.3 919.0 310.4 924.1 309.2 927.2C308.0 930.2 308.0 930.8 306.9 932.3C305.7 933.7 304.1 935.7 302.2 935.9C300.2 936.2 297.5 934.6 295.2 933.7C292.8 932.9 290.5 931.4 288.1 930.8C285.8 930.2 283.5 930.2 281.1 930.1C278.8 930.0 277.2 930.0 274.1 930.1C271.0 930.2 266.3 931.0 262.4 930.8C258.5 930.6 252.6 929.3 250.7 929.0Z" fill="#8fcf9c" opacity="0.82"/>
<path d="M250.7 922.8C254.6 922.6 267.3 922.5 274.1 922.0C280.9 921.5 286.6 920.3 291.6 919.8C296.7 919.4 301.6 919.5 304.5 919.1C307.4 918.7 307.6 919.7 309.2 917.6C310.8 915.6 312.3 910.8 313.9 906.7C315.4 902.5 317.0 897.0 318.6 892.8C320.1 888.5 321.7 884.1 323.2 881.0C324.8 878.0 326.4 876.0 327.9 874.5C329.5 872.9 331.0 872.3 332.6 871.9C334.2 871.5 335.7 871.5 337.3 871.9C338.8 872.3 340.4 873.4 342.0 874.5C343.5 875.5 345.1 876.8 346.6 878.1C348.2 879.5 349.8 880.9 351.3 882.5C352.9 884.1 354.2 885.8 356.0 887.6C357.8 889.5 359.9 891.7 361.8 893.5C363.8 895.3 365.8 897.0 367.7 898.6C369.6 900.2 371.6 901.5 373.5 903.0C375.5 904.5 377.4 905.9 379.4 907.4C381.3 908.9 383.3 910.3 385.2 911.8C387.2 913.3 389.1 915.2 391.1 916.2C393.0 917.2 395.0 917.8 396.9 917.6C398.9 917.5 400.8 916.4 402.8 915.4C404.7 914.5 406.7 912.6 408.6 911.8C410.6 910.9 412.6 910.4 414.5 910.3C416.4 910.2 418.4 910.8 420.3 911.1C422.3 911.3 425.2 911.7 426.2 911.8L426.2 922.0C425.2 921.7 422.3 920.3 420.3 919.8C418.4 919.4 416.4 918.7 414.5 919.1C412.6 919.5 410.6 920.9 408.6 922.0C406.7 923.1 404.7 924.7 402.8 925.7C400.8 926.7 398.9 927.8 396.9 927.9C395.0 928.0 393.0 927.2 391.1 926.4C389.1 925.7 387.2 924.7 385.2 923.5C383.3 922.3 381.3 920.6 379.4 919.1C377.4 917.6 375.5 916.2 373.5 914.7C371.6 913.3 369.6 911.9 367.7 910.3C365.8 908.7 363.8 907.0 361.8 905.2C359.9 903.4 357.8 901.2 356.0 899.3C354.2 897.5 352.9 895.8 351.3 894.2C349.8 892.6 348.2 891.2 346.6 889.8C345.1 888.5 343.5 887.1 342.0 886.2C340.4 885.3 338.8 884.6 337.3 884.3C335.7 884.0 334.2 884.0 332.6 884.3C331.0 884.6 329.5 885.0 327.9 886.2C326.4 887.3 324.8 888.7 323.2 891.3C321.7 893.9 320.1 897.8 318.6 901.5C317.0 905.3 315.4 910.3 313.9 914.0C312.3 917.6 310.8 921.7 309.2 923.5C307.6 925.3 307.4 924.6 304.5 925.0C301.6 925.3 296.7 925.5 291.6 925.7C286.6 925.9 280.9 926.2 274.1 926.4C267.3 926.7 254.6 927.0 250.7 927.2Z" fill="#8aa0d8" opacity="0.82"/>
<path d="M250.7 923.1C254.6 923.0 266.3 922.8 274.1 922.4C281.9 922.0 291.6 921.1 297.5 920.6C303.4 920.0 306.5 920.8 309.2 919.1C311.9 917.4 312.3 913.5 313.9 910.3C315.4 907.2 317.0 902.9 318.6 900.1C320.1 897.2 321.7 894.8 323.2 893.1C324.8 891.4 326.4 890.4 327.9 889.8C329.5 889.3 330.8 889.8 332.6 889.8C334.4 889.8 336.5 889.5 338.4 889.8C340.4 890.1 342.3 890.9 344.3 891.7C346.2 892.4 348.2 893.5 350.1 894.2C352.1 894.9 354.1 895.1 356.0 895.7C357.9 896.3 359.9 897.2 361.8 897.9C363.8 898.6 365.8 899.2 367.7 899.7C369.6 900.2 371.6 900.4 373.5 900.8C375.5 901.2 377.4 901.9 379.4 902.3C381.3 902.6 383.3 902.8 385.2 903.0C387.2 903.2 389.1 903.2 391.1 903.7C393.0 904.2 395.0 905.1 396.9 905.9C398.9 906.8 400.8 907.9 402.8 908.9C404.7 909.8 406.7 910.9 408.6 911.8C410.6 912.6 412.6 913.6 414.5 914.0C416.4 914.4 418.4 913.9 420.3 914.0C422.3 914.1 425.2 914.6 426.2 914.7L426.2 922.0C425.2 921.9 422.3 921.4 420.3 921.3C418.4 921.2 416.4 921.4 414.5 921.3C412.6 921.2 410.6 920.9 408.6 920.6C406.7 920.2 404.7 919.8 402.8 919.1C400.8 918.4 398.9 917.0 396.9 916.2C395.0 915.3 393.0 914.7 391.1 914.0C389.1 913.3 387.2 912.3 385.2 911.8C383.3 911.3 381.3 911.4 379.4 911.1C377.4 910.7 375.5 910.1 373.5 909.6C371.6 909.0 369.6 908.5 367.7 907.8C365.8 907.0 363.8 906.0 361.8 905.2C359.9 904.4 357.9 903.6 356.0 903.0C354.1 902.4 352.1 902.1 350.1 901.5C348.2 901.0 346.2 900.2 344.3 899.7C342.3 899.2 340.4 898.8 338.4 898.6C336.5 898.4 334.4 898.6 332.6 898.6C330.8 898.6 329.5 898.2 327.9 898.6C326.4 899.0 324.8 899.7 323.2 901.2C321.7 902.6 320.1 904.9 318.6 907.4C317.0 909.9 315.4 913.5 313.9 916.2C312.3 918.9 311.9 922.0 309.2 923.5C306.5 925.0 303.4 924.5 297.5 925.0C291.6 925.4 281.9 925.8 274.1 926.1C266.3 926.4 254.6 926.7 250.7 926.8Z" fill="#f59a9a" opacity="0.82"/>
<path d="M250.7 923.1C256.6 923.0 276.1 922.8 285.8 922.4C295.6 922.0 304.5 921.7 309.2 920.6C313.9 919.5 312.3 917.5 313.9 915.8C315.4 914.1 317.0 911.8 318.6 910.3C320.1 908.8 321.7 907.6 323.2 906.7C324.8 905.7 326.4 905.1 327.9 904.8C329.5 904.5 330.8 904.7 332.6 904.8C334.4 905.0 336.5 905.3 338.4 905.6C340.4 905.8 342.3 906.2 344.3 906.3C346.2 906.4 348.2 906.1 350.1 905.9C352.1 905.8 354.1 905.6 356.0 905.6C357.9 905.5 359.9 905.5 361.8 905.6C363.8 905.6 365.8 905.4 367.7 905.9C369.6 906.5 371.6 907.9 373.5 908.9C375.5 909.8 377.4 910.8 379.4 911.8C381.3 912.8 383.3 914.1 385.2 915.1C387.2 916.1 388.2 917.2 391.1 917.6C394.0 918.1 398.9 918.0 402.8 917.6C406.7 917.3 410.6 915.9 414.5 915.4C418.4 915.0 424.2 914.8 426.2 914.7L426.2 919.1C424.2 919.2 418.4 919.4 414.5 919.8C410.6 920.3 406.7 921.7 402.8 922.0C398.9 922.4 394.0 922.3 391.1 922.0C388.2 921.7 387.2 920.9 385.2 920.2C383.3 919.5 381.3 918.6 379.4 917.6C377.4 916.7 375.5 915.7 373.5 914.7C371.6 913.7 369.6 912.5 367.7 911.8C365.8 911.1 363.8 910.9 361.8 910.7C359.9 910.5 357.9 910.6 356.0 910.7C354.1 910.8 352.1 910.9 350.1 911.1C348.2 911.2 346.2 911.5 344.3 911.4C342.3 911.4 340.4 910.9 338.4 910.7C336.5 910.4 334.4 910.1 332.6 910.0C330.8 909.8 329.5 909.8 327.9 910.0C326.4 910.1 324.8 910.3 323.2 911.1C321.7 911.8 320.1 913.3 318.6 914.7C317.0 916.1 315.4 918.0 313.9 919.5C312.3 920.9 313.9 922.6 309.2 923.5C304.5 924.4 295.6 924.3 285.8 924.6C276.1 924.9 256.6 925.2 250.7 925.3Z" fill="#aee4ec" opacity="0.82"/>
<path d="M250.7 923.1C256.6 923.1 276.1 923.4 285.8 923.1C295.6 922.9 304.5 922.5 309.2 921.7C313.9 920.9 312.3 919.5 313.9 918.4C315.4 917.2 317.0 915.8 318.6 914.7C320.1 913.6 321.7 912.3 323.2 911.6C324.8 910.9 326.4 910.6 327.9 910.5C329.5 910.5 330.8 910.7 332.6 911.3C334.4 911.8 336.5 913.0 338.4 913.8C340.4 914.7 342.3 915.8 344.3 916.4C346.2 917.0 348.2 917.4 350.1 917.5C352.1 917.6 354.1 917.3 356.0 917.1C357.9 916.9 359.9 916.6 361.8 916.4C363.8 916.2 365.8 916.0 367.7 916.0C369.6 916.1 371.6 916.4 373.5 916.8C375.5 917.1 377.4 917.8 379.4 918.2C381.3 918.7 383.3 919.2 385.2 919.5C387.2 919.7 388.2 920.0 391.1 919.8C394.0 919.7 398.9 918.9 402.8 918.4C406.7 917.8 410.6 917.0 414.5 916.5C418.4 916.1 424.2 915.9 426.2 915.8L426.2 919.5C424.2 919.6 418.4 919.9 414.5 920.2C410.6 920.5 406.7 920.9 402.8 921.3C398.9 921.7 394.0 922.6 391.1 922.8C388.2 923.0 387.2 922.6 385.2 922.4C383.3 922.2 381.3 921.9 379.4 921.5C377.4 921.0 375.5 920.4 373.5 920.0C371.6 919.6 369.6 919.3 367.7 919.3C365.8 919.2 363.8 919.4 361.8 919.6C359.9 919.8 357.9 920.2 356.0 920.4C354.1 920.5 352.1 920.8 350.1 920.7C348.2 920.6 346.2 920.2 344.3 919.6C342.3 919.0 340.4 917.9 338.4 917.1C336.5 916.2 334.4 915.0 332.6 914.5C330.8 913.9 329.5 913.7 327.9 913.8C326.4 913.8 324.8 914.2 323.2 914.9C321.7 915.5 320.1 916.6 318.6 917.6C317.0 918.7 315.4 920.3 313.9 921.3C312.3 922.3 313.9 923.2 309.2 923.9C304.5 924.5 295.6 925.1 285.8 925.3C276.1 925.6 256.6 925.3 250.7 925.3Z" fill="#dca6dc" opacity="0.82"/>
<path d="M250.7 925.7C252.6 925.8 258.5 926.7 262.4 926.4C266.3 926.2 271.0 925.2 274.1 924.2C277.2 923.3 278.8 921.4 281.1 920.6C283.5 919.7 285.8 918.9 288.1 919.1C290.5 919.4 292.8 921.2 295.2 922.0C297.5 922.9 300.2 924.1 302.2 924.2C304.1 924.4 305.7 923.4 306.9 922.8C308.0 922.2 308.0 923.1 309.2 920.6C310.4 918.0 312.3 912.5 313.9 907.4C315.4 902.3 317.0 895.2 318.6 889.8C320.1 884.5 321.7 879.1 323.2 875.2C324.8 871.3 326.4 868.5 327.9 866.4C329.5 864.3 331.0 863.4 332.6 862.7C334.2 862.1 335.7 862.3 337.3 862.7C338.8 863.2 340.4 864.5 342.0 865.7C343.5 866.9 345.1 868.7 346.6 870.1C348.2 871.4 349.8 872.5 351.3 873.7C352.9 874.9 354.2 876.0 356.0 877.4C357.8 878.7 359.9 880.4 361.8 881.8C363.8 883.1 365.8 884.1 367.7 885.4C369.6 886.8 371.6 887.6 373.5 889.8C375.5 892.0 377.4 895.3 379.4 898.6C381.3 901.9 383.3 906.3 385.2 909.6C387.2 912.9 389.1 916.2 391.1 918.4C393.0 920.6 395.0 922.2 396.9 922.8C398.9 923.4 400.8 922.6 402.8 922.0C404.7 921.4 406.7 920.0 408.6 919.1C410.6 918.3 412.6 916.7 414.5 916.9C416.4 917.2 418.4 919.1 420.3 920.6C422.3 922.0 425.2 924.8 426.2 925.7" fill="none" stroke="#2e8b46" stroke-width="0.7"/>
<path d="M250.7 925.0C254.6 924.8 267.3 924.6 274.1 924.2C280.9 923.9 286.6 923.1 291.6 922.8C296.7 922.4 301.6 922.4 304.5 922.0C307.4 921.7 307.6 922.5 309.2 920.6C310.8 918.6 312.3 914.2 313.9 910.3C315.4 906.4 317.0 901.2 318.6 897.1C320.1 893.1 321.7 889.0 323.2 886.2C324.8 883.4 326.4 881.7 327.9 880.3C329.5 879.0 331.0 878.5 332.6 878.1C334.2 877.8 335.7 877.8 337.3 878.1C338.8 878.5 340.4 879.3 342.0 880.3C343.5 881.3 345.1 882.6 346.6 884.0C348.2 885.3 349.8 886.8 351.3 888.4C352.9 890.0 354.2 891.7 356.0 893.5C357.8 895.3 359.9 897.5 361.8 899.3C363.8 901.2 365.8 902.9 367.7 904.5C369.6 906.1 371.6 907.4 373.5 908.9C375.5 910.3 377.4 911.8 379.4 913.3C381.3 914.7 383.3 916.3 385.2 917.6C387.2 919.0 389.1 920.4 391.1 921.3C393.0 922.2 395.0 922.9 396.9 922.8C398.9 922.6 400.8 921.5 402.8 920.6C404.7 919.6 406.7 917.9 408.6 916.9C410.6 915.9 412.6 915.0 414.5 914.7C416.4 914.5 418.4 915.1 420.3 915.4C422.3 915.8 425.2 916.7 426.2 916.9" fill="none" stroke="#2b4fa8" stroke-width="0.7"/>
<path d="M250.7 925.0C254.6 924.8 266.3 924.6 274.1 924.2C281.9 923.9 291.6 923.3 297.5 922.8C303.4 922.3 306.5 922.9 309.2 921.3C311.9 919.7 312.3 916.2 313.9 913.3C315.4 910.3 317.0 906.4 318.6 903.7C320.1 901.1 321.7 898.7 323.2 897.1C324.8 895.6 326.4 894.7 327.9 894.2C329.5 893.7 330.8 894.2 332.6 894.2C334.4 894.2 336.5 894.0 338.4 894.2C340.4 894.5 342.3 895.1 344.3 895.7C346.2 896.3 348.2 897.3 350.1 897.9C352.1 898.5 354.1 898.7 356.0 899.3C357.9 900.0 359.9 900.8 361.8 901.5C363.8 902.3 365.8 903.1 367.7 903.7C369.6 904.3 371.6 904.7 373.5 905.2C375.5 905.7 377.4 906.3 379.4 906.7C381.3 907.0 383.3 907.0 385.2 907.4C387.2 907.8 389.1 908.2 391.1 908.9C393.0 909.5 395.0 910.2 396.9 911.1C398.9 911.9 400.8 913.1 402.8 914.0C404.7 914.8 406.7 915.6 408.6 916.2C410.6 916.8 412.6 917.4 414.5 917.6C416.4 917.9 418.4 917.5 420.3 917.6C422.3 917.8 425.2 918.3 426.2 918.4" fill="none" stroke="#d93a3a" stroke-width="0.7"/>
<path d="M250.7 924.2C256.6 924.1 276.1 923.9 285.8 923.5C295.6 923.1 304.5 923.0 309.2 922.0C313.9 921.1 312.3 919.2 313.9 917.6C315.4 916.1 317.0 914.0 318.6 912.5C320.1 911.1 321.7 909.7 323.2 908.9C324.8 908.0 326.4 907.6 327.9 907.4C329.5 907.2 330.8 907.3 332.6 907.4C334.4 907.5 336.5 907.9 338.4 908.1C340.4 908.4 342.3 908.8 344.3 908.9C346.2 908.9 348.2 908.6 350.1 908.5C352.1 908.4 354.1 908.2 356.0 908.1C357.9 908.1 359.9 908.0 361.8 908.1C363.8 908.2 365.8 908.2 367.7 908.9C369.6 909.5 371.6 910.8 373.5 911.8C375.5 912.8 377.4 913.7 379.4 914.7C381.3 915.7 383.3 916.8 385.2 917.6C387.2 918.5 388.2 919.5 391.1 919.8C394.0 920.2 398.9 920.2 402.8 919.8C406.7 919.5 410.6 918.1 414.5 917.6C418.4 917.2 424.2 917.0 426.2 916.9" fill="none" stroke="#3fb8d0" stroke-width="0.7"/>
<path d="M250.7 924.2C256.6 924.2 276.1 924.5 285.8 924.2C295.6 924.0 304.5 923.5 309.2 922.8C313.9 922.0 312.3 920.9 313.9 919.8C315.4 918.7 317.0 917.3 318.6 916.2C320.1 915.1 321.7 913.9 323.2 913.3C324.8 912.6 326.4 912.2 327.9 912.2C329.5 912.1 330.8 912.3 332.6 912.9C334.4 913.4 336.5 914.6 338.4 915.4C340.4 916.3 342.3 917.4 344.3 918.0C346.2 918.6 348.2 919.0 350.1 919.1C352.1 919.2 354.1 918.9 356.0 918.7C357.9 918.6 359.9 918.2 361.8 918.0C363.8 917.8 365.8 917.6 367.7 917.6C369.6 917.7 371.6 918.0 373.5 918.4C375.5 918.7 377.4 919.4 379.4 919.8C381.3 920.3 383.3 920.7 385.2 920.9C387.2 921.2 388.2 921.5 391.1 921.3C394.0 921.1 398.9 920.3 402.8 919.8C406.7 919.4 410.6 918.7 414.5 918.4C418.4 918.0 424.2 917.8 426.2 917.6" fill="none" stroke="#b03ab0" stroke-width="0.7"/>
<rect x="428" y="844.4" width="29.5" height="4.4" fill="#f4a0a0"/>
<text x="462.5" y="849.0" font-size="6.7">MP-0d</text>
<rect x="428" y="850.7" width="29.5" height="4.4" fill="#9aaedb"/>
<text x="462.5" y="855.3" font-size="6.7">MP-3d</text>
<rect x="428" y="857.0" width="29.5" height="4.4" fill="#9dd0ab"/>
<text x="462.5" y="861.6" font-size="6.7">MP-7d</text>
<rect x="428" y="863.3" width="29.5" height="4.4" fill="#c8e8ee"/>
<text x="462.5" y="867.9" font-size="6.7">MP-14d</text>
<rect x="428" y="869.6" width="29.5" height="4.4" fill="#dab6da"/>
<text x="462.5" y="874.2" font-size="6.7">MP-28d</text>
<text x="509" y="833.4" font-size="10.8" font-weight="bold">t</text>
<line x1="552.5" y1="850" x2="552.5" y2="960.35" stroke="#000" stroke-width="0.7"/>
<line x1="552.15" y1="960.5" x2="660" y2="960.5" stroke="#000" stroke-width="0.7"/>
<line x1="547.7" y1="850.5" x2="552.5" y2="850.5" stroke="#000" stroke-width="0.7"/>
<text x="545.9" y="853" font-size="8.6" text-anchor="end">10</text>
<line x1="547.7" y1="872.5" x2="552.5" y2="872.5" stroke="#000" stroke-width="0.7"/>
<text x="545.9" y="875" font-size="8.6" text-anchor="end">8</text>
<line x1="547.7" y1="894.5" x2="552.5" y2="894.5" stroke="#000" stroke-width="0.7"/>
<text x="545.9" y="897" font-size="8.6" text-anchor="end">6</text>
<line x1="547.7" y1="916.5" x2="552.5" y2="916.5" stroke="#000" stroke-width="0.7"/>
<text x="545.9" y="919" font-size="8.6" text-anchor="end">4</text>
<line x1="547.7" y1="938.5" x2="552.5" y2="938.5" stroke="#000" stroke-width="0.7"/>
<text x="545.9" y="941" font-size="8.6" text-anchor="end">2</text>
<line x1="547.7" y1="960.5" x2="552.5" y2="960.5" stroke="#000" stroke-width="0.7"/>
<text x="545.9" y="963" font-size="8.6" text-anchor="end">0</text>
<rect x="559.5" y="923.6" width="13.1" height="36.4" fill="#d97272" stroke="#111" stroke-width="0.7"/>
<line x1="566.5" y1="960" x2="566.5" y2="964.4" stroke="#000" stroke-width="0.7"/>
<text x="566.0" y="975.4" font-size="10.5" text-anchor="middle">0d</text>
<line x1="566.5" y1="922.4" x2="566.5" y2="923.6" stroke="#333" stroke-width="0.6"/>
<line x1="563.2" y1="922.5" x2="568.8" y2="922.5" stroke="#333" stroke-width="0.6"/>
<circle cx="566.0" cy="917.1" r="2" fill="#5f5f5f"/>
<circle cx="561.8" cy="920.4" r="2" fill="#5f5f5f"/>
<circle cx="566.0" cy="921.5" r="2" fill="#5f5f5f"/>
<circle cx="570.2" cy="922.6" r="2" fill="#5f5f5f"/>
<circle cx="557.8" cy="922.6" r="2" fill="#5f5f5f"/>
<circle cx="574.2" cy="923.7" r="2" fill="#5f5f5f"/>
<rect x="580.5" y="900.5" width="13.1" height="59.5" fill="#b5b1dc" stroke="#111" stroke-width="0.7"/>
<line x1="586.5" y1="960" x2="586.5" y2="964.4" stroke="#000" stroke-width="0.7"/>
<text x="587.0" y="975.4" font-size="10.5" text-anchor="middle">3d</text>
<line x1="586.5" y1="894.5" x2="586.5" y2="900.5" stroke="#333" stroke-width="0.6"/>
<line x1="584.2" y1="894.5" x2="589.8" y2="894.5" stroke="#333" stroke-width="0.6"/>
<circle cx="587.0" cy="880.8" r="2" fill="#5f5f5f"/>
<circle cx="587.0" cy="887.4" r="2" fill="#5f5f5f"/>
<circle cx="587.0" cy="894.0" r="2" fill="#5f5f5f"/>
<circle cx="587.0" cy="907.2" r="2" fill="#5f5f5f"/>
<circle cx="587.0" cy="912.7" r="2" fill="#5f5f5f"/>
<circle cx="587.0" cy="922.6" r="2" fill="#5f5f5f"/>
<rect x="601.2" y="880" width="13.1" height="80" fill="#7fbf9f" stroke="#111" stroke-width="0.7"/>
<line x1="607.5" y1="960" x2="607.5" y2="964.4" stroke="#000" stroke-width="0.7"/>
<text x="607.8" y="975.4" font-size="10.5" text-anchor="middle">7d</text>
<line x1="607.5" y1="872" x2="607.5" y2="880" stroke="#333" stroke-width="0.6"/>
<line x1="605.0" y1="872.5" x2="610.5999999999999" y2="872.5" stroke="#333" stroke-width="0.6"/>
<circle cx="607.8" cy="857.7" r="2" fill="#5f5f5f"/>
<circle cx="607.8" cy="862.1" r="2" fill="#5f5f5f"/>
<circle cx="607.8" cy="869.8" r="2" fill="#5f5f5f"/>
<circle cx="607.8" cy="890.7" r="2" fill="#5f5f5f"/>
<circle cx="603.6" cy="894.0" r="2" fill="#5f5f5f"/>
<circle cx="607.8" cy="900.6" r="2" fill="#5f5f5f"/>
<rect x="621.8" y="943" width="13.1" height="17" fill="#cde9f1" stroke="#111" stroke-width="0.7"/>
<line x1="628.5" y1="960" x2="628.5" y2="964.4" stroke="#000" stroke-width="0.7"/>
<text x="628.3" y="975.4" font-size="10.5" text-anchor="middle">14d</text>
<line x1="628.5" y1="940.4" x2="628.5" y2="943" stroke="#333" stroke-width="0.6"/>
<line x1="625.5" y1="940.5" x2="631.0999999999999" y2="940.5" stroke="#333" stroke-width="0.6"/>
<circle cx="628.3" cy="936.9" r="2" fill="#5f5f5f"/>
<circle cx="624.1" cy="936.9" r="2" fill="#5f5f5f"/>
<circle cx="628.3" cy="941.3" r="2" fill="#5f5f5f"/>
<circle cx="624.1" cy="944.6" r="2" fill="#5f5f5f"/>
<circle cx="628.3" cy="945.7" r="2" fill="#5f5f5f"/>
<circle cx="632.5" cy="947.9" r="2" fill="#5f5f5f"/>
<rect x="642.8" y="944.3" width="13.1" height="15.7" fill="#e2bade" stroke="#111" stroke-width="0.7"/>
<line x1="649.5" y1="960" x2="649.5" y2="964.4" stroke="#000" stroke-width="0.7"/>
<text x="649.3" y="975.4" font-size="10.5" text-anchor="middle">28d</text>
<line x1="649.5" y1="942.1" x2="649.5" y2="944.3" stroke="#333" stroke-width="0.6"/>
<line x1="646.5" y1="942.5" x2="652.0999999999999" y2="942.5" stroke="#333" stroke-width="0.6"/>
<circle cx="649.3" cy="936.9" r="2" fill="#5f5f5f"/>
<circle cx="649.3" cy="942.4" r="2" fill="#5f5f5f"/>
<circle cx="645.1" cy="943.5" r="2" fill="#5f5f5f"/>
<circle cx="649.3" cy="946.8" r="2" fill="#5f5f5f"/>
<circle cx="645.1" cy="949.0" r="2" fill="#5f5f5f"/>
<circle cx="653.5" cy="950.1" r="2" fill="#5f5f5f"/>
<text x="532.4" y="905.5" font-size="8.6" text-anchor="middle" transform="rotate(-90 532.4 905.5)">ΔF/F (%)</text>
<line x1="565.9" y1="824.5" x2="649" y2="824.5" stroke="#000" stroke-width="0.7"/>
<text x="607.5" y="825.5" font-size="10.2" text-anchor="middle" font-weight="bold">*</text>
<line x1="565.9" y1="832.5" x2="627.5" y2="832.5" stroke="#000" stroke-width="0.7"/>
<text x="596.7" y="833.4" font-size="10.2" text-anchor="middle" font-weight="bold">*</text>
<line x1="565.9" y1="841.5" x2="607" y2="841.5" stroke="#000" stroke-width="0.7"/>
<text x="586.5" y="842.5" font-size="10.2" text-anchor="middle" font-weight="bold">****</text>
<line x1="606.4" y1="846.5" x2="627.5" y2="846.5" stroke="#000" stroke-width="0.7"/>
<text x="617.0" y="848.0" font-size="10.2" text-anchor="middle" font-weight="bold">****</text>
<line x1="589.2" y1="855.5" x2="605.3" y2="855.5" stroke="#000" stroke-width="0.7"/>
<text x="597.2" y="856.6" font-size="10.2" text-anchor="middle" font-weight="bold">*</text>
<line x1="609.8" y1="856.5" x2="649" y2="856.5" stroke="#000" stroke-width="0.7"/>
<text x="629.4" y="858.1" font-size="10.2" text-anchor="middle" font-weight="bold">****</text>
<line x1="565.9" y1="875.5" x2="584.3" y2="875.5" stroke="#000" stroke-width="0.7"/>
<text x="575.1" y="876.7" font-size="10.2" text-anchor="middle" font-weight="bold">*</text>
</g>
</svg>
</body></html>
